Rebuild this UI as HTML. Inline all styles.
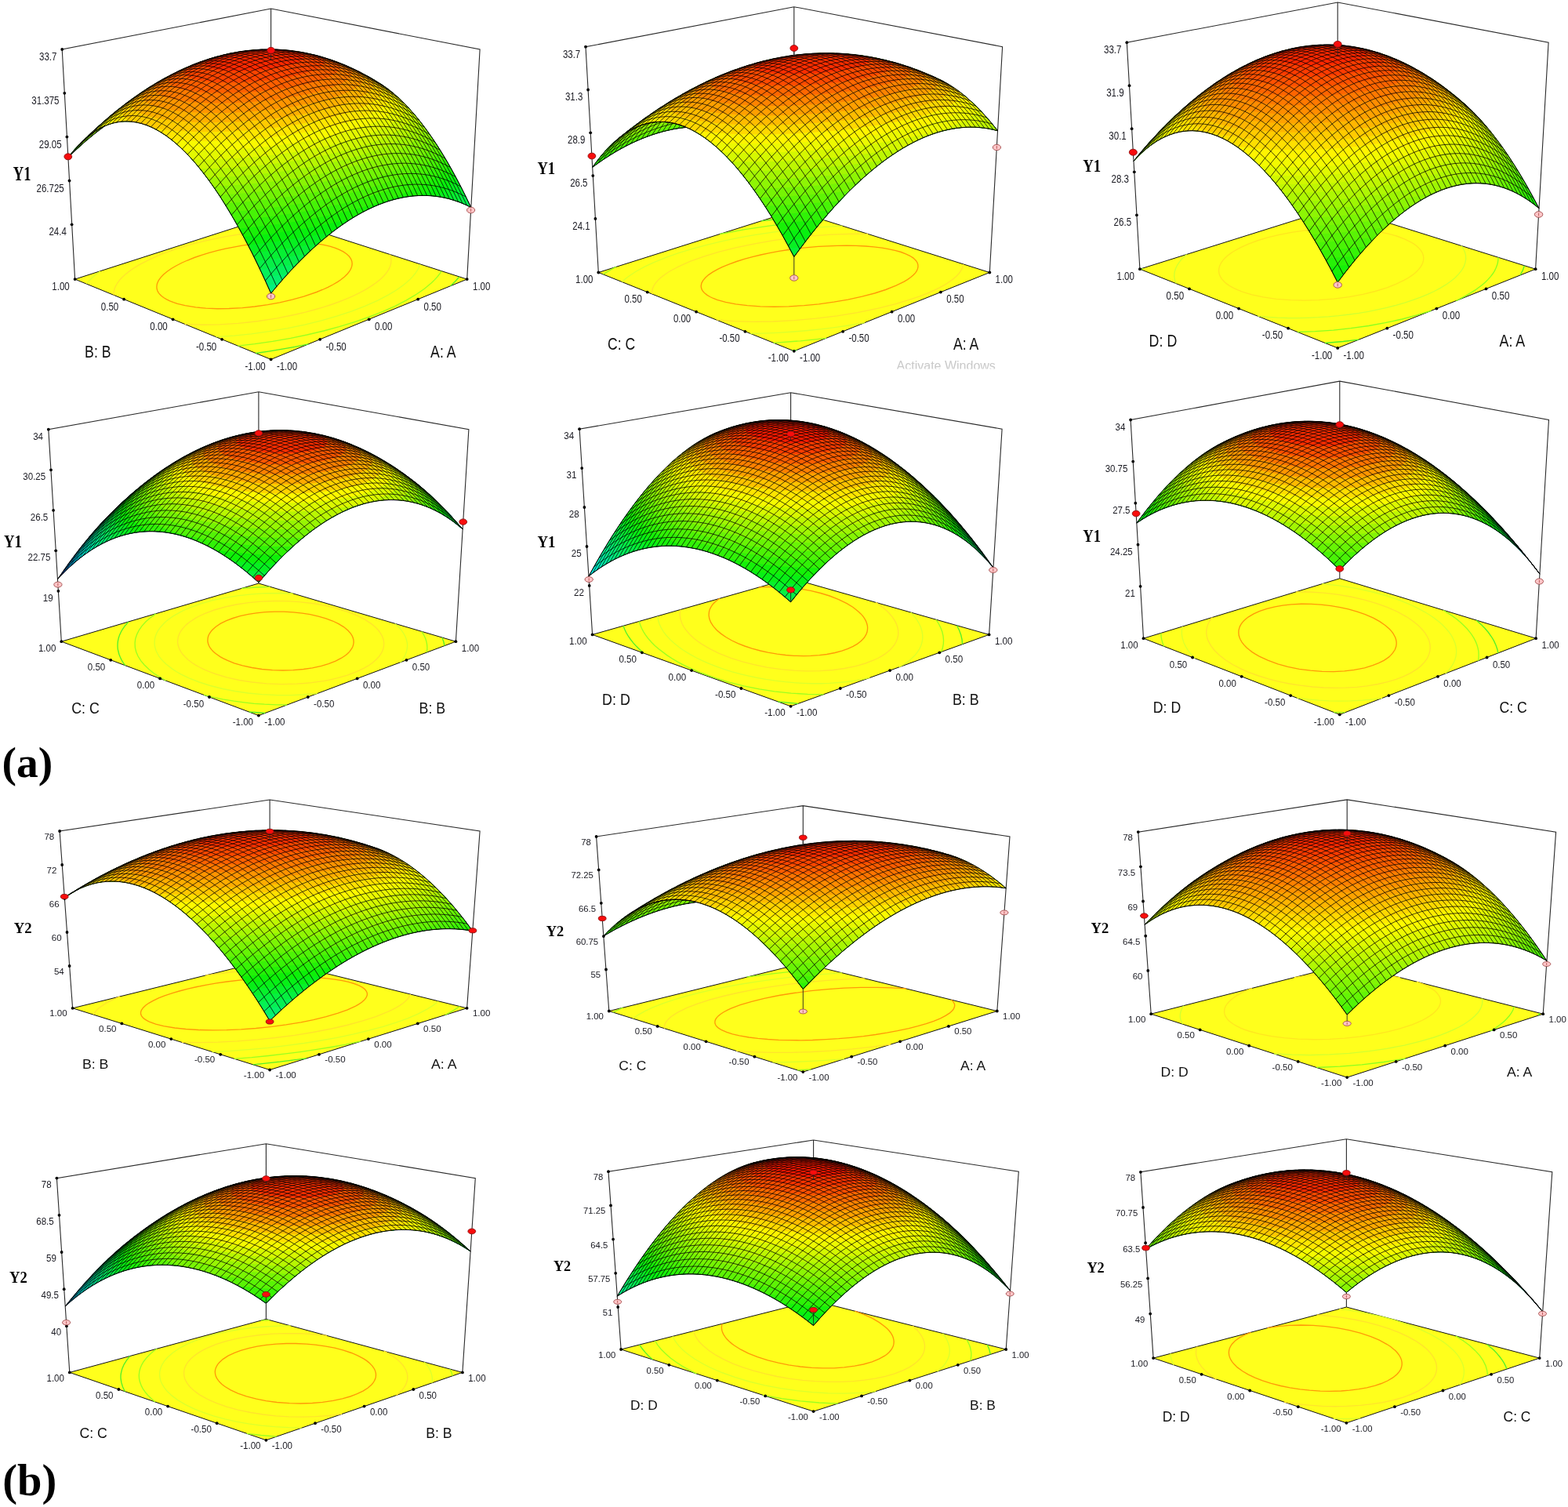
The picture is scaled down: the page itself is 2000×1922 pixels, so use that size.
<!DOCTYPE html>
<html lang="en"><head><meta charset="utf-8"><title>Response surface plots</title>
<style>html,body{margin:0;padding:0;background:#fff}body{width:2000px;height:1922px;overflow:hidden}svg{display:block}</style>
</head><body>
<svg width="2000" height="1922" viewBox="0 0 2000 1922">
<rect width="2000" height="1922" fill="#fff"/>
<g>
<path d="M95.6 356.1l250 102.3 250.1-102.3-250.1-80.4z" fill="#ffff1c" stroke="#111" stroke-width="1"/>
<path d="M387.4 378.2l16.5-5.7 7.4-3 7-3.2 6.4-3.3 5.8-3.4 4.2-2.9 4.7-3.8 4-3.9 2.6-3.3 1.7-3.1 1.1-3.2 0.4-3-0.4-3.2-1.4-3.4-2.2-3-3.3-3.1-4.2-2.8-5-2.5-5.6-2.2-6.3-2-8.9-2-7.9-1.4-8.6-1.1-9.5-0.8-10.4-0.4-10.3-0.1-10.9 0.3-10.1 0.5-11.8 1-13.2 1.5-10.4 1.5-21.1 4-10.7 2.5-10.2 2.7-9.7 3-9.2 3.1-8.7 3.5-6.9 3-7.7 4-6 3.5-5.4 3.7-4.8 4.1-3.6 3.8-2.8 4.1-1.6 3.7-0.5 3.3 0.1 2.5 0.7 2.8 1.5 2.8 1.8 2.3 2 1.9 3 2.3 3.6 2.1 4.1 2 4.6 1.8 5.1 1.7 9.6 2.3 13.6 2.2 13 1.2 14.8 0.6 14.6-0.2 17.2-0.9 15.6-1.6 16.7-2.3 15.3-2.8 16-3.7 14.6-4" fill="none" stroke="#ff9a08" stroke-width="1.35"/>
<path d="M235.7 413.4l22 0.8 22.6-0.4 23.6-1.5 13-1.3 12.8-1.5 23.8-3.7 23.9-4.8 12.2-2.9 11.5-3.1 10.9-3.2 10.4-3.3 9.8-3.5 9.2-3.7 8.7-3.7 8.2-3.9 7.5-4.1 6.9-4.2 6.3-4.3 5.4-4.2 4.4-4.1 3.5-4 3.1-4.5 2.1-4.3 1.1-3.9 0.4-4.3-0.5-3.6-1.4-3.8M399.9 293.2l-21.7-0.3-22.3 0.7-22.5 1.8-22.3 2.6-23 3.7-22.6 4.6-20.5 5.1-19.3 5.8-18.1 6.5-8.5 3.5-8.2 3.7-7.9 3.9-6.2 3.4-5.9 3.6-5.5 3.8-4.4 3.5-4.5 4-3.6 3.7-3.2 4.2-2.2 3.9-1.5 3.6-0.8 4 0 3.9" fill="none" stroke="#ffe42c" stroke-width="1.35"/>
<path d="M275.6 429.7l23.3-1.6 21.7-2.3 22.8-3.1 23.5-4.1 21.8-4.5 21.3-5.3 19.7-5.6 19.1-6.4 17.4-6.7 15.8-7 14.2-7.4 5.8-3.5 6.6-4.3 5-3.6 4.7-3.7 4.4-4 3.8-4 3.1-3.8 2.8-4.1 1.8-3.5 1.6-4.3M365.6 282.2l-27.8 1.9-28.1 3.2M128.1 345.7l-5.2 3.9-5.1 4.4-4.3 4.3-3.3 3.8" fill="none" stroke="#dcff2c" stroke-width="1.35"/>
<path d="M303.3 441.1l21.6-2.5 22.9-3.3 22.9-4 21-4.3 21.2-5 19.8-5.3 19.6-6 17.8-6.2 17.4-6.8 16-7.1 14.5-7.4 11.8-7 11.6-7.9 9-7.5 3.9-3.9 3.6-3.9 3.1-4 2.1-3.3" fill="none" stroke="#9cff20" stroke-width="1.35"/>
<path d="M574.5 364.8l6.5-6.3 4.8-5.5M326.2 450.5l16.5-2.4 17.6-2.9 15.8-2.8 17.4-3.6" fill="none" stroke="#54f02a" stroke-width="1.35"/>
<path d="M95.6 356.1l-16.4-293.1 266.4-52 266.5 52-16.4 293.1M345.6 11l0 264.7" fill="none" stroke="#2a2a2a" stroke-width="1.1"/>

<path d="M345.6 374.1l16.8-19.7 16.7-18 16.4-16.2 17.4-15.4 16-12.6 16.8-11.7 16.6-9.8 16.3-7.9 16-6 15.7-4.2 15.3-2.5 16.1-0.7 14.6 1 15.3 2.9 14.8 4.7 14.4 6.5-13-26.5-13.1-24.3-13.2-22.2-13.2-19.9-13.2-17.7-13.3-15.6-13.2-13.3-13.2-11.1-7.6-5.4-9.2-5.8-20.6-11.3-20.7-9.5-20.9-7.5-19.2-5.3-21-3.9-19.3-1.9-21-0.3-14.5 0.9-14.6 1.8-14.5 2.6-15.2 3.7-15.4 4.7-14.4 5.3-14.4 6.2-14.4 7-14.4 7.8-14.4 8.7-14.6 9.7-14.6 10.6-14.7 11.5-14 11.9-14 12.6-15.4 14.9 6.8-6.3 6.5-5.3 7.5-5.1 6.7-3.7 7.8-3.4 6.9-2.2 7.1-1.4 7.1-0.6 7.2 0.1 7.3 0.9 7.4 1.7 7.5 2.5 7.5 3.3 7.7 4.2 7.7 4.9 7.8 5.8 7.9 6.7 7.9 7.4 14.9 16.1 16.2 20.6 15.3 22.1 16.5 27.1 15.6 28.2 16.8 33.5zM101.9 183.4l7.4-7 8-6.3 8.2-5.3 8-4-11.9 9-11.5 9.5-11.6 10.4-11.6 11.1 7.8-9.7z" fill="#04f080"/>
<path d="M351.9 362.4l4.1-0.6 17.1-19.2 17.7-17.9 16.3-15 17.2-14.1 14.7-10.7 15.6-9.9 14.3-7.7 15.1-6.7 14.8-5.1 15.6-3.8 14.3-1.9 14.9-0.4 14.6 1.3 14.3 2.9 13.9 4.4 14.4 6.5-13-26.5-13.1-24.3-13.2-22.2-14.3-21.5-13.2-17.5-14.4-16.5-13.2-13-14.2-11.5-8.8-5.9-13.2-7.8-12.2-6.4-12.8-6.1-11.7-4.9-12.3-4.5-11.2-3.5-12.8-3.3-11.3-2.3-12.9-2-11.5-1.2-12.7-0.7-12.6 0.1-12.9 0.7-11.6 1.3-12.9 2-11.6 2.5-12.6 3.2-12.9 4-11.9 4.4-12.1 4.9-12.8 6-12.8 6.5-11.6 6.6-12.2 7.5-12.6 8.4-23.6 17.5-25 21-24.7 23.4 6.8-6.3 6.5-5.3 6.6-4.5 6.7-3.9 6.8-3.1 6.9-2.3 7-1.7 6-0.8 7.2-0.2 7.3 0.6 7.3 1.4 6.4 1.8 7.5 2.9 7.6 3.6 7.7 4.5 6.6 4.5 13.5 10.9 12.4 12.1 13.8 15.5 12.8 16.5 9.4 13.3 9.4 14.3 9.5 15.5 9.5 16.6 19.2 36.4 18.3 38.7zM101.9 183.4l7.4-7 8-6.3 8.2-5.3 8-4-11.9 9-11.5 9.5-11.6 10.4-11.6 11.1 7.8-9.7z" fill="#05f06d"/>
<path d="M362.8 350l4.2-0.7 16.8-17.7 16.3-15.7 16.2-14 16-12.2 14.5-9.9 14.4-8.5 14.2-7 13.9-5.7 14.8-4.6 14.4-3 14.2-1.5 13.9 0 13.6 1.5 14.2 3.1 12.9 4.3 13.5 6.1-14.1-28.6-14.2-26.1-14.3-23.5-14.3-20.9-14.3-18.3-14.4-15.7-14.3-13.1-7.7-6-7.6-5.3-11.7-7.1-11.1-6.1-12.2-6-11.4-5.1-11.5-4.5-11.7-4-11.8-3.4-12-2.8-12.2-2.2-11.8-1.6-11.3-0.9-12.9-0.4-11.3 0.2-13 0.9-12.7 1.6-11.5 2-11.7 2.7-12.4 3.3-11.3 3.7-12.8 4.7-11.4 4.8-12.6 5.9-12.1 6.3-11.8 6.8-12.7 7.8-11.6 7.8-12 8.7-12.6 9.6-23.7 20-24.4 23.2 5.9-5.5 6.4-5.4 6.6-4.6 5.7-3.4 6.8-3.4 5.9-2.2 6.9-2 6.1-1 7.1-0.6 6.2 0.2 7.3 0.9 6.3 1.4 7.5 2.4 6.5 2.7 6.5 3.3 6.6 3.9 7.7 5.3 7.9 6.2 7.8 6.9 8 7.9 8 8.6 8.1 9.5 16.3 21.6 16.5 24.9 16.6 28.3 16.8 31.6 16 33.3zM101.9 183.4l7.4-7 8-6.3 8.2-5.3 8-4-11.9 9-11.5 9.5-11.6 10.4-11.6 11.1 7.8-9.7z" fill="#05f05a"/>
<path d="M374.5 337.3l4.4-0.7 14.3-14.2 15.1-13.7 14.9-12.2 14.7-10.8 12.3-8 13.2-7.6 12-5.8 12.9-5.3 11.6-3.8 12.5-3.1 12.2-1.9 12.1-0.8 13.8 0.4 14.4 2 14.1 3.7 13.4 5 4.4-4.4-15.6-30.5-15.3-26.9-15.4-23.9-15.4-20.9-15.5-17.9-7.7-7.8-7.7-7.1-14.2-11.2-17.7-10.9-11.1-6-11.2-5.5-11.2-4.9-11.1-4.4-11.7-4-11.8-3.4-11.9-2.8-11.2-2.1-11.3-1.5-11.3-1-11.3-0.5-11.3 0.1-11.3 0.6-11.3 1.2-12.9 1.9-11.3 2.3-11.3 2.8-11.2 3.3-11.3 3.9-12.5 4.8-22.7 10.6-12.5 6.6-11.4 6.7-23.7 15.5-23.2 17.5-23.7 20.2-23.2 22 11.4-10.1 6.6-4.8 5.7-3.5 6.7-3.4 5.9-2.4 5.9-1.8 6.1-1.2 6.1-0.7 6.1-0.2 6.2 0.5 6.3 1 6.4 1.6 6.4 2.2 6.5 2.8 6.5 3.4 8.8 5.5 7.8 5.7 7.8 6.5 7.9 7.3 8 8.2 8.1 9 16.2 20.6 16.4 23.9 16.6 27.4 16.8 30.7 16 32.3zM101.9 183.4l7.4-7 8-6.3 8.2-5.3 8-4-11.9 9-11.5 9.5-11.6 10.4-11.6 11.1 7.8-9.7z" fill="#06f047"/>
<path d="M387.3 324.3l4.8-0.8 13.8-12.8 12.7-10.6 12.5-9.6 13.5-9.3 10-6.2 11-6 10.9-5.2 10.7-4.4 11.6-3.9 12.5-3.2 12.3-2 12.1-0.9 11.9 0.2 11.6 1.2 11.4 2.3 11.6 3.4 5.6-4.8 4.6-4.6-16.6-31.5-16.5-27.5-16.5-24.2-7.7-10-8.9-10.6-7.7-8.5-7.7-7.7-7.7-7-7.7-6.2-7.6-5.4-9.4-5.9-22-12-20.7-9.4-11.3-4.2-11.2-3.6-21-5.4-11.1-2.1-11.3-1.5-11.3-1-11.3-0.5-11.3 0.1-11.3 0.6-11.3 1.2-11.3 1.6-21.6 4.7-21.9 6.7-22.6 9-22.2 10.9-22.2 12.9-22.1 14.9-22 16.8-21.8 18.6-23.2 22 10.5-9.4 11.3-7.9 5.7-3.1 5.9-2.7 5.9-2 5.9-1.6 6.1-1 6.1-0.4 11.4 0.8 6.3 1.2 6.4 1.8 11.8 4.8 8.8 4.8 7.7 5.1 7.8 5.9 7.9 6.8 7.9 7.5 8 8.5 16.2 19.3 16.3 22.8 16.6 26.1 16.7 29.5 17.1 33.4 29.8-3.8zM101.9 183.4l7.4-7 8-6.3 8.2-5.3 8-4-11.9 9-11.5 9.5-11.6 10.4-11.6 11.1 7.8-9.7z" fill="#07f033"/>
<path d="M401.6 310.9l5.4-1.1 10.5-8.8 11.4-8.8 11.2-8 11.2-7.2 16.5-9.1 17.3-7.7 10.6-3.8 11.5-3.1 10.3-2.1 11.2-1.4 10-0.5 10.8 0.4 10.7 1.3 10.1 2 9.5-7.2 8-7.8-16.4-30.1-8.8-14.6-8.8-13.7-7.7-11.1-8.8-11.8-8.9-10.9-8.8-9.8-7.7-7.8-7.7-7.1-7.7-6.3-8.7-6.3-10.8-6.7-12.4-7-11.2-5.7-11.4-5.2-20.8-8-20.8-6.1-21-4.1-21.1-2.3-20.8-0.4-21 1.4-21 3.2-11.2 2.5-11.3 3.1-20.9 7-22.4 9.5-22.1 11.3-20.9 12.6-20.5 14.2-21.9 17-21.2 18.4-20.7 19.7 10.5-9.4 10.3-7.3 5.8-3.3 5.8-2.7 10.8-3.5 11.2-1.7 11.3 0.2 11.5 2.1 11.8 4.2 8.7 4.2 7.7 4.6 7.7 5.4 7.9 6.3 7.9 7.1 7.9 8 8.1 8.7 8 9.7 16.4 21.8 16.4 25.1 16.7 28.6 16.7 31.8 41.8-5.4zM101.9 183.4l7.4-7 8-6.3 8.2-5.3 8-4-11.9 9-11.5 9.5-11.6 10.4-11.6 11.1 7.8-9.7z" fill="#07f020"/>
<path d="M418.4 296.7l6.2-1.3 20-14.2 18.8-11.1 14.1-6.8 15-5.8 15.7-4.5 16.4-2.8 16.1-0.9 14.9 1 8.6-5.4 7.5-5.3 6.1-5.2 5.2-5.5-9.4-17.1-8.8-14.9-8.8-13.9-8.8-13-8.8-11.9-8.8-11-8.9-10-8.8-8.9-8.8-8.1-8.8-7-7.6-5.4-11-6.7-12.9-7.2-12.2-6-11.8-5.2-12.7-5-19.3-6.1-20.7-4.7-19.6-2.8-20.7-1.1-19.6 0.6-21 2.4-19.3 3.9-20.9 5.8-19.3 7.1-20.8 9.3-20.7 11-20.6 12.7-20.5 14.4-20.4 16-20.2 17.6-20.1 19.2 9.5-8.7 10.4-7.4 10.5-5.7 9.9-3.6 11-2.3 10.2-0.3 11.5 1.4 10.6 3 8.7 3.6 7.6 4 7.7 4.9 7.8 5.7 7.8 6.5 7.9 7.3 8 8.2 8.1 9 16.2 20.6 16.4 23.9 16.6 27.4 17.5 32 26.9-3.1 25.2-3.6 25.2-4.2zM101.9 183.4l7.4-7 8-6.3 8.2-5.3 8-4-11.9 9-11.5 9.5-11.6 10.4-11.6 11.1 7.8-9.7z" fill="#08f00d"/>
<path d="M439.7 281.1l8.3-2.1 11-6.5 12.1-6.2 10.7-4.8 11.8-4.4 10.5-3.1 10.3-2.3 10.2-1.5 10.6-0.8 14.4-7.4 11.8-7.4 9.7-7.6 7-7.2-8.9-15.6-8.8-14.4-8.8-13.4-9.9-13.9-8.8-11.4-8.9-10.3-8.8-9.4-9.9-9.4-8.8-7.2-8.7-6.3-12.3-7.6-13.7-7.6-13.4-6.5-12-5.3-13.6-5-12.7-4.1-17.9-4.4-19.2-3.2-19.4-1.7-19.3-0.1-19.4 1.6-19.4 3-19.3 4.7-19.5 6.2-19 7.5-19.4 9.3-20.5 11.4-19 12.2-18.9 13.5-18.8 15-18.6 16.3-20.1 19.2 11.4-10.1 6.6-4.8 5.7-3.5 6.7-3.4 5.9-2.4 5.9-1.8 6.1-1.2 7.1-0.8 6.1 0 6.3 0.5 6.3 1.1 6.3 1.8 6.5 2.3 6.4 2.8 6.6 3.5 13.2 8.8 13.5 11.3 13.7 13.7 12.6 14.8 14 18.4 14.1 21 14.2 23.4 13.2 23.7 32.5-3.6 33.6-4.9 31.4-5.6zM101.9 183.4l7.4-7 8-6.3 8.2-5.3 8-4-11.9 9-11.5 9.5-11.6 10.4-11.6 11.1 7.8-9.7z" fill="#19f107"/>
<path d="M480.2 259.1l16.6-5.4 15.8-5.9 14.4-6 12.9-6.3 10.7-6.1 9.3-6.3 7.3-6.2 5.7-6.3-9.2-15.5-9.9-15.5-8.8-12.6-9.9-13.1-8.9-10.6-9.9-10.8-8.8-8.5-9.9-8.4-9.8-7.1-13.9-8.6-14.3-7.7-14.4-6.9-12.7-5.3-14.5-5.1-13.8-4.1-13.5-3.1-17.7-2.9-17.8-1.6-19-0.2-18.1 1.2-17.7 2.5-17.7 3.8-17.7 5.1-18.7 6.8-18.2 8-17.6 9-17.4 10.2-19 12.5-17.3 12.8-18.7 15-17.2 15.2-18.5 17.8 11.4-10.1 6.6-4.8 5.7-3.5 5.8-3 5.8-2.4 6-1.9 6-1.4 6-0.8 6.2-0.2 6.2 0.4 6.3 0.9 6.3 1.5 6.4 2.1 11.9 5.4 13.2 8.2 12.3 9.7 13.6 12.9 12.6 14 13.9 17.6 12.9 18.4 14.2 22.4 13.4 23.2 23.3-2.4 23.3-2.8 22.9-3.4 23.1-3.9 23-4.6 21.5-4.8 20-5.2zM101.9 183.4l7.4-7 8-6.3 8.2-5.3 8-4-11.9 9-11.5 9.5-11.6 10.4-11.6 11.1 7.8-9.7z" fill="#2ff207"/>
<path d="M473 250.3l18.3-5.8 15.9-5.8 14.4-6 12.9-6.2 10.7-6 9.3-6.3 7.6-6.5 5.4-6.4-9.3-15-8.8-13.1-8.8-12.2-9.9-12.6-8.9-10.1-8.8-9.1-8.8-8.1-9.9-8-9.4-6.5-14.7-8.8-14-7.3-14.2-6.6-14.3-5.7-12.9-4.3-14.4-4.1-14.5-3-17.7-2.6-17.8-1.2-17.7 0.1-17.8 1.5-17.7 2.7-17.8 4.1-17.7 5.3-17.6 6.6-18.7 8.4-17.8 9.3-17.7 10.6-17.4 11.6-17.3 12.8-17.2 14-17.1 15.1-18.5 17.8 11.4-10.1 11.3-7.8 5.8-3 5.8-2.6 6-1.9 6-1.5 6-0.9 6.1-0.3 11.5 0.9 6.3 1.4 6.4 1.9 11.8 5 13.2 7.8 12.3 9.3 12.4 11.3 12.6 13.4 12.7 15.5 12.8 17.6 13 19.7 13.3 22.3 26.2-2.4 22.6-2.7 21.6-3 23.3-3.9 21.7-4.1 20.4-4.5 20.3-5zM101.9 183.4l7.4-7 8-6.3 8.2-5.3 8-4-11.9 9-11.5 9.5-11.6 10.4-11.6 11.1 7.8-9.7z" fill="#46f306"/>
<path d="M468.7 240.5l18-5.6 15.9-5.7 14.3-6 12.9-6.1 11.2-6.4 8.9-6.3 7.1-6.4 4.8-6-9.1-14-8.8-12.6-8.8-11.5-8.9-10.6-8.8-9.6-8.8-8.7-8.8-7.6-9.8-7.5-13-8.1-14.2-8-12.8-6.3-14.3-6.3-13.8-5.1-13.5-4.1-14.5-3.6-13.9-2.6-16.7-2.1-17.7-0.8-17.8 0.5-17.5 1.8-16.5 2.8-17.6 4.3-17.7 5.5-17.6 6.9-17.6 8-17.5 9.4-17.5 10.5-16.8 11.4-17.9 13.3-17.1 14-17.1 15.3-17 16.3 10.5-9.4 11.3-7.9 5.7-3.1 5.9-2.7 10.8-3.4 6.1-1 6.1-0.5 11.4 0.5 11.6 2.5 11.8 4.5 12 6.5 12.2 8.6 12.3 10.5 12.6 12.7 12.6 14.8 12.8 16.8 13 18.9 11.8 19 22.9-1.8 25-2.7 20.5-2.7 23.3-3.6 22.2-4 22-4.7 20.4-4.9zM101.9 183.4l7.4-7 8-6.3 8.2-5.3 8-4-11.9 9-11.5 9.5-11.6 10.4-11.6 11.1 7.8-9.7z" fill="#5cf305"/>
<path d="M467.8 229.6l17.2-5.4 15.6-5.7 14-5.9 11.7-5.7 10.2-6 8.5-6.1 6.4-6 4.4-6.1-8.6-12.7-8.8-11.9-7.7-9.7-8.9-10.1-8.8-9.1-8.8-8.1-8.8-7.2-8.7-6.2-13.8-8.3-13.9-7.5-14.1-6.7-14.3-5.9-14.2-4.9-14.4-4.2-14.5-3.1-14.5-2.3-16.1-1.5-17.8-0.4-16.1 0.8-17.8 2.2-16.1 3.1-17.7 4.6-16.1 5.4-17.6 7-17.6 8.4-16 8.6-17.4 10.6-17.3 11.9-16.3 12.2-16.6 13.6-17.1 15.3-17 16.3 10.5-9.4 10.3-7.3 10.6-5.6 10.8-3.7 11.1-1.9 11.3 0.1 11.6 2 11.7 3.9 12 5.9 12.1 8 12.4 10.1 11.3 10.9 12.6 14 11.6 14.5 11.7 16.2 12.3 18.9 23.8-1.7 24.6-2.5 23.8-3 22.7-3.4 21.9-3.9 23.4-4.8 21.6-5.1zM101.9 183.4l7.4-7 8-6.3 8.2-5.3 8-4-17.7 13.7-20.7 18.3-4.6 3.4z" fill="#73f405"/>
<path d="M448.7 223.8l19.8-5.6 17.6-5.8 15.8-6 14.8-6.7 12-6.7 9.5-6.6 7-6.8 2.5-3.3 1.7-3.1-7.7-10.7-8.8-11.4-8.9-10.3-8.8-9.4-8.8-8.4-8.8-7.4-8.7-6.4-8.7-5.5-12.8-7.4-14.2-7.3-14-6.3-13.1-5.1-13-4.3-14.3-3.8-14.5-3-13.5-2-17.2-1.4-16.1-0.1-17.4 1-16.5 2.2-16.4 3.3-17.4 4.6-16.6 5.6-17.1 7-16 7.7-17.5 9.5-16.5 10.2-16.7 11.4-16.3 12.2-16.6 13.6-17.1 15.3-17 16.3 9.5-8.7 10.4-7.4 10.5-5.7 10.9-3.9 11-2.1 10.3-0.2 11.5 1.6 10.6 3.2 11.9 5.4 11 6.7 11.1 8.3 11.3 10.1 11.4 11.8 11.5 13.5 11.7 15.2 12.4 18 22.4-1.5 23.6-2 22.6-2.6 21.2-2.9 19.9-3.2 21.4-4 18.7-4zM101.9 183.4l7.4-7 8-6.3 8.2-5.3 8-4-13 9.9-13.3 11.1-6.5 4.3-5.1 4z" fill="#89f504"/>
<path d="M450.8 212l19-5.6 16.9-5.8 15.2-6 12.5-6 10.1-5.9 8.8-6.6 5.9-6.3 2-3.1 1.4-3-8.6-11.2-8.9-10.5-8.8-9.5-8.8-8.5-8.8-7.5-8.7-6.6-9.8-6.2-11.1-6.5-12.7-6.6-12.8-6-13-5.3-14.2-4.9-12.8-3.7-12.9-3-13.8-2.4-13.6-1.6-16.1-0.8-16.2 0.3-16.1 1.4-16.1 2.4-16.1 3.5-16.1 4.6-16.8 6-16.9 7.1-16 7.8-16.4 9.1-16.9 10.6-15.8 10.9-15.7 11.9-17.2 14.2-15.6 13.9-16.8 16.2 9.4-8.6 9.4-6.8 10.6-5.9 9.8-3.7 11-2.4 10.2-0.6 10.4 1.1 10.6 2.7 10.8 4.3 10.9 6 11.1 7.7 10.1 8.4 11.3 10.9 11.5 12.6 11.5 14.4 10.9 14.8 22.4-1.2 25.9-2 22-2.3 24.3-3.2 21.3-3.4 22.8-4.2 20.9-4.6zM101.9 183.4l8.2-7.6 7.2-5.7 8.2-5.3 8-4-12.8 9.7-12.3 7.6-7.1 5.9z" fill="#a0f603"/>
<path d="M439.2 203.7l19.9-5.4 18.5-6 15.5-5.9 13.6-6.3 11.3-6.5 8.6-6.6 3.3-3.4 2.6-3.3 1.6-3 1.1-3.3-7.9-9.5-8.8-9.7-8.8-8.7-8.8-7.8-7.7-6-7.6-5.3-11.7-7.1-12.1-6.6-11.8-5.8-12.7-5.6-12.9-4.9-12.8-4.1-12.8-3.4-12.7-2.7-12.2-1.9-12.4-1.3-15.9-0.7-15.8 0.4-14.9 1.3-16.1 2.4-16.1 3.5-16.1 4.6-16.1 5.7-16 6.7-16 7.7-15.9 8.7-15.9 9.7-15.8 10.7-15.7 11.7-17.1 13.9-17.2 15.2-13.4 13 9.1-7.5 9.5-6.1 9.7-4.7 8.8-2.9 10.1-1.8 9.2-0.2 9.4 1 9.5 2.4 9.7 3.6 9.8 5 9.9 6.4 10.1 7.8 10.1 9.1 10.3 10.5 10.3 11.9 11 14 21.1-0.8 24.2-1.6 21.1-1.9 23.7-2.8 22.1-3.2 21.9-3.7 20.4-4.1z" fill="#b6f702"/>
<path d="M431.2 194.3l21.2-5.6 18.6-5.8 16.4-6.2 13.4-6.2 11.1-6.6 8.2-6.6 3-3.3 2.1-3.1 1.4-3.4 0.5-3.3-8.6-9.4-7.7-7.7-7.7-7-8.8-7-7.6-5.4-11-6.7-11.1-6.2-11.2-5.7-11.4-5.2-11.4-4.6-11.7-4.1-11.8-3.6-11.6-2.9-11.2-2.2-11.3-1.7-12.9-1.3-14.5-0.6-16.2 0.4-15.8 1.4-14.8 2.3-16.1 3.5-15.8 4.5-14.8 5.2-16 6.5-16 7.7-15.9 8.6-15.9 9.6-15.8 10.6-15.7 11.7-17.2 13.8-20.1 17.7-5 5.8 7.8-5.4 8.6-4.8 8.8-3.6 7.9-2.2 9.2-1.2 8.2-0.1 9.4 1.2 8.4 2.2 9.7 3.6 8.7 4.4 8.8 5.5 8.9 6.5 9 7.7 9.1 8.7 9.1 9.8 9.1 10.8 21.1-0.5 23.2-1.2 22.9-1.8 22.2-2.4 22.4-2.9 23.8-3.8 20.7-4z" fill="#cdf802"/>
<path d="M426 184.1l21.7-5.6 18.5-5.8 16.1-6.1 13.7-6.6 10.5-6.5 4-3.3 3.1-3.2 2.4-3.2 1.6-3.3 0.6-3.1-0.2-3.2-7.2-7.1-7.7-7-7.7-6.2-7.6-5.4-10.8-6.7-11.1-6.3-11.1-5.7-11.2-5.2-21.7-8.5-21.5-6.3-21-4.1-11.2-1.5-11.3-0.9-14.6-0.4-15.7 0.6-14.9 1.5-14.6 2.3-14.4 3.2-16.1 4.6-14.5 5.1-16 6.5-16 7.7-15.9 8.6-15.9 9.6-15.8 10.6-19.4 14.5-19.8 16.3-7.2 6.8-2.1 2.9-1.5 2.9 7.4-4.1 6.8-3.1 7.9-2.5 7.1-1.4 8.1-0.7 7.2 0.3 7.4 1 7.4 1.8 8.5 3.1 7.6 3.5 7.7 4.4 7.7 5.2 7.8 6 7.9 6.9 8 7.7 8.4 9 21-0.1 24.5-1 21.8-1.4 24.9-2.3 24.2-3 21.4-3.2 22.3-4.1z" fill="#e3f901"/>
<path d="M424 173.1l20.8-5.5 18-5.8 15.6-6.1 13-6.6 9.1-6.3 3.6-3.4 2.5-3.3 1.6-3.1 0.7-3.1-0.2-2.8-1.2-3.1-7.7-6.6-7.6-5.9-16.5-10.5-20.9-11.2-21.3-9.4-20.4-7.1-20.8-5.3-19.3-3.2-20.9-1.8-14.6 0-14.5 0.7-14.5 1.7-14.6 2.6-14.5 3.4-14.4 4.2-14.5 5.2-14.6 6-17.4 8.4-15.9 8.7-16.5 10.2-16.7 11.4-16.3 12.2-14.5 11.9-2.8 3.1-2 2.8-1.2 3-0.5 2.8 12.5-4.4 6.1-1.2 6.1-0.7 6.1-0.2 6.2 0.5 6.3 1 6.4 1.6 6.4 2.2 6.5 2.8 13.1 7.4 13.3 9.8 12.8 11.6 23.9 0.3 22.9-0.4 26-1.4 23.9-2 23.6-2.7 24-3.4 23.6-4.2z" fill="#f9fa00"/>
<path d="M429.9 159.8l17.8-5 14.9-5.3 12.9-5.5 10.3-5.7 7.4-5.8 2.6-2.8 1.8-2.8 1-2.6 0.3-2.9-0.5-2.7-1.3-2.4-2.7-3.1-6.6-4.7-20.3-12.1-19.7-9.9-20.1-8.3-19.3-6.2-19.3-4.6-19.3-3-19.4-1.4-14.2 0-13.2 0.7-12.9 1.5-14.6 2.4-14.5 3.4-14.1 4-13.7 4.7-13.8 5.6-16.1 7.4-15.9 8.5-15.9 9.4-15.8 10.4-15.2 11-11.3 9-2.5 2.6-2 3-1.1 2.5-0.4 2.8 0.4 2.6 1 2.4 10.1-1.8 10.3-0.2 10.4 1.4 10.6 3 8.7 3.6 7.6 4 8.8 5.6 8.5 6.4 22.4 1.1 22.7 0.2 23.3-0.6 27.1-1.6 24.6-2.2 25.5-3.2 23.2-3.8 22.3-4.4z" fill="#ffe600"/>
<path d="M421.4 150.1l16.4-4.5 15.2-5.1 12.2-5.1 9.9-5.2 7.4-5.5 2.5-2.6 1.8-2.5 1-2.6 0.4-2.3-0.4-2.7-1-2.2-2.3-2.9-3.5-2.7-19.2-10.9-19.7-9.4-19.3-7.4-18.6-5.7-18.1-4-17.9-2.6-17.8-1.2-12.9 0-12.9 0.6-12.9 1.4-12.9 2-12.9 2.8-12.9 3.4-12.9 4.1-14.4 5.4-14.4 6.2-16 7.9-14.8 8.3-15.4 9.6-14.2 9.6-9.9 7.6-2.8 2.9-1.7 2.4-1 2.4-0.4 2.4 0.6 3.3 2 3.3 3.3 3 4.5 2.8 1.3 0.7 7.6 1 7.4 1.8 6.4 2.2 7.4 3.3 23.2 3 28.4 1.7 20.3 0.2 23.1-0.5 23.3-1.3 21.5-1.9 23.8-2.8 22-3.4 21.3-4z" fill="#ffcb00"/>
<path d="M403.2 142.3l17.7-4.2 15.4-4.5 13.4-4.9 11.2-5.2 8.3-5.2 2.8-2.4 2.4-2.7 1.5-2.6 0.7-2.4-0.1-2.5-0.8-2.2-2.4-3.1-4.2-3.2-21.3-10.7-21.7-8.9-11.3-3.7-11.2-3.2-20.6-4.4-19.7-2.6-21-0.8-20.9 1-21 2.8-21 4.7-20.9 6.4-22.4 8.9-14.3 6.8-12.8 6.8-12.8 7.4-13.8 8.7-6.9 4.8-4.1 3.7-2.5 3.5-1.1 3.6 0.3 2.3 0.8 2.1 3.6 4 6.4 3.9 8.9 3.4 11.2 2.9 13.6 2.3 16 1.8 16.6 1.1 19 0.5 19.3-0.2 19.3-0.7 22.3-1.6 21.2-2.1 20-2.7 18.2-2.9z" fill="#ffb000"/>
<path d="M395 131.9l16.9-3.9 14.4-4.1 12.6-4.4 9.8-4.4 7.9-4.8 5-4.5 1.5-2.4 0.7-2.3 0-2.4-0.7-2-2.4-3.1-3.7-2.7-17.8-8.2-21.2-7.8-20.8-5.8-17.8-3.4-19.3-2.2-19.4-0.6-19.3 1-19.4 2.5-19.3 4.1-19.3 5.7-20.9 7.8-12.8 5.7-12.8 6.3-12.8 7-12.8 7.7-4 2.9-3.1 3-1.9 3.1-0.6 2.8 0.2 2 0.9 1.9 1.3 1.8 2.4 2 6 3.4 8.2 3 10.2 2.5 12.3 2 14.4 1.6 14.7 0.9 16.8 0.5 16.7-0.1 19-0.7 18.9-1.3 18.4-1.8 18.6-2.3 16.9-2.7z" fill="#ff9500"/>
<path d="M398.8 118.5l12.7-3.3 10.5-3.3 10-3.9 7.2-3.6 5.4-3.5 3.8-4.1 1.4-3.6-0.2-1.9-0.6-1.6-2.2-2.6-3.2-2.3-13-5.5-20.5-6.9-19.4-4.7-16.8-2.8-17-1.6-17.8-0.4-17.7 1-17.8 2.3-17.7 3.6-19 5.2-18 6.4-20.8 9-21.7 11.3-3.9 2.7-3.1 2.9-1.7 2.7-0.7 2.7 0.3 1.9 1 1.9 3.5 3.3 5.6 2.9 8.5 2.8 9.4 2.1 12.8 1.9 13.3 1.2 15.4 0.8 15.5 0.1 17.8-0.4 17.7-0.9 17.4-1.5 16.9-1.9 16.4-2.4 15.8-2.8z" fill="#ff7a00"/>
<path d="M382.8 109.1l12.4-2.9 10.1-2.9 8.9-3.1 8.4-3.6 5.9-3.6 3.4-3.2 1.6-3.3 0.1-1.5-0.5-1.6-1.2-1.6-2.3-2-6.9-3.4-19.1-5.7-19.3-4.2-14.5-2.1-16.2-1.3-14.5-0.2-16.1 0.8-16.2 2-16.3 3-16.8 4.3-16.8 5.4-17.6 6.9-16.1 7.6-3.7 2.4-2.9 2.6-1.6 2.3-0.6 2.2 0.7 2.8 2.8 3 4.5 2.5 7.2 2.5 8 1.9 9.5 1.5 11.1 1.2 12.9 0.7 27 0.1 29.9-1.7 28.7-3.2z" fill="#ff5f00"/>
<path d="M364.3 99.2l21.2-4.7 9.6-2.9 7.4-2.8 6-3.1 3.8-3.1 1.8-2.9-0.3-2.7-1.2-1.7-2-1.5-6.5-2.9-12-2.9-14.3-2.6-13.2-1.6-14.2-0.8-12.9 0-14.2 0.7-13.2 1.5-14.6 2.4-14.5 3.4-14.4 4.1-15.6 5.5-8.2 3.6-5.7 4-1.6 2.1-0.5 1.7 0.5 2.3 2.3 2.5 3.1 1.8 5.1 1.9 12.9 2.7 17.7 1.7 20.9 0.4 22.1-0.8 21.5-1.9z" fill="#ff4400"/>
<path d="M355.1 86.1l15.1-3.4 10.4-3.6 3.5-1.8 3-2.2 1.4-2.1-0.1-1.9-2.1-2.2-4.3-2-6-1.5-7.7-1.2-11.2-0.9-11.3-0.4-11.5 0.1-11 0.7-11.6 1.3-11.3 1.7-21 4.7-7.1 2.4-5.9 2.7-3.2 2.4-1 1.3-0.4 1.4 0.3 1.4 1.4 1.6 2.5 1.4 3.4 1.3 9.3 1.9 12.7 1.2 14.5 0.3 16.3-0.6 17.4-1.7z" fill="#ff2900"/>
<path d="M345.6 374.1c-44.9-101.6-89.3-168.3-130.7-198.8c-41-30.5-78.9-25.9-112.1 7.2M101.7 183.6c-5 5.1-10 10.9-14.8 17.2M345.6 374.1c96.7-118.1 184.3-146.6 255.2-109.6M352.9 365.4c-44.4-100.1-88.4-166.2-129.4-196.8c-40.6-30.6-78.3-26.9-111.5 4.9M106.6 179c-4.3 4.5-8.6 9.6-12.8 15M338.4 358c96.9-117.4 184.7-144.9 255.9-107M360 357.1c-43.7-98.7-87.2-164.1-127.9-194.9c-40.2-30.7-77.7-27.8-110.8 2.6M111.4 174.7c-3.6 4-7.1 8.3-10.6 12.8M331.2 342.5c97-116.6 185-143.3 256.6-104.5M367.2 349.1c-43.2-97.3-86.2-162-126.5-192.9c-39.9-30.8-77.1-28.8-110.2 .3M115.2 172.1c-2.5 2.9-5 6-7.4 9.2M324 327.7c97.1-116 185.4-141.8 257.2-102.1M374.3 341.4c-42.6-95.9-85.1-159.9-125-190.9c-39.5-30.9-76.5-29.7-109.5-2M120 168.7c-1.8 2.2-3.5 4.4-5.3 6.7M316.8 313.4c97.2-115.2 185.7-140.2 257.9-99.7M381.4 334c-42.1-94.4-84-157.8-123.6-188.9c-39.1-31-75.8-30.6-108.8-4.2M124.8 165.7c-1.1 1.3-2.1 2.7-3.2 4.1M309.6 299.7c97.3-114.5 186.1-138.6 258.5-97.4M388.5 327c-41.1-92-82.1-154.3-120.8-185.9c-38.8-31.7-75.4-32.9-108.2-8.3M302.4 286.7c97.5-113.8 186.4-137.2 259.1-95.2M395.5 320.2c-40.5-90.5-81-152.2-119.3-183.8c-38.4-31.8-74.7-33.8-107.4-10.5M295.3 274.2c97.5-113 186.7-135.6 259.6-92.9M402.5 313.8c-40-89.1-79.9-150.1-117.9-181.8c-38-31.9-73.9-34.6-106.6-12.6M288.1 262.4c97.7-112.3 187-134.2 260.2-90.8M409.4 307.7c-39.4-87.7-78.8-148-116.3-179.8c-37.6-31.9-73.3-35.4-105.8-14.7M281.1 251.2c97.6-111.6 187.1-132.8 260.6-88.7M416.3 301.9c-38.8-86.3-77.7-145.9-114.9-177.7c-37.1-32-72.5-36.2-104.8-16.8M274 240.6c97.7-110.9 187.4-131.4 261.1-86.7M423.2 296.5c-38.3-85-76.7-143.9-113.4-175.7c-36.7-32-71.8-37-103.9-18.8M267 230.7c97.7-110.3 187.5-130.1 261.4-84.9M430 291.3c-37.7-83.6-75.6-141.8-111.9-173.7c-35.8-31.6-70.1-37.6-101.7-21.3M260 221.3c97.7-109.5 187.7-128.7 261.8-83M436.8 286.5c-37.2-82.3-74.5-139.8-110.4-171.7c-35.4-31.6-69.4-38.3-100.8-23.2M253 212.6c97.8-108.8 187.9-127.4 262.2-81.2M443.5 281.9c-36.6-80.8-73.4-137.7-108.8-169.5c-35-31.7-68.7-39-99.8-25.1M246.1 204.5c97.8-108.2 188-126.1 262.5-79.5M450.2 277.7c-36-79.5-72.3-135.6-107.3-167.5c-34.6-31.6-67.8-39.6-98.8-26.9M239.2 197.1c97.8-107.6 188.1-125 262.8-77.9M456.8 273.8c-35-77.1-70.2-132.2-104.4-164.2c-34.1-32.2-67.1-41.4-97.8-30.4M232.4 190.2c97.7-106.8 188.1-123.7 263-76.3M463.4 270.1c-34.4-75.7-69.1-130-102.8-162c-33.7-32.2-66.3-42-96.8-32.1M225.6 184c97.7-106.2 188.1-122.6 263.3-74.8M470 266.8c-33.9-74.4-68.1-128-101.3-160c-33.3-32-65.5-42.5-95.7-33.6M218.9 178.3c95.6-103.3 184.5-120.8 258.9-76.1M476.5 263.8c-33.4-73.1-67-126-99.8-157.9c-32.3-31.5-63.7-42.7-93.3-35.5M212.2 173.3c91.2-97.9 176.4-118.1 248.6-80.5M482.9 261c-32.8-71.7-65.9-123.9-98.2-155.7c-31.8-31.5-62.8-43.2-92.1-37.1M205.6 168.9c87.1-93.1 169-115.3 239.3-83.7M489.3 258.6c-63.6-139.5-128.3-202.2-186.3-192.3M199 165.1c82.7-87.9 160.8-112.1 228.7-86.9M495.7 256.4c-62.5-136.8-126.3-199.4-183.6-191.5M192.5 161.9c77.7-82.1 151.5-108.2 216.5-89.8M502 254.6c-61-133.2-123.2-195.7-179.6-190.8M186 159.3c73.3-77 143.1-104.4 205.4-91.5M508.2 253c-59.8-130.5-121-192.9-176.7-189.8M179.6 157.3c68.8-71.9 134.7-100.3 194.1-92.4M514.4 251.7c-58.3-126.9-118-189.1-172.6-188.8M173.3 155.9c63.8-66.5 125.2-95.5 181.3-92.7M520.6 250.7c-57.2-124.3-115.9-186.3-169.8-187.7M167 155.1c58.9-61.1 115.8-90.3 168.3-92.1M526.7 250c-55.7-120.8-112.8-182.5-165.7-186.4M160.8 154.8c54-55.7 106.3-84.8 155.2-90.4M532.7 249.5c-54.6-118.2-110.7-179.5-162.8-185.1M154.7 155.1c49.1-50.4 96.8-78.9 141.8-87.6M538.7 249.3c-53.1-114.7-107.6-175.6-158.6-183.5M148.7 156c44.1-45.2 87.2-72.7 128.2-83.9M544.6 249.4c-51.5-111.3-104.6-171.7-154.4-181.8M142.7 157.5c38.7-39.6 76.8-65.5 113.2-78.8M550.5 249.8c-50.5-108.8-102.5-168.8-151.5-180.3M136.7 159.4c33.5-33.9 66.4-57.8 98.2-72.1M556.3 250.4c-49-105.4-99.4-164.7-147.3-178.3M130.9 162c28.1-28.5 55.8-49.8 82.9-64.3M562.1 251.3c-47.5-102-96.5-160.7-143.1-176.1M125.1 165c22.8-23 45.4-41.3 67.6-55.1M567.8 252.4c-46.5-99.6-94.4-157.7-140.1-174.2M119.4 168.6c17.1-17.1 34-31.7 50.8-43.7M573.4 253.8c-45-96.2-91.3-153.6-135.8-171.8M113.8 172.8c11.8-11.9 23.6-22.5 35.2-31.9M579 255.5c-43.5-93-88.3-149.5-131.6-169.2M108.3 177.4c6.1-6.2 12.2-12 18.3-17.4M584.6 257.4c-42.1-89.7-85.4-145.3-127.4-166.4M590 259.5c-40.5-86.4-82.4-141.1-123.1-163.4M97.4 188.1c4.7-4.6 9.4-9.1 14-13.4M595.5 261.9c-39.2-83.2-79.5-136.9-118.9-160.3M92.1 194.2c9.8-9.7 19.6-18.6 29.3-26.6M600.8 264.5c-37.7-80-76.5-132.6-114.6-157M86.9 200.8c15.3-15.2 30.6-28.3 45.7-39.4" fill="none" stroke="#000" stroke-width="0.92" stroke-opacity="0.82"/>
<path d="M345.6 374.1l8.5-10.1 8.3-9.6 8.4-9.2 8.3-8.8 8.2-8.3 8.2-7.9 8.1-7.4 9.3-8 8-6.5 8-6.1 7.9-5.7 8.9-6 7.8-4.8 8.8-5 7.7-3.9 8.6-4 7.5-3 8.5-3 7.4-2.2 8.3-2 7.2-1.4 8.1-1.1 8.1-0.6 8-0.1 6.8 0.2 7.8 0.8 7.7 1.2 7.6 1.7 7.4 2.2 7.4 2.5 7.3 3 7.1 3.5-6.5-13.5-6.5-13-6.6-12.4-6.5-11.9-6.6-11.4-6.6-10.8-6.6-10.2-6.6-9.7-6.6-9.1-6.6-8.6-6.7-8.1-6.6-7.5-6.6-6.9-6.6-6.4-6.6-5.8-6.6-5.3-7.6-5.4-9.2-5.8-9.5-5.5-11.1-5.8-10.2-4.9-10.5-4.6-9.6-3.7-11.3-3.8-9.6-2.9-9.6-2.4-11.1-2.3-9.9-1.6-9.7-1.2-9.6-0.7-11.1-0.4-9.9 0.1-14.5 0.9-14.6 1.8-14.5 2.6-15.2 3.7-15.4 4.7-14.4 5.3-14.4 6.2-14.4 7-14.4 7.8-14.4 8.7-14.6 9.7-14.6 10.6-14.7 11.5-14 11.9-14 12.6-15.4 14.9 6.8-6.3 6.5-5.3 7.5-5.1 6.7-3.7 7.8-3.4 6.9-2.2 7.1-1.4 7.1-0.6 7.2 0.1 7.3 0.9 7.4 1.7 7.5 2.5 7.5 3.3 7.7 4.2 7.7 4.9 7.8 5.8 7.9 6.7 7.9 7.4 8 8.3 6.9 7.8 8.1 9.9 8.1 10.7 8.2 11.5 7.1 10.6 8.2 13.2 8.3 13.9 8.4 14.8 7.2 13.4 8.4 16.3 8.4 17.2 8.4 18zM101.9 183.4l7.4-7 8-6.3 4.4-2.9 3.8-2.4 3.9-2.1 4.1-1.9-11.9 9-11.5 9.5-11.6 10.4-11.6 11.1 7.8-9.7z" fill="none" stroke="#000" stroke-width="1.0" stroke-opacity="0.88"/>
<g fill="#000"><circle cx="79.2" cy="63.0" r="1.9"/><circle cx="82.3" cy="118.8" r="1.9"/><circle cx="85.4" cy="174.6" r="1.9"/><circle cx="88.5" cy="230.5" r="1.9"/><circle cx="91.6" cy="286.3" r="1.9"/><circle cx="95.6" cy="356.1" r="1.9"/><circle cx="158.1" cy="381.7" r="1.9"/><circle cx="220.6" cy="407.3" r="1.9"/><circle cx="283.1" cy="432.8" r="1.9"/><circle cx="345.6" cy="458.4" r="1.9"/><circle cx="408.2" cy="432.8" r="1.9"/><circle cx="470.7" cy="407.3" r="1.9"/><circle cx="533.2" cy="381.7" r="1.9"/><circle cx="595.7" cy="356.1" r="1.9"/></g>
<g font-family="'Liberation Sans',Arial,sans-serif" font-size="14.2" fill="#1a1a22"><text transform="translate(72.4 77.1) scale(0.810 1)" text-anchor="end">33.7</text><text transform="translate(75.5 132.9) scale(0.810 1)" text-anchor="end">31.375</text><text transform="translate(78.6 188.7) scale(0.810 1)" text-anchor="end">29.05</text><text transform="translate(81.7 244.6) scale(0.810 1)" text-anchor="end">26.725</text><text transform="translate(84.8 300.4) scale(0.810 1)" text-anchor="end">24.4</text><text transform="translate(88.7 370.0) scale(0.810 1)" text-anchor="end">1.00</text><text transform="translate(151.2 395.5) scale(0.810 1)" text-anchor="end">0.50</text><text transform="translate(213.7 421.1) scale(0.810 1)" text-anchor="end">0.00</text><text transform="translate(276.2 446.6) scale(0.810 1)" text-anchor="end">-0.50</text><text transform="translate(338.7 472.2) scale(0.810 1)" text-anchor="end">-1.00</text><text transform="translate(352.9 472.2) scale(0.810 1)">-1.00</text><text transform="translate(415.5 446.6) scale(0.810 1)">-0.50</text><text transform="translate(478.0 421.1) scale(0.810 1)">0.00</text><text transform="translate(540.5 395.5) scale(0.810 1)">0.50</text><text transform="translate(603.0 370.0) scale(0.810 1)">1.00</text></g>
<g font-family="'Liberation Sans',Arial,sans-serif" font-size="21.82" fill="#111"><text transform="translate(108.1 456.4) scale(0.810 1)">B: B</text><text transform="translate(549.1 456.4) scale(0.810 1)">A: A</text></g>
<text transform="translate(16.8 229.6) scale(0.760 1)" font-family="'Liberation Serif','Times New Roman',serif" font-weight="bold" font-size="24.47" fill="#000">Y1</text>
<ellipse cx="86.8" cy="199.8" rx="4.9" ry="4.0" fill="#f80d0d" stroke="#8c1010" stroke-width="0.9"/>
<ellipse cx="600.6" cy="268.0" rx="5.1" ry="3.8" fill="#ffc6c8" stroke="#a04848" stroke-width="0.9"/><path d="M600.6 266.1v3.8" stroke="#b05050" stroke-width="0.9"/>
<path d="M345.6 378.0L345.6 374.1" stroke="#222" stroke-width="0.9"/>
<ellipse cx="345.6" cy="378.0" rx="5.1" ry="3.8" fill="#ffc6c8" stroke="#a04848" stroke-width="0.9"/><path d="M345.6 376.1v3.8" stroke="#b05050" stroke-width="0.9"/>
<path d="M345.6 64.3L345.6 76.2" stroke="#222" stroke-width="0.9"/>
<ellipse cx="345.6" cy="64.3" rx="4.9" ry="4.0" fill="#f80d0d" stroke="#8c1010" stroke-width="0.9"/>
</g>
<g>
<path d="M763.3 347.5l249.5 100.3 249.5-100.3-249.5-78.9z" fill="#ffff1c" stroke="#111" stroke-width="1"/>
<path d="M1115.6 374l14-4.5 13.4-5.3 10.3-5.1 4.5-2.7 4-2.9 3.5-3 2.2-2.4 1.7-2.5 1.2-2.7 0.6-2.8-0.2-2.8-0.9-2.6-1.5-2.3-3.4-3.3-4.4-2.8-5.3-2.5-6-2.3-6.8-1.9-9.3-2-8.1-1.4-10.6-1.3-10.1-0.9-12.4-0.6-12-0.3-12.2 0.2-24.1 1.1-24.7 2.3-13.2 1.8-12.3 1.9-11.8 2.2-11.3 2.4-10.8 2.6-10.3 2.8-9.8 3.1-9.2 3.3-8.7 3.6-6.6 3.2-6.2 3.5-5.1 3.5-4.1 3.6-3 3.7-1.7 3.2-0.7 3.5 0.2 2.2 1 2.9 1.2 1.8 2.4 2.6 3 2.3 3.6 2.1 4.2 2 4.8 1.8 10.9 3.1 12.9 2.4 14.7 1.9 16.7 1.1 17.7 0.4 18.6-0.4 19.6-1.2 18.7-1.8 19.2-2.6 17.9-3.1 18.1-3.9 16-4.2" fill="none" stroke="#ff9a08" stroke-width="1.35"/>
<path d="M913.6 407.9l21.9 1.7 25.1 0.7 25.7-0.3 26.9-1.4 27.4-2.4 27.2-3.4 25.9-4.2 25.5-5.2 23.2-5.8 21-6.4 9.7-3.4 9.1-3.5 8.4-3.7 7.9-3.8 7.2-4 5.4-3.5 4.8-3.5 4.6-4.1 3.4-3.8 2.5-3.9 1.6-3.8 0.6-3.4M1107.2 298.4l-22.7 0-24.3 0.8-24.2 1.7-24.7 2.5-24.8 3.3-23.9 4.1-24.2 5.1-21 5.3-19.7 5.9-16.9 6.1-8.6 3.7-6.9 3.2-6.5 3.4-6.2 3.5-5.4 3.7-4.6 3.6-3.5 3.3-3.2 3.7-2 3.2-1.6 3.8-0.6 3.4 0.1 3.3" fill="none" stroke="#ffe42c" stroke-width="1.35"/>
<path d="M957.3 425.5l16.3-0.4 18.6-0.8 20.5-1.3 17.6-1.5 18.3-1.9 18-2.3 18.8-2.8 17.6-2.9M1074.6 288.1l-22.2 1.2-23.1 1.8-22.8 2.3-22.2 2.9-22 3.3-21.1 3.8-20.2 4.2-19.5 4.7-18.7 5-17.9 5.6-15.5 5.4-14.7 6-12.5 5.8-11.5 6.4-9.3 6.2-4.2 3.3-3.9 3.5" fill="none" stroke="#dcff2c" stroke-width="1.35"/>
<path d="M986.5 437.3l34.4-2.5 33-3.5M1051.6 280.8l-33.8 2.9-33.7 3.9-33.9 5-31.9 5.9M785.7 340.4l-8.7 4.7-7.7 4.8" fill="none" stroke="#9cff20" stroke-width="1.35"/>
<path d="M1010.5 446.9l5.9-0.5M1033 274.9l-30.2 3-31.9 3.9" fill="none" stroke="#54f02a" stroke-width="1.35"/>
<path d="M763.3 347.5l-16.3-287.8 265.8-51 265.8 51-16.3 287.8M1012.8 8.7l0 259.9" fill="none" stroke="#2a2a2a" stroke-width="1.1"/>

<path d="M1012.8 327.5l16.9-22.5 18-22.3 16.6-19 17.5-18.5 16.2-15.6 17.1-14.8 16.8-12.9 16.6-11 16.3-9.2 15.9-7.4 15.7-5.6 15.4-3.8 15-2.2 15.6-0.5 15.3 1.4 14.9 3.2-10.4-12.8-10.3-11.6-10.4-10.4-10.3-9.2-10.4-8.1-10.3-6.8-10.3-5.7-12.3-5.7-16.9-7-17.7-6.2-18.1-5.2-17.1-4-17.1-3-17.2-2.1-17.2-1.1-19-0.1-15.5 0.7-16.9 1.6-15.9 2.3-16.9 3.4-15.8 3.9-17.2 5.2-16 5.5-15.5 6.2-15.7 7-16.1 8-15.5 8.4-16.8 9.9-15.3 9.8-16.7 11.5-16.7 12.4-16.7 13.2 6-4.5 6.7-4.5 6.7-3.8 6.9-3.1 7-2.4 6-1.5 7.2-1.2 6.2-0.4 7.3 0.2 6.3 0.8 7.5 1.5 6.5 2 7.6 2.9 6.6 3.1 13.4 8 14.7 11.2 13.8 12.7 15.1 16.4 14.1 17.6 15.4 21.6 14.4 22.4 14.5 24.7zM787.8 177.3l10.6-7.8 10.8-6.1 10.8-4.4 10.6-2.6 10.9-1 11 0.6 11.2 2.3 11.6 4.1-14.6 2-15.6 3.5-14.6 4.5-14.7 5.7-14.9 6.9-14.9 8.1-15.1 9.5-15.2 10.7 7.8-10.5 7.9-9.5 8.1-8.5z" fill="#03f09c"/>
<path d="M1012.8 327.5l16.9-22.5 18-22.3 16.6-19 17.5-18.5 16.2-15.6 17.1-14.8 16.8-12.9 16.6-11 16.3-9.2 15.9-7.4 15.7-5.6 15.4-3.8 15-2.2 15.6-0.5 15.3 1.4 14.9 3.2-10.4-12.8-10.3-11.6-10.4-10.4-10.3-9.2-10.4-8.1-10.3-6.8-10.3-5.7-12.3-5.7-16.9-7-17.7-6.2-18.1-5.2-17.1-4-17.1-3-17.2-2.1-17.2-1.1-19-0.1-15.5 0.7-16.9 1.6-15.9 2.3-16.9 3.4-15.8 3.9-17.2 5.2-16 5.5-15.5 6.2-15.7 7-16.1 8-15.5 8.4-16.8 9.9-15.3 9.8-16.7 11.5-16.7 12.4-16.7 13.2 6-4.5 6.7-4.5 6.7-3.8 6.9-3.1 7-2.4 6-1.5 7.2-1.2 6.2-0.4 7.3 0.2 6.3 0.8 7.5 1.5 6.5 2 7.6 2.9 6.6 3.1 13.4 8 14.7 11.2 13.8 12.7 15.1 16.4 14.1 17.6 15.4 21.6 14.4 22.4 14.5 24.7zM787.8 177.3l10.6-7.8 10.8-6.1 10.8-4.4 10.6-2.6 10.9-1 11 0.6 11.2 2.3 11.6 4.1-14.6 2-15.6 3.5-14.6 4.5-14.7 5.7-14.9 6.9-14.9 8.1-15.1 9.5-15.2 10.7 7.8-10.5 7.9-9.5 8.1-8.5z" fill="#04f088"/>
<path d="M1012.8 327.5l16.9-22.5 18-22.3 16.6-19 17.5-18.5 16.2-15.6 17.1-14.8 16.8-12.9 16.6-11 16.3-9.2 15.9-7.4 15.7-5.6 15.4-3.8 15-2.2 15.6-0.5 15.3 1.4 14.9 3.2-10.4-12.8-10.3-11.6-10.4-10.4-10.3-9.2-10.4-8.1-10.3-6.8-10.3-5.7-12.3-5.7-16.9-7-17.7-6.2-18.1-5.2-17.1-4-17.1-3-17.2-2.1-17.2-1.1-19-0.1-15.5 0.7-16.9 1.6-15.9 2.3-16.9 3.4-15.8 3.9-17.2 5.2-16 5.5-15.5 6.2-15.7 7-16.1 8-15.5 8.4-16.8 9.9-15.3 9.8-16.7 11.5-16.7 12.4-16.7 13.2 6-4.5 6.7-4.5 6.7-3.8 6.9-3.1 7-2.4 6-1.5 7.2-1.2 6.2-0.4 7.3 0.2 6.3 0.8 7.5 1.5 6.5 2 7.6 2.9 6.6 3.1 13.4 8 14.7 11.2 13.8 12.7 15.1 16.4 14.1 17.6 15.4 21.6 14.4 22.4 14.5 24.7zM787.8 177.3l10.6-7.8 10.8-6.1 10.8-4.4 10.6-2.6 10.9-1 11 0.6 11.2 2.3 11.6 4.1-14.6 2-15.6 3.5-14.6 4.5-14.7 5.7-14.9 6.9-14.9 8.1-15.1 9.5-15.2 10.7 7.8-10.5 7.9-9.5 8.1-8.5z" fill="#04f074"/>
<path d="M1012.8 327.5l16.9-22.5 18-22.3 16.6-19 17.5-18.5 16.2-15.6 17.1-14.8 16.8-12.9 16.6-11 16.3-9.2 15.9-7.4 15.7-5.6 15.4-3.8 15-2.2 15.6-0.5 15.3 1.4 14.9 3.2-10.4-12.8-10.3-11.6-10.4-10.4-10.3-9.2-10.4-8.1-10.3-6.8-10.3-5.7-12.3-5.7-16.9-7-17.7-6.2-18.1-5.2-17.1-4-17.1-3-17.2-2.1-17.2-1.1-19-0.1-15.5 0.7-16.9 1.6-15.9 2.3-16.9 3.4-15.8 3.9-17.2 5.2-16 5.5-15.5 6.2-15.7 7-16.1 8-15.5 8.4-16.8 9.9-15.3 9.8-16.7 11.5-16.7 12.4-16.7 13.2 6-4.5 6.7-4.5 6.7-3.8 6.9-3.1 7-2.4 6-1.5 7.2-1.2 6.2-0.4 7.3 0.2 6.3 0.8 7.5 1.5 6.5 2 7.6 2.9 6.6 3.1 13.4 8 14.7 11.2 13.8 12.7 15.1 16.4 14.1 17.6 15.4 21.6 14.4 22.4 14.5 24.7zM787.8 177.3l10.6-7.8 10.8-6.1 10.8-4.4 10.6-2.6 10.9-1 11 0.6 11.2 2.3 11.6 4.1-14.6 2-15.6 3.5-14.6 4.5-14.7 5.7-14.9 6.9-14.9 8.1-15.1 9.5-15.2 10.7 7.8-10.5 7.9-9.5 8.1-8.5z" fill="#05f05f"/>
<path d="M1012.8 327.5l16.9-22.5 18-22.3 16.6-19 17.5-18.5 16.2-15.6 17.1-14.8 16.8-12.9 16.6-11 16.3-9.2 15.9-7.4 15.7-5.6 15.4-3.8 15-2.2 15.6-0.5 15.3 1.4 14.9 3.2-10.4-12.8-10.3-11.6-10.4-10.4-10.3-9.2-10.4-8.1-10.3-6.8-10.3-5.7-12.3-5.7-16.9-7-17.7-6.2-18.1-5.2-17.1-4-17.1-3-17.2-2.1-17.2-1.1-19-0.1-15.5 0.7-16.9 1.6-15.9 2.3-16.9 3.4-15.8 3.9-17.2 5.2-16 5.5-15.5 6.2-15.7 7-16.1 8-15.5 8.4-16.8 9.9-15.3 9.8-16.7 11.5-16.7 12.4-16.7 13.2 6-4.5 6.7-4.5 6.7-3.8 6.9-3.1 7-2.4 6-1.5 7.2-1.2 6.2-0.4 7.3 0.2 6.3 0.8 7.5 1.5 6.5 2 7.6 2.9 6.6 3.1 13.4 8 14.7 11.2 13.8 12.7 15.1 16.4 14.1 17.6 15.4 21.6 14.4 22.4 14.5 24.7zM787.8 177.3l10.6-7.8 10.8-6.1 10.8-4.4 10.6-2.6 10.9-1 11 0.6 11.2 2.3 11.6 4.1-14.6 2-15.6 3.5-14.6 4.5-14.7 5.7-14.9 6.9-14.9 8.1-15.1 9.5-15.2 10.7 7.8-10.5 7.9-9.5 8.1-8.5z" fill="#06f04b"/>
<path d="M1013.2 326.9l17.7-23.5 16.8-20.7 16.6-19 17.5-18.5 16.2-15.6 17.1-14.8 16.8-12.9 16.6-11 16.3-9.2 15.9-7.4 15.7-5.6 15.4-3.8 15-2.2 15.6-0.5 15.3 1.4 14.9 3.2-10.4-12.8-10.3-11.6-10.4-10.4-10.3-9.2-10.4-8.1-10.3-6.8-10.3-5.7-12.3-5.7-16.9-7-17.7-6.2-18.1-5.2-17.1-4-17.1-3-17.2-2.1-17.2-1.1-19-0.1-15.5 0.7-16.9 1.6-15.9 2.3-16.9 3.4-15.8 3.9-17.2 5.2-16 5.5-15.5 6.2-15.7 7-16.1 8-15.5 8.4-16.8 9.9-15.3 9.8-16.7 11.5-16.7 12.4-16.7 13.2 6-4.5 6.7-4.5 6.7-3.8 5.9-2.7 7-2.5 6-1.6 7.2-1.3 6.1-0.5 7.3 0.1 6.4 0.7 7.4 1.5 6.5 1.8 7.6 2.8 6.6 3.1 13.4 7.7 14.7 11 13.7 12.6 15.1 16.2 14.1 17.3 14.3 19.7 13.1 20.1 15.7 26.2 16.6 30.8zM787.8 177.3l10.6-7.8 10.8-6.1 10.8-4.4 10.6-2.6 10.9-1 11 0.6 11.2 2.3 11.6 4.1-14.6 2-15.6 3.5-14.6 4.5-14.7 5.7-14.9 6.9-14.9 8.1-15.1 9.5-15.2 10.7 7.8-10.5 7.9-9.5 8.1-8.5z" fill="#06f037"/>
<path d="M1018.7 315.6l3.1-0.2 17.5-22.5 17.9-21.3 17.6-19.2 17.4-17.4 14.9-13.5 15.9-12.9 14.5-10.5 15.4-9.8 15.1-8.2 15.9-7 15.6-5.3 15.3-3.5 14.9-1.8 14.7-0.2 14.2 1.5 14 3-10.4-12.8-10.3-11.6-10.4-10.4-10.3-9.2-10.4-8.1-10.3-6.8-10.3-5.7-12.3-5.7-16.9-7-17.7-6.2-18.1-5.2-17.1-4-17.1-3-17.2-2.1-17.2-1.1-19-0.1-15.5 0.7-16.9 1.6-15.9 2.3-16.9 3.4-15.8 3.9-17.2 5.2-16 5.5-15.5 6.2-15.7 7-16.1 8-15.5 8.4-16.8 9.9-15.3 9.8-16.7 11.5-16.7 12.4-16.7 13.2 11.7-8.4 6.8-3.9 5.8-2.8 7-2.6 6-1.7 6.1-1.2 6.2-0.7 7.2-0.1 6.4 0.5 6.3 1 6.5 1.6 6.5 2.1 6.5 2.7 13.3 7 7.8 5.1 6.8 5.1 13.7 11.7 15.1 15.4 14 16.6 15.4 20.6 14.3 21.4 14.4 23.7 14.8 26.6zM787.8 177.3l10.6-7.8 10.8-6.1 10.8-4.4 10.6-2.6 10.9-1 11 0.6 11.2 2.3 11.6 4.1-14.6 2-15.6 3.5-14.6 4.5-14.7 5.7-14.9 6.9-14.9 8.1-15.1 9.5-15.2 10.7 7.8-10.5 7.9-9.5 8.1-8.5z" fill="#07f023"/>
<path d="M1027.5 304l3.2-0.2 17-21.1 16.6-19 16.4-17.3 17.3-16.8 14.8-12.9 14.7-11.5 14.4-10.1 15.3-9.3 15.1-7.8 14.7-6.1 14.6-4.7 15.2-3.2 13.9-1.6 14.6 0 13.3 1.4 14 3-10.4-12.8-10.3-11.6-10.4-10.4-10.3-9.2-10.4-8.1-10.3-6.8-10.3-5.7-12.3-5.7-16.9-7-17.7-6.2-18.1-5.2-17.1-4-17.1-3-17.2-2.1-17.2-1.1-19-0.1-15.5 0.7-16.9 1.6-15.9 2.3-16.9 3.4-15.8 3.9-17.2 5.2-16 5.5-15.5 6.2-15.7 7-16.1 8-15.5 8.4-16.8 9.9-15.3 9.8-16.7 11.5-16.7 12.4-16.7 13.2 11.7-8.4 11.7-6.2 11.9-4.3 11.2-2.1 6.2-0.4 6.2 0.1 11.7 1.7 6.4 1.6 6.5 2.2 12.1 5.5 7.8 4.5 6.7 4.4 14.8 11.6 14.9 14.4 14 15.6 15.4 19.5 14.2 20.5 14.4 22.8 15.1 26.1zM787.8 177.3l10.6-7.8 10.8-6.1 10.8-4.4 10.6-2.6 10.9-1 11 0.6 11.2 2.3 11.6 4.1-14.6 2-15.6 3.5-14.6 4.5-14.7 5.7-14.9 6.9-14.9 8.1-15.1 9.5-15.2 10.7 7.8-10.5 7.9-9.5 8.1-8.5z" fill="#08f00f"/>
<path d="M1036.7 292.3l3.3-0.3 16-19 16.5-18.2 16.3-16.5 16.1-14.8 13.6-11.4 14.5-11 14.4-9.5 14.1-8.2 13.9-6.8 14.8-5.8 14.4-4.4 14.2-2.8 13.9-1.3 13.6 0.1 13.3 1.5 13 2.9-10.4-12.8-10.3-11.6-10.4-10.4-10.3-9.2-10.4-8.1-10.3-6.8-10.3-5.7-12.3-5.7-16.9-7-17.7-6.2-18.1-5.2-17.1-4-17.1-3-17.2-2.1-17.2-1.1-19-0.1-15.5 0.7-16.9 1.6-15.9 2.3-16.9 3.4-15.8 3.9-17.2 5.2-16 5.5-15.5 6.2-15.7 7-16.1 8-15.5 8.4-16.8 9.9-15.3 9.8-16.7 11.5-16.7 12.4-16.7 13.2 10.8-7.8 10.6-5.9 10.9-4.3 11.1-2.6 11.4-0.8 11.5 1 11.8 2.7 12 4.7 7.7 3.9 6.7 4 7.9 5.4 6.8 5.2 14.9 13.2 13.9 14.7 15.2 18.5 14.3 19.5 14.3 21.8 15.1 25.2zM787.8 177.3l10.6-7.8 10.8-6.1 10.8-4.4 10.6-2.6 10.9-1 11 0.6 11.2 2.3 11.6 4.1-14.6 2-15.6 3.5-14.6 4.5-14.7 5.7-14.9 6.9-14.9 8.1-15.1 9.5-15.2 10.7 7.8-10.5 7.9-9.5 8.1-8.5z" fill="#18f107"/>
<path d="M1046.5 280.5l3.3-0.3 15.6-17.8 16.4-17.2 15-14.5 16-14 13.5-10.7 13.4-9.4 13.2-8.3 14-7.7 13.8-6.3 13.6-4.9 13.4-3.7 13.1-2.3 12.9-1.1 13.5 0.2 12.4 1.4 13 2.9-10.4-12.8-10.3-11.6-10.4-10.4-10.3-9.2-10.4-8.1-10.3-6.8-10.3-5.7-12.3-5.7-16.9-7-17.7-6.2-18.1-5.2-17.1-4-17.1-3-17.2-2.1-17.2-1.1-19-0.1-15.5 0.7-16.9 1.6-15.9 2.3-16.9 3.4-15.8 3.9-17.2 5.2-16 5.5-15.5 6.2-15.7 7-16.1 8-15.5 8.4-16.8 9.9-15.3 9.8-16.7 11.5-16.7 12.4-16.7 13.2 9.8-7.2 10.6-6.1 10.9-4.4 10.1-2.5 11.3-1.2 10.5 0.5 11.7 2.3 10.8 3.7 7.7 3.5 6.7 3.6 13.4 8.9 14.8 12.2 13.9 13.7 15.2 17.4 14.1 18.6 14.3 20.8 14.9 23.9 28.5-1.7zM787.8 177.3l10.6-7.8 10.8-6.1 10.8-4.4 10.6-2.6 10.9-1 11 0.6 11.2 2.3 11.6 4.1-13.5 1.8-14.4 3.1-13.5 3.9-13.5 5-12.6 5.4-12.6 6.4-13.9 7.9-13.8 8.9-8.8 4.2 7.4-9.5 7.1-8.2 7.2-7.4z" fill="#30f207"/>
<path d="M1056.8 268.5l3.4-0.3 14.6-15.8 15.1-15.2 15-13.7 14.7-12.3 12.3-9.3 13.3-8.9 13.1-7.8 12.9-6.7 12.7-5.4 13.5-4.7 12.3-3.1 13.1-2.2 12.8-0.9 12.6 0.3 12.3 1.6 12.1 2.7-10.4-12.8-10.3-11.6-10.4-10.4-10.3-9.2-10.4-8.1-10.3-6.8-10.3-5.7-12.3-5.7-16.9-7-17.7-6.2-18.1-5.2-17.1-4-17.1-3-17.2-2.1-17.2-1.1-19-0.1-15.5 0.7-16.9 1.6-15.9 2.3-16.9 3.4-15.8 3.9-17.2 5.2-16 5.5-15.5 6.2-15.7 7-16.1 8-15.5 8.4-16.8 9.9-15.3 9.8-16.7 11.5-16.7 12.4-16.7 13.2 9.8-7.2 9.6-5.6 9.9-4.2 10-2.8 10.3-1.5 10.4 0.1 10.6 1.6 9.7 2.7 7.6 2.9 6.6 3.1 13.4 8 14.7 11.2 13.8 12.7 15.1 16.4 14.1 17.6 14.3 19.9 14.2 22 38.4-2.1zM787.8 177.3l10.6-7.8 10.8-6.1 10.8-4.4 10.6-2.6 10.9-1 11 0.6 11.2 2.3 11.6 4.1-11.3 1.5-12.2 2.3-12.3 3.3-12.3 4.1-18.2 7.5-20.4 10.5-13.5 5.6-11.7 5.6 12.5-14.3z" fill="#47f306"/>
<path d="M1067.7 256.4l3.6-0.4 14-14.3 15-14.1 13.7-11.8 14.6-11.4 12.2-8.6 12.1-7.5 11.9-6.6 11.7-5.6 12.6-5 12.5-3.9 12.2-2.7 12-1.7 11.8-0.6 11.6 0.4 11.3 1.5 12.1 2.7-10.4-12.8-10.3-11.6-10.4-10.4-10.3-9.2-10.4-8.1-10.3-6.8-10.3-5.7-12.3-5.7-16.9-7-17.7-6.2-18.1-5.2-17.1-4-17.1-3-17.2-2.1-17.2-1.1-19-0.1-15.5 0.7-16.9 1.6-15.9 2.3-16.9 3.4-15.8 3.9-17.2 5.2-16 5.5-15.5 6.2-15.7 7-16.1 8-15.5 8.4-16.8 9.9-15.3 9.8-16.7 11.5-16.7 12.4-16.7 13.2 8.8-6.5 9.7-5.8 9.8-4.4 9-2.7 10.2-1.7 9.3-0.3 9.5 1 9.7 2.1 7.5 2.5 6.6 2.8 13.3 7.2 13.5 9.5 13.7 11.7 13.9 14.1 14 16.4 14.2 18.7 14.6 21.5 45.7-2.4zM787.8 177.3l10.6-7.8 10.8-6.1 10.8-4.4 10.6-2.6 10.9-1 11.5 0.7 6.6 1.2 6.5 1.7 6.6 2.3 0.2 1.2 0.9 0-9.8 1.4-10 1.8-19 5.2-41.3 14.2-13.7 5.7-11.5 5.9 9.2-10.1z" fill="#5ff405"/>
<path d="M1079.6 244.1l3.7-0.4 13.5-13 13.8-12.1 12.4-10 13.4-9.8 11-7.2 12-7 10.7-5.6 11.7-5.1 11.5-4.2 11.3-3.3 11.2-2.3 12-1.5 10.8-0.4 11.5 0.5 11.4 1.5 11.1 2.6-10.4-12.8-10.3-11.6-10.4-10.4-10.3-9.2-10.4-8.1-10.3-6.8-10.3-5.7-12.3-5.7-16.9-7-17.7-6.2-18.1-5.2-17.1-4-17.1-3-17.2-2.1-17.2-1.1-19-0.1-15.5 0.7-16.9 1.6-15.9 2.3-16.9 3.4-15.8 3.9-17.2 5.2-16 5.5-15.5 6.2-15.7 7-16.1 8-15.5 8.4-16.8 9.9-15.3 9.8-16.7 11.5-16.7 12.4-16.7 13.2 8.8-6.5 8.7-5.3 8.8-4.1 9-3 9.1-1.8 9.3-0.7 9.5 0.5 8.5 1.5 6.4 1.7 6.5 2.3 13.2 6.3 13.5 8.5 13.6 10.8 13.8 13.2 14 15.4 14.1 17.7 13.2 18.6 27.1-1 27-1.6 28.7-2.3zM787.8 177.3l9.8-7.2 9.1-5.5 9.1-4.1 10-3.1 9.6-1.6 9.7-0.4 10.4 1.1 7 1.5-0.1 0.7 2.3 0.1-0.6 0.4-30.9 7.9-23.5 7.4-20.3 8-8.5 4.2-7 3.9 6.5-6.7z" fill="#76f404"/>
<path d="M1092.6 231.5l4-0.5 12.8-11.4 12.5-10.1 12.2-9.1 12.2-8.1 9.8-5.9 10.8-5.8 10.7-4.9 10.5-4.2 10.4-3.4 11.2-2.8 10.1-1.8 10.9-1.1 10.8-0.2 10.5 0.7 10.4 1.5 10.2 2.4-10.4-12.8-10.3-11.6-10.4-10.4-10.3-9.2-10.4-8.1-10.3-6.8-10.3-5.7-12.3-5.7-16.9-7-17.7-6.2-18.1-5.2-17.1-4-17.1-3-17.2-2.1-17.2-1.1-19-0.1-15.5 0.7-16.9 1.6-15.9 2.3-16.9 3.4-15.8 3.9-17.2 5.2-16 5.5-15.5 6.2-15.7 7-16.1 8-15.5 8.4-16.8 9.9-15.3 9.8-16.7 11.5-16.7 12.4-16.7 13.2 9.8-7.2 9.6-5.6 10.9-4.6 10-2.7 10.3-1.2 10.4 0.2 10.7 1.7 10.8 3.2 10.9 4.8 11.1 6.3 11.3 7.9 11.4 9.5 11.5 11.1 10.5 11.3 11.7 14.2 11.4 15.1 33.2-1 32.6-1.9 32.8-2.8zM787.8 177.3l8.1-6.1 7.5-4.8 7.5-3.8 8.3-3.3 8.3-2.3 8.2-1.3 8.3-0.3 6 0.4 0.2 0.5 2.3-0.3-0.9 0.9-24.3 7-20.4 7.1-15.1 6.7-12 6.9z" fill="#8ef504"/>
<path d="M1107.2 218.4l4.3-0.6 11.5-9.2 11.1-8.2 11.1-7.4 12-7.2 9.7-5.2 9.6-4.5 9.5-3.8 9.4-3.3 9.2-2.6 10.2-2.1 10-1.4 9.9-0.7 9.7 0.1 9.5 0.8 9.4 1.5 9.3 2.2-10.4-12.8-10.3-11.6-10.4-10.4-10.3-9.2-10.4-8.1-10.3-6.8-10.3-5.7-12.3-5.7-16.9-7-17.7-6.2-18.1-5.2-17.1-4-17.1-3-17.2-2.1-17.2-1.1-19-0.1-15.5 0.7-16.9 1.6-15.9 2.3-16.9 3.4-15.8 3.9-17.2 5.2-16 5.5-15.5 6.2-15.7 7-16.1 8-15.5 8.4-16.8 9.9-15.3 9.8-16.7 11.5-16.7 12.4-16.7 13.2 8.8-6.5 9.7-5.8 9.8-4.4 10-2.9 10.2-1.6 10.4-0.1 10.6 1.4 9.7 2.6 10.9 4.3 10 5.2 11.2 7.2 10.2 7.9 10.3 9.2 10.4 10.5 10.5 11.8 11.2 13.9 37.6-0.8 38.6-2.2 39.7-3.4zM787.8 177.3l10.8-7.9 6.4-3.9 5.9-2.9 6.6-2.7 5.8-1.9 6.6-1.5 3.1-0.5-0.1 0.5 2.4-0.7-1.2 1.1-16.6 5.7-13.2 5.5-10.5 5.5-7.5 5z" fill="#a5f603"/>
<path d="M1124.2 204.7l4.9-0.7 18.3-12.4 18.4-10.4 13.9-6.4 14.6-5.4 16.4-4.3 8.1-1.5 9-1 7.8-0.4 8.8 0.1 8.6 0.7 7.9 1.1 5.4-5.1-11-12.9-10.3-10.8-10.4-9.6-10.3-8.4-9.2-6.5-10.3-6.2-10.2-5.1-14.9-6.5-17.2-6.6-17-5.5-16.5-4.4-16.5-3.5-16.7-2.6-17.2-1.8-17.2-0.8-16.9 0-15.8 0.9-15.6 1.7-15.5 2.3-15.5 3.2-15.5 3.8-15.5 4.6-15.4 5.3-17.2 6.8-16.3 7.2-15.7 7.8-15.7 8.5-15.3 9-15.2 9.6-16.8 11.5-16.8 12.4-13.1 10.5 8.4-5.7 8.8-4.6 8.9-3.5 9-2.4 9.3-1.2 9.3 0 9.6 1.2 8.5 2.1 9.8 3.5 9.9 4.8 10.1 6 9 6.5 10.2 8.5 9.2 8.6 9.3 9.6 10.2 11.8 43.4-0.6 46.7-2.5 44.7-4.1 23.9-2.9z" fill="#bdf702"/>
<path d="M1146.1 189.7l6.3-1.1 11.3-6.3 11.7-5.7 11.6-4.7 11.5-3.8 10.2-2.6 11.1-2 10.9-1.1 10.1-0.2 5.7-3.2 5-3.5 3.8-3.4 2.5-3.2-10.5-11.3-10.4-9.8-10.3-8.7-10.4-7.6-8-5-9.1-4.9-14.6-6.6-15.3-6.1-15.9-5.6-16.1-4.7-15.7-3.8-15.4-2.9-15.9-2.2-16.7-1.4-15.5-0.6-16.4 0.2-14.7 1-15.5 1.7-15.5 2.5-15.5 3.2-13.8 3.4-15.5 4.6-15.4 5.3-15.5 6.1-15.4 6.7-15.3 7.4-15.8 8.4-15.9 9.3-17.5 11-18 12.4-15.3 11.3-5.1 5.1 7.9-4.2 7.9-3.3 8-2.4 7.1-1.3 8.3-0.7 8.3 0.3 8.5 1.2 7.5 1.9 8.7 3.1 7.7 3.5 8.9 4.9 7.8 5.1 9.1 6.9 8 6.8 9.2 8.7 8.1 8.5 25.4 0.3 28-0.5 28.1-1.2 27.9-1.9 27.6-2.5 27.2-3.2 26.5-3.7z" fill="#d5f801"/>
<path d="M1174.9 172.2l15-3.8 13.3-4 12.1-4.1 10.7-4.4 8.6-4.4 6.7-4.5 4.6-4.5 2.3-3.9-9-8.8-9.2-8-8-6.2-9.2-6.3-6.9-4.1-7.9-4.1-13.1-5.9-13-5.3-13.3-4.8-13.3-4.2-13.6-3.7-13.7-3.1-13.6-2.5-13.7-1.8-13.8-1.3-13.8-0.7-15.5 0-15.5 0.7-16.9 1.6-15.9 2.3-16.9 3.4-15.8 3.9-17.2 5.2-16 5.5-18.3 7.4-17.1 7.8-17.9 9.1-17.8 10.1-22 13.7-20.4 14.1-5.5 5-2.5 4.5 6.8-2.7 6-1.7 6.1-1.3 6.1-0.8 7.3-0.2 6.3 0.4 6.4 0.9 6.4 1.5 7.6 2.4 6.5 2.7 7.7 3.8 6.7 3.9 7.9 5.2 6.7 5.2 14.7 12.8 13 0.4 29.8 0.4 30.8-0.7 31.8-1.6 32.7-2.5 30.1-3.2 31.2-4.4 28.6-4.9z" fill="#ecf901"/>
<path d="M1166.1 162.4l15.7-3.9 14.3-4.2 12.7-4.5 10.2-4.4 7.8-4.3 6-4.7 3.3-4.2 0.9-2.2 0.3-1.9-8.4-7.2-8.1-6.2-8-5.4-8-4.7-8.5-4.3-13.5-6-23.7-9-23.9-7.2-23.9-5.3-24.1-3.4-12-1-13.8-0.6-15.5 0-15.5 0.8-15.5 1.6-15.6 2.2-15.5 3.1-16.6 4.1-16.1 4.7-15.4 5.3-17.8 7-18.2 8.2-17 8.6-18.7 10.4-17 10.3-15.8 10.7-4.9 4.9-1.4 2.8-0.5 2.5 0.3 2.6 11.2-1.9 10.4-0.2 10.6 1.2 10.7 2.8 9.8 3.8 9.9 5 9 5.6 10 7.3 19.4 1.2 18.9 0.7 27.9 0.1 28.7-0.7 29.1-1.5 29.7-2.3 29.8-3.3 27.4-3.7 25-4.3z" fill="#fff400"/>
<path d="M1161.8 151.4l15.7-4 13.7-4.3 12-4.5 8.6-4.2 6.9-4.4 4.4-4.5 1.2-2.1 0.6-2.3-0.2-2-0.7-2-14.6-9.9-14.1-7.4-24.3-10.3-23.8-8.1-20.9-5.5-22.1-4.3-22.1-2.7-22.4-1.2-15.2 0.1-14.6 0.8-14.7 1.5-14.8 2.2-15 2.9-15.2 3.6-15.2 4.3-14.2 4.7-17.1 6.5-17.2 7.3-17 8.2-17 9.1-17 9.9-11.1 7.2-2.6 2.4-2.1 2.4-1.2 2.4-0.4 2.3 0.4 2.5 1.4 2.4 2.7 2.7 3.6 2.4 8.5 0.9 9.7 2.1 9.7 3.4 8.8 4.1 15.3 2 17.2 1.6 17.2 1.1 21 0.6 25.8 0.1 26.4-0.7 29.3-1.6 27-2.2 26.9-2.9 28-3.9 24.4-4.3z" fill="#ffd800"/>
<path d="M1149.8 142l15.5-3.8 13-3.9 11.4-4.1 8.9-4 6.8-4.3 4.3-4.1 1.2-2 0.5-1.9 0-2-0.7-1.9-1.8-2.4-3.2-2.6-18.2-8.7-23.3-9.3-22.1-7-20.6-5.2-20.1-3.6-19.6-2.3-20.4-1.1-13.8 0-13.8 0.6-13.8 1.2-13.8 1.7-13.8 2.4-13.7 3-14.5 3.7-14.8 4.5-16 5.5-16.6 6.7-17.1 7.7-16.4 8.2-15.9 8.8-8.3 5.1-4.5 4.4-1.2 2.1-0.5 2.3 0.4 2.5 1.4 2.3 2.3 2.2 3.1 2.1 9 3.9 12 3.3 16 2.9 17.3 2.1 19.9 1.5 22.5 0.9 23 0.1 25.7-0.6 26-1.3 26.3-2 25.6-2.7 24.2-3.2 22.1-3.6z" fill="#ffbc00"/>
<path d="M1145.7 130.4l12.9-3.3 10.6-3.3 9.4-3.4 7.9-3.8 5.6-3.6 3.3-3.4 1.3-3.3 0-1.6-0.7-1.9-2-2.5-3.4-2.4-12.8-5.7-21.8-8-21.6-6.3-18-4.1-18.9-3.2-18.9-2-18.9-0.9-12.3 0.1-13.6 0.6-12.7 1-13.1 1.7-13.6 2.2-12.3 2.6-13.8 3.4-13.3 3.8-15.9 5.3-15.4 5.9-15.5 6.5-17 8.2-12.3 6.4-5 3.3-3.6 3.7-1 2.1-0.3 1.6 0.4 2.1 1.3 2.2 1.9 1.8 3 1.9 8.2 3.5 12.1 3.3 13.4 2.3 17.4 2.1 20.1 1.3 20.8 0.7 23.4 0 23.7-0.7 23.9-1.3 23.8-2 23.1-2.5 20.6-2.9 20.2-3.4z" fill="#ff9f00"/>
<path d="M1140.1 118.7l19-5.6 7.2-2.8 6.2-3.1 4.5-3.2 2.5-2.9 0.9-2.8-0.8-2.8-1.7-1.9-2.8-2-8.6-3.7-19.3-6.5-20.9-5.5-16.7-3.4-17.2-2.5-17.2-1.6-17.2-0.7-22.4 0.6-24.2 2.3-24.1 4.1-24.1 6-14.3 4.3-15.5 5.4-14.9 6-15.2 6.7-7.2 3.5-5 3.2-3.1 3.2-1.2 3.2 0.4 2 1.1 1.8 1.8 1.7 3.1 1.9 7.6 3.1 11.2 2.8 13.7 2.2 16.2 1.7 18.7 1.2 19.1 0.4 21.6-0.1 21.7-0.8 21.5-1.3 21.2-1.9 20.7-2.4 20-2.9 18-3.3z" fill="#ff8300"/>
<path d="M1114.3 111.2l21.3-5.2 8.3-2.6 7.1-2.9 5.1-2.8 3.8-3 1.5-2.6-0.2-2.8-1.2-1.7-2.6-2.1-7.8-3.3-21.2-5.8-22.3-4.5-18.7-2.5-17.4-1.3-18.9-0.4-18.2 0.7-18 1.8-19 2.9-19 4-18.9 5.1-20.6 6.8-20.3 8-4.4 2.4-3.1 2.3-1.9 2.4-0.7 2.1 0.3 1.7 1 1.6 3.8 2.8 5.6 2.4 8.4 2.3 10.4 1.9 12.1 1.5 13.9 1.1 15.9 0.6 17.8 0.2 17.6-0.3 35.9-2.1 33.3-3.5 15.4-2.3z" fill="#ff6700"/>
<path d="M1099.5 100.2l18-4.2 12.9-4.5 4.5-2.4 2.7-2.3 1.3-2.2-0.1-2.1-1.3-1.7-2.2-1.6-7.5-2.8-14.7-3.3-15.6-2.5-15.4-1.7-15.5-1-16.3-0.2-16.5 0.7-15.6 1.4-17.1 2.4-15.7 3-17.1 4.1-17.1 5-11.4 4.1-6.4 3.8-1.7 1.7-0.8 2.1 0.8 2.3 2.9 2.4 4.7 2.1 7.3 2 9 1.6 9.1 1.1 23.9 1.4 27.9-0.1 29.5-1.6 27.6-2.8z" fill="#ff4a00"/>
<path d="M1085.1 87.7l11.1-2.8 7.5-2.7 3.1-1.8 1.7-1.4 0.8-1.4-0.1-1.4-2-2.1-4.6-1.9-6.4-1.6-9.4-1.3-13.6-1.1-13.4-0.5-12.4 0.1-13.5 0.6-12.8 1-13.1 1.7-13.6 2.2-13 2.8-7.9 2.2-6.5 2.5-3.8 2.6-1.2 2.2 0.8 1.8 2.2 1.6 4.1 1.6 5.5 1.3 14.6 1.9 17.2 0.7 19.1-0.2 21.4-1.3 21.2-2.3z" fill="#ff2e00"/>
<path d="M1012.8 327.5c-41.3-79.8-81.9-131.8-119.9-155.8c-37.6-23.9-72.6-20.8-104 4.7M787.8 177.3c-11.1 9.3-21.9 21.4-32.1 36M1012.8 327.5c97.3-134.3 186.6-181.5 259.8-160.7M1020.1 317.7c-40.3-77.3-79.9-127.9-117.2-152c-37.3-24.2-72.1-21.9-103.4 2.3M792.7 173.6c-10.4 9.2-20.4 20.8-30 34.6M1005.5 313.7c97.4-132.6 186.8-177.9 260.2-155.6M1027.3 308.1c-39.7-75.6-78.9-125.2-115.8-148.9c-36.9-23.9-71.5-21.9-102.7 1.6M797.6 170.3c-9.7 9-18.9 20.1-27.9 33M998.3 300.5c97.4-130.8 187-174.4 260.5-150.5M1034.5 298.9c-39.2-74-77.9-122.6-114.4-146c-36.1-23.2-70-21.9-100.7 .1M802.4 167.4c-8.8 8.8-17.4 19.3-25.7 31.4M991 287.9c97.5-129.1 187.2-170.9 260.9-145.5M1041.7 289.9c-38.7-72.3-76.9-120-113-143c-35.7-22.8-69.3-21.8-99.9-.6M808.4 163.8c-8.5 8.7-16.8 19-24.7 30.7M983.8 275.8c97.6-127.4 187.3-167.3 261.2-140.5M1048.9 281.3c-37.7-69.8-75-116.2-110.3-139.2c-35.4-23.1-68.8-22.9-99.2-3M813.1 161.7c-7.7 8.3-15.2 18-22.5 28.8M976.6 264.3c97.6-125.6 187.5-163.8 261.5-135.5M1056 273c-37.2-68.3-74-113.7-108.9-136.3c-35-22.8-68.1-22.9-98.3-3.6M817.9 160c-7 7.9-13.8 16.8-20.4 26.8M969.4 253.4c97.7-123.9 187.7-160.3 261.8-130.6M1063.1 265c-36.7-66.7-73-111.2-107.5-133.5c-34.1-22.1-66.5-22.7-96.3-5M822.7 158.8c-6.3 7.3-12.4 15.5-18.3 24.5M962.3 243.1c97.7-122.2 187.7-156.9 262-125.8M1070.1 257.3c-35.6-64.3-70.9-107.5-104.7-129.8c-33.7-22.3-65.8-23.7-95.5-7.2M827.4 158c-5.5 6.7-10.9 14.1-16.2 22.1M955.2 233.3c97.7-120.4 187.8-153.4 262.2-121M1077.2 249.9c-35.2-62.8-70-105.1-103.3-127c-33.4-22-65.2-23.6-94.6-7.8M833.2 156.1c-5.2 6.5-10.2 13.5-15.1 21M948.1 224.2c97.7-118.7 187.9-150.1 262.4-116.3M1084.1 242.9c-68.8-122.4-136.2-163.1-194.2-133.3M837.8 156.1c-4.4 5.7-8.7 11.8-12.9 18.3M941.1 215.6c97.7-116.9 187.9-146.7 262.5-111.7M1091.1 236.1c-67.3-118.5-133.3-159-190.6-131.7M842.4 156.4c-3.6 4.9-7.2 10.1-10.7 15.6M934.1 207.6c96.7-114 186.2-142.8 260.4-108.1M1098 229.6c-65.8-114.7-130.4-154.9-186.9-130M847 157.1c-2.9 4.1-5.7 8.3-8.6 12.7M927.1 200.2c92.8-107.7 179-137.3 251.5-107.6M1104.9 223.5c-64.8-111.9-128.5-151.5-184.4-128M852.7 156.6c-2.6 3.6-5.1 7.4-7.6 11.3M920.2 193.3c89.3-102.1 172.7-132 243.5-106.4M1111.7 217.7c-63.2-108.2-125.6-147.5-180.6-126.4M857.2 158c-1.8 2.7-3.6 5.4-5.4 8.2M913.3 187c85.4-96 165.4-126.4 234.2-105.5M1118.5 212.1c-61.7-104.5-122.7-143.5-176.8-124.6M862.8 158.2c-1.4 2.2-2.9 4.4-4.3 6.6M906.4 181.4c81.5-90.3 158.1-120.9 224.8-104.3M1125.2 206.9c-60.1-101-119.7-139.6-173-122.9M867.3 160.3c-.7 1.1-1.5 2.2-2.2 3.4M899.7 176.2c77.5-84.5 150.7-115.3 215-102.7M1131.9 201.9c-59.1-98.2-117.7-136.3-170.4-120.8M892.9 171.7c73.6-79 143.3-109.7 205.3-101M1138.6 197.3c-57.6-94.8-114.8-132.4-166.5-119M886.2 167.7c69.7-73.5 135.9-104.1 195.3-98.9M1145.2 193c-56.1-91.4-111.9-128.7-162.6-117.2M879.6 164.3c65.2-67.8 127.4-98 183.9-96.5M1151.8 188.9c-54.7-88-109-124.8-158.7-115.3M873 161.4c61.3-62.6 120-92.3 173.7-93.6M1158.3 185.2c-53.1-84.8-106-121.1-154.7-113.5M866.5 159.1c57.3-57.6 112.4-86.6 163.3-90.5M1164.8 181.7c-51.7-81.5-103.1-117.3-150.7-111.5M860.1 157.4c52.8-52.4 103.8-80.4 151.4-86.8M1171.2 178.5c-50.1-78.3-100.2-113.5-146.6-109.4M853.7 156.2c48.4-47.3 95.3-74.1 139.4-82.6M1177.6 175.7c-48.7-75.2-97.2-109.9-142.6-107.4M847.3 155.5c44.5-42.7 87.8-68.2 128.7-78.2M1183.9 173.1c-47.1-72.1-94.3-106.2-138.5-105.3M841.1 155.4c40.1-37.9 79.2-61.9 116.5-73.1M1190.2 170.8c-45.7-69.1-91.4-102.6-134.4-103.1M834.9 155.8c35.7-33.2 70.6-55.4 104.1-67.4M1196.4 168.7c-44.2-66.1-88.4-98.9-130.3-100.8M828.7 156.7c31.4-28.6 62.1-48.8 91.8-61.2M1202.6 167c-42.7-63.3-85.5-95.4-126.2-98.6M822.7 158.2c26.9-24.3 53.4-42.3 79.2-54.4M1208.7 165.5c-41.2-60.4-82.5-91.8-122-96.2M816.7 160.1c22.1-19.5 43.9-34.9 65.2-46.3M1214.8 164.3c-39.8-57.6-79.7-88.3-117.8-93.8M810.8 162.6c17.7-15.5 35.3-28.2 52.5-38.4M1220.8 163.4c-38.3-54.9-76.7-84.9-113.6-91.3M804.9 165.6c13.4-11.5 26.7-21.5 39.9-30M1226.8 162.7c-36.9-52.2-73.8-81.4-109.5-88.7M799.2 169c8.5-7.2 17.1-13.9 25.6-19.9M1232.7 162.3c-35.4-49.6-70.9-77.9-105.3-86.1M793.5 172.9c3.8-3.1 7.6-6.2 11.4-9.1M1238.6 162.2c-34-47-68-74.6-101.1-83.5M1244.4 162.3c-32.5-44.5-65.1-71.1-96.9-80.8M782.3 182.2c6.6-5.3 13.2-10.3 19.8-14.9M1250.1 162.7c-31-42-62.2-67.8-92.6-78M776.8 187.5c13.3-10.5 26.4-19.5 39.4-27.1M1255.8 163.3c-29.1-39-58.4-63.7-87.1-74.6M771.4 193.3c19.8-15.5 39.4-27.6 58.7-36.7M1261.5 164.2c-27.7-36.6-55.6-60.4-82.9-71.6M766.1 199.5c26.4-20.2 52.3-34.7 77.7-43.6M1267 165.4c-26.2-34.4-52.6-57.1-78.6-68.7M760.9 206.2c33.8-25.6 67-41.6 99-48.8M1272.6 166.8c-24.9-32.1-49.8-53.9-74.4-65.6M755.7 213.3c40.8-30.4 80.6-46.9 118.6-50.8" fill="none" stroke="#000" stroke-width="0.92" stroke-opacity="0.82"/>
<path d="M1012.8 327.5l16.9-22.5 8.4-10.7 9.6-11.6 8.3-9.7 8.3-9.3 8.2-8.9 9.3-9.6 8.1-8 8.1-7.6 8-7.1 9.1-7.7 7.9-6.2 8.9-6.7 7.8-5.3 8.8-5.7 7.6-4.5 8.7-4.7 7.5-3.7 8.4-3.7 7.4-2.8 8.3-2.8 7.2-2 8.2-1.8 7-1.3 8-0.9 7.9-0.5 7.7 0 7.7 0.5 7.6 0.9 7.5 1.4 7.4 1.8-10.4-12.8-10.3-11.6-10.4-10.4-10.3-9.2-10.4-8.1-10.3-6.8-4.6-2.7-5.7-3-12.3-5.7-16.9-7-8.5-3.1-9.2-3.1-9.5-2.9-8.6-2.3-17.1-4-17.1-3-17.2-2.1-17.2-1.1-8.6-0.2-10.4 0.1-15.5 0.7-16.9 1.6-15.9 2.3-16.9 3.4-15.8 3.9-17.2 5.2-16 5.5-15.5 6.2-15.7 7-16.1 8-15.5 8.4-16.8 9.9-15.3 9.8-16.7 11.5-16.7 12.4-16.7 13.2 6-4.5 6.7-4.5 6.7-3.8 6.9-3.1 7-2.4 6-1.5 7.2-1.2 6.2-0.4 7.3 0.2 6.3 0.8 7.5 1.5 6.5 2 7.6 2.9 6.6 3.1 6.7 3.7 6.7 4.3 7.9 5.7 6.8 5.5 6.9 6.1 6.9 6.6 8.1 8.5 7 7.9 7 8.5 7.1 9.1 8.3 11.3 7.1 10.3 7.2 10.9 7.2 11.5 7.2 12.1 7.3 12.6 7.2 13.2zM787.8 177.3l5.6-4.3 5-3.5 5-3.1 5.8-3 5.1-2.3 5.7-2.1 5-1.4 5.6-1.2 5.1-0.7 5.8-0.3 5.8 0.1 5.2 0.5 5.5 0.9 5.7 1.4 5.7 1.8 5.9 2.3-6.9 0.8-7.7 1.2-7.8 1.6-7.8 1.9-7.8 2.3-6.8 2.2-7.9 2.9-6.8 2.8-8 3.5-6.9 3.4-8 4.2-6.9 3.9-8.1 5-7 4.5-8.2 5.6-7 5.1 7.8-10.5 7.9-9.5 8.1-8.5z" fill="none" stroke="#000" stroke-width="1.0" stroke-opacity="0.88"/>
<g fill="#000"><circle cx="747.0" cy="59.7" r="1.9"/><circle cx="750.1" cy="114.5" r="1.9"/><circle cx="753.2" cy="169.3" r="1.9"/><circle cx="756.3" cy="224.1" r="1.9"/><circle cx="759.4" cy="278.9" r="1.9"/><circle cx="763.3" cy="347.5" r="1.9"/><circle cx="825.7" cy="372.6" r="1.9"/><circle cx="888.1" cy="397.7" r="1.9"/><circle cx="950.4" cy="422.8" r="1.9"/><circle cx="1012.8" cy="447.8" r="1.9"/><circle cx="1075.2" cy="422.8" r="1.9"/><circle cx="1137.6" cy="397.7" r="1.9"/><circle cx="1199.9" cy="372.6" r="1.9"/><circle cx="1262.3" cy="347.5" r="1.9"/></g>
<g font-family="'Liberation Sans',Arial,sans-serif" font-size="13.94" fill="#1a1a22"><text transform="translate(740.2 73.5) scale(0.823 1)" text-anchor="end">33.7</text><text transform="translate(743.3 128.3) scale(0.823 1)" text-anchor="end">31.3</text><text transform="translate(746.4 183.2) scale(0.823 1)" text-anchor="end">28.9</text><text transform="translate(749.5 238.0) scale(0.823 1)" text-anchor="end">26.5</text><text transform="translate(752.6 292.8) scale(0.823 1)" text-anchor="end">24.1</text><text transform="translate(756.4 361.0) scale(0.823 1)" text-anchor="end">1.00</text><text transform="translate(818.8 386.1) scale(0.823 1)" text-anchor="end">0.50</text><text transform="translate(881.2 411.2) scale(0.823 1)" text-anchor="end">0.00</text><text transform="translate(943.5 436.3) scale(0.823 1)" text-anchor="end">-0.50</text><text transform="translate(1005.9 461.4) scale(0.823 1)" text-anchor="end">-1.00</text><text transform="translate(1020.1 461.4) scale(0.823 1)">-1.00</text><text transform="translate(1082.5 436.3) scale(0.823 1)">-0.50</text><text transform="translate(1144.9 411.2) scale(0.823 1)">0.00</text><text transform="translate(1207.2 386.1) scale(0.823 1)">0.50</text><text transform="translate(1269.6 361.0) scale(0.823 1)">1.00</text></g>
<g font-family="'Liberation Sans',Arial,sans-serif" font-size="21.42" fill="#111"><text transform="translate(774.9 445.6) scale(0.823 1)">C: C</text><text transform="translate(1215.9 445.6) scale(0.823 1)">A: A</text></g>
<text transform="translate(685.4 222.2) scale(0.772 1)" font-family="'Liberation Serif','Times New Roman',serif" font-weight="bold" font-size="24.02" fill="#000">Y1</text>
<ellipse cx="754.9" cy="199.0" rx="4.9" ry="3.9" fill="#f80d0d" stroke="#8c1010" stroke-width="0.9"/>
<ellipse cx="1271.4" cy="188.0" rx="5.1" ry="3.7" fill="#ffc6c8" stroke="#a04848" stroke-width="0.9"/><path d="M1271.4 186.1v3.7" stroke="#b05050" stroke-width="0.9"/>
<path d="M1012.8 354.5L1012.8 327.5" stroke="#222" stroke-width="0.9"/>
<ellipse cx="1012.8" cy="354.5" rx="5.1" ry="3.7" fill="#ffc6c8" stroke="#a04848" stroke-width="0.9"/><path d="M1012.8 352.6v3.7" stroke="#b05050" stroke-width="0.9"/>
<path d="M1012.8 61.5L1012.8 72.3" stroke="#222" stroke-width="0.9"/>
<ellipse cx="1012.8" cy="61.5" rx="4.9" ry="3.9" fill="#f80d0d" stroke="#8c1010" stroke-width="0.9"/>
</g>
<g>
<path d="M1453.9 343.2l252.3 100.7 252.4-100.7-252.4-79.3z" fill="#ffff1c" stroke="#111" stroke-width="1"/>
<path d="M1769.3 366.8l11.2-4.4 10.8-5.2 4.8-2.7 4.3-2.9 3.3-2.4 3.3-2.9 2.7-2.9 2.2-2.9 1.6-2.6 1.2-2.7 0.8-2.8 0.3-2.7-0.3-3.3-0.7-2.3-1.1-2.6-1.8-2.6-2.1-2.5-3.1-2.9-3.2-2.4-3.3-2-8.7-4.3-10.1-3.8-11.6-3.1-13-2.6-14.7-2-14.1-1.2-15.9-0.5-15 0.1-17.5 0.9-16.8 1.6-15.6 2.2-15.3 2.9-14 3.4-12.9 3.8-11.9 4.3-10.7 4.8-9.6 5.4-4.2 2.9-3.3 2.7-3.2 2.9-2.3 2.6-2 2.8-1.4 2.6-1 2.4-0.7 3.3-0.1 3.2 0.5 2.9 1.1 2.9 2.1 3.5 3 3.3 2.6 2.4 4.2 3 4.9 2.7 5.4 2.6 6.2 2.4 12.2 3.7 14.4 3.1 16.5 2.4 18.2 1.4 17.7 0.4 18.5-0.5 19.3-1.5 19.5-2.5 17.5-3.3 15.7-3.8 15.2-4.7" fill="none" stroke="#ffe620" stroke-width="1.35"/>
<path d="M1604.2 403.2l13.1 1.2 12 0.7 12.6 0.4 12.7 0.1 13-0.3 13.9-0.6 13-0.9 12.9-1.2 13.8-1.6 12.2-1.7 11.9-2 13-2.6 10.5-2.3 11.8-3.1 11.1-3.2 10.5-3.4 9.7-3.5 9.1-3.8 8.4-3.9 7.7-4.1 7-4.2 6.3-4.4 5.6-4.6 4.7-4.8 3.9-5 2.5-4.3 1.7-4.7 0.9-4.6-0.2-5-1-4.1-1.7-3.9-2.9-4.4M1743.8 275.7l-19.5-0.7-19.9 0-20.3 0.9-21.3 1.6M1513.7 324.4l-4.8 4.4-4.2 4.8-3 4.4-2.3 4.7-1.3 4.5-0.4 5.3 0.8 4.6 1.6 4.5" fill="none" stroke="#d2ff30" stroke-width="1.35"/>
<path d="M1857.4 383.6l12.1-6.2 11.8-7.2 9.1-6.7 4.3-3.8 3.3-3.3 3.6-4 2.5-3.4 2.2-3.4 1.7-3.5 1.4-3.5 1-3.6 0.5-3.8 0-3M1655.1 423.5l22.4-0.8 23.3-1.6 22.2-2.4 22.8-3.2 21-3.8 21.6-4.7 19.8-5.3 17.2-5.3M1457.6 342l-1.1 2.2" fill="none" stroke="#8cff20" stroke-width="1.35"/>
<path d="M1939 351l3.2-6 2.3-6.3M1690.1 437.5l23.2-2 20.1-2.4" fill="none" stroke="#50f028" stroke-width="1.35"/>
<path d="M1453.9 343.2l-16.6-289 268.9-51.2 268.9 51.2-16.5 289M1706.2 3l0 260.9" fill="none" stroke="#2a2a2a" stroke-width="1.1"/>

<path d="M1706.2 360.2l17-22.1 16.8-20 16.6-17.8 17.6-16.6 16.2-13.4 17.1-11.9 16.7-9.6 7.8-3.6 8.7-3.6 7.6-2.5 8.6-2.3 7.4-1.5 8.3-1.1 7.3-0.5 8.2 0.1 8.1 0.6 7.9 1.3 6.9 1.6 7.8 2.4 7.7 3 7.5 3.5 7.4 4.1 7.3 4.6 14.3 10.8-15.4-28.4-15.5-25.9-15.5-23.2-15.5-20.6-14.5-16.8-15.5-15.5-19-16.2-19.3-14.4-20.8-13.2-10.7-6-10.5-5.3-10.1-4.6-11.3-4.5-20.6-6.6-20.5-4.5-11.1-1.6-10.7-1-10.3-0.4-10.5 0.1-11 0.7-11 1.3-14.6 2.6-14 3.4-13.6 4.2-13.7 5.1-13.9 6.2-14 7.1-13.1 7.5-14 9-13.8 9.8-13.8 10.7-13.6 11.5-13.5 12.3-13.4 13.2-14.5 15.2-12.7 14.4-11.5 14.1 7.1-7.4 7.2-6.7 7.4-5.9 7.4-5.1 7.7-4.3 7.7-3.5 7.9-2.7 7-1.7 8.1-1.1 7.2-0.3 8.3 0.6 7.3 1.2 8.6 2.2 7.5 2.7 8.8 3.9 7.7 4.2 8.9 5.7 7.8 5.8 9.1 7.5 8 7.3 9.3 9.2 8.1 8.9 16.4 20 17.8 24.8 16.8 26.1 18.1 31.3z" fill="#08f00b"/>
<path d="M1711.4 349.3l3.2-0.3 17-21.2 16.7-18.8 16.6-16.7 17.4-15.6 15-11.4 14.7-9.7 14.5-7.9 15.3-6.5 14-4.2 14.8-2.6 14.4-0.7 14.2 1.2 12.8 2.7 12.5 4.3 8.6 3.8 8.3 4.6 9.2 5.8 8.1 6.1 1.1-2.6-17.7-31.9-17.7-28.2-8.9-12.9-8.9-11.9-8.9-11.2-8.8-10.2-8.9-9.5-8.9-8.5-11.4-10-11.1-8.9-11.3-8.5-11.4-7.8-11.4-7.2-11.3-6.4-11.3-5.8-10.7-4.9-11.8-4.7-10.1-3.5-10.5-3.1-11.8-2.9-10.5-1.9-12.3-1.6-11.9-0.9-11-0.2-11.1 0.4-11 1-11 1.5-12.3 2.4-11.3 2.9-10.9 3.3-10.7 3.9-10.8 4.4-11.1 5.1-12 6.2-10.5 6.1-12.3 7.6-10.4 7.2-12.1 8.9-22.5 18.5-11.7 10.7-11.6 11.2-22.4 23.8-19.6 23.3 7.1-7.4 7.2-6.7 7.4-5.9 6.5-4.5 7.6-4.4 6.8-3.2 7.8-2.9 7-1.9 8-1.3 7.2-0.5 7.2 0.3 7.4 0.9 8.5 1.9 7.5 2.4 7.6 3 7.7 3.8 14.4 9 14.7 11.5 14.9 13.9 13.9 15.2 10.6 12.8 9.4 12.4 9.5 13.4 9.6 14.3 19.3 31.5 20.3 37.2z" fill="#15f108"/>
<path d="M1720.2 338l3.4-0.4 16.4-19.5 15.4-16.6 15.3-14.7 15.1-12.9 13.7-10.2 13.6-8.8 13.4-7.2 14.2-6.1 13-4 12.7-2.7 12.5-1.2 13.2 0.3 7.1 0.9 7.9 1.5 7.8 2 7.7 2.7 7.6 3.3 7.5 3.8 14.4 9 3-6.4-18.5-32.2-17.8-27.2-8.9-12.3-8.8-11.5-8.9-10.6-10-10.9-8.8-8.8-10.1-8.9-12.5-10.3-11.9-9-11.3-7.9-11.2-7.1-11.4-6.6-13.1-6.8-20.6-8.9-11.2-4-10.7-3.1-9.9-2.5-11.2-2.2-11.1-1.6-11.2-1-11-0.4-11.1 0.2-11 0.8-10.9 1.3-11.1 2-10.9 2.5-10.8 3-10.9 3.6-10.7 4.1-10.9 4.8-11.2 5.4-11.2 6.1-21.5 13.4-10.4 7.3-12 9.1-22 18.4-22.1 21-21.9 23.3-18.4 22.1 7.1-7.4 6.3-5.9 7.3-6 6.6-4.6 7.5-4.5 6.8-3.3 6.8-2.7 7-2 7-1.4 7.1-0.7 7.2-0.1 7.3 0.6 7.4 1.3 7.5 2 7.5 2.7 7.7 3.4 8.8 4.7 7.8 5 8.9 6.5 8 6.5 9.1 8.3 8.1 8 16.3 18.3 17.7 23 16.7 24.4 16.8 27.4 17.4 31.2z" fill="#26f107"/>
<path d="M1729.5 326.5l3.6-0.4 14.1-15.9 14.1-14.5 14.1-13.1 13.8-11.4 12.6-9.1 12.4-7.8 12.3-6.6 12-5.2 14.1-4.7 13.8-2.9 13.5-1.2 13.2 0.4 13 2 13.7 3.9 12.3 5.3 12.8 7.1 3.2-5.2 2.1-5.3-18.1-30.5-8.8-13.6-10-14.2-8.9-11.8-8.9-10.9-8.9-10.1-9.9-10.3-9.6-8.9-13.1-11-12.1-9.4-12.4-8.7-12.8-8.3-11.6-6.7-11.9-6.2-12.5-5.7-11.3-4.5-10.1-3.5-10.5-3.1-11.2-2.7-10.7-2-10.2-1.4-10.2-1-10.3-0.4-10.5 0.1-10.5 0.7-10.5 1.2-10.7 1.7-10.8 2.3-10.8 2.8-10.5 3.3-10.7 4-10.8 4.5-10.6 5-21.2 11.5-21 13.6-20.7 15.6-21.4 18.4-20.5 19.7-20.6 21.9-18.4 22.1 12.5-12.5 6.4-5.4 6.5-4.7 6.6-4.2 6.7-3.6 6.8-2.9 6.9-2.3 7-1.7 7-1 7.2-0.4 6.2 0.3 7.4 0.9 7.4 1.6 7.5 2.3 6.5 2.5 8.8 4.2 7.7 4.4 8.9 5.9 7.9 6 9.1 7.7 8 7.5 16.3 17.3 17.6 21.7 16.6 23.4 16.8 26.4 17.9 31.1z" fill="#37f206"/>
<path d="M1739.6 314.8l3.8-0.4 12-12.9 13-12.5 12.8-11.3 12.6-10 10.3-7.1 11.2-7 11.2-5.9 10.9-4.8 13-4.5 12.8-2.9 12.6-1.6 12.3-0.1 12.1 1.2 12.8 2.9 12.5 4.4 11.5 5.5 5.2-7.4 1.7-3.7 1.3-3.7-9.7-16.2-8.9-14-17.8-25.2-8.8-11.4-10-11.7-8.9-9.5-10-9.7-11.5-10.1-13.2-10.5-13.1-9.6-12-8-12.5-7.5-13.3-7.1-13-6.1-13.1-5.3-20.6-6.6-20.5-4.5-20.4-2.5-20.3-0.4-20.2 1.5-20.1 3.4-20.3 5.5-10.5 3.5-10.7 4.3-20.3 9.4-20.4 11.6-19.2 12.7-20.7 15.7-20.4 17.6-20.1 19.4-20.3 21.6-18.4 22.1 12.5-12.5 11.9-9.5 6.6-4.3 6.7-3.6 6.8-3 5.9-2.1 7-1.9 6-1.1 7.1-0.6 6.2 0 7.3 0.6 6.3 1.1 7.5 1.9 6.5 2.2 8.7 3.7 7.7 4 8.8 5.4 7.9 5.6 9 7.2 8 7.1 16.2 16.4 17.6 20.9 16.6 22.5 16.7 25.5 17 28.8 28-2.1z" fill="#49f306"/>
<path d="M1750.7 302.9l4-0.6 11.3-11.2 11.7-10.5 10.4-8.5 11.4-8.4 9.1-6 9-5.3 8.9-4.7 8.8-3.9 11.9-4.4 11.8-3.1 11.6-1.9 12.4-0.7 11.2 0.5 11.9 1.9 10.8 3 11.1 4.3 4.2-4.5 3.6-4.9 2.7-5.1 1.4-4.8-8.9-14.4-10-15.1-8.8-12.5-10-13.1-8.9-10.7-10-11-8.8-8.9-9.3-8.4-13.1-10.9-13.2-10-13.1-9.1-13.2-8.2-13.2-7.3-13.4-6.6-12.8-5.4-13.9-4.9-19.8-5.4-20.2-3.5-18.8-1.6-20.3 0.3-20.2 2.2-19.5 4-20.4 6.2-19.7 7.8-19.5 9.6-19.3 11.3-19.2 13-20.6 16-20.4 17.9-19.4 19-18.7 20.2-17.3 20.8 11.6-11.7 11.9-9.6 12.3-7.6 6.8-3.2 5.8-2.3 7-2 6-1.3 12.2-1 7.3 0.4 6.3 0.8 12.8 3.1 8.6 3.3 7.7 3.6 7.7 4.3 7.8 5 9 6.7 7.9 6.6 16.1 15.3 9.3 10.1 8.2 9.7 16.5 21.5 16.7 24.4 17.1 27.9 36.1-2.5z" fill="#5af305"/>
<path d="M1763 290.5l4.4-0.7 11.5-10.2 10.3-8.4 10.3-7.5 10.2-6.7 9-5.3 8.9-4.5 8.8-3.9 8.7-3.2 8.6-2.5 9.5-2.1 9.4-1.3 9.4-0.5 9.1 0.3 9.1 1 8.9 1.8 8.6 2.5 6.5-5.8 5-6.1 3.5-6.1 1.8-6.2-9-13.9-10-14.6-10-13.4-10-12.3-8.9-10.1-9.9-10.3-8.9-8.2-12.5-10.6-12.6-9.8-13.2-9.4-13.1-8.4-13.8-7.9-12.5-6.4-13.7-6-14.5-5.3-13.1-4-18.6-4.2-18.6-2.5-18.5-0.8-20.2 1-18.9 2.7-19.4 4.5-18.6 6-19.3 8.1-19.3 9.8-19.3 11.6-19.1 13.3-19 15-18.6 16.4-20 19.7-18.1 19.5-17.3 20.8 11.6-11.7 11-9 12.2-7.7 11.7-5.3 11.9-3.4 12.1-1.5 12.5 0.5 12.7 2.5 8.6 2.8 7.6 3.1 7.7 3.9 7.7 4.7 9 6.1 7.9 6.2 7.9 6.9 8.1 7.6 16.2 17.5 16.5 20.4 16.6 23.4 17 26.7 22.9-1.3 23.2-1.9 23.5-2.5z" fill="#6bf405"/>
<path d="M1777.3 277.6l5.1-0.9 9.1-7.2 9.2-6.6 9-5.9 9-5.3 13.3-6.5 14.1-5.4 15-3.9 14.7-2 14.3 0 7.1 0.7 7.9 1.3 10.1-7.5 7.1-7.5 2.6-3.8 1.9-3.7 1.3-3.6 0.6-3.7-9.9-14.7-10-13.8-10-12.7-11-12.9-8.9-9.3-10-9.4-11.4-9.8-12.9-10.2-13.2-9.5-13.2-8.6-13.1-7.7-13.2-6.8-13.1-5.9-14.6-5.6-13.5-4.2-13.1-3.2-18.6-3.2-18.5-1.5-18.5 0.2-18.3 1.8-18.2 3.4-18.5 5-19.2 6.9-18 8.2-18.3 9.8-18.7 11.8-18.4 13.2-17.7 14.4-18.6 16.7-18.4 18.3-17.6 19.2-16.1 19.4 10.7-10.8 11-9.2 11.2-7.4 11.6-5.5 11.9-3.8 11.1-1.7 12.3 0 11.6 1.7 8.6 2.3 7.5 2.8 7.7 3.5 7.7 4.2 7.8 5 7.8 5.6 7.9 6.4 8 7.1 16.2 16.4 16.4 19.4 16.6 22.3 16.5 24.9 29.1-1.4 29-2.4 26.3-3.1z" fill="#7cf504"/>
<path d="M1795.2 263.6l6.4-1.3 11.5-7.4 11.1-6.1 11.1-5 11.9-4.4 10.7-2.9 10.6-1.9 10.4-0.9 9.5 0.1 7.9-4.5 7.2-4.7 5.7-4.4 4.8-4.6 3.8-4.8 2.7-4.6 1.6-4.6 0.6-4.6-10.5-14.9-10-13.1-10-12-10-10.9-10-9.8-10.7-9.5-13.2-10.7-13.2-9.8-13.1-8.7-13.2-8-13.1-7-13.2-6.2-13.1-5.3-13.1-4.4-14.3-3.9-13.7-2.8-16.7-2.2-18.5-0.8-18.4 0.8-18 2.4-18.5 4-16.7 5.1-17.5 6.7-18.5 8.7-18.7 10.5-17.4 11.3-17.8 13.1-17.4 14.3-17.8 16.2-18.4 18.4-17 18.8-15 18.1 10.7-10.8 10-8.5 11.3-7.5 10.6-5.3 10.8-3.8 11-2.2 11.3-0.5 11.5 1.1 7.4 1.6 7.5 2.3 7.6 3 7.7 3.7 7.7 4.4 7.8 5.1 7.9 5.9 7.9 6.6 16.1 15.3 16.3 18.3 16.5 21.3 15.7 22.7 36.1-1.6 34-2.9 33.8-4.4z" fill="#8df504"/>
<path d="M1823.6 246.3l21.4-6.2 18.4-6.5 15.9-7 13.4-7.3 5.8-3.9 5-3.9 4-3.8 3.5-4.1 2.5-3.8 1.8-4 0.9-3.8 0.2-4.1-10.9-14.7-10-12.3-10-11.3-9.9-10.2-11.4-10.3-13.4-11-13.5-10.2-13.4-9.1-13.2-8.1-13.1-7.2-13.2-6.3-13.1-5.4-13.1-4.6-13.7-3.8-14.3-3.1-13-1.9-16.7-1.3-17.4 0.2-17.6 1.5-16.4 2.9-16.7 4.1-17.7 5.9-16.1 6.7-17.7 8.8-15.8 9.1-17.5 11.4-17.2 12.9-17.1 14.1-16.9 15.4-18.4 18.4-18.2 20.1-9 10.7-1.5 2.5 9.2-8.9 10.1-8.2 9.4-6.1 9.6-4.9 10.8-3.9 10-2.2 10.2-0.9 10.4 0.6 7.3 1.2 7.5 1.9 7.5 2.6 7.7 3.3 7.7 4 7.7 4.7 14.6 10.7 8 6.8 8 7.5 15.1 15.9 16.4 20 15.7 21.7 23.3-0.7 23.4-1.3 22.9-1.9 21.2-2.4 21.2-2.9 21.3-3.7 19.5-3.9z" fill="#9ef603"/>
<path d="M1821.8 235.8l20.4-5.9 18.1-6.5 15.6-6.9 13.1-7.3 5.5-3.8 4.7-4 3.6-3.6 2.9-3.8 2.3-3.9 1.4-4 0.5-3.6-0.2-3.8-9.7-12.5-10-11.7-8.9-9.5-10-9.7-13.4-11.6-13.1-10.4-13.2-9.5-12.4-8.1-12-7.1-13.8-7.3-12.5-5.7-13.2-5.2-13.1-4.3-13-3.5-13.1-2.6-13-1.8-16.7-1.1-16.6 0.2-16.5 1.5-16.4 2.9-16.7 4.1-16.4 5.4-16.5 6.8-16.8 8.2-16.9 9.6-17 11.1-16.7 12.3-17.1 14-18.6 16.9-18.4 18.4-19.1 21.1-3.9 6.5 10.8-9.3 11.2-7.7 11.6-5.8 10.8-3.8 12-2.3 11.3-0.4 11.5 1.3 11.8 2.9 11.9 4.7 12.1 6.5 12.3 8.2 12.4 10.1 12.6 11.8 12.8 13.6 11.7 14 12.9 16.9 23.3-0.4 22.6-1 25.2-1.9 21.4-2.2 21.6-2.8 22.8-3.8 21-4.2z" fill="#aff703"/>
<path d="M1822.4 224.7l19-5.7 17.5-6.5 14.2-6.5 12.4-7.3 4.8-3.5 4.3-3.9 3.3-3.7 2.4-3.6 1.7-3.6 1-3.7 0.1-3.9-0.6-3.5-9.2-11-10-11-9.9-10-9.2-8.2-12.1-10-13.2-10-13.1-9.1-13.2-8.2-12.3-6.9-12.1-6-11.8-5.1-12.6-4.7-11.9-3.7-12.4-3.2-13-2.5-13-1.7-16.7-1-16.3 0.4-15.8 1.6-16.1 2.8-16.2 4-16.4 5.4-16.5 6.8-16.8 8.2-16.9 9.6-17 11.1-16.7 12.3-17.1 14-20.3 18.5-20 20.3-9.6 10.9-2.5 4-1.4 3.7 10.2-7.8 10.4-6.3 10.7-4.8 9.9-3 11.1-1.7 10.3-0.2 10.4 1.3 10.7 2.6 11.9 4.5 11 5.7 11.1 7.1 11.3 8.6 11.4 10.1 11.5 11.6 11.7 13 11.8 14.7 24.4-0.2 24.7-0.9 24.7-1.7 24.3-2.4 23.2-3 22.6-3.7 20.8-4.2z" fill="#c0f702"/>
<path d="M1810.2 216.8l21.6-6 18.2-6.2 15.4-6.8 6.8-3.5 6.6-4.1 4.6-3.4 4.6-4 3.2-3.6 2.7-4.2 1.6-3.9 0.7-3.7-0.3-3.7-1.2-3.8-9.2-10.3-9.9-10.2-8.5-7.8-11.8-9.9-12.6-9.8-11.3-8.1-12.4-8.1-12-7.1-11.5-6.1-11.9-5.6-12.1-5-12.2-4.3-12.3-3.6-11.2-2.6-11.4-2-12.8-1.6-15.4-0.8-16 0.4-15.5 1.6-16.1 2.8-16.2 4-15.9 5.2-16.1 6.6-16 7.7-15.8 8.9-17.5 11.1-17.3 12.6-17.1 13.9-20.3 18.3-21.6 21.8-2.7 3.3-1.9 3.2-1.5 3.5-0.7 3.2 9-6 9.6-5 9.8-3.7 9-2.3 10.1-1.2 9.3 0 10.5 1.4 9.6 2.4 10.8 4.1 9.9 4.8 9.9 6.1 10.1 7.3 10.3 8.5 10.3 9.6 10.4 10.9 11.2 13 24.4 0.1 23.5-0.5 23.4-1.3 24.2-2 22.2-2.6 23.5-3.5 21.4-3.9z" fill="#d1f801"/>
<path d="M1815.4 204.4l19.4-5.9 16.9-6.3 13.4-6.5 10.8-7 4.6-3.8 3.3-3.6 2.4-3.4 1.8-3.7 0.8-3.4 0-3.7-0.9-3.4-1.7-3.4-8.4-8.7-8.9-8.3-11.2-9.6-11.3-9.1-11.3-8.3-11.5-7.7-11.6-7.1-11.7-6.6-11.9-5.9-11.5-5-11.2-4.3-11.3-3.6-11.2-3-11.1-2.4-11.2-1.8-11.1-1.2-16.2-0.7-15.2 0.5-14.7 1.6-15.1 2.7-16.2 4-15.9 5.2-14.3 5.8-16 7.6-15.9 8.7-17.5 11.1-15.6 11.1-17.2 13.7-18.6 16.4-19.4 19.1-2.5 3.1-2 3.4-1.2 2.9-0.6 3.2 0.1 2.8 8.9-4.9 9.7-4 10-2.7 9.1-1.3 8.2-0.2 8.3 0.6 8.5 1.6 7.5 2 8.6 3.3 8.8 4.2 8.8 5.1 8.9 6 9.1 7 9.1 7.9 9.2 8.9 9.6 10.3 26 0.6 25.1-0.4 25.5-1.1 26.1-2.1 26.7-3.1 24.5-3.8 22.1-4.3z" fill="#e2f901"/>
<path d="M1807 195.4l20-5.8 16.3-5.9 14.5-6.7 10.9-6.8 4.2-3.4 3.4-3.5 2.3-3.3 1.8-3.7 0.8-3.5-0.1-3.6-1-3.3-2-3.5-4.7-5.1-11.5-10.1-11.7-9.6-11.3-8.5-11.3-7.9-10.9-7-21-11.6-11.3-5.4-10.4-4.4-10.2-3.7-11.2-3.6-10.6-2.7-10.1-2.2-11-1.7-11.1-1.2-14.8-0.7-14.5 0.4-15 1.4-14.6 2.5-14.5 3.4-14.9 4.6-15.7 6-14.7 6.6-16.8 8.9-16.2 9.9-15.7 10.8-16.6 12.7-17.6 15-18 17-2.6 3-1.9 3-1.3 3.2-0.6 3.1 0.2 3.3 0.9 3.1 7.6-3.2 7.9-2.5 8-1.6 7.1-0.7 8.3-0.1 8.3 0.9 8.5 1.8 7.5 2.3 7.6 3 7.7 3.7 14.4 8.7 14.6 11.3 14.7 13.6 25.3 1 25.9 0.1 26.3-0.8 25.3-1.6 26.3-2.7 25.3-3.5 24.1-4.3z" fill="#f3fa00"/>
<path d="M1802.4 185.3l18.7-5.3 16.3-5.8 13.6-6.3 10.3-6.4 4.1-3.3 3.3-3.5 2.3-3.3 1.6-3.5 0.6-3.2-0.2-3.5-1.1-3.2-1.8-3-3.6-3.9-11.2-9.4-11.2-8.8-11.3-8.2-20.2-12.9-20.7-11.1-20.6-8.9-20.6-6.8-20.5-4.7-20.4-2.6-14.8-0.7-14.5 0.4-13.2 1.2-14.6 2.3-14.5 3.3-14.5 4.3-14.3 5.3-14.3 6.2-16 8.1-15.8 9.3-15.7 10.3-16 11.9-17.4 14.3-15.9 14.4-2.6 3.2-1.7 2.6-1.2 2.9-0.5 3.1 0.1 2.8 0.6 2.5 3 5.1 6.4-1.8 7-1.3 7.1-0.6 6.2 0 7.3 0.6 6.3 1.1 7.5 1.9 6.5 2.2 10.9 4.7 11 6.3 11.2 7.7 10.7 8.6 4.6 0.4 25.3 1.5 25.7 0.5 26.6-0.5 26.5-1.4 28-2.6 25.8-3.4 24.2-4.3z" fill="#fff400"/>
<path d="M1804.1 173.4l16.8-5.1 14.5-5.5 11.3-5.6 8.9-6 3.3-3 2.6-3 1.8-2.9 1.2-3.2 0.4-3-0.4-3-1.2-2.9-1.8-2.7-3.5-3.6-11.6-9.2-20.5-14.6-18.9-11.5-20.7-10.5-19.6-8-19.7-6.1-20.1-4.2-19-2.3-14.3-0.5-13.4 0.4-12.9 1.2-14.6 2.3-12.7 2.9-14.5 4.1-12.5 4.5-14.4 6-14.2 6.9-15.8 8.9-15.8 10-15.5 11-15.5 12.3-14.4 12.5-2.5 2.7-1.9 2.9-1.3 2.9-0.6 2.8 0.4 4.1 1.7 3.9 3.4 4.1 4.8 3.8 6.2-0.4 7.2 0.1 7.3 0.8 6.4 1.3 9.6 2.8 9.8 3.9 9.9 5.2 8.9 5.6 30.4 3.2 26.1 1.3 25.3 0.2 26.4-0.8 25-1.6 25.8-2.6 23.2-3.3 23.5-4.3z" fill="#ffdf00"/>
<path d="M1788 166l17.3-4.6 15.7-5.2 13.2-5.6 10-5.8 6.9-5.8 2.3-2.8 1.6-3 0.9-3 0-2.9-0.7-2.7-1.5-3-3.2-3.6-5.8-4.7-11.4-8.2-11.3-7.5-18.8-11.1-18.8-9.3-18.7-7.5-18.7-5.7-18.7-4-18.5-2.3-13.6-0.7-13.1 0.3-13.1 1-13.3 1.9-13.5 2.8-13.5 3.6-13.2 4.4-12.5 5-15.7 7.3-14.5 7.8-14 8.5-15.6 10.6-15.5 11.7-12.3 10.2-2.7 3-1.7 2.6-1 2.3-0.5 2.7 0.1 3.1 1 2.9 1.8 2.8 2.5 2.7 3.1 2.5 4.4 2.8 11.1 5.2 14.3 4.5 15.9 3.6 18.7 3 21.6 2.4 21 1.3 23.8 0.6 24.2-0.3 24.2-1.2 23.5-1.9 24.3-3 21.7-3.5z" fill="#ffcb00"/>
<path d="M1779.9 156.3l17.4-4.4 15-4.8 12.6-5.2 9.6-5.2 7-5.6 2.3-2.7 1.6-2.7 1-2.9 0.1-2.9-0.6-2.6-1.3-2.5-2.2-2.8-3.5-2.9-11.3-7.9-10.9-7-17.3-9.7-18.7-8.9-16.9-6.5-16.8-5.1-17.6-3.8-17.8-2.4-13-0.7-12.9 0-12.8 0.9-12.9 1.6-12.7 2.4-12.7 3.2-12.7 3.9-12.5 4.7-14.3 6.2-14.2 7.2-14.1 8-14 9-13.8 9.8-12.6 9.8-2.7 2.8-1.6 2.5-1.1 2.2-0.6 2.7 0.1 2.6 0.9 2.9 1.7 2.8 2.5 2.6 6.9 4.8 10.4 4.7 13.1 4.2 14.6 3.3 16.9 2.8 19.7 2.1 20.5 1.4 21.3 0.6 21.8-0.1 24.5-1.1 23.6-1.9 21.2-2.4 20.4-3.2z" fill="#ffb600"/>
<path d="M1776.9 145.3l15.2-4 13.7-4.4 10.8-4.5 8.8-4.8 6.6-5.2 3.4-4.8 0.9-2.7 0.1-2.3-0.6-2.6-1.2-2.4-2.3-2.7-3.5-2.9-18.1-11.3-17.5-9.4-18.2-8-16.8-6.1-16.2-4.4-15.5-3.1-16.7-2-11.2-0.6-12.9 0-11 0.7-12.8 1.6-12.8 2.3-11.3 2.6-12.3 3.6-12.2 4.4-13.8 5.7-14 6.7-13.4 7.4-14 8.6-12.2 8.3-9.3 6.9-4.1 4.9-1.1 2.5-0.5 2.3 0.2 2.6 0.9 2.4 1.5 2.4 2.4 2.5 7 4.7 9.8 4.2 12.2 3.8 14.7 3.2 17.2 2.6 18.4 1.9 19 1.1 21.6 0.5 22-0.4 20.9-1 20.3-1.7 20.8-2.4 18.6-3z" fill="#ffa200"/>
<path d="M1765.8 135.8l15.3-3.6 13.2-4 11.2-4.3 8.4-4.3 6.5-4.7 3.9-4.7 0.9-2.4 0.3-2.2-0.3-2.2-1.1-2.4-2.1-2.7-3.4-2.8-13.5-8-16.7-8.5-16.9-7.1-15.2-5.2-14.9-4.1-14.9-2.9-14.9-1.9-11.1-0.7-12.1 0-11.9 0.6-11 1.1-10.9 1.8-11.4 2.4-10.8 2.8-12.3 4-12.5 4.7-14.3 6.4-13.4 6.8-13.1 7.5-12.2 7.8-6.7 4.8-4 4.5-1.1 2.3-0.5 2.1 0.1 2.5 0.9 2.3 1.5 2.2 2.1 2.2 5.7 3.9 8.7 3.9 10.8 3.4 13.2 2.9 15.4 2.5 16.1 1.7 18.5 1.3 19 0.5 19.3-0.2 19.5-0.8 19.7-1.4 18.5-2 17.7-2.6z" fill="#ff8d00"/>
<path d="M1762.2 124.5l13.6-3.3 11.7-3.7 9.2-3.7 7.5-3.9 5.5-4.2 3-4 0.7-1.9 0.2-2.2-1.3-3.7-1.9-2.4-2.9-2.5-9.6-5.3-16.7-7.9-15.5-6.1-13.8-4.3-14.3-3.6-13.2-2.4-14.6-1.7-11-0.6-10.4 0-10.5 0.5-10.5 1-10.7 1.6-10.8 2.1-20.4 5.6-12.5 4.5-12.6 5.2-12.4 5.9-12.4 6.6-11.7 6.9-4 2.9-3.7 4-1 2-0.5 2.2 0.2 2.3 0.7 1.8 3.1 3.9 5.8 3.9 8 3.4 9.9 3 12 2.6 14 2.2 16.2 1.7 16.8 1 17 0.4 18-0.2 18.6-0.8 17.2-1.3 17.6-2 17.2-2.5z" fill="#ff7900"/>
<path d="M1755 113.6l11.4-2.8 9.9-3 8.4-3.2 6.9-3.6 5.2-3.8 2.6-3.4 0.9-3.4-1-3.4-1.3-1.8-2.2-2-5.5-3.3-15.3-6.6-14.9-5.5-13.1-3.8-12.5-2.9-12.7-2.1-12.7-1.4-19.7-0.6-19.4 1.3-19.1 3-19.9 5-12.2 3.9-11.2 4.3-12.5 5.5-12.4 6.2-6.3 3.5-4.3 3.2-2.6 3.3-1.1 3.2 0.2 1.9 0.7 1.8 2.9 3.4 5.3 3.4 7.2 3 10.2 2.9 11 2.3 12.8 1.9 13.1 1.2 14.9 0.9 16.1 0.3 15.8-0.2 17.1-0.8 30.1-2.8 15.6-2.4z" fill="#ff6400"/>
<path d="M1750.4 101.6l8.5-2.2 8.4-2.7 6.3-2.7 5.2-2.8 3.4-2.7 2.4-3.1 0.5-2.8-0.9-2.9-3.3-3.2-5-2.8-11.7-4.5-11.6-3.7-11.2-2.9-11.2-2.3-11.2-1.7-11.1-1.1-16.9-0.5-18.1 1-18.3 2.6-16.8 3.7-10.5 3.1-10.8 3.6-10.7 4.3-10.9 4.8-4.6 2.6-3.1 2.4-2.2 2.7-0.9 2.6 0.1 1.5 0.6 1.7 2.5 3 4.7 2.9 6.5 2.6 8 2.3 9.7 2 11.3 1.6 13.1 1.3 13.2 0.7 15.2 0.2 28.6-1.1 15.2-1.3 13.5-1.7 12.2-2z" fill="#ff5000"/>
<path d="M1734.7 91.4l15.5-4.1 5.8-2.2 4.9-2.4 3.2-2.3 2.2-2.4 0.7-2.5-0.6-2.4-1.4-1.7-2-1.5-6.2-3-11.5-3.3-13.4-3-12.6-1.9-12.8-1.3-11.5-0.4-13 0.3-12.8 1.1-12.8 1.8-13.2 2.8-13.5 3.6-13.6 4.6-6.6 3-4.9 3.5-1.4 2-0.5 1.8 0.5 2.5 2.2 2.5 3.5 2.2 4.7 1.9 6.9 2 7.1 1.5 19.1 2.4 21.4 0.8 23.5-0.5 21.5-1.9z" fill="#ff3b00"/>
<path d="M1711.7 80.8l13.4-2.7 11-3.5 3.3-1.7 2.6-2.1 1.2-1.9-0.2-2-2-2.3-3.9-2-5.3-1.7-7.8-1.6-9.9-1.2-10.2-0.8-10.3-0.3-10.5 0.3-10.5 0.7-10.6 1.3-10.8 1.9-8.2 1.9-6.4 2-5.2 2.3-3.1 2.4-1.4 2.5 0.2 1.4 1.3 1.7 2.3 1.6 3.4 1.5 9.3 2.4 11.1 1.6 14.3 0.8 13.7 0 15.2-0.9z" fill="#ff2700"/>
<path d="M1706.2 360.2c-48.7-96.2-96.5-156.4-140.6-180.6c-44.2-24.4-84.5-13.2-119.6 25.8M1706.2 360.2c48.7-66.4 95.6-105.7 138.9-120.1c43.2-14.4 82.8-4.1 117.9 25.6M1713.5 350.5c-48.6-96-96.5-156-140.7-180c-44.2-24.3-84.7-12.8-119.9 26.3M1698.9 346.1c48.8-66.2 95.8-105.3 139.1-119.4c43.4-14.2 83.1-3.5 118.4 26.5M1720.8 341.1c-48.6-95.8-96.5-155.6-140.7-179.3c-44.3-24.1-84.9-12.5-120.3 26.8M1691.7 332.5c48.7-66.1 95.8-104.9 139.3-118.7c43.5-13.9 83.4-2.9 118.8 27.4M1728 332.2c-48.5-95.6-96.4-155.2-140.7-178.8c-44.3-23.9-85-12.1-120.6 27.4M1684.4 319.4c48.8-65.8 95.9-104.5 139.5-118c43.6-13.6 83.7-2.4 119.3 28.2M1735.2 323.6c-48-94.4-95.4-153.6-139.3-177.4c-43.6-23.9-83.8-13.6-119.1 23.6M1677.1 306.8c48.9-65.6 96.1-104 139.8-117.2c43.7-13.5 83.9-1.9 119.7 29M1742.4 315.5c-47-92.3-93.4-150.8-136.7-175.4c-43.3-24.9-83.3-16.1-118.7 19.2M1669.9 294.8c48.9-65.4 96.2-103.6 139.9-116.6c43.8-13.2 84.2-1.4 120.1 29.8M1749.5 307.7c-46.4-91.1-92.3-149.2-135.3-174c-42.5-24.9-81.9-17.5-117 15.6M1662.7 283.4c48.9-65.3 96.2-103.2 140.1-116c43.9-12.9 84.4-.9 120.5 30.4M1756.6 300.3c-45.3-88.9-90.3-146.3-132.5-171.8c-42.2-25.8-81.6-19.9-116.6 11.4M1655.5 272.4c48.9-65 96.3-102.7 140.3-115.3c44-12.7 84.6-.5 120.8 31.1M1763.7 293.4c-44.8-87.8-89.3-144.7-131.1-170.5c-41.4-25.7-80.2-21.2-114.8 8M1648.4 262c48.9-64.8 96.3-102.3 140.4-114.7c44-12.5 84.8 0 121.1 31.8M1770.7 286.8c-44.2-86.6-88.2-143.1-129.7-169.1c-41-25.9-79.5-22.3-114.1 5.6M1641.2 252.2c49-64.6 96.4-101.9 140.6-114.1c44.1-12.3 84.9 .3 121.5 32.3M1777.7 280.6c-43.2-84.5-86.2-140.2-126.9-166.8c-40.7-26.8-79-24.6-113.5 1.5M1634.2 242.9c48.9-64.4 96.4-101.5 140.6-113.5c44.2-12.2 85.1 .6 121.8 32.8M1784.6 274.8c-42.6-83.3-85.1-138.6-125.4-165.3c-39.8-26.7-77.5-25.7-111.6-1.8M1627.1 234.1c48.9-64.2 96.4-101.1 140.7-112.9c44.3-12 85.4 1 122.2 33.3M1791.5 269.5c-41.6-81.3-83.1-135.8-122.5-163.1c-39.1-27.1-76.1-27.9-109.8-6.4M1620.1 225.9c48.9-64 96.4-100.7 140.8-112.4c44.3-11.8 85.5 1.3 122.4 33.8M1798.4 264.4c-40.6-79.1-81.1-132.8-119.7-160.5c-38.7-27.9-75.5-30.1-109.1-10.3M1613.1 218.3c48.9-63.8 96.4-100.4 140.8-111.9c44.5-11.7 85.7 1.6 122.8 34.1M1805.2 259.8c-40-78-80-131.1-118.2-159.1c-37.8-27.7-73.9-30.8-107-13.1M1606.2 211.1c48.8-63.6 96.4-100 140.8-111.3c44.5-11.5 85.8 1.8 123 34.5M1812 255.6c-39-75.9-78-128.3-115.4-156.6c-37.4-28.4-73.2-32.9-106.2-16.8M1599.3 204.5c47.8-62.1 94.5-98.1 138.2-110.1c43.7-12.1 84.5-.3 121.4 30.3M1818.7 251.7c-38.4-74.8-76.9-126.6-113.8-155c-36.6-28.1-71.6-33.6-104-19.3M1592.4 198.5c46.3-60 91.6-95.6 134.2-108.5c42.6-13.1 82.5-3.5 118.8 23.9M1825.4 248.3c-37.4-72.8-74.9-123.7-111-152.4c-36.1-28.8-70.8-35.5-103.1-22.9M1585.6 193c44.8-57.9 88.7-93 130.1-106.8c41.5-13.9 80.5-6.5 116.2 17.9M1832 245.2c-36.4-70.7-72.8-120.7-108-149.7c-35.3-29.1-69.3-37.1-101-26.7M1578.9 188c86.7-112.3 169.4-136.4 239.3-92.8M1838.5 242.5c-35.7-69.6-71.6-119.1-106.4-148.1c-34.3-28.7-67.5-37.6-98.6-28.9M1572.2 183.6c83.7-108.1 163.8-134.3 232.2-96.4M1845.1 240.1c-69.6-135.6-139.5-192.4-201.2-177.3M1565.6 179.6c80.6-103.9 158.1-131.9 225-99.5M1851.5 238.1c-67.5-131.5-135.4-188.7-195.9-177.7M1559 176.3c77-99.2 151.4-129.1 216.4-102.9M1857.9 236.5c-65.9-128.3-132.3-185.8-191.9-177.7M1552.4 173.4c74.1-95.1 145.8-126.4 209-105.1M1864.3 235.3c-63.9-124.2-128.3-182-186.6-177.7M1546 171c70.5-90.4 139-123 200.1-107.2M1870.6 234.4c-62.3-121.1-125.3-179-182.5-177.3M1539.5 169.2c67-85.7 132.4-119.5 191.2-108.8M1876.8 233.8c-60.2-117-121.2-174.9-177-176.7M1533.2 167.9c64-81.8 126.5-116.2 183.4-109.6M1883 233.7c-58.7-113.9-118.1-171.8-172.9-176M1526.9 167.1c60.5-77.2 119.7-112.1 174.2-109.9M1889.1 233.8c-56.6-109.9-114.1-167.5-167.4-174.8M1520.7 166.7c57-72.6 112.9-107.8 164.8-109.5M1895.2 234.3c-54.6-105.9-110.1-163.2-161.9-173.4M1514.5 166.9c53.5-68.1 106.2-103.2 155.4-108.6M1901.2 235.2c-53.1-102.9-107-159.9-157.6-172.1M1508.4 167.6c49.6-63 98.5-97.8 144.6-106.7M1907.1 236.4c-51-99-103-155.4-152-170.1M1502.4 168.7c46.1-58.5 91.7-92.7 135-104.3M1913 237.9c-49.1-95.1-99-150.8-146.4-167.8M1496.4 170.4c42.2-53.6 84-86.7 124-100.7M1918.8 239.7c-47.1-91.2-95-146.2-140.8-165.2M1490.5 172.5c38.8-49.2 77.2-81.2 114.3-96.8M1924.5 241.9c-45.1-87.3-91-141.5-135.1-162.4M1484.7 175c34.9-44.2 69.5-74.5 103.2-91.5M1930.2 244.4c-43.1-83.5-87.1-136.6-129.5-159.2M1478.9 178c31.1-39.3 61.9-67.6 92.1-85.3M1935.9 247.2c-41.2-79.7-83.2-131.7-123.9-155.7M1473.3 181.5c27.1-34.4 54.2-60.4 80.8-78.2M1941.4 250.3c-39.2-76-79.2-126.7-118.2-152M1467.7 185.4c23.3-29.5 46.6-52.9 69.6-70.1M1946.9 253.7c-37.3-72.2-75.4-121.6-112.5-147.9M1462.1 189.8c19.1-24.2 38.2-44.2 57-60.1M1952.4 257.4c-35.5-68.5-71.6-116.4-107-143.5M1456.7 194.6c15.3-19.4 30.6-36.1 45.8-50.2M1957.7 261.4c-33.5-64.8-67.6-111.2-101.2-138.8M1451.3 199.8c11.1-14.1 22.2-26.7 33.2-38M1963 265.7c-31.6-61.1-63.8-105.9-95.6-133.8M1446 205.4c6.9-8.8 13.8-17 20.7-24.6" fill="none" stroke="#000" stroke-width="0.92" stroke-opacity="0.82"/>
<path d="M1706.2 360.2l8.5-11.3 8.5-10.8 8.4-10.3 8.4-9.7 8.3-9.1 8.3-8.7 8.3-8 9.3-8.6 8.1-7 8.1-6.4 8-5.9 9.1-6 7.8-4.8 8.9-4.8 7.8-3.6 8.7-3.6 7.6-2.5 8.6-2.3 7.4-1.5 8.3-1.1 7.3-0.5 8.2 0.1 8.1 0.6 7.9 1.3 6.9 1.6 7.8 2.4 7.7 3 7.5 3.5 7.4 4.1 7.3 4.6 7.2 5.1 7.1 5.7-7.7-14.5-7.7-13.9-7.7-13.3-7.8-12.6-7.7-11.9-7.8-11.3-7.8-10.6-7.7-10-6.7-8-7.8-8.8-7.7-8.1-7.8-7.4-9.2-8.1-9.8-8.1-9.4-7.2-9.9-7.2-10.8-7.1-10-6.1-10.7-6-10.5-5.3-10.1-4.6-11.3-4.5-10.1-3.5-10.5-3.1-9.3-2.3-11.2-2.2-11.1-1.6-10.7-1-10.3-0.4-10.5 0.1-11 0.7-11 1.3-7.3 1.1-7.3 1.5-14 3.4-13.6 4.2-13.7 5.1-13.9 6.2-14 7.1-13.1 7.5-14 9-13.8 9.8-13.8 10.7-13.6 11.5-13.5 12.3-13.4 13.2-14.5 15.2-12.7 14.4-11.5 14.1 7.1-7.4 7.2-6.7 7.4-5.9 7.4-5.1 7.7-4.3 7.7-3.5 7.9-2.7 7-1.7 8.1-1.1 7.2-0.3 8.3 0.6 7.3 1.2 8.6 2.2 7.5 2.7 8.8 3.9 7.7 4.2 8.9 5.7 7.8 5.8 9.1 7.5 8 7.3 9.3 9.2 8.1 8.9 8.2 9.7 8.2 10.3 9.5 12.8 8.3 12 8.4 12.7 8.4 13.4 9.7 16.2 8.4 15.1 8.5 15.7z" fill="none" stroke="#000" stroke-width="1.0" stroke-opacity="0.88"/>
<g fill="#000"><circle cx="1437.3" cy="54.2" r="1.9"/><circle cx="1440.5" cy="109.2" r="1.9"/><circle cx="1443.6" cy="164.2" r="1.9"/><circle cx="1446.8" cy="219.3" r="1.9"/><circle cx="1449.9" cy="274.3" r="1.9"/><circle cx="1453.9" cy="343.2" r="1.9"/><circle cx="1517.0" cy="368.4" r="1.9"/><circle cx="1580.1" cy="393.6" r="1.9"/><circle cx="1643.1" cy="418.7" r="1.9"/><circle cx="1706.2" cy="443.9" r="1.9"/><circle cx="1769.3" cy="418.7" r="1.9"/><circle cx="1832.4" cy="393.6" r="1.9"/><circle cx="1895.5" cy="368.4" r="1.9"/><circle cx="1958.6" cy="343.2" r="1.9"/></g>
<g font-family="'Liberation Sans',Arial,sans-serif" font-size="13.99" fill="#1a1a22"><text transform="translate(1430.5 68.1) scale(0.829 1)" text-anchor="end">33.7</text><text transform="translate(1433.7 123.1) scale(0.829 1)" text-anchor="end">31.9</text><text transform="translate(1436.8 178.1) scale(0.829 1)" text-anchor="end">30.1</text><text transform="translate(1440.0 233.2) scale(0.829 1)" text-anchor="end">28.3</text><text transform="translate(1443.1 288.2) scale(0.829 1)" text-anchor="end">26.5</text><text transform="translate(1447.0 356.8) scale(0.829 1)" text-anchor="end">1.00</text><text transform="translate(1510.1 382.0) scale(0.829 1)" text-anchor="end">0.50</text><text transform="translate(1573.2 407.2) scale(0.829 1)" text-anchor="end">0.00</text><text transform="translate(1636.2 432.4) scale(0.829 1)" text-anchor="end">-0.50</text><text transform="translate(1699.3 457.6) scale(0.829 1)" text-anchor="end">-1.00</text><text transform="translate(1713.5 457.6) scale(0.829 1)">-1.00</text><text transform="translate(1776.6 432.4) scale(0.829 1)">-0.50</text><text transform="translate(1839.7 407.2) scale(0.829 1)">0.00</text><text transform="translate(1902.8 382.0) scale(0.829 1)">0.50</text><text transform="translate(1965.9 356.8) scale(0.829 1)">1.00</text></g>
<g font-family="'Liberation Sans',Arial,sans-serif" font-size="21.51" fill="#111"><text transform="translate(1465.6 442.2) scale(0.829 1)">D: D</text><text transform="translate(1912.5 442.2) scale(0.829 1)">A: A</text></g>
<text transform="translate(1381.3 218.8) scale(0.778 1)" font-family="'Liberation Serif','Times New Roman',serif" font-weight="bold" font-size="24.12" fill="#000">Y1</text>
<ellipse cx="1445.3" cy="194.2" rx="5.0" ry="4.0" fill="#f80d0d" stroke="#8c1010" stroke-width="0.9"/>
<ellipse cx="1962.6" cy="273.5" rx="5.2" ry="3.8" fill="#ffc6c8" stroke="#a04848" stroke-width="0.9"/><path d="M1962.6 271.6v3.8" stroke="#b05050" stroke-width="0.9"/>
<path d="M1706.2 363.4L1706.2 360.2" stroke="#222" stroke-width="0.9"/>
<ellipse cx="1706.2" cy="363.4" rx="5.2" ry="3.8" fill="#ffc6c8" stroke="#a04848" stroke-width="0.9"/><path d="M1706.2 361.5v3.8" stroke="#b05050" stroke-width="0.9"/>
<path d="M1706.2 56.4L1706.2 71.0" stroke="#222" stroke-width="0.9"/>
<ellipse cx="1706.2" cy="56.4" rx="5.0" ry="4.0" fill="#f80d0d" stroke="#8c1010" stroke-width="0.9"/>
</g>
<g>
<path d="M78.3 818.2l251.6 94.4 251.5-94.4-251.5-74.2z" fill="#ffff1c" stroke="#111" stroke-width="1"/>
<path d="M409.9 849.3l9.1-2.7 9-3.5 7.6-3.9 5.2-3.5 2.7-2.2 2.3-2.4 3-4.1 1.1-2.3 0.7-2.1 0.5-2.8 0-2-0.3-2.3-0.9-2.9-1.1-2.3-1.4-2.2-3.6-4.1-5.4-4.4-6.5-4-7.5-3.6-8.6-3.1-9.5-2.8-10.7-2.4-9.9-1.6-11.5-1.3-12.1-0.7-11.7 0-12.4 0.6-11.2 1.1-9.9 1.6-10.6 2.3-9.4 2.8-8.2 3.2-7.2 3.5-6.1 4-4.5 4-1.8 2.1-1.7 2.5-1.4 2.7-0.6 1.9-0.4 2.5-0.1 3 0.6 2.8 1 2.8 1.5 2.6 1.9 2.5 2.2 2.4 2.6 2.3 6.2 4.3 3.6 2 5.3 2.6 9 3.6 10.5 3.1 12 2.6 12.9 2 13.3 1.2 13.3 0.3 13.2-0.3 13.1-1.2 11.4-1.7 11.4-2.5" fill="none" stroke="#ff9a08" stroke-width="1.35"/>
<path d="M430.7 864.7l12.4-3.6 12.4-4.7 9.3-4.5 4.7-2.7 4.3-2.9 3.7-3 3.3-3.1 2.9-3.2 2.3-3.3 1.6-3.1 1.2-3 0.7-3.4 0.2-3.5-0.3-3.3-0.8-3.1-1.5-3.7-1.6-2.8-2.5-3.5-3-3.2-3.3-3.1-3.7-2.9-8.4-5.4-5.9-3.1-5-2.3-12.4-4.8-13.9-4.2-13.7-3.2-15.3-2.6-17.2-1.9-15.3-0.9-16.2-0.2-17.1 0.7-15.6 1.5-15.8 2.3-14 3-14 4-12.3 4.6-6.2 2.9-4.6 2.4-8.1 5.3-3.6 2.9-3.2 3-2.7 3.2-2.3 3.4-1.6 3-1.2 3.5-0.7 3.9-0.1 3.4 0.6 3.5 1.2 3.8 2.1 4.1 2.4 3.4 2.9 3.2 4.2 4 4.9 3.7 4.5 2.9 5.2 2.9 6.3 3.1 7.4 3.1 6.4 2.3 14.3 4.3 16.3 3.7 16.3 2.5 18.6 1.9 18.7 0.7 19.3-0.4 10.3-0.7 8.9-0.8 16.6-2.4 8.5-1.7 8.2-1.9" fill="none" stroke="#ffe42c" stroke-width="1.35"/>
<path d="M510.7 844.8l2.7-3.5 1.7-2.5 1.8-3.5 1.1-2.7 0.8-2.9 0.6-3.5 0.2-2.9-0.2-3.1-0.7-3.2-0.9-3-1.2-3-2.1-3.7-2.2-3.1-2.3-2.9-6.1-5.9M373.7 757l-17.2-0.5-18 0.2-18.1 1.1-17.8 2-17 2.8-15.3 3.3-13.8 4-12.6 4.4-6.4 2.7-6.1 2.8-9.9 5.6-4.9 3.4-3.7 2.8-3.3 3-3 3.1-2.9 3.4-2.3 3.6-1.8 3.3-1.4 3.8-0.8 3.6-0.3 3.7 0.1 3.4 0.7 3.6 1.1 3.7 1.7 3.5 2 3.5 2.5 3.3 3.3 3.7 3.7 3.5 7.9 6.1 5.6 3.6 5 2.8 11 5.3 12.5 4.9 14.1 4.5 15.8 4 15.5 3 17.1 2.5 17.2 1.6 20 1 17.3 0 15.7-0.6 17.8-1.5" fill="none" stroke="#dcff2c" stroke-width="1.35"/>
<path d="M544.2 832.2l0.6-3.8 0.1-3.2-0.4-3.8-0.6-3.1-0.9-3.1-1.3-3.2-1.7-3.2-2.1-3.4M260.2 886.4l10.9 2.7 13.2 2.7 14.1 2.4 12.9 1.7 12.8 1.4 13.1 0.9 15.2 0.7 13.6 0.1M344.3 748.3l-17.6 0.7-18.5 1.4M199 782.6l-6.9 5-6 5.2-5.1 5.5-3.6 5.2-2.8 5.6-1.9 5.8-0.6 5.4 0.3 5.8 1.4 5.6 2.3 5.3 3.7 5.9 4.3 5.1 5.7 5.6 6.4 5.1 7 4.7 8.5 4.8" fill="none" stroke="#9cff20" stroke-width="1.35"/>
<path d="M567 823.7l-1.2-5.4-1.9-5.2M317.7 908l20.4 1.5M163.8 793l-5.1 6.1-2.4 3.4-2.1 3.7-1.7 3.7-1.1 3.3-0.9 3.9-0.4 3.2-0.1 3.4 0.2 3.6 0.7 3.5 1 3.7 1.4 3.6 1.7 3.5 2.1 3.5 2.7 3.7" fill="none" stroke="#54f02a" stroke-width="1.35"/>
<path d="M78.3 818.2l-16.5-270.5 268.1-47.9 268 47.9-16.5 270.5M329.9 499.8l0 244.2" fill="none" stroke="#2a2a2a" stroke-width="1.1"/>

<path d="M329.9 742.8l17.3-19.6 17.1-17.5 16.9-15.4 17.8-14.3 16.5-11.3 17.3-9.8 17-7.7 16.7-5.4 7.7-1.7 8.7-1.5 7.5-0.8 8.4-0.3 7.4 0.2 8.3 0.7 8.1 1.4 8.1 1.8 14.8 5 7.7 3.5 7.7 3.9 14.9 9.5 14.4 11.4-13.9-15.8-14.9-15.7-14.9-14.1-14.8-12.6-16.6-12.5-17.4-11.7-16.6-9.9-17-8.7-17.2-7.5-15.5-5.7-17.7-5.1-16.7-3.5-17.3-2.4-16.4-1-16.6 0.2-16.7 1.5-16.9 2.7-17.2 4.1-17.3 5.4-16.5 6.5-16.3 7.6-16 8.6-17.7 10.9-16.2 11.2-16.4 12.7-16.8 14.3-16.4 15.3-14.8 15.1-14.5 16.2-14.5 17.7-14.5 19.3-14.5 20.7 14-14.3 14.5-12.6 15-10.7 14.4-8.3 7.9-3.7 8-3.3 15.3-4.6 15.7-2.7 16.1-0.8 16.4 1.2 16.8 3.2 17.1 5.4 16.3 7 17.7 9.5 16.9 11 17 12.9z" fill="#0061fb"/>
<path d="M329.9 742.8l17.3-19.6 17.1-17.5 16.9-15.4 17.8-14.3 16.5-11.3 17.3-9.8 17-7.7 16.7-5.4 7.7-1.7 8.7-1.5 7.5-0.8 8.4-0.3 7.4 0.2 8.3 0.7 8.1 1.4 8.1 1.8 14.8 5 7.7 3.5 7.7 3.9 14.9 9.5 14.4 11.4-13.9-15.8-14.9-15.7-13.8-13-14.8-12.8-16.8-12.7-16.4-11.2-16.9-10.1-17.1-9-16.8-7.5-16.8-6.2-16.3-4.8-16.4-3.6-17.6-2.6-16.3-1.1-16.6 0-16.9 1.4-16.7 2.5-17.1 3.9-17.3 5.3-16.7 6.3-16.3 7.4-16 8.5-17.7 10.8-15.9 10.9-16.8 12.8-16.8 14.1-17.4 16.1-15.7 16-15.6 17.5-15.6 19.3-21.2 28.9-1 3.2 13.9-13.4 14.6-12 15.1-10.2 14.6-7.7 15-6 15.4-4.1 15.8-2.2 15.1-0.4 16.5 1.7 15.8 3.3 16 5.2 16.3 7.1 16.5 9 16.9 11 17 12.9z" fill="#007ef9"/>
<path d="M329.9 742.8l17.3-19.6 17.1-17.5 16.9-15.4 17.8-14.3 16.5-11.3 17.3-9.8 17-7.7 16.7-5.4 7.7-1.7 8.7-1.5 7.5-0.8 8.4-0.3 7.4 0.2 8.3 0.7 8.1 1.4 8.1 1.8 14.8 5 7.7 3.5 7.7 3.9 14.9 9.5 14.4 11.4-13.9-15.8-14.9-15.7-13.8-13-14.8-12.8-16.8-12.7-16.4-11.2-16.7-10-16.9-8.9-17.2-7.7-15.4-5.7-17.7-5.3-15.9-3.5-16.1-2.4-16.3-1.3-16.5-0.1-16.8 1.1-16.8 2.4-17.1 3.7-15.3 4.5-17.3 6.3-17.6 7.8-16.2 8.4-17.4 10.4-15.9 10.7-17.2 13-17.4 14.5-17.8 16.4-15.5 15.6-17.8 20-17.9 22.4-12 16.2-1.9 6.5 14.4-13.1 13.9-10.7 14.3-9 14.7-7.3 15.1-5.5 14.5-3.4 15.8-1.9 15.2 0.1 15.5 1.8 15.7 3.7 16.1 5.4 16.3 7.4 16.6 9.3 15.7 10.3 17 13.1z" fill="#009bf6"/>
<path d="M329.9 742.8l17.3-19.6 17.1-17.5 16.9-15.4 17.8-14.3 16.5-11.3 17.3-9.8 17-7.7 16.7-5.4 7.7-1.7 8.7-1.5 7.5-0.8 8.4-0.3 7.4 0.2 8.3 0.7 8.1 1.4 8.1 1.8 14.8 5 7.7 3.5 7.7 3.9 14.9 9.5 14.4 11.4-13.9-15.8-14.9-15.7-13.8-13-14.8-12.8-16.8-12.7-16-10.9-15.2-9.3-16.9-9-16.8-7.6-15.8-6.1-17.4-5.3-16.1-3.7-16.1-2.6-16.2-1.4-16.5-0.3-16.7 1-16.9 2.2-17 3.6-15.4 4.3-17.2 6.1-17.6 7.6-16.4 8.4-17.1 10.1-15.9 10.5-18.4 13.7-18 14.9-16.9 15.5-16.9 17-11.1 12.3-10.1 11.7-20.4 26.3-1.7 4.7-1.1 5.1 13.8-11.9 14-10.1 14.4-8.4 13.9-6.3 14.2-4.7 14.5-3.1 14.9-1.5 15.2 0.4 15.5 2 15.8 3.9 16.1 5.8 15.2 7 16.6 9.4 15.7 10.5 15.8 12.2z" fill="#00b8f4"/>
<path d="M329.9 742.8l17.3-19.6 17.1-17.5 16.9-15.4 17.8-14.3 16.5-11.3 17.3-9.8 17-7.7 16.7-5.4 7.7-1.7 8.7-1.5 7.5-0.8 8.4-0.3 7.4 0.2 8.3 0.7 8.1 1.4 8.1 1.8 14.8 5 7.7 3.5 7.7 3.9 14.9 9.5 14.4 11.4-13.9-15.8-14.9-15.7-13.8-13-14.8-12.8-16.8-12.7-16-10.9-15.2-9.3-16.7-8.9-17-7.7-15.8-6.1-15.6-4.8-15.9-3.8-16-2.7-16.3-1.6-16.5-0.4-16.5 0.8-16.9 2.1-17.1 3.4-15.4 4.2-17.1 5.9-16.1 6.7-17 8.4-15.7 9-16.9 10.9-17.3 12.5-18.5 15-16.9 15.2-17.7 17.3-18.9 20.9-19.7 24.5-2.4 5.9-1.1 5.8-0.2 1.6 15.8-12.6 15.2-9.7 12.7-6.6 13-5.1 14.4-4.1 13.6-2.2 15-0.8 14.2 0.8 15.6 2.6 14.7 4 15 5.7 15.3 7.2 15.4 9 15.7 10.6 15.9 12.3z" fill="#00d5f2"/>
<path d="M329.9 742.8l17.3-19.6 17.1-17.5 16.9-15.4 17.8-14.3 16.5-11.3 17.3-9.8 17-7.7 16.7-5.4 7.7-1.7 8.7-1.5 7.5-0.8 8.4-0.3 7.4 0.2 8.3 0.7 8.1 1.4 8.1 1.8 14.8 5 7.7 3.5 7.7 3.9 14.9 9.5 14.4 11.4-13.9-15.8-13.7-14.5-13.8-13.2-14.9-12.8-16.1-12.4-15.3-10.6-15.8-9.8-16.2-8.8-15.9-7.4-15.4-6.2-16.6-5.4-16.3-4.1-16.2-2.9-15.9-1.7-15.8-0.6-15.8 0.5-16.8 1.7-17 3.1-15.5 3.9-16.8 5.5-16.5 6.6-16.2 7.7-16 8.7-15.7 9.8-18.5 12.9-17.8 14.1-16.9 14.6-17.4 16.7-18.9 20.1-18.8 22.5-2.6 5.8-1.4 5.8-0.4 5.2 14.7-10.9 14.4-8.7 7.8-3.9 8-3.4 15.2-5 13.5-2.8 12.7-1.4 14.1 0 13.2 1.4 14.6 2.9 13.7 4.2 15 6 14.1 7 15.5 9.2 14.5 10 14.7 11.4z" fill="#00f0ee"/>
<path d="M329.9 742.8l17.3-19.6 17.1-17.5 16.9-15.4 17.8-14.3 16.5-11.3 17.3-9.8 17-7.7 16.7-5.4 7.7-1.7 8.7-1.5 7.5-0.8 8.4-0.3 7.4 0.2 8.3 0.7 8.1 1.4 8.1 1.8 14.8 5 7.7 3.5 7.7 3.9 14.9 9.5 14.4 11.4-13.9-15.8-13.7-14.5-13.8-13.2-13.7-11.9-15-11.6-15.1-10.6-16.5-10.4-15.6-8.6-16.4-7.9-14.9-6.1-16-5.4-15.8-4.2-16-3.2-15.1-1.9-15.8-0.9-16.2 0.2-16.7 1.5-15.4 2.4-16.5 3.8-15.3 4.6-16.6 6.2-16.2 7.2-16.2 8.4-15.8 9.4-17.5 11.7-17.2 13-17.4 14.5-17.8 16.4-18.8 19.2-18.7 21.4-3 6-1.7 5.8-0.5 4.3 0.2 4.3 7.6-5.4 8.5-5.5 15.6-8.2 8-3.3 8.1-2.8 8.2-2.3 8.3-1.8 12.6-1.6 11.9-0.4 12 0.7 12.2 1.7 13.5 3.3 13.8 4.5 13.9 6 14.2 7.4 14.3 8.8 13.3 9.3 14.7 11.5z" fill="#01f0d1"/>
<path d="M329.9 742.8l17.3-19.6 17.1-17.5 16.9-15.4 17.8-14.3 16.5-11.3 17.3-9.8 17-7.7 16.7-5.4 7.7-1.7 8.7-1.5 7.5-0.8 8.4-0.3 7.4 0.2 8.3 0.7 8.1 1.4 8.1 1.8 14.8 5 7.7 3.5 7.7 3.9 14.9 9.5 14.4 11.4-13.9-15.8-13.7-14.5-13.8-13.2-13.7-11.9-15-11.6-15.1-10.6-14.9-9.4-16.5-9.3-15.2-7.4-15.3-6.3-15.6-5.4-15.7-4.4-16-3.2-14.8-2-15.9-1.1-15.6 0-15.3 1.1-15.3 2.1-16.5 3.5-15.4 4.3-15 5.3-16.1 6.7-16.1 8-15.9 9-16.6 10.6-16.4 11.8-17 13.5-17.3 15.3-20.7 20.1-18.1 20-3.3 5.8-2.1 5.9-0.8 6.2 0.6 6.3 13.4-8.4 13.7-6.8 14.1-5.3 13.3-3.5 14.8-2.2 13.9-0.4 15.4 1.2 14.5 2.7 12.5 3.5 12.7 4.7 12.8 5.8 13.1 7 13.1 8.2 13.3 9.5 13.5 10.6z" fill="#02f0b3"/>
<path d="M329.9 742.8l17.3-19.6 17.1-17.5 16.9-15.4 17.8-14.3 16.5-11.3 17.3-9.8 17-7.7 16.7-5.4 7.7-1.7 8.7-1.5 7.5-0.8 8.4-0.3 7.4 0.2 8.3 0.7 8.1 1.4 8.1 1.8 14.8 5 7.7 3.5 7.7 3.9 14.9 9.5 14.4 11.4-12.7-14.6-13.8-14.5-12.6-12.3-13.7-12.1-14.2-11.2-15.7-11.2-14.9-9.7-15.3-8.7-15.1-7.6-15.9-6.9-14.9-5.4-15.7-4.6-15.9-3.5-14.3-2.2-15.9-1.4-15.6-0.3-15.5 0.8-15.3 1.8-15.1 2.9-16.5 4.2-15.2 5-15.4 6.1-15.4 7.3-15.7 8.4-15.9 9.7-17.4 12-16.8 13-16.2 13.7-20.9 19.7-17.4 18.2-3.9 6-2.5 6.2-0.8 4-0.2 3.8 0.5 4.2 1 3.9 13-7.3 13.9-6.1 14.2-4.5 13.6-2.7 13.8-1.3 14.1 0.3 14.4 1.7 14.6 3.3 12.6 4.1 11.6 4.7 12.9 6.2 11.8 6.8 13.2 8.5 12.2 8.8 12.2 9.8z" fill="#03f096"/>
<path d="M329.9 742.8l17.3-19.6 17.1-17.5 16.9-15.4 17.8-14.3 16.5-11.3 17.3-9.8 17-7.7 16.7-5.4 7.7-1.7 8.7-1.5 7.5-0.8 8.4-0.3 7.4 0.2 8.3 0.7 8.1 1.4 8.1 1.8 14.8 5 7.7 3.5 7.7 3.9 14.9 9.5 14.4 11.4-12.7-14.6-13.8-14.5-12.6-12.3-13.7-12.1-14.2-11.2-15.7-11.2-14.9-9.7-14.8-8.4-15.6-7.9-15.3-6.6-14.9-5.5-14.3-4.3-15.9-3.6-14-2.3-15.9-1.6-14.8-0.4-16.4 0.6-14.9 1.6-14.9 2.7-15 3.6-15.2 4.7-15.3 5.8-15.4 6.9-14.2 7.3-15.9 9.3-15.6 10.2-15.3 11.2-17 13.7-20.1 18.1-18.6 18.4-4.5 6.1-2.9 6.3-1.2 5-0.2 4.8 0.9 5.1 1.8 4.9 13.1-6.4 14.1-5.2 13.4-3.3 13.7-2 13.9-0.4 14.3 1 14.5 2.6 14.8 4.2 11.5 4.3 10.5 4.7 11.8 6.1 10.7 6.4 12.1 8 10.9 8.1 12.2 9.9z" fill="#04f079"/>
<path d="M329.9 742.8l17.3-19.6 17.1-17.5 16.9-15.4 16.7-13.4 16.4-11.5 17.4-10 15.9-7.3 16.7-5.7 7.7-1.9 8.7-1.6 7.5-0.9 8.5-0.5 7.4 0.1 8.3 0.6 7.2 1 8.1 1.7 14.9 4.6 7.8 3.2 7.6 3.8 14.1 8.4 14.7 11-0.9-2.1-1.5-1.7-18.4-20-13.8-13.5-14.8-13.2-14.2-11.2-14.5-10.4-14.6-9.6-14.9-8.6-15.1-7.7-15.3-6.8-14.4-5.4-14.1-4.4-14.5-3.5-15.7-2.8-14.5-1.6-14.9-0.7-14 0.2-14.8 1.3-15.2 2.2-15 3.3-14.7 4.1-15 5.3-15.4 6.4-14.8 7.2-16 8.9-15.7 9.9-15.4 10.8-15.2 11.8-18.6 15.9-19.2 18.2-5.2 6.2-3.6 6.7-1.5 6 0 5.8 1.6 6.1 2.9 5.6 13.4-5.5 13.3-3.9 13.6-2.5 13.8-1 14.2 0.4 14.4 2 14.7 3.6 13.7 4.7 10.5 4.4 10.6 5.2 10.6 6 9.6 6.1 10.9 7.5 9.7 7.4 11.1 9z" fill="#05f05b"/>
<path d="M330.4 739.6l2.1 0.1 19.6-21.7 19.4-19.1 14.5-12.7 14.2-11.1 15.3-10.4 16.2-9.3 14.7-6.8 15.7-5.5 15.3-3.6 15.1-1.8 14.7 0 7.3 0.7 8.1 1.4 14.1 3.6 14.6 5.8 13.3 7 8.4 5.3 7.5 5.5-0.1-0.6-2.3-5.4-9.8-10.5-16.1-15.9-16-14.2-13.6-10.7-15.7-11.2-14.7-9.4-14.9-8.5-14.1-7.1-14.5-6.4-14.3-5.4-14.7-4.5-13.9-3.4-15.7-2.8-14.5-1.6-14.4-0.7-14.5 0.2-14.6 1.2-14.8 2.2-13.4 2.8-14.8 4.1-14.7 4.9-14.4 5.9-14.2 6.7-14 7.4-15.8 9.6-15.5 10.4-15.3 11.5-18.8 15.5-17.5 16.1-5.3 6.1-3.5 6.2-1.7 6.5-0.1 3.5 0.4 3.3 0.9 3.4 1.5 3.5 4.6 6.8 10.7-3.7 10.3-2.5 10.5-1.7 10.7-0.9 10.8 0.1 11 0.9 11.1 1.9 11.3 2.8 11.5 3.7 10.4 4.2 10.5 4.9 10.7 5.7 13.1 8.2 12.1 8.4 12.2 9.4 13.5 11.4z" fill="#06f03e"/>
<path d="M339.4 729.2l2.2 0.1 17.8-18.8 18.2-17.1 13.1-11 13.1-9.9 14-9.2 15-8.4 13.6-6.3 14.6-5.2 13.2-3.3 14-2.1 13.8-0.5 13.5 1.1 15.2 3 14.8 5 14.4 6.9 13.9 8.6-0.8-3.3-3-6.6-4-4.1-16.1-15.6-17.1-14.9-15-11.4-14.5-10.1-14.8-9.2-14.9-8.3-13.3-6.5-14-6-14.3-5.2-14.3-4.3-13.9-3.2-14-2.5-14.2-1.5-14.4-0.7-13.9 0.2-13.2 1-14.7 2-13.4 2.7-14.4 3.8-13 4.2-14.5 5.6-14.3 6.5-15.4 8-14.5 8.5-14.9 9.7-14.1 10.3-18 14.4-17 15-5.4 6.1-3.4 6.2-1.1 3.8-0.5 3.7 0.3 3.7 0.9 3.9 1.7 3.8 2.3 3.8 6.4 7.1 8.6-2.2 8.4-1.5 9.5-1 8.6-0.3 8.7 0.2 8.8 0.8 8.9 1.4 9 2 10.2 3 10.4 3.7 10.5 4.6 10.5 5.3 10.7 6.1 10.8 6.9 10.9 7.7 10.6 8.2z" fill="#07f021"/>
<path d="M349.1 718.7l2.3 0.1 14.1-14.2 14.5-13.3 14.3-11.7 14.2-10.3 12.8-8.1 12.6-6.9 12.5-5.7 13.5-4.9 12.1-3.2 11.9-2 11.8-0.9 12.6 0.2 14.3 2 15.1 3.9 14.6 5.9 14.1 7.7-0.9-6-1.8-4.1-2.5-3.9-17-16-16-13.3-14-10.4-14.6-9.9-14.8-9-15-8-13.3-6.3-13.4-5.5-13.6-4.8-13.9-4-14-3.2-13.8-2.2-13.6-1.4-13.5-0.6-13.4 0.2-13.2 1-14.7 2-13.4 2.7-14.4 3.8-13 4.2-13.2 5.1-13.2 5.8-14.4 7.3-14.6 8.4-15 9.6-14.6 10.3-16 12.5-14.7 12.6-5.2 6-3.3 6.1-1.1 4.2-0.2 4.1 0.7 4.1 1.6 4.3 2.5 4.2 3.4 4 4.3 4.1 5.4 4.2 12.6-1.5 12.9-0.3 13.2 1 13.4 2.4 9 2.3 9.2 2.9 17.4 7.1 9.4 4.6 9.4 5.3 18.3 11.9 25.7 2.2z" fill="#0ef008"/>
<path d="M359.5 708l2.4 0 13.2-12.4 12.1-10.4 13-10.1 12.9-8.9 10.5-6.4 11.5-6.1 11.3-5.1 11.2-4.1 13.3-3.7 13-2.3 12.8-1 12.6 0.4 12.3 1.7 12.1 2.9 12.8 4.5 11.8 5.6 0.2-4.4-1-4.5-2.3-4.9-3.3-4.5-14.5-12.9-14.8-11.7-13.9-9.9-14.6-9.6-13.8-8-14.7-7.6-12.9-5.9-13.5-5.3-13.6-4.5-12.4-3.4-13.4-2.9-12-1.9-13.6-1.4-13.5-0.6-13.4 0.2-13.1 1-13.2 1.8-12.9 2.5-12.7 3.1-12.6 3.9-13 4.7-13.9 5.9-14.1 6.9-14.1 7.8-15.6 9.7-13.9 9.6-14.9 11.3-12.9 10.7-5.2 5.9-3.1 6-1.1 5 0.3 4.9 1.7 4.9 2.9 4.9 4.1 4.6 5.6 4.7 6.7 4.6 7.9 4.4 10.7 0.2 9.9 1 11.2 1.9 10.1 2.6 10.3 3.3 10.4 4.1 10.5 4.8 10.8 5.7 19.3 2.6 21.6 2.2 22.1 1.3z" fill="#30f207"/>
<path d="M370.9 697.1l2.6 0 11.3-9.9 10.7-8.6 10.6-7.7 11.7-7.6 9.3-5.4 9.1-4.7 9.1-4.1 10.1-3.9 12.2-3.6 12-2.5 11.8-1.3 11.6-0.3 11.5 0.9 12.2 2.2 11 3.1 11.4 4.5 0.9-3 0.3-2.9-0.3-3-0.7-3.1-2.8-5.4-4.8-5.7-12.3-10.2-13.4-10-13.5-9.3-14-8.7-14.9-8.3-13.3-6.5-11.6-5-13.4-5.1-12.7-4-12.8-3.3-12.8-2.6-13.3-1.9-12.2-1.1-12.3-0.4-12.5 0.2-12.6 1-12.5 1.7-12.8 2.4-12.9 3.2-13 3.9-12.6 4.6-12.3 5.2-14.2 6.8-14 7.6-13.8 8.4-15.5 10.4-13.4 10-9.5 7.7-4.6 5.4-2.9 5.9-0.7 3.2-0.2 3.1 0.5 3 1 3.1 3.5 6 5.7 5.8 7.6 5.6 9.7 5.5 11.7 5.2 13.6 4.8 14.5 4.2 16.2 3.8 18.3 3.4 18.7 2.7 19 2.1 21.2 1.5 19.1 0.8z" fill="#52f306"/>
<path d="M383.7 685.9l2.8-0.1 11.4-8.9 10.6-7.6 10.5-6.7 10.4-6 9.1-4.5 9.1-4 8.9-3.3 8.9-2.7 8.8-2 9.7-1.6 9.7-0.9 9.4-0.1 8.4 0.6 9.2 1.3 9.1 2 8.8 2.6 1.9-3.6 1-3.9 0.1-3.8-0.9-4.1-3.2-5.7-4.9-5.4-9.9-7.8-12.6-9-14.1-9.3-13-7.7-13.1-7-13.9-6.5-12-5-11.9-4.3-12.3-3.7-11.9-3-12-2.3-12.1-1.7-12.2-1.1-12.3-0.4-12.5 0.2-12.5 1-12.6 1.7-11.3 2.1-12.2 2.9-11.1 3.2-12.6 4.3-12.3 5-14.3 6.5-13.4 7.1-14.5 8.5-13.6 8.9-13.5 9.6-7.1 5.8-4.5 5.3-2.6 5.5-0.6 2.9-0.1 3.1 0.6 3.1 1.1 3 3.9 5.8 6.3 5.9 8.4 5.6 10.5 5.3 12.4 5 13.3 4.2 15.2 4 17.2 3.5 17.7 2.9 19.7 2.4 18.4 1.6 21.3 1.2 19.3 0.3z" fill="#74f404"/>
<path d="M398.7 674.1l3.1-0.2 18.3-12 17.3-9.3 13.5-5.8 14.5-4.7 15.3-3.2 15-1.3 14.6 0.4 7.2 0.9 8.1 1.5 3.9-4.7 2.3-5 0.6-5.2-1.2-5-2.9-4.9-5-5.2-9.1-6.8-11.7-8-12.4-7.7-12.8-7.3-13.2-6.7-13.3-6-11.6-4.5-11.9-4-11.7-3.3-11.7-2.7-11.5-2.1-11.4-1.4-11.4-0.9-11.2-0.3-11.1 0.2-11 0.8-12.6 1.6-11.3 1.9-12.2 2.8-11.1 3.2-12.6 4.2-11.1 4.3-13.5 6-14.1 7.1-13.9 8-13.8 8.7-11.2 7.8-4.7 3.9-4.2 5-2.5 5.3-0.5 3 0.1 2.9 0.7 2.9 1.2 2.7 4.2 5.7 6.7 5.8 8.9 5.5 11 5.1 13.1 4.7 14.1 4.1 16 3.7 16.7 3 18.7 2.6 19.8 2 19.2 1.2 21.4 0.6 19.9-0.1z" fill="#97f603"/>
<path d="M417.7 661.4l4-0.5 13.4-7.2 12.5-5.6 8.9-3.3 10-3 9.9-2.1 10.8-1.6 10.6-0.6 10.5 0.3 4.5-3.1 3.3-2.8 2.6-2.9 2.3-3.5 1.2-3.1 0.5-3.3-0.3-3.3-1.1-3.2-3.1-4.8-4.8-4.6-8.3-5.9-11-7.1-11.4-6.6-12.9-6.9-13.3-6.3-11.5-4.8-21.4-7.3-10.4-2.8-11.6-2.6-11.5-1.9-10.4-1.3-12.3-0.8-10.3-0.2-12 0.3-10.9 0.9-11 1.4-10.8 1.9-12.2 2.8-10.8 3.1-10.8 3.5-11 4.2-13.7 5.9-14.1 7.1-14 7.8-13.7 8.6-6.1 4.3-4.4 4.1-2.9 4.1-1.7 4.4-0.3 2.7 0.3 2.8 1 3.1 1.5 2.8 4.8 5.5 7.5 5.6 9.8 5.2 11.9 4.9 14.1 4.4 15.3 3.8 17.3 3.4 18.1 2.6 20.5 2.1 19.2 1.3 19.8 0.6 21.3-0.2 18.6-0.8z" fill="#b9f702"/>
<path d="M452.3 644.6l15.9-3.8 13.8-4.3 11.2-4.8 8.8-5.3 3.5-2.7 2.8-2.9 2.1-2.9 1.3-3 0.6-2.9-0.1-2.9-0.8-2.9-1.6-3.1-2.6-3.1-3.3-3.1-9.8-6.7-18.7-10.6-18.9-9.2-15.4-6.3-16.1-5.4-16.4-4.3-16.2-3.1-12.7-1.6-12.3-0.8-12.4-0.2-12.4 0.5-12.9 1.2-13 2-12.8 2.7-12.7 3.5-14.8 4.8-15.4 6.1-15.2 7.2-14 7.4-12.7 7.6-5.5 4.3-4.4 5.1-1.3 2.7-0.7 2.6-0.1 3.3 0.7 2.9 1.4 3 2.2 3 2.9 2.9 3.5 2.7 9.5 5.7 12.2 5.2 13.9 4.4 16.2 4 18.8 3.5 20.2 2.7 21.1 1.8 20.7 1 22 0.1 21.1-0.7 20.5-1.6 20.2-2.5z" fill="#dbf901"/>
<path d="M446.6 633.7l13.9-3.3 12.6-4 10.4-4.4 8.2-4.7 5.7-5.2 1.9-2.5 1.2-2.6 0.6-2.7-0.1-2.7-0.7-2.6-1.5-2.9-4.7-5.1-6.5-4.6-17.8-9.7-18.7-8.6-14.3-5.5-15.2-4.9-15.3-3.8-14.5-2.7-12.1-1.5-12.3-0.8-11.2-0.2-11.5 0.4-12.6 1-11.1 1.6-12.2 2.3-12.9 3.2-15.1 4.7-14.6 5.5-14.3 6.3-14.1 7.1-8.6 4.9-5.4 4.2-3.8 4.7-1.7 4.5 0 2.9 0.6 2.7 1.3 2.7 2.2 2.9 6.1 5.2 9 5.2 11.5 4.7 12.8 4.1 15.2 3.6 17.5 3.1 18.6 2.4 19.6 1.6 19.3 0.9 20 0.1 20.4-0.8 19.7-1.5 18.5-2.4z" fill="#fefa00"/>
<path d="M436.9 623.3l12.8-2.9 12-3.5 9.9-3.9 7.8-4.3 5.6-4.6 2-2.5 1.2-2.4 0.7-2.4 0-2.3-0.5-2.4-1.2-2.5-3.9-4.6-6.5-4.6-13.6-6.9-14.5-6.4-14.3-5.4-14.1-4.4-14-3.4-13.9-2.6-11.4-1.4-11.4-0.9-11.2-0.3-11.1 0.2-11 0.8-12.6 1.6-11.3 1.9-10.7 2.5-14.4 4-13.1 4.5-14.2 5.8-15 7.1-5.9 3.5-4.2 3.4-3 3.8-1.4 3.9-0.1 2.5 0.7 2.6 2.9 4.7 5.4 4.7 8.3 4.8 10.5 4.3 11.8 3.7 13.9 3.2 16 2.9 17 2.1 17.6 1.5 17.8 0.8 17.1 0.1 18.6-0.6 16.5-1.2 17.3-2z" fill="#ffd200"/>
<path d="M426.2 612.6l12.7-2.6 11.1-3.2 9.2-3.5 7.3-3.8 5.3-4.1 2.9-4.4 0.7-2.3 0-2.1-0.6-2.2-1-2.1-2.1-2.5-3.2-2.8-8.5-5-18.9-7.9-19.5-6.4-15.8-3.9-16-2.9-16.3-1.7-17.3-0.5-17.7 0.8-16.9 2.1-17.1 3.4-17.5 4.8-18.8 6.7-8.5 3.6-5.2 2.6-4.1 2.7-3.2 2.9-2.1 3-1.1 3.2-0.1 2.1 0.6 2.1 2.6 4.3 4.9 4.1 6.9 4 8.8 3.6 11.6 3.6 12.6 3 13.2 2.3 15.1 1.9 15.6 1.3 15.8 0.8 15.9 0.1 16.2-0.5 15.3-1 14.2-1.6z" fill="#ffa900"/>
<path d="M417.5 601.1l11.3-2.4 9-2.5 7.6-2.8 6.7-3.4 4.7-3.5 2.6-3.8 0.6-3.7-1.4-3.7-2.2-2.6-2.8-2.3-8.1-4.5-14.1-5.2-15.7-4.6-14.1-3.2-15.9-2.5-14.2-1.3-15.3-0.4-15.7 0.6-16.8 2-15.6 2.9-16.5 4.2-14.6 4.8-8.9 4.1-3.7 2.5-2.5 2.3-1.6 2.3-0.9 2.5 0.3 3.6 2.3 3.8 4.6 3.8 5.7 3.2 7.1 2.9 9.5 3 11.2 2.6 11.7 2.1 13.5 1.7 13.7 1.1 27.2 0.8 13.3-0.4 13.8-0.9 12.6-1.4z" fill="#ff8000"/>
<path d="M407.8 588.9l8.5-1.8 7.9-2.2 6.5-2.5 4.9-2.5 3.5-2.7 2-2.8 0.6-3-1.1-3-3.8-3.8-6-3.4-8.7-3.3-11.2-3-13.9-2.8-13.3-1.9-14.1-1.2-13.4-0.3-13.6 0.5-14.7 1.5-13.3 2.1-14.6 3.3-9.3 3-6.8 3.3-4.4 3.6-1.3 2.1-0.6 1.8 0.5 3 2 2.9 3.5 2.8 5.1 2.8 6.4 2.5 7.7 2.3 18.2 3.5 20.5 2.2 23.9 0.6 22.8-1.1z" fill="#ff5700"/>
<path d="M395.3 575.5l10.8-2.7 4.1-1.6 3.6-1.9 2.3-1.9 1.3-1.9 0.2-2.2-0.8-1.9-2.8-2.7-4.4-2.3-5.6-2.1-7.8-2-9-1.6-10-1.2-20.6-0.8-10.2 0.3-10.8 0.8-9 1.3-8.2 1.6-6.5 2-5.5 2.5-3.3 2.5-1.5 2.7 0.3 2.2 1.4 2.1 2.7 2.1 3.4 1.8 10.7 3.5 13.4 2.5 15.6 1.4 15.2 0.3 16.6-0.8z" fill="#ff2e00"/>
<path d="M329.9 742.8c-49.7-45.5-96.8-66.1-139.9-65.1c-43.1 .9-82.1 23.1-116.5 61M329.9 742.8c49.6-58.9 97.2-92.1 141-102c43.8-10 83.8 3.2 119.3 34.1M337.3 734.2c-49.7-45.7-96.9-66.6-140.1-65.8c-43.2 .7-82.4 22.8-117 60.6M322.4 736.2c49.7-59.2 97.3-92.6 141.2-102.8c43.9-10.2 84.1 2.7 119.7 33.4M344.7 725.9c-49.7-45.9-97-67-140.3-66.4c-43.3 .5-82.7 22.4-117.5 60M315.1 729.9c49.5-59.3 97.2-93.1 141.2-103.5c44-10.5 84.3 2.2 120 32.7M352.1 718c-49.7-46.1-97.1-67.4-140.5-67.1c-43.5 .3-83 22-118 59.5M307.7 724c49.5-59.6 97.2-93.6 141.3-104.2c44.1-10.8 84.5 1.6 120.4 31.9M359.4 710.5c-49.7-46.4-97.1-67.9-140.6-67.8c-43.6 0-83.3 21.5-118.5 58.9M300.4 718.5c49.5-59.8 97.2-94.1 141.3-105c44.2-11 84.7 1.1 120.9 31.1M366.7 703.4c-49.7-46.6-97.2-68.4-140.8-68.5c-43.7-.2-83.5 21-118.9 58.2M293.1 713.3c49.5-60 97.2-94.5 141.4-105.7c44.2-11.4 84.9 .5 121.2 30.2M373.9 696.6c-49.6-46.8-97.1-68.8-140.9-69.2c-43.8-.5-83.8 20.6-119.3 57.6M285.9 708.5c49.4-60.2 97.1-95 141.4-106.5c44.3-11.6 85.1-.1 121.5 29.4M381.2 690.3c-49.7-47.1-97.2-69.4-141.1-70c-43.9-.8-84 20-119.8 56.8M278.7 704c49.4-60.4 97.1-95.5 141.4-107.3c44.3-11.9 85.3-.6 121.8 28.6M388.3 684.3c-49.6-47.4-97.2-69.9-141.1-70.8c-44-1-84.3 19.5-120.2 56.1M271.6 699.9c49.3-60.6 97-96 141.4-108.1c44.3-12.2 85.4-1.2 122.1 27.7M395.5 678.6c-49.6-47.5-97.2-70.4-141.3-71.5c-44-1.3-84.4 19-120.5 55.3M264.5 696.2c49.2-60.9 96.9-96.5 141.3-108.9c44.5-12.5 85.6-1.9 122.4 26.7M402.6 673.4c-49.6-47.8-97.2-71-141.3-72.4c-44.1-1.5-84.7 18.5-120.9 54.6M257.5 692.8c48.1-59.8 94.9-95.6 138.6-108.9c43.7-13.5 84.3-4.7 120.9 21.7M409.6 668.5c-49-47.6-96.2-71-140-73.2c-43.4-2.2-83.4 16.4-119.3 50.5M250.5 689.8c47.6-59.5 93.8-95.4 137.2-109.3c42.9-13.9 82.9-6.5 119.1 17.9M416.6 664c-95.7-93.8-183.7-93.2-255.2-28.4M243.6 687.1c46.5-58.4 91.8-94.3 134.4-109.2c42.1-14.8 81.5-9.1 117.4 13.2M423.6 659.8c-93.6-92.2-180.2-94.3-251-33.9M236.7 684.7c45.4-57.3 89.8-93.2 131.6-108.9c41.4-15.6 80.2-11.6 115.7 8.5M430.5 656c-91.5-90.7-176.5-95.3-246.7-39.3M229.9 682.7c88.3-112.6 172.2-141.3 242.6-104.6M437.4 652.6c-89.4-89.2-172.9-96.3-242.4-44.5M223.1 681.1c86.2-110.5 168.4-141.1 237.9-108.6M444.2 649.5c-87.3-87.6-169.1-97-237.9-49.4M216.4 679.7c84.5-108.9 165.4-141 234.3-111.8M450.9 646.8c-84.6-85.5-164.4-97.6-232-55M209.7 678.7c82.4-106.7 161.5-140.5 229.5-115.3M457.6 644.5c-82.5-84-160.6-98.1-227.4-59.5M203.1 678.1c79.8-103.9 156.6-139.5 223.3-119M464.3 642.4c-79.9-81.8-155.9-98.2-221.4-64.3M196.5 677.7c77.7-101.6 152.7-138.7 218.3-121.8M470.9 640.8c-77.8-80.2-152-98.4-216.6-68.3M190 677.7c75.5-99.4 148.8-137.7 213.2-124.4M477.4 639.5c-75.2-78-147.2-98.2-210.3-72.5M183.6 678c73.4-97.1 144.7-136.6 208-126.8M483.9 638.5c-72.6-75.8-142.3-97.8-204.1-76.3M177.2 678.6c70.8-94.2 139.8-134.8 201.6-129M490.4 637.8c-70.6-74.1-138.5-97.4-199-79.3M170.9 679.5c68.7-91.9 135.8-133.4 196.3-130.6M496.7 637.5c-67.9-71.8-133.5-96.7-192.5-82.4M164.7 680.7c66-88.9 130.8-131.2 189.6-132M503 637.5c-65.3-69.6-128.6-95.7-186-85.1M158.5 682.3c63.5-86 125.8-128.9 182.9-133M509.3 637.9c-62.8-67.3-123.8-94.5-179.4-87.5M152.4 684.1c61.3-83.6 121.8-126.9 177.5-133.7M515.5 638.6c-59.7-64.5-117.9-92.8-171.5-89.5M146.3 686.2c58.8-80.5 116.9-124.2 170.7-133.8M521.6 639.6c-57.1-62.2-113-91.2-164.7-90.9M140.3 688.6c56.3-77.5 111.9-121.2 163.9-133.5M527.7 640.9c-54.6-59.8-108.1-89.3-157.9-91.9M134.4 691.3c53.7-74.4 106.9-118.1 157-132.8M533.7 642.5c-51.6-56.9-102.2-86.8-149.8-92.3M128.5 694.3c50.7-70.7 101.1-114 148.8-131.2M539.6 644.4c-48.5-53.9-96.3-84-141.5-92.1M122.7 697.6c48.2-67.7 96.2-110.5 141.8-129.5M545.5 646.6c-46-51.5-91.4-81.5-134.6-91.7M117 701.1c45.7-64.5 91.2-106.7 134.8-127.4M551.3 649.2c-43-48.6-85.5-78.3-126.2-90.5M111.3 704.9c42.8-60.7 85.4-101.9 126.5-124.1M557.1 652c-40.1-45.5-79.7-74.7-117.9-88.6M105.7 709c40.3-57.6 80.6-97.8 119.5-121M562.8 655.1c-36.7-41.9-73-70.2-108.2-85.5M100.1 713.3c37.5-53.8 74.9-92.6 111.2-116.6M568.4 658.5c-33.7-38.8-67.2-66.2-99.8-82.4M94.7 717.9c34.5-49.9 69.1-87.1 102.8-111.6M573.9 662.2c-30.3-35.2-60.4-61.1-89.9-77.9M89.3 722.7c31.6-46 63.4-81.4 94.5-106M579.4 666.1c-27.4-32-54.7-56.5-81.5-73.5M83.9 727.8c28.9-42.2 57.8-75.5 86.2-99.8M584.8 670.4c-24-28.4-48-50.9-71.7-67.6M78.7 733.1c26-38.3 52.1-69.3 77.8-93.1M590.2 674.9c-20.8-24.7-41.5-44.9-62-60.9M73.5 738.7c22.7-33.7 45.6-61.9 68.2-84.5" fill="none" stroke="#000" stroke-width="0.92" stroke-opacity="0.82"/>
<path d="M329.9 742.8l8.6-10 8.7-9.6 8.5-9 8.6-8.5 8.4-8 8.5-7.4 8.3-7 9.5-7.3 8.3-5.9 8.2-5.4 8.1-4.9 9.2-4.9 8-3.9 9-3.8 7.8-2.7 8.9-2.7 7.7-1.7 8.7-1.5 7.5-0.8 8.4-0.3 7.4 0.2 8.3 0.7 8.1 1.4 8.1 1.8 7 2.1 7.8 2.9 7.7 3.5 7.7 3.9 7.5 4.5 7.4 5 7.2 5.4 7.2 6-13.9-15.8-6.9-7.4-8-8.3-6.9-6.7-8-7.4-6.9-6-7.9-6.6-8.5-6.5-8.1-6-8.2-5.7-9.2-6-7.6-4.6-9-5.3-8.2-4.3-8.8-4.4-8.2-3.7-9-3.8-7.7-3-7.8-2.7-8.8-2.7-8.9-2.4-7.9-1.8-8.8-1.7-9.2-1.4-8.1-1-8.2-0.6-8.2-0.4-8.3 0-8.3 0.2-8.3 0.6-8.4 0.9-8.4 1.2-8.5 1.5-8.6 1.9-8.6 2.2-8.6 2.5-8.7 2.9-8.3 3.1-8.2 3.4-8.2 3.6-8.1 4-8 4.1-8 4.5-8.9 5.3-8.8 5.6-7.8 5.2-8.4 6-8.8 6.7-7.6 6-9 7.5-7.8 6.8-8.5 7.7-7.9 7.6-7 7-7.8 8.1-7.8 8.5-6.7 7.7-14.5 17.7-14.5 19.3-14.5 20.7 6.9-7.4 7.1-6.9 7.2-6.5 7.3-6.1 7.4-5.6 7.6-5.1 7.6-4.6 6.8-3.7 7.9-3.7 8-3.3 8.1-2.7 7.2-1.9 8.3-1.7 7.4-1 8.5-0.7 7.6-0.1 8.7 0.4 7.7 0.8 8.9 1.5 7.9 1.7 9.1 2.6 8 2.8 8.1 3.3 8.2 3.7 9.4 4.8 8.3 4.7 8.4 5.3 8.5 5.7 8.4 6.2 8.6 6.7 8.6 7.2z" fill="none" stroke="#000" stroke-width="1.0" stroke-opacity="0.88"/>
<g fill="#000"><circle cx="61.8" cy="547.7" r="1.9"/><circle cx="65.0" cy="599.3" r="1.9"/><circle cx="68.1" cy="650.8" r="1.9"/><circle cx="71.2" cy="702.3" r="1.9"/><circle cx="74.4" cy="753.8" r="1.9"/><circle cx="78.3" cy="818.2" r="1.9"/><circle cx="141.2" cy="841.8" r="1.9"/><circle cx="204.1" cy="865.4" r="1.9"/><circle cx="267.0" cy="889.0" r="1.9"/><circle cx="329.9" cy="912.6" r="1.9"/><circle cx="392.8" cy="889.0" r="1.9"/><circle cx="455.6" cy="865.4" r="1.9"/><circle cx="518.5" cy="841.8" r="1.9"/><circle cx="581.4" cy="818.2" r="1.9"/></g>
<g font-family="'Liberation Sans',Arial,sans-serif" font-size="13.1" fill="#1a1a22"><text transform="translate(55.0 560.8) scale(0.883 1)" text-anchor="end">34</text><text transform="translate(58.2 612.3) scale(0.883 1)" text-anchor="end">30.25</text><text transform="translate(61.3 663.8) scale(0.883 1)" text-anchor="end">26.5</text><text transform="translate(64.4 715.3) scale(0.883 1)" text-anchor="end">22.75</text><text transform="translate(67.6 766.8) scale(0.883 1)" text-anchor="end">19</text><text transform="translate(71.4 831.0) scale(0.883 1)" text-anchor="end">1.00</text><text transform="translate(134.3 854.6) scale(0.883 1)" text-anchor="end">0.50</text><text transform="translate(197.2 878.1) scale(0.883 1)" text-anchor="end">0.00</text><text transform="translate(260.1 901.7) scale(0.883 1)" text-anchor="end">-0.50</text><text transform="translate(323.0 925.3) scale(0.883 1)" text-anchor="end">-1.00</text><text transform="translate(337.2 925.3) scale(0.883 1)">-1.00</text><text transform="translate(400.1 901.7) scale(0.883 1)">-0.50</text><text transform="translate(462.9 878.1) scale(0.883 1)">0.00</text><text transform="translate(525.8 854.6) scale(0.883 1)">0.50</text><text transform="translate(588.7 831.0) scale(0.883 1)">1.00</text></g>
<g font-family="'Liberation Sans',Arial,sans-serif" font-size="20.13" fill="#111"><text transform="translate(91.2 910.2) scale(0.883 1)">C: C</text><text transform="translate(534.6 910.2) scale(0.883 1)">B: B</text></g>
<text transform="translate(5.1 697.7) scale(0.828 1)" font-family="'Liberation Serif','Times New Roman',serif" font-weight="bold" font-size="22.57" fill="#000">Y1</text>
<ellipse cx="73.9" cy="745.6" rx="5.1" ry="3.5" fill="#ffc6c8" stroke="#a04848" stroke-width="0.9"/><path d="M73.9 743.8v3.5" stroke="#b05050" stroke-width="0.9"/>
<ellipse cx="590.7" cy="665.6" rx="4.9" ry="3.7" fill="#f80d0d" stroke="#8c1010" stroke-width="0.9"/>
<path d="M329.9 737.0L329.9 742.8" stroke="#222" stroke-width="0.9"/>
<ellipse cx="329.9" cy="737.0" rx="4.9" ry="3.7" fill="#f80d0d" stroke="#8c1010" stroke-width="0.9"/>
<path d="M329.9 552.5L329.9 559.6" stroke="#222" stroke-width="0.9"/>
<ellipse cx="329.9" cy="552.5" rx="4.9" ry="3.7" fill="#f80d0d" stroke="#8c1010" stroke-width="0.9"/>
</g>
<g>
<path d="M755.6 809.4l253 91.4 253-91.4-253-71.9z" fill="#ffff1c" stroke="#111" stroke-width="1"/>
<path d="M917.8 763.3l-4.7 3.5-4.2 4.2-2.6 4.1-1.1 2.3-0.7 2.6-0.4 4.5 0.7 4.5 1.8 4.7 3.2 5 4.3 4.8 5.4 4.6 6.3 4.4 7.8 4.5 7.7 3.6 8.6 3.4 9.4 3.1 10.6 2.9 9.7 2.1 11.7 2 10.9 1.4 10.7 0.8 12.1 0.3 9.2-0.2 10.9-0.8 9.5-1.1 10.3-2 8.9-2.3 7.7-2.8 6.6-3 5.6-3.3 4.6-3.6 2.2-2.2 2-2.3 2.4-4.1 1-2.6 0.5-2.7 0.2-2.8-0.2-2.8-0.8-3-1.2-3.2-1.8-3.2-1.9-2.7-2.7-3-2.8-2.7-7.1-5.7-8-4.9-10.3-5-11.6-4.6-11.5-3.5-12.8-3.1-12.6-2.3-14.2-1.7-14.2-0.9-12-0.1-13.3 0.7" fill="none" stroke="#ff9a08" stroke-width="1.35"/>
<path d="M867.9 777.5l-0.5 3.6-0.1 3.7 0.4 3.2 1.1 4.1 1.5 3.9 2.1 3.8 2.3 3.3 3 3.7 3.6 3.8 4 3.6 4.5 3.5 4.8 3.4 5.4 3.3 5.7 3.3 11.5 5.6 14.6 5.8 15 4.8 14.9 3.8 16.6 3.4 17.7 2.6 17.2 1.5 16.3 0.7 16.3-0.3 16.7-1.1 14.4-2 14.5-2.9 12.4-3.6 10.6-4 5.3-2.5 4.7-2.7 4.3-2.7 3.8-2.9 3.4-3 2.8-3.1 2.4-3.3 1.9-3.3 1.4-3.4 1-3.6 0.4-3.6-0.2-3.8-0.6-3.4-1.1-3.7-1.6-3.6-2.2-3.7-2.7-3.8-3.4-3.9-2.9-2.9-4.2-3.7-5.1-3.9-4.6-3.2" fill="none" stroke="#ffe42c" stroke-width="1.35"/>
<path d="M1146.9 850.8l6.6-3.8 5.1-3.6 4.5-3.8 3.9-3.8 3.2-4.1 2.6-4.1 2-4.3 1.3-4.5 0.7-4.5-0.1-4.8-0.8-4.8-1.5-5-2.3-4.9-2.8-4.7-3.5-4.5-4-4.6M838.7 785.8l0.8 5 1.5 4.9 2.2 4.8 3.2 5.3 3.6 4.7 4.8 5.2 5 4.6 5.9 4.7 5.9 4.2 7.5 4.7 8.3 4.6 7.8 3.8 9.8 4.3 9 3.6 9.7 3.4 10.4 3.2 11.2 3 9.8 2.4 10.5 2.2 11.2 2 12 1.8 12.8 1.5 11 1 11.1 0.6 11.3 0.4 12.9 0 10.2-0.4 11.6-0.8 10.6-1 9.8-1.4 9-1.5 10.2-2.2" fill="none" stroke="#dcff2c" stroke-width="1.35"/>
<path d="M1200.6 831.4l1.7-4.8 1-5.4 0.2-4.7-0.5-5.4-1.2-5.3-1.9-5.1-2.6-5.2-3.5-5.4M815.3 792.4l1.2 4.2 1.9 4.7 2.3 4.3 2.7 4.3 3.5 4.6 4 4.5 4.4 4.4 5 4.4 10.4 7.8 6.3 4.2 6.9 4 7.4 4 7.8 3.9 15.9 6.8 17.8 6.4 18 5.5 17.9 4.4 20 4 19.1 3 21.4 2.3 21 1.3 20.2 0.3" fill="none" stroke="#9cff20" stroke-width="1.35"/>
<path d="M1227.5 821.7l-0.4-5.8-1.4-6.1-2.1-5.9-3.1-6.2M992 894.9l14.6 1.5 11.6 1M795 798.2l1.8 4.6 2 4.2 2.3 3.9 3.2 4.6 3.6 4.6 4.1 4.5 4.5 4.4 4.5 4" fill="none" stroke="#54f02a" stroke-width="1.35"/>
<path d="M755.6 809.4l-16.5-262.2 269.5-46.5 269.5 46.5-16.5 262.2M1008.6 500.7l0 236.8" fill="none" stroke="#2a2a2a" stroke-width="1.1"/>

<path d="M1008.6 767.8l17.3-20.9 17-18.5 16.9-16 17.9-14.6 16.4-11.1 8.2-4.7 9.1-4.6 8-3.4 9-3.3 7.8-2.2 8.9-1.8 7.6-1 8.6-0.5 7.5 0.2 8.4 0.8 7.3 1.3 8.2 2.1 8.1 2.7 7.9 3.5 6.9 3.5 7.7 4.6 7.6 5.2 7.5 5.8 7.3 6.5 7.2 6.9 14.1 15.7-15.8-21.8-16.9-21.6-16.8-20-16.8-18.2-17.4-17.3-18-16.2-17.7-14.3-18.2-13.1-17.7-11.2-17.9-9.7-17.2-7.9-17.5-6.4-17.6-5-17.9-3.5-18-1.9-16.5-0.3-17.6 1.1-17.5 2.8-17 4.1-16.9 5.7-14.1 5.9-12.9 7.1-14.2 9.3-13.2 10.2-14.3 12.8-14.3 14.6-14.4 16.4-14.4 18.3-14.4 20-14.4 21.9-14.3 23.7-14.3 25.4 14.3-10.5 14.8-8.9 15.2-7.3 14.6-5.4 16-4 15.4-2.1 15.8-0.5 16.1 1.2 16.5 2.9 16.8 4.7 17.2 6.5 16.2 7.8 17.8 10.1 16.8 11.1 17 12.8z" fill="#00f0ed"/>
<path d="M1008.6 767.8l17.3-20.9 17-18.5 16.9-16 17.9-14.6 16.4-11.1 8.2-4.7 9.1-4.6 8-3.4 9-3.3 7.8-2.2 8.9-1.8 7.6-1 8.6-0.5 7.5 0.2 8.4 0.8 7.3 1.3 8.2 2.1 8.1 2.7 7.9 3.5 6.9 3.5 7.7 4.6 7.6 5.2 7.5 5.8 7.3 6.5 7.2 6.9 14.1 15.7-15.8-21.8-16.9-21.6-15.7-18.7-16.7-18.3-17.2-17.1-17.7-16.1-17.9-14.7-16.7-12.2-17.2-11.1-18.2-10.2-17.3-8.1-17.4-6.8-17.6-5.2-17.8-3.8-18-2.2-16.5-0.6-16.6 0.8-16.7 2.2-16.9 3.7-17 5.2-14.9 5.8-14 7.2-14.1 8.9-13.2 9.8-14.3 12.3-14.3 14.2-14.4 16.1-14.4 17.8-14.4 19.6-14.3 21.5-14.4 23.3-13.3 23.2 1.7 3.2 14.7-10 15.9-8.7 16.4-6.8 15.9-4.7 14.2-2.6 14.5-1.2 14.9 0.2 15.2 1.7 15.5 3.2 15.7 4.8 16.1 6.3 16.3 8 16.6 9.6 16.8 11.3 17 12.9z" fill="#01f0d5"/>
<path d="M1008.6 767.8l17.3-20.9 17-18.5 16.9-16 17.9-14.6 16.4-11.1 8.2-4.7 9.1-4.6 8-3.4 7.9-2.9 7.8-2.3 8.9-1.9 7.6-1.1 8.7-0.6 7.4 0.1 8.5 0.7 7.3 1.3 8.2 2 7.1 2.3 7.9 3.3 6.9 3.3 7.8 4.5 7.6 5.1 7.5 5.6 7.4 6.3 7.2 6.8 14.4 15.7-14.3-20-16.9-21.6-15.7-18.7-16.7-18.3-17.2-17.1-17.7-16.1-17.9-14.7-16.7-12.2-17.2-11.1-17-9.6-16.9-8.1-17.4-6.8-17.6-5.4-17.7-3.9-17.7-2.3-16.8-0.8-16.6 0.7-16.8 2-16.8 3.6-17 5-15.5 6-12.9 6.3-14.2 8.7-13.1 9.5-14.3 12.1-14.3 13.9-14.4 15.8-13.2 16.1-14.4 19.3-13.3 19.3-14.4 22.7-13.4 22.9 3.7 6.4 15.8-9.8 8.5-4.4 8.6-3.8 16.7-5.9 9-2.2 8.1-1.6 13.4-1.6 13.7-0.3 14 1 13.1 2 15.6 3.7 14.7 4.9 16.1 6.8 15.2 7.8 15.4 9.2 15.7 10.6 15.8 12.1z" fill="#02f0bd"/>
<path d="M1008.6 767.8l17.3-20.9 17-18.5 16.9-16 16.7-13.7 16.5-11.3 16.2-8.9 7.9-3.6 8-3 7.8-2.5 8.9-2.1 7.6-1.2 7.6-0.7 7.5-0.2 8.5 0.5 7.3 1 8.3 1.7 7.1 2.1 8.1 3.1 6.9 3.1 7.8 4.2 6.7 4.2 7.6 5.4 13.8 11.7 14.5 14.9-2-4.1-2.3-3.2-22.5-29.2-16.8-20-17.9-19.3-17.8-17.6-16.5-14.8-17.7-14.3-16.7-12.1-16.9-10.8-17-9.5-17.3-8.1-15.8-6.2-17-5.3-16.8-3.7-17.9-2.5-16.4-0.9-16.1 0.5-16.3 1.8-16.1 3.1-17 4.8-15.7 5.7-12.9 6-14.1 8.2-13.1 9.2-14.3 11.7-13.2 12.4-14.3 15.1-13.3 15.7-14.4 18.6-13.3 18.9-14.4 22.1-13.3 22.2 2.5 4.7 3.4 5.2 13.8-7.9 14.3-6.5 14.8-5.1 15-3.5 15.5-1.9 14.8-0.3 16.1 1.4 15.4 2.7 14.6 4 14.8 5.3 15 6.7 14.1 7.4 15.4 9.4 14.5 10 15.8 12.2z" fill="#03f0a5"/>
<path d="M1008.6 767.8l16-19.5 17.1-18.6 15.7-15.2 16.8-14 16.4-11.6 16.3-9.3 15.9-6.9 7.9-2.6 7.8-2.1 7.7-1.5 7.6-0.9 7.5-0.4 8.6 0.2 7.3 0.8 7.3 1.3 7.2 1.8 8.1 2.7 6.9 2.9 7.9 3.9 6.8 3.9 7.6 5.1 14 11.1 13.4 13-3.3-7.1-16.5-21.4-18-21.5-19-20.6-17.8-17.6-16.5-14.8-17.7-14.3-16.7-12.1-16.9-10.8-17-9.5-17.3-8.1-15.8-6.2-17-5.3-16.8-3.7-16.3-2.3-17.2-1.1-15.8 0.4-16.7 1.8-16.7 3.2-15.4 4.2-15.3 5.5-12.8 5.7-14.1 7.9-13.1 9-14.3 11.4-13.2 12.1-13.2 13.7-13.3 15.2-14.4 18.3-13.3 18.4-13.2 20-13.2 21.4 3.6 6.5 5 6.8 14.1-7.2 14.5-5.7 15-4.2 14.2-2.5 15.7-1.2 14.9 0.4 15.2 2 15.5 3.4 13.5 4.2 13.8 5.3 13.9 6.6 14.1 7.7 14.3 8.9 14.5 10.2 14.6 11.4z" fill="#03f08d"/>
<path d="M1008.6 767.8l16-19.5 15.9-17.4 15.7-15.3 16.8-14.2 15.3-11 16.3-9.6 15.9-7.3 7.9-2.8 7.8-2.2 7.8-1.6 7.6-1.1 7.6-0.5 7.5 0 7.4 0.5 7.3 1.1 7.2 1.5 7.1 2.1 14 5.7 6.9 3.6 7.7 4.7 14.1 10.4 13 11.9-1.8-4.9-2.7-5.3-8.1-10.4-20.2-24.3-20.1-21.8-16.7-16.4-17.8-15.8-17.1-13.8-17.5-12.6-16.9-10.7-15.5-8.6-17.3-8.1-15.8-6.2-17-5.3-16.8-3.7-16.3-2.3-16.4-1-16.6 0.3-15 1.6-15.8 2.8-15.6 4.1-16 5.5-13.4 5.9-13 7.1-13.1 8.7-13.2 10.2-13.2 11.7-13.2 13.3-13.3 14.9-13.3 16.4-13.3 17.9-13.2 19.5-12.9 20.3 5 8.7 6.9 8.3 13.8-6.2 14.8-4.9 14-3.3 14.5-1.8 14.7-0.4 15.1 1.1 15.3 2.5 15.7 4.1 13.6 4.8 12.7 5.4 12.8 6.4 13 7.4 13.1 8.4 13.3 9.5 13.4 10.5z" fill="#04f075"/>
<path d="M1008.6 767.8l14.8-18 15.9-17.6 15.7-15.5 15.6-13.4 15.4-11.3 15.1-9.3 14.9-7.3 7.9-3.1 7.9-2.6 14.4-3.2 14.1-1.3 13.8 0.6 7.3 1.1 7.2 1.5 13.2 4.3 12.8 6.1 7.8 4.5 8.5 5.8 7.5 5.8 7.8 6.9-0.6-2.5-1.7-4.6-2-4-1.4-2.4-3.9-4.9-20.2-24-20.5-21.9-17.1-16.5-17.2-15.2-17-13.5-16.8-11.9-16.1-10.1-16.3-8.9-15.7-7.3-15.8-6.2-16-5-16.3-3.7-16.1-2.5-16.4-1.1-16.6 0.2-15 1.4-15.1 2.6-15.3 3.8-15.3 5-13.6 5.6-13 6.8-13 8.3-13.2 9.8-13.2 11.3-13.2 12.9-12.1 13.2-13.3 15.9-13.3 17.5-13.3 18.9-12.4 19.2 2.6 5 3.6 5.3 4.4 5.3 5.1 5.1 13.9-5.2 14-3.8 14.3-2.5 14.6-1 14.9 0.4 14.1 1.8 15.5 3.3 14.6 4.5 12.6 4.8 11.6 5.3 12.9 6.8 11.9 7 13.1 8.7 12.2 8.8 12.2 9.7z" fill="#05f05d"/>
<path d="M1010.7 765.2l15.2-18.3 14.6-16 14.5-14.2 14.4-12.4 14.2-10.7 15.2-9.6 13.8-7.1 14.7-5.8 13.4-3.6 13.1-1.9 12.9-0.3 13.6 1.4 7.3 1.5 8.1 2.3 7.1 2.6 7.9 3.6 7.8 4.2 7.7 4.9 7.5 5.4 6.9 5.6-1.4-6.1-2-4.9-2.5-4.6-7.1-8.8-19-21.7-19.5-20-16.2-15.1-16.3-13.9-16.6-12.8-16.8-11.5-15.4-9.3-15.5-8.3-15.7-7.1-15.9-5.9-16-4.7-16.1-3.5-16.4-2.2-14.8-0.8-14.9 0.2-15 1.4-15.1 2.6-15.3 3.8-13.6 4.4-14.2 5.7-13 6.7-12 7.4-13.1 9.5-12.1 10.1-13.2 12.6-12.1 12.8-13.3 15.5-12.2 15.6-12.2 16.8-12.9 19.3 3.3 6.3 4.4 6.2 6 6.3 6.8 6 13-3.9 14.2-3 13.5-1.4 13.7-0.3 14 1.1 14.2 2.3 14.5 3.7 13.6 4.5 10.3 4.2 9.3 4.3 20 10.9 13.1 8.3 12.1 8.5 13.4 10.3 12.6 10.5z" fill="#06f045"/>
<path d="M1016.7 755.2l2 0.1 16.9-19.2 15.8-16 12-10.9 11.9-9.6 13-9.2 12.8-7.7 12.6-6.3 12.5-4.9 12.3-3.5 12-2.1 11.9-0.7 11.7 0.6 7.3 1.1 8.2 1.8 7.1 2.2 8.1 3.1 6.9 3.2 7.8 4.3 7.6 4.9 7.4 5.4-0.4-4.4-1.3-4.7-1.8-4.5-2.4-4.2-6.6-8.2-19-21.1-19.7-19.6-16.3-14.7-16.4-13.5-16.7-12.3-15.3-10.1-15.4-9-14.9-7.6-14.9-6.4-15.9-5.7-16-4.5-14.6-3-14.7-1.9-14.8-0.8-14.9 0.2-13.7 1.3-14.8 2.4-14.4 3.4-15.3 4.8-14 5.5-11.8 5.9-12 7.2-13.1 9.3-12.1 9.9-12.1 11.2-12.1 12.5-12.2 13.8-12.2 15.1-12.1 16.4-12.2 17.6 3.8 7.2 5.6 7.3 7.5 7.3 9.7 7.4 9.8-2.3 10.2-1.6 10.4-1 9.5-0.2 10.7 0.4 9.7 1.1 11 1.9 10 2.4 12.4 3.8 11.4 4.3 11.6 5.1 11.7 5.9 11.8 6.8 11.9 7.6 12.1 8.5 12 9.1z" fill="#07f02d"/>
<path d="M1025.2 745.1l2.1 0.1 13.2-14.3 13.3-13.1 12-10.6 13.1-10.2 11.7-8.1 11.7-6.9 11.4-5.6 11.4-4.5 13.4-3.9 13.1-2.2 12.9-0.6 13.8 1.1 12.3 2.7 13.2 4.6 11.8 5.7 12.3 7.7-0.1-5.9-1.5-6.3-3.6-7.4-5.2-6.8-19-20.5-19.7-19.1-16.2-14.4-15-12-15.2-11.1-15.3-9.9-15.5-8.9-14-7.1-15.6-6.7-14.5-5.1-14.4-4.1-14.6-3.1-14.7-2-14.7-1-13.8 0.1-14.5 1.1-15.1 2.3-13.5 3.1-13.6 4-15 5.7-11.9 5.5-11.9 6.8-12 8.2-12.1 9.4-12.1 10.7-12.1 12-12.2 13.3-12.1 14.6-12.2 15.9-11.2 15.8 1.8 4 2.6 4.4 3.6 4.7 3.9 4.2 10.2 8.7 12.6 8.2 14.8-1.8 15.8-0.2 16.2 1.4 15.4 2.9 11.2 3 10.2 3.4 10.3 4 10.4 4.8 10.6 5.3 10.6 6.1 20.9 13.7 26.1 2.7z" fill="#08f015"/>
<path d="M1034.4 735l2.2 0 11.2-11.4 12-11.2 10.8-9.1 11.8-8.9 9.4-6.3 10.5-6.1 10.3-5.1 10.2-4.2 12.3-3.9 13.3-2.6 11.9-1 12.7 0.5 11.5 1.8 12.2 3.4 12 4.9 11.9 6.4 0.7-3.9 0-3.6-0.5-3.9-1.2-3.9-2.8-5.8-4.4-6.2-18.9-19.9-19.1-18.1-14.8-12.8-15-11.8-15.2-10.8-15.4-9.8-13.9-7.9-15.1-7.4-14.8-6.2-14-4.9-14.7-4-14.6-3-14.7-1.9-13.1-0.8-13.8 0.1-13.8 1-14.1 2.1-13.5 3-14.6 4.2-14.7 5.4-11.8 5.5-10.8 6-12 7.9-11 8.3-12.1 10.3-11 10.6-12.1 12.8-11.1 12.8-12.2 15.3-11.1 15.2 2.3 5.3 3.3 5.1 4.3 5.1 5.2 5 6.1 4.8 7.9 5.4 8.2 4.8 9.2 4.8 13.2-0.1 13 1 14.2 2.3 13.4 3.3 13.6 4.5 13.7 5.7 14 6.8 13.7 7.7 19.9 2.8 19.4 2.1 20 1.6z" fill="#15f108"/>
<path d="M1044.4 724.6l2.4 0 10.6-10.1 9.6-8.3 9.5-7.5 10.6-7.5 16.3-9.8 8-4 9.1-3.9 11.3-3.8 12.2-2.8 12-1.5 11.7-0.1 11.6 1.2 11.3 2.5 11.2 3.7 10.7 4.9 1.4-4.4 0.6-4.9-0.5-4.7-1.3-4.5-3.2-6.4-4.9-6.3-18.4-18.5-17.7-16.2-14.9-12.4-15.1-11.5-15.3-10.4-13.8-8.4-14-7.6-13.7-6.5-13.1-5.3-14.3-4.8-13.6-3.7-13.8-2.8-14.7-1.9-13.1-0.8-13.3 0.1-13.3 0.9-13.4 1.9-13.5 2.8-13.6 3.8-13.6 4.8-11.3 4.8-11.9 6.3-11.9 7.5-11 8-11 9-11 10.1-11 11.2-11.1 12.3-11 13.3-12 15.7 3 6.7 4.7 6.5 6.5 6.6 8.2 6.4 9.7 6.2 11.4 6.1 13 5.8 14 5.4 11.7 2 11.2 2.8 11.2 3.6 12.3 4.7 16.5 3.4 16 2.8 22.4 3.1 22.8 2.3 22.3 1.5z" fill="#31f207"/>
<path d="M1055.6 713.9l2.6 0 10-8.7 10.7-8.2 9.4-6.6 10.5-6.4 8.1-4.4 9.1-4.2 7.9-3.1 9-2.9 8.9-2.1 8.7-1.4 8.7-0.6 9.6 0.1 8.4 0.8 9.3 1.7 8.2 2.3 8.5 3.1 2.8-5.4 1.3-5.7-0.2-5.7-1.7-5.7-3.3-6-5.4-6.5-16.4-16-17.7-15.7-15-12-13.7-10-13.7-9.1-13.9-8.3-14-7.4-12.6-5.7-14.1-5.6-12.9-4.2-12.9-3.4-14.1-2.8-13.5-1.7-13.1-0.8-13.3 0.1-13.3 0.9-13.4 1.9-11.8 2.4-13.6 3.7-13.6 4.7-11.9 4.9-10.8 5.5-10.9 6.6-10.9 7.7-11 8.7-9.9 8.7-11 10.8-11 11.8-11.1 13-10.3 13 2.9 6.9 5.1 7.1 7.6 7.2 9.7 7.1 11.8 6.8 13.9 6.5 15.1 5.9 16 5.3 18.1 5 18.8 4.3 19.5 3.7 21.6 3.2 22.3 2.5 20.8 1.5 20 0.8z" fill="#4df306"/>
<path d="M1068.4 702.9l2.9-0.2 17-12.3 8.2-5.1 9.2-5.1 13.7-6.2 14.6-4.9 14.4-2.9 7.6-0.8 7.5-0.2 7.4 0.3 7.4 0.8 13.8 3.1 3.8-4.7 2.5-4.6 1.4-5.1 0.1-5.1-1-4.6-2.1-4.8-3.3-4.9-4.2-4.7-13.4-12.6-13.3-11.7-13.5-10.9-13-9.6-20.9-13.7-21.4-11.8-10.9-5.2-11.1-4.6-11.1-4-10.8-3.3-16.5-4-16.3-2.6-16.4-1.2-16.5 0-15.4 1.4-16.4 2.7-17 4.3-16.2 5.5-13.2 5.6-12.9 7.1-13.1 8.5-12.1 9.2-13.2 11.4-12.1 11.9-12.1 13.2-12.9 15.3 1.1 3.5 1.7 3.6 5.2 7.2 7.6 7.2 9.7 6.9 12 6.7 14.1 6.4 15.3 5.8 17.5 5.5 19.8 5 19.6 4.1 20.4 3.4 21 2.7 21.7 2 22.3 1.2 21.2 0.3z" fill="#69f405"/>
<path d="M1084.3 691l3.5-0.3 13.3-8 12.6-6.3 10.2-4.1 10.1-3.2 11.1-2.4 10.9-1.3 10.7-0.1 11 0.9 4-3 3.6-3.4 2.6-3.1 2.1-3.6 1.4-3.4 0.8-3.6 0-3.6-0.7-3.8-2.1-5.2-3-4.7-3.9-4.4-6.6-6.1-13.3-11.7-12-9.7-12.1-9.1-12.2-8.4-20-12.2-20.3-10.3-20.5-8.4-11.2-3.7-9.6-2.7-16.1-3.5-14.8-2-16.4-1-14.9 0.2-15 1.4-15.1 2.6-15.4 3.8-15.3 5.1-12.4 5-11.9 6-12 7.3-12 8.6-12.1 9.9-12.1 11.2-12.1 12.5-12.8 14.4 1 3.8 1.5 3.5 2.3 3.7 3 3.6 7.6 7.1 10.4 7.2 13 6.9 14.6 6.3 16.9 5.9 18.2 5.2 19.5 4.5 20.5 3.9 21.4 3.1 22.3 2.3 22.5 1.4 21.5 0.6 22.9-0.3z" fill="#85f504"/>
<path d="M1107.9 677.2l6.2-1 11-4.3 10-3.1 8.9-1.9 9.5-1.3 8.9-4 7.8-4.6 4.3-3.3 3.9-3.7 2.9-3.9 1.8-3.6 1-4.2 0.1-3.9-0.8-4-1.6-3.9-3-4.7-4.3-4.7-17.9-15.4-21.1-16-21.5-14-18.6-10.3-18.8-8.7-19.1-6.9-19.3-5.3-14.6-2.7-14.7-1.7-14.8-0.6-13.3 0.4-14.7 1.5-13.7 2.4-15.3 3.8-13.6 4.4-12.1 4.8-10.8 5.2-11.9 6.9-10.9 7.5-12.1 9.4-11 9.6-12.1 11.9-11.1 12.1 0.7 3.8 1.6 3.8 2.2 3.7 3.2 4 4 3.9 4.2 3.5 11.5 7.4 14.3 7 16.3 6.4 17.9 5.6 20.7 5.2 21 4.2 23.8 3.6 23.8 2.5 23.3 1.4 24.7 0.5 22-0.6 22.3-1.7z" fill="#a1f603"/>
<path d="M1118.1 663.9l15.7-3.8 14.1-4.9 11.2-5.4 8.3-5.9 3.2-3.3 2.3-3 1.8-3.6 0.9-3.3 0.2-3.7-0.5-3.4-1.3-3.5-2-3.6-3-3.8-4.1-4.1-20.3-16.3-19-13.4-19.3-11.7-18-9.3-18.1-7.7-17.5-5.9-18-4.5-12.7-2.2-14-1.5-13.9-0.6-13.3 0.4-13.3 1.3-13.5 2.3-13.5 3.2-13.7 4.2-12.2 4.5-10.7 4.9-10.8 6-10.9 7-11 8-11 9.2-11 10.2-10.1 10.3 0.4 3.9 1.3 3.8 2.1 3.7 3 3.9 3.9 3.9 4.7 3.7 11.6 7.3 14.5 6.9 16.6 6.2 19.5 5.8 21.4 4.9 21.8 3.9 24.1 3.2 24.4 2 23.1 0.9 23.5-0.2 23.5-1.3 21.3-2.3z" fill="#bdf702"/>
<path d="M1107.2 654.5l16.5-3.7 13.8-4.3 11-4.9 8.9-5.6 3.2-2.8 2.6-3 2.1-3.3 1.2-3.2 0.5-3.2-0.2-3.3-1-3.5-1.8-3.5-2.8-3.8-3.6-3.8-14.6-11.5-19.8-13.7-18.5-11.1-17.1-8.7-17.4-7.4-17.1-5.8-16.5-4.2-13-2.4-12.7-1.5-13.5-0.7-12.1 0.1-12.8 0.9-13.4 1.9-13.5 2.8-11.9 3.3-12 4.1-11.4 4.5-10.7 5.4-9.8 5.6-10.9 7.4-9.9 7.5-11 9.3-10.7 10.2 0 3.5 0.8 3.4 1.6 3.6 2.5 3.7 3.1 3.4 4.2 3.7 10.3 6.9 13 6.6 15.9 6.2 17.7 5.4 19.5 4.7 21 4 22.6 3.1 22.4 2.1 22.7 1.1 22 0.1 20.5-0.8 20.8-1.9z" fill="#d9f801"/>
<path d="M1100.3 644.1l14.8-3.2 13.1-3.9 11.3-4.7 8.5-5.1 3.3-2.8 2.6-2.8 1.9-3 1.3-3 0.5-3.2-0.2-3.1-0.8-3.1-1.5-3.1-2.6-3.5-3.5-3.6-10.5-8.2-18.3-12.3-18.6-10.9-15.6-7.7-15.8-6.7-15.9-5.4-16.6-4.4-12.4-2.3-13.1-1.7-11.5-0.7-12.6-0.1-12.3 0.7-11.7 1.4-11.7 2.1-12.8 3.1-12.7 3.9-12 4.5-8.9 3.9-9.7 5.2-10.9 6.6-9.8 7-12.1 9.6-7.2 6.4-0.1 0.5-0.4 3.5 0.5 3.2 1.3 3.4 2.1 3.5 3 3.5 3.7 3.3 8.8 6.2 11.9 6.2 14.5 5.8 16.3 5.1 18.8 4.7 19.2 3.7 22 3.1 22 2.1 21.5 1.2 20.5 0.2 20.6-0.8 20.7-1.8z" fill="#f5fa00"/>
<path d="M1097.9 632.7l13.5-3.1 11.4-3.7 9.8-4.4 7.4-4.8 3-2.7 2-2.4 1.5-2.9 0.9-2.7 0.3-2.7-0.4-2.8-1-2.9-1.7-3-2.6-3.3-3.4-3.2-10.8-7.7-16.9-10.5-17.1-9.3-15.3-7.1-14.6-5.6-14.4-4.5-14.5-3.6-12.3-2.1-11.8-1.4-11.5-0.7-11.3 0-11.1 0.6-11.2 1.3-11.8 2-11.8 2.7-11.9 3.5-11.9 4.2-10.2 4.3-9.7 4.9-12 7.2-12 8.5-8.2 6.5-1 2.9-0.2 2.8 0.4 3.1 1.1 3.1 1.9 3.1 2.7 3.2 3.5 3.2 8.8 6 12.1 6 13.9 5.4 15.5 4.7 17.9 4.3 19.5 3.5 19.3 2.6 21.9 1.9 20.3 0.9 19 0 19.8-0.9 18.3-1.7z" fill="#ffe500"/>
<path d="M1091.8 621.7l13-3 10.1-3.3 8.8-4 6.4-4.2 4.3-4.5 1.4-2.5 0.9-2.6 0.2-2.4-0.3-2.6-0.9-2.7-1.5-2.6-4.8-5.2-6.4-4.9-16.7-10-17.2-8.9-13.9-6.1-12.9-4.9-14.4-4.4-13.2-3.1-11.1-2-11.4-1.4-9.9-0.7-11.5-0.2-11.1 0.5-10.5 1-11.2 1.7-10.7 2.2-11.9 3.2-11.1 3.6-11.8 4.6-9.7 4.6-13 7.3-12 8.1-1.6 2.8-0.9 2.7-0.2 2.8 0.5 3 1.2 2.8 1.9 2.9 5.8 5.7 8.5 5.6 10.8 5.2 13.2 4.9 14.6 4.3 16.9 3.9 18.3 3.2 19.5 2.5 18.3 1.5 18.9 0.7 19.3-0.1 17.3-0.8 16.2-1.7z" fill="#ffc300"/>
<path d="M1082.6 611.1l11.6-2.5 10.3-3.2 8.2-3.6 6-3.8 4.1-4 1.4-2.4 0.8-2.2 0.3-2.5-0.3-2.3-2.1-4.5-4.3-4.8-6.4-4.6-13.7-7.7-13.5-6.6-13-5.5-12.7-4.6-12.4-3.7-12.2-2.8-11.1-2-9.7-1.2-9.9-0.8-10.3-0.3-11.2 0.3-10 0.8-10.1 1.4-10 1.8-11.9 2.9-11.2 3.3-12.6 4.6-9.6 4.1-15.1 8.2-3.9 4.1-1.9 4.3-0.2 2.5 0.4 2.5 1.1 2.7 1.5 2.3 5.2 5.1 7.8 5.2 10.1 4.8 11.4 4.3 13.4 3.9 14.4 3.3 16.5 3 16 2.1 16.6 1.5 17.8 0.8 17.9 0.1 16.7-0.7 16.4-1.5z" fill="#ffa200"/>
<path d="M1073.3 600.1l10.2-2.1 9.5-2.8 7.6-3.2 5.7-3.4 3.9-3.8 1.8-3.6 0.2-4-1.7-4.2-3.8-4.3-5.7-4.2-7.3-4-12.4-5.8-12.5-5-11.3-3.9-12.8-3.7-11.3-2.6-19.6-2.9-19.7-1.1-19.9 1-18.5 2.6-10.9 2.4-11.1 3.1-11.9 4-10 4-5.3 2.8-4.1 3.1-2.6 3-1.5 3.5-0.2 2.1 0.4 2.3 2.4 4.3 4.3 4.4 6.7 4.4 8.6 4.1 10.4 3.9 12.2 3.6 13.1 3 15.2 2.7 14.4 1.8 16.6 1.5 15.4 0.6 16.3 0 13.5-0.6 13.1-1.1z" fill="#ff8000"/>
<path d="M1058.9 589.4l10-1.8 9.2-2.3 7.4-2.7 5.6-2.9 4-3.3 2.2-3.5 0.3-3.5-1.5-3.9-1.9-2.3-2.8-2.5-7.6-4.7-13.6-5.8-14-4.9-13.1-3.6-14.6-3.1-14.6-2-13.2-0.9-14.9 0-14.3 1-14.1 2.1-15.2 3.4-13.9 4.2-7.9 3.4-5.5 4.1-1.8 2.3-0.9 2.4 0.1 3.7 1.9 3.6 3.9 3.9 5.7 3.7 7.1 3.4 8.6 3.2 10.2 3 10.6 2.5 23.1 3.8 12.8 1.3 14 0.8 12.6 0.3 12.7-0.3 11.7-0.7z" fill="#ff5e00"/>
<path d="M1054.4 576.2l12.6-3.1 5.1-2.1 4-2.4 2.5-2.2 1.5-2.6 0.2-2.6-0.9-2.7-2.2-2.7-3-2.5-4.4-2.6-5.5-2.5-14.9-4.8-17.8-4.2-16.1-2.5-16.1-1.1-15.2 0.1-16.7 1.5-16.6 2.9-10.9 3.2-4.5 2.1-3.4 2.2-2.4 2.6-1 2.4 0.2 3 1.8 3 3.3 3.1 4.8 3 6.7 3.1 7.3 2.5 8.5 2.3 9.9 2.2 21.5 3 22 1.2 20.5-0.4 10.9-1.1z" fill="#ff3d00"/>
<path d="M1033.2 564.1l11.7-2.2 7.8-2.8 2.9-1.9 1.7-2 0.5-2-0.6-2.2-2-2.5-4.3-2.8-5.5-2.5-7.2-2.3-7.6-1.8-8.8-1.5-9-1.1-10.7-0.8-9.5-0.2-10.1 0.4-8.4 0.8-7.9 1.3-6.2 1.7-4.9 2.1-3.1 2.2-1.5 2.6 0.1 2.1 1 1.9 2.1 2 3 2 9 3.8 11.4 3 14.2 2.3 14.9 1.2 13.9 0.1z" fill="#ff1b00"/>
<path d="M1008.6 767.8c-99.3-88.3-187.6-89.5-257.7-32.9M1008.6 767.8c49.5-63.2 97.3-96.3 140.8-101.7c43.7-5.7 83.2 16.1 117.6 57.9M1016 758.6c-99.3-89.5-187.9-91.6-258.5-35.6M1001.2 761.4c49.5-63.8 97.3-97.4 141-103.4c43.7-6.2 83.4 15.1 118 56.5M1023.4 749.8c-99.4-90.6-188.3-93.8-259.3-38.4M993.8 755.3c49.5-64.3 97.3-98.6 141.1-105.1c43.9-6.7 83.7 14 118.6 55.1M1030.8 741.4c-99.4-91.6-188.7-95.9-260.1-41.2M986.5 749.5c49.4-64.9 97.2-99.7 141.1-106.7c44-7.3 84.1 12.9 119.1 53.5M1038.1 733.5c-99.4-92.7-189-98.1-260.8-44.2M979.2 744c49.3-65.4 97.2-100.8 141.2-108.4c44.1-7.8 84.3 11.9 119.6 52M1045.4 726c-99.4-93.8-189.2-100.2-261.4-47.1M971.9 738.8c49.3-65.9 97.2-101.9 141.3-110.1c44.2-8.3 84.6 10.8 120 50.5M1052.6 719c-99.3-94.9-189.4-102.5-262-50.2M964.7 733.9c49.2-66.4 97.1-102.9 141.3-111.7c44.3-8.9 84.8 9.6 120.5 48.9M1059.8 712.4c-99.3-96-189.6-104.8-262.6-53.3M957.6 729.4c49.1-67 97-104.1 141.3-113.5c44.3-9.5 85 8.5 120.9 47.3M1067 706.2c-99.3-97.1-189.8-107-263.1-56.3M950.4 725.1c49.1-67.5 97-105.2 141.4-115.1c44.4-10.1 85.2 7.3 121.2 45.6M1074.2 700.5c-99.2-98.2-190-109.3-263.7-59.6M943.4 721.1c48.9-67.9 96.8-106.3 141.2-116.8c44.5-10.7 85.5 6.2 121.7 44M1081.3 695.2c-99.2-99.3-190.1-111.6-264.1-62.8M936.3 717.5c48.9-68.5 96.8-107.4 141.3-118.5c44.5-11.3 85.6 5 122 42.3M1088.3 690.4c-99-100.4-190.1-114-264.5-66.1M929.4 714.1c48.7-69 96.6-108.5 141.1-120.2c44.2-11.7 85 3.5 121.3 39.5M1095.3 686c-98.9-101.5-190.2-116.4-264.8-69.5M922.4 711c48.2-68.7 95.6-108.7 139.8-121.5c43.8-12.7 84.4 1 120.7 35.3M1102.3 682c-98.8-102.6-190.2-118.7-265.2-72.8M915.5 708.3c47.6-68.6 94.5-109.1 138.3-122.8c43.5-13.7 84-1.5 120.2 31.1M1109.2 678.5c-98.7-103.8-190.2-121.2-265.5-76.3M908.7 705.8c47-68.3 93.3-109.3 136.8-124c43.1-14.7 83.4-3.9 119.6 26.9M1116 675.4c-98.4-104.9-190.1-123.6-265.7-79.8M901.9 703.6c46.4-68.1 92.2-109.5 135.4-125.1c42.7-15.7 82.7-6.4 118.8 22.8M1122.8 672.7c-98.3-106-190-126-265.9-83.3M895.2 701.7c45.8-67.8 91.1-109.6 133.8-126.2c42.4-16.6 82.2-8.7 118.2 18.8M1129.6 670.4c-98.1-107-189.9-128.4-266.1-86.8M888.5 700.1c45.2-67.6 90-109.7 132.3-127.3c42-17.5 81.5-11 117.4 14.8M1136.2 668.5c-97.8-108.1-189.7-130.8-266.1-90.3M881.9 698.8c44.5-67.3 88.8-109.9 130.8-128.3c41.5-18.4 80.8-13.3 116.6 10.9M1142.9 667.1c-97.7-109.2-189.6-133.3-266.2-93.9M875.3 697.7c43.5-66.3 86.7-108.9 127.9-128.5c41.2-19.8 80.2-16.5 115.9 5.6M1149.4 666.1c-97.4-110.3-189.3-135.7-266.1-97.6M868.8 696.9c42.9-65.9 85.6-108.9 126.3-129.3c40.7-20.6 79.5-18.7 115.1 1.8M1156 665.4c-97.2-111.3-189.2-138.1-266.2-101.2M862.3 696.4c42.3-65.6 84.4-108.9 124.7-130.1c40.4-21.4 78.8-20.8 114.2-1.9M1162.4 665.2c-96.9-112.4-188.9-140.6-266.1-104.8M855.9 696.2c41.7-65.3 83.3-108.8 123.1-130.8c39.9-22.2 78-22.9 113.3-5.6M1168.8 665.4c-96.6-113.5-188.6-143.1-266-108.5M849.6 696.2c41-64.9 82.1-108.7 121.5-131.4c39-22.7 76.3-24.9 111-9.7M1175.1 665.9c-96.3-114.4-188.3-145.4-265.8-112.2M843.3 696.5c40.4-64.5 80.9-108.5 119.9-132c38.5-23.4 75.5-26.8 110-13.1M1181.4 666.9c-95.6-114.9-187-147.6-264.5-116.4M837.1 697.1c39.3-63.4 78.7-107.3 116.8-131.7c38.1-24.5 74.8-29.6 109.1-17.8M1187.6 668.2c-91.4-111.2-179.4-147.2-254.8-123.3M830.9 697.9c38.7-62.9 77.6-107 115.2-132.1c37.6-25.2 74-31.4 108-21.1M1193.7 669.9c-87.7-108-172.5-146.7-246.2-129M824.8 699c75.8-125 152-174.5 219.2-157.1M1199.8 672c-83.6-104.1-164.8-145.4-236.2-134.2M818.8 700.4c74.1-123.3 148.8-174.4 215-160.8M1205.8 674.4c-79.5-100.1-157-143.5-226-138.4M812.8 701.9c72.8-122.3 146.5-174.8 212.2-163.9M1211.7 677.2c-74.9-95.4-148.3-140.6-214.4-141.6M806.8 703.8c71.2-120.6 143.4-174.5 208.1-167.1M1217.5 680.4c-70.4-90.7-139.5-137.1-202.6-143.7M801 705.9c69.5-118.9 140.1-174 203.8-170.1M1223.3 683.9c-65.9-85.9-130.8-132.9-190.7-144.6M795.2 708.2c67.8-117 136.8-173.3 199.6-172.7M1229 687.8c-61.4-81-122.1-128.3-178.7-144.2M789.4 710.7c66.2-115.2 133.7-172.4 195.4-175M1234.7 692c-56.6-75.4-112.6-122.2-165.4-142.1M783.7 713.5c64.6-113.3 130.4-171.5 191.1-177.1M1240.2 696.5c-51.6-69.7-102.9-115.5-151.8-138.5M778.1 716.5c62.9-111.4 127.2-170.4 186.7-178.9M1245.7 701.4c-46.3-63.3-92.5-107.4-136.8-132.7M772.5 719.8c61.3-109.5 124-169.2 182.4-180.5M1251.1 706.5c-41.1-56.7-82.1-98.3-121.8-125.1M767 723.2c59.7-107.5 120.8-167.8 178.1-181.7M1256.5 712c-35.5-49.4-70.9-87.7-105.5-114.8M761.6 726.9c58-105.5 117.6-166.3 173.6-182.7M1261.8 717.9c-29.4-41.5-58.8-75.3-87.8-101.3M756.2 730.8c56-102.7 113.5-163.6 168-183M1267 724c-23.4-33.4-46.9-61.9-70.1-85.5M750.9 734.9c54.4-100.6 110.3-161.8 163.5-183.4" fill="none" stroke="#000" stroke-width="0.92" stroke-opacity="0.82"/>
<path d="M1008.6 767.8l8.6-10.7 8.7-10.2 8.5-9.5 8.5-9 8.5-8.3 8.4-7.7 8.4-7.2 9.5-7.4 8.3-5.8 8.1-5.3 8.2-4.7 9.1-4.6 8-3.4 9-3.3 7.8-2.2 8.9-1.8 7.6-1 8.6-0.5 7.5 0.2 8.4 0.8 7.3 1.3 8.2 2.1 8.1 2.7 7.9 3.5 6.9 3.5 7.7 4.6 7.6 5.2 7.5 5.8 7.3 6.5 7.2 6.9 7.1 7.6 7 8.1-15.8-21.8-7.9-10.3-9-11.3-7.8-9.5-9-10.5-7.8-8.7-9-9.5-8.7-8.8-8.7-8.5-8.9-8.2-9.1-8-8.7-7.2-9-7.1-9.1-6.8-9.1-6.3-9.2-6-8.5-5.2-8.5-4.8-9.4-4.9-8.8-4.2-8.4-3.7-9.5-3.7-8-2.7-9.2-2.8-8.4-2.2-9.7-2.1-8.2-1.4-9.7-1.2-8.3-0.7-8.2-0.3-8.3 0-8.3 0.3-9.3 0.8-9.1 1.3-8.4 1.5-8.4 1.8-8.6 2.3-8.4 2.6-8.5 3.1-7.6 3-6.5 2.9-6.4 3.4-6.5 3.7-7.7 4.7-6.5 4.6-6.6 4.9-6.6 5.3-7.7 6.6-6.6 6.2-7.7 7.6-6.6 7-7.8 8.6-6.6 7.8-7.7 9.6-6.7 8.7-7.7 10.6-6.7 9.4-7.7 11.6-6.7 10.3-14.3 23.7-14.3 25.4 7.1-5.4 7.2-5.1 7.3-4.6 7.5-4.3 7.5-3.9 7.7-3.4 7.7-3.1 6.9-2.3 7.9-2.2 8.1-1.8 8.2-1.3 7.2-0.8 8.4-0.5 7.4 0 8.6 0.4 7.5 0.8 8.8 1.4 7.7 1.5 9 2.3 7.8 2.4 9.1 3.3 8.1 3.2 8.1 3.7 8.1 4.1 9.5 5.1 8.3 5 8.3 5.3 8.5 5.8 8.4 6.2 8.6 6.6 8.6 7.1z" fill="none" stroke="#000" stroke-width="1.0" stroke-opacity="0.88"/>
<g fill="#000"><circle cx="739.1" cy="547.2" r="1.9"/><circle cx="742.2" cy="597.1" r="1.9"/><circle cx="745.4" cy="647.0" r="1.9"/><circle cx="748.5" cy="697.0" r="1.9"/><circle cx="751.7" cy="746.9" r="1.9"/><circle cx="755.6" cy="809.4" r="1.9"/><circle cx="818.9" cy="832.3" r="1.9"/><circle cx="882.1" cy="855.1" r="1.9"/><circle cx="945.4" cy="878.0" r="1.9"/><circle cx="1008.6" cy="900.8" r="1.9"/><circle cx="1071.8" cy="878.0" r="1.9"/><circle cx="1135.1" cy="855.1" r="1.9"/><circle cx="1198.3" cy="832.3" r="1.9"/><circle cx="1261.6" cy="809.4" r="1.9"/></g>
<g font-family="'Liberation Sans',Arial,sans-serif" font-size="12.7" fill="#1a1a22"><text transform="translate(732.3 559.8) scale(0.916 1)" text-anchor="end">34</text><text transform="translate(735.4 609.7) scale(0.916 1)" text-anchor="end">31</text><text transform="translate(738.6 659.6) scale(0.916 1)" text-anchor="end">28</text><text transform="translate(741.7 709.6) scale(0.916 1)" text-anchor="end">25</text><text transform="translate(744.9 759.5) scale(0.916 1)" text-anchor="end">22</text><text transform="translate(748.7 821.7) scale(0.916 1)" text-anchor="end">1.00</text><text transform="translate(812.0 844.6) scale(0.916 1)" text-anchor="end">0.50</text><text transform="translate(875.2 867.5) scale(0.916 1)" text-anchor="end">0.00</text><text transform="translate(938.5 890.3) scale(0.916 1)" text-anchor="end">-0.50</text><text transform="translate(1001.7 913.2) scale(0.916 1)" text-anchor="end">-1.00</text><text transform="translate(1015.9 913.2) scale(0.916 1)">-1.00</text><text transform="translate(1079.1 890.3) scale(0.916 1)">-0.50</text><text transform="translate(1142.4 867.5) scale(0.916 1)">0.00</text><text transform="translate(1205.6 844.6) scale(0.916 1)">0.50</text><text transform="translate(1268.9 821.7) scale(0.916 1)">1.00</text></g>
<g font-family="'Liberation Sans',Arial,sans-serif" font-size="19.51" fill="#111"><text transform="translate(768.1 898.9) scale(0.916 1)">D: D</text><text transform="translate(1214.9 898.9) scale(0.916 1)">B: B</text></g>
<text transform="translate(685.4 697.7) scale(0.859 1)" font-family="'Liberation Serif','Times New Roman',serif" font-weight="bold" font-size="21.88" fill="#000">Y1</text>
<ellipse cx="751.2" cy="739.0" rx="5.2" ry="3.4" fill="#ffc6c8" stroke="#a04848" stroke-width="0.9"/><path d="M751.2 737.3v3.4" stroke="#b05050" stroke-width="0.9"/>
<ellipse cx="1266.8" cy="727.0" rx="5.2" ry="3.4" fill="#ffc6c8" stroke="#a04848" stroke-width="0.9"/><path d="M1266.8 725.3v3.4" stroke="#b05050" stroke-width="0.9"/>
<path d="M1008.6 752.4L1008.6 767.8" stroke="#222" stroke-width="0.9"/>
<ellipse cx="1008.6" cy="752.4" rx="5.0" ry="3.6" fill="#f80d0d" stroke="#8c1010" stroke-width="0.9"/>
<path d="M1008.6 553.5L1008.6 561.5" stroke="#222" stroke-width="0.9"/>
<ellipse cx="1008.6" cy="553.5" rx="5.0" ry="3.6" fill="#f80d0d" stroke="#8c1010" stroke-width="0.9"/>
</g>
<g>
<path d="M1458.5 814.2l250.3 97.2 250.3-97.2-250.3-76.4z" fill="#ffff1c" stroke="#111" stroke-width="1"/>
<path d="M1740.5 851.8l10.3-3.1 7.7-3 6.6-3.4 3.4-2.2 3.1-2.2 2.6-2.5 2.2-2.5 2.9-4.4 1.1-2.9 0.5-2 0.3-2.8-0.1-2.4-0.6-3-0.9-2.6-2.7-5-2-2.7-2.6-2.9-5.5-4.7-7-4.9-8.1-4.4-10.4-4.6-10.2-3.5-11.2-3.2-10.6-2.3-11.6-2-13-1.4-12.3-0.8-12.6-0.1-12.6 0.6-11.2 1.3-9.8 1.6-10.3 2.5-9 3-7.8 3.5-6.7 4-2.8 2.1-2.6 2.3-2.2 2.4-1.8 2.6-1.5 2.7-0.7 2-0.8 3-0.1 3.3 0.3 3.1 0.9 3 1.2 2.7 1.8 3.1 2.6 3.3 3.1 3.3 3.4 2.9 3.9 3 4.4 2.8 4.8 2.7 10.9 5.1 12.7 4.6 12.7 3.5 14.6 3 14.3 1.9 14.9 1.2 14.5 0.2 13.9-0.8 12.4-1.4 6.7-1.2 6.6-1.4" fill="none" stroke="#ff9a08" stroke-width="1.35"/>
<path d="M1546.3 787.4l-2 2.6-2.1 3.3-1.5 3.1-1 2.9-0.6 3.2-0.3 3.2 0.1 2.9 0.4 2.8 0.7 2.9 1.3 3.4 3.3 6 4.5 5.8 6.4 6.3 7.7 6 9 5.7 10.4 5.3 10.1 4.5 12.8 4.7 12.5 3.9 13.7 3.4 12.9 2.7 14.1 2.2 15.5 1.8 14.3 1 14.4 0.4 13.1-0.2 14.6-0.9 13-1.5 14-2.3 12.3-2.8 10.9-3.3 9.7-3.7 8.3-4.1 7.2-4.4 3.2-2.3 3.8-3.2 4.6-5.1 2.2-3 1.7-3.1 1.2-3.1 1.1-3.9 0.4-4.1-0.2-4-0.7-3.5-1.3-3.8-1.9-3.8-2.2-3.6-2.7-3.5-3.7-4.1-3.3-3.2-4.6-3.7-4.9-3.5-5.2-3.4-11.5-6.3-12.8-5.6-14.1-5.1-15.5-4.5-17-3.8-17-2.9-17.2-2-17.9-1.1-17.5-0.2" fill="none" stroke="#ffe42c" stroke-width="1.35"/>
<path d="M1843.6 859l4.1-4.1 3.4-4.4 2.6-4.3 1.9-4.1 1.3-4.5 0.7-4.4 0-4.4-0.6-4.5-1.2-4.3-2.1-5-2.6-4.8-3.2-4.5-3.6-4.2-4.8-4.9-4.4-3.8-5.6-4.4-6.1-4.1-6.5-4-6.9-3.7-8.4-4.2-7.6-3.3-9.4-3.7-17.1-5.8-18.7-5.1-20.5-4.4-20.8-3.3-21.1-2.2M1654.2 890.2l14.5 1.7 13.9 1.2 12.4 0.7 14.5 0.3 13.4-0.2 15.3-0.8 13.8-1.3 11-1.4M1508.3 799l-0.9 5 0 5.1 0.9 5.2 1.6 5.2 2.6 5.4 3.2 5 3.9 4.9 4.8 5" fill="none" stroke="#dcff2c" stroke-width="1.35"/>
<path d="M1885.4 842.8l0.6-4 0.1-3.8-0.2-4.1-0.8-4.3-1.2-4.1-1.6-4.1-2.3-4.5-2.7-4.2-2.6-3.6-3.6-4.3-4-4.1-4.2-4-4.7-3.9-5.6-4.2-11.5-7.4M1701.4 908.5l14.2 0.2M1480.8 807.4l0.3 4.6 0.7 3.9 1.2 4.3 1.7 4.2" fill="none" stroke="#9cff20" stroke-width="1.35"/>
<path d="M1910.9 832.9l-1-4.6-1.9-5.5-2.7-5.9-3-4.9-3.9-5.5-4.5-5.2-4.8-4.9-6.1-5.5" fill="none" stroke="#54f02a" stroke-width="1.35"/>
<path d="M1458.5 814.2l-16.4-278.7 266.7-49.4 266.7 49.4-16.4 278.7M1708.8 486.1l0 251.7" fill="none" stroke="#2a2a2a" stroke-width="1.1"/>

<path d="M1708.8 726.9l17.2-17.1 17.1-14.8 16.8-12.4 16.5-10.1 16.3-7.9 16-5.6 7.9-2 7.8-1.4 7.7-0.9 8.8-0.4 7.5 0.3 8.6 0.9 7.3 1.3 8.4 2.1 7.1 2.4 8.2 3.4 6.9 3.4 7.9 4.4 14.5 10 7.5 6.2 7.4 6.7 14.4 15 13.4 16.4-16.3-20.8-16.6-19.9-16.7-18.8-15.5-16.1-16.2-15.8-16.8-15.1-17.6-14.4-16.2-12.1-16.4-11-16.5-9.9-16.7-8.7-16.9-7.6-17-6.4-17.2-5.2-17.4-3.9-15.7-2.4-17.7-1.3-17.5 0-17.8 1.5-16.7 2.7-17.9 4.3-16.7 5.3-16.6 6.7-17.4 8.3-13.4 7.8-13.4 9.2-13.5 10.7-12.5 11.2-13.6 13.6-13.6 15.1-13.6 16.7-12.6 16.6 14.5-9 15-7.5 15.3-5.7 14.8-3.8 16.1-2.4 15.6-0.5 15.8 1.2 16.3 2.9 16.5 4.7 16.9 6.4 17.1 8.3 16.3 9.5 17.8 11.9 16.8 12.9 17 14.6zM1960 726.8l4 5.3-11.6-14.9z" fill="#00c9f3"/>
<path d="M1708.8 726.9l17.2-17.1 17.1-14.8 16.8-12.4 16.5-10.1 16.3-7.9 16-5.6 7.9-2 7.8-1.4 7.7-0.9 8.8-0.4 7.5 0.3 8.6 0.9 7.3 1.3 8.4 2.1 7.1 2.4 8.2 3.4 6.9 3.4 7.9 4.4 14.5 10 7.5 6.2 7.4 6.7 13.6 14 14 17.2-16.1-20.6-16.6-19.9-16.7-18.8-15.5-16.1-16.2-15.8-16.8-15.1-17.6-14.4-16.2-12.1-16.4-11-16.5-9.9-16.7-8.7-16.9-7.6-17-6.4-17.2-5.2-17.4-3.9-15.7-2.4-17.7-1.3-17.5 0-17.8 1.5-16.7 2.7-17.9 4.3-16.7 5.3-16.6 6.7-17.4 8.3-13.4 7.8-13.4 9.2-13.5 10.7-12.5 11.2-13.6 13.6-13.6 15.1-13.6 16.7-12.6 16.6 14.5-9 15-7.5 15.3-5.7 14.8-3.8 16.1-2.4 15.6-0.5 15.8 1.2 16.3 2.9 16.5 4.7 16.9 6.4 17.1 8.3 16.3 9.5 17.8 11.9 16.8 12.9 17 14.6zM1957.8 723.9l1.3 1.7-6.7-8.4z" fill="#00e2f1"/>
<path d="M1708.8 726.9l16-16 17.1-14.9 16.8-12.6 16.5-10.3 16.3-8 16.1-5.7 7.9-2.1 7.8-1.5 7.7-1 7.7-0.4 7.6 0.1 7.5 0.6 7.4 1.1 8.3 1.9 14.4 4.8 7.1 3.2 7.9 4.1 14.6 9.5 14.1 11.4 14.6 14.4 13.7 16-15.2-19.2-17.7-20.9-15.7-17.4-17-17.5-17.3-16.4-15.9-13.9-16-12.8-16.3-11.9-16.4-10.8-16.5-9.6-16.8-8.6-16.9-7.3-17.1-6.2-15.5-4.5-15.9-3.5-17.2-2.5-17.7-1.2-17.8 0.2-17.9 1.7-16.3 2.7-18.2 4.6-16.5 5.4-16.6 6.8-16.6 8.1-13.4 7.9-13.4 9.3-13.6 10.9-12.4 11.2-13.6 13.8-12.5 13.9-13.6 16.7-12.6 16.6 14.5-9 15-7.5 15.3-5.7 14.8-3.8 16.1-2.4 15.6-0.5 15.8 1.2 16.3 2.9 16.5 4.7 16.9 6.4 17.1 8.3 16.3 9.5 17.8 11.9 16.8 12.9 17 14.6z" fill="#00f0e5"/>
<path d="M1708.8 726.9l16-16 17.1-14.9 15.6-11.8 16.6-10.4 15.1-7.7 16.1-6.1 7.9-2.2 7.9-1.6 7.7-1.2 7.7-0.6 7.6 0 7.5 0.4 7.5 1 7.3 1.5 14.5 4.4 7.1 3 7.9 3.9 13.7 8.3 14.3 11 13.8 12.9 13.8 15.3-12.3-15.7-18.1-21.2-16.9-18.5-17.1-17.3-17.3-16.1-15.9-13.7-16.1-12.7-16.2-11.6-16.5-10.6-16.6-9.4-16.2-8.1-15.8-6.7-16.1-5.7-16.9-4.8-16.5-3.4-16.3-2.2-17.6-1.1-16.5 0.3-17.5 1.6-16.3 2.7-18.2 4.6-16.5 5.4-16.6 6.8-16.6 8.1-13.4 7.9-13.4 9.3-13.6 10.9-12.4 11.2-13.6 13.8-12.5 13.9-13.6 16.7-12.6 16.6 14.5-9 15-7.5 15.3-5.7 14.8-3.8 16.1-2.4 15.6-0.5 15.8 1.2 16.3 2.9 16.5 4.7 16.9 6.4 17.1 8.3 16.3 9.5 17.8 11.9 16.8 12.9 17 14.6z" fill="#01f0cc"/>
<path d="M1708.8 726.9l16-16 15.8-13.9 15.7-11.9 15.4-10 15.2-7.9 16.1-6.4 14.7-4 7.8-1.3 7.7-0.9 7.7-0.3 7.5 0.3 7.5 0.7 7.4 1.3 14.5 4 14.2 5.9 13.8 7.9 14.3 10.4 13.9 12.3 13 13.7-3.6-5.1-5.7-7.1-19.7-22.9-16.9-18.2-17.1-17.1-17.3-15.9-16-13.5-16.1-12.5-16.3-11.4-16.5-10.3-16.6-9.3-15.9-7.6-16.2-6.7-17.1-5.8-15.6-4.1-16.2-3.2-16.2-2-16.7-0.8-17.3 0.4-16.7 1.7-16.3 2.9-16.7 4.3-16.7 5.5-16.3 6.7-17.5 8.6-13.4 8-12.3 8.6-13.6 10.9-12.4 11.2-13.6 13.8-12.5 13.9-13.6 16.7-12.6 16.6 14.5-9 15-7.5 15.3-5.7 14.8-3.8 16.1-2.4 15.6-0.5 15.8 1.2 16.3 2.9 16.5 4.7 16.9 6.4 17.1 8.3 16.3 9.5 17.8 11.9 16.8 12.9 17 14.6z" fill="#02f0b3"/>
<path d="M1708.8 726.9l14.8-14.8 15.8-14.1 15.7-12.1 15.4-10.1 15.2-8.1 15-6.2 14.8-4.2 7.8-1.5 7.7-1 14.2-0.4 7.5 0.5 7.4 1.1 13.6 3.2 14.3 5.5 13.8 7.2 13.6 9.2 13.1 10.9 13.7 13.6-6.1-8.9-19.6-22.7-17.6-18.8-18-17.8-17.4-15.7-16-13.3-16.2-12.3-16.3-11.2-16.5-10.1-16.7-9-15.4-7.2-16.7-6.7-15.4-5-16.3-4.2-16.5-3-16.1-1.8-17.7-0.7-16 0.7-16.2 1.8-16.6 3.1-17 4.5-16.7 5.7-16.2 6.9-16.3 8.1-13.4 8.1-12.4 8.8-13.5 10.9-12.4 11.4-13.6 13.9-12.5 14.1-12.5 15.3-12.6 16.6 14.5-9 15-7.5 15.3-5.7 14.8-3.8 16.1-2.4 15.6-0.5 15.8 1.2 16.3 2.9 16.5 4.7 16.9 6.4 17.1 8.3 16.3 9.5 17.8 11.9 16.8 12.9 17 14.6z" fill="#03f099"/>
<path d="M1708.8 726.9l14.8-14.8 15.8-14.1 14.5-11.2 15.4-10.3 14.1-7.7 15-6.4 14.8-4.6 14.5-2.6 14.2-0.9 14 1 13.6 2.8 14.4 4.8 13 6.2 13.7 8.5 13.3 10.3 13.3 12.4-2.8-5-3.5-4.7-14.4-16.6-18.5-19.7-18.7-18.4-17.1-15.3-16.1-13.4-16.4-12.2-16.3-11.1-16.6-10-15.6-8.4-16.2-7.5-16-6.3-16.5-5.3-15.5-3.9-17.5-3.1-15.8-1.6-16.8-0.6-17 0.8-16.2 2-16.3 3.1-16.4 4.5-16.5 5.7-16.7 7.1-15.1 7.6-13.4 8.1-12.4 8.8-13.5 10.9-12.4 11.4-13.6 13.9-12.5 14.1-12.5 15.3-12.6 16.6 14.5-9 15-7.5 15.3-5.7 14.8-3.8 16.1-2.4 15.6-0.5 15.8 1.2 16.3 2.9 16.5 4.7 16.9 6.4 17.1 8.3 16.3 9.5 17.8 11.9 16.8 12.9 17 14.6z" fill="#04f080"/>
<path d="M1708.8 726.9l14.8-14.8 14.6-13.1 14.5-11.4 15.5-10.4 14.1-7.8 15-6.6 13.7-4.4 14.5-2.9 13.2-1.1 14 0.5 13.7 2.4 13.4 4 13.2 5.7 13.7 8 12.5 9 12.7 11.1-2.4-4.8-3-4.5-8.5-10.1-20-21.4-20.3-19.8-17.4-15.6-16-13-17.3-12.8-16.9-11.3-16.6-9.8-15.3-8-16.6-7.4-15.5-5.9-17-5.2-15.6-3.7-15.7-2.6-15.9-1.6-15.9-0.3-17.1 0.8-17 2.2-15.5 3.1-15.4 4.2-16.5 5.7-16.7 7.1-16.2 8.2-13.4 8.3-12.4 8.8-12.4 10.1-12.4 11.4-13.6 13.9-12.5 14.1-12.5 15.3-12.6 16.6 14.5-9 15-7.5 15.3-5.7 14.8-3.8 16.1-2.4 15.6-0.5 15.8 1.2 16.3 2.9 16.5 4.7 16.9 6.4 17.1 8.3 16.3 9.5 17.8 11.9 16.8 12.9 17 14.6z" fill="#05f067"/>
<path d="M1708.8 726.9l13.6-13.7 14.6-13.2 14.5-11.5 14.3-9.8 14.1-8.1 13.9-6.4 13.8-4.8 14.6-3.4 13.2-1.5 14.1 0.2 12.7 1.7 13.5 3.5 13.3 5.2 12.8 6.8 12.6 8.5 11.8 9.5-3.8-7.9-6-8.1-19.9-21.2-20.3-19.7-17.5-15.4-17.6-14.2-17.2-12.5-17.1-11.2-16.6-9.5-15.1-7.7-16.9-7.3-15.4-5.6-16.5-4.9-16.3-3.6-15.7-2.4-15.9-1.2-16-0.2-16.1 1-16.2 2.3-16.4 3.4-16.4 4.7-14.7 5.3-16.6 7.2-15.5 8.1-13.5 8.3-12.3 9-12.4 10.2-12.5 11.5-12.4 12.8-12.5 14.1-12.5 15.3-12.6 16.6 14.5-9 15-7.5 15.3-5.7 14.8-3.8 16.1-2.4 15.6-0.5 15.8 1.2 16.3 2.9 16.5 4.7 16.9 6.4 17.1 8.3 16.3 9.5 17.8 11.9 16.8 12.9 17 14.6z" fill="#06f04e"/>
<path d="M1708.8 726.9l13.6-13.7 14.6-13.2 13.3-10.6 14.3-9.9 13-7.7 13.9-6.7 13.8-5.1 13.5-3.4 13.3-1.9 13.1-0.3 12.8 1.2 12.6 2.7 12.3 4.2 13 6.1 11.8 7 12.4 9.2-1.4-4.3-2.1-4.4-2.7-4.2-3.3-4.3-17.2-18-18-17.3-18.3-16.1-17.4-13.9-16.5-11.9-18.1-11.7-16.6-9.4-15.1-7.5-15.8-6.8-16.5-6-17.2-4.9-15.6-3.3-15.8-2.3-15.9-1.1-16 0-16.1 1.1-15.8 2.3-15 3.2-16.4 4.7-14.7 5.3-16.6 7.2-15.5 8.1-13.5 8.3-12.3 9-12.4 10.2-12.5 11.5-12.4 12.8-12.5 14.1-12.5 15.3-12.6 16.6 14.5-9 15-7.5 15.3-5.7 14.8-3.8 16.1-2.4 15.6-0.5 15.8 1.2 16.3 2.9 16.5 4.7 16.9 6.4 17.1 8.3 16.3 9.5 17.8 11.9 16.8 12.9 17 14.6z" fill="#06f035"/>
<path d="M1708.8 726.9l13.6-13.7 13.4-12.2 13.3-10.7 13.1-9.3 13-7.9 12.9-6.5 12.6-5.1 12.5-3.7 12.3-2.3 12.1-1.1 11.9 0.3 12.7 1.7 12.5 3.2 13.3 5.1 12.9 6.7 12.6 8.3-0.5-2.6-1.3-4.2-2-4.1-2.8-4.4-3.1-4-15.1-15.4-17.3-16.3-17.5-15.1-17.4-13.7-16.6-11.7-18.1-11.4-16.6-9.3-15.1-7.3-15.3-6.4-15.4-5.3-15.5-4.4-15.6-3.3-15.8-2.3-15.9-1.1-16 0-16.1 1.1-15.8 2.3-15 3.2-16.4 4.7-14.7 5.3-15.9 6.9-15.1 7.7-12.3 7.5-12.4 8.8-12.4 10-12.4 11.2-12.5 12.6-11.3 12.5-12.5 15-12.2 15.8 0.4 2.3 8.5-5.2 9.2-5 9.5-4.3 8.6-3.3 13.6-4.1 13-2.6 15.3-1.5 14.6 0.1 16 1.8 15.2 3.2 16.7 5.1 15.8 6.4 16.1 8.1 16.3 9.6 16.6 11.4 16.8 13 17 14.7z" fill="#07f01c"/>
<path d="M1708.8 726.9l12.3-12.5 12.3-11.2 12.1-10.1 13.2-9.7 11.8-7.6 11.8-6.4 11.5-5.2 12.6-4.5 10.2-2.7 11.1-1.8 11-0.8 10.8 0.3 7.5 0.8 7.3 1.3 14.5 4.2 14.2 6 13.4 7.8-0.4-3.7-0.8-3.5-1.5-4-2.1-3.9-6-7.8-16.3-16-17.1-15.3-16.1-13.4-16.4-12.2-16.3-11.1-17.2-10.4-15-8-14.8-6.9-15-6-15.4-5.2-15.6-4.1-15.6-3.1-15.8-2-14.2-0.9-15.7 0.1-14.6 1.1-15.8 2.3-14.7 3.2-14.9 4.1-14.6 5.2-15.5 6.6-15.2 7.5-12.3 7.3-11.2 7.7-12.4 9.6-11.3 9.9-12.4 12.1-11.4 12.1-11.3 13.1-11.3 14.1 1.3 6.4 8.4-4.6 8.4-4.1 16.3-6.1 8.8-2.5 8-1.7 9-1.4 8.2-0.8 13.5-0.2 13.8 1 14 2.3 14.2 3.6 15.7 5.4 14.7 6.5 16.2 8.5 15.2 9.3 15.5 10.8 15.6 12.3 15.8 13.7z" fill="#0ff008"/>
<path d="M1708.8 726.9l11.1-11.3 12.2-11.4 11-9.2 12-9.1 10.7-7.2 11.8-6.9 10.5-5.2 11.5-4.6 12.5-3.9 13.4-2.6 12.1-1.1 13 0.3 11.6 1.7 12.5 3.2 12.2 4.6 11.6 5.8 0-5.8-1.4-5.8-3.6-7.2-5.7-7.1-15.7-14.8-16.6-14.4-15.8-12.6-15.8-11.4-15.5-10.2-16.5-9.6-15.1-7.8-15.2-6.7-15.3-5.9-13.8-4.3-13.8-3.5-14.5-2.8-15.2-1.9-14.2-0.9-15.7 0.1-14.6 1.1-14.4 2.1-14.5 3-14.6 4-14.7 5-14.8 6.1-14 6.7-11.5 6.5-11.2 7.3-11.2 8.3-11.3 9.3-11.3 10.4-11.4 11.5-11.3 12.5-11.2 13.4 0.7 5.4 2 5.1 14.2-6.5 14.5-4.9 14.9-3.4 15.2-1.8 15.6-0.2 14.9 1.4 16.2 3.1 15.5 4.5 14.6 5.6 14.9 7 15.1 8.4 14.1 9 15.5 11.1 14.4 11.6 14.6 12.8z" fill="#2cf107"/>
<path d="M1717.3 715.7l2.5 0 9.9-9.3 10.9-9.4 9.7-7.6 10.7-7.6 8.3-5.3 9.4-5.3 8.2-4 9.2-4 11.5-3.8 12.3-3 12.2-1.7 12-0.3 11.8 0.9 11.6 2.2 11.3 3.5 10.8 4.4 0.9-3.9 0.1-3.9-0.5-3.9-1.1-3.8-3.8-7-5.4-6.5-14.7-13.3-15.8-13.3-16-12.2-15-10.5-14.8-9.4-15-8.4-13.4-6.8-14.5-6.4-14.3-5.4-13.8-4.3-13.8-3.5-13.9-2.7-14.1-1.8-14.1-1-14.2-0.1-14.3 0.9-14.4 1.8-14.5 2.7-14.6 3.8-12.8 4.1-13.6 5.2-14.1 6.3-11.4 5.9-11.2 6.7-11.2 7.7-11.2 8.7-11.3 9.8-11.4 10.8-11.3 11.9-10.7 12.2 0.1 3.5 0.9 4 1.3 3.6 2.2 3.9 12.8-5 13.7-3.9 14-2.5 13.3-1.1 14.7 0.2 13.8 1.5 14.1 2.8 14.4 4.2 13.5 5 12.5 5.6 13.8 7.3 12.9 7.7 14.2 9.7 13.2 9.8 13.3 11 13.8 12.3z" fill="#49f306"/>
<path d="M1729.6 704.2l2.7-0.1 10.8-9.1 9.6-7.4 9.5-6.6 10.7-6.6 8.2-4.4 9.3-4.4 9.2-3.6 9.1-3 9-2.2 8.9-1.5 8.8-0.8 8.7-0.1 8.6 0.5 9.5 1.5 8.4 1.9 8.7 2.8 2.1-4.8 0.9-4.8-0.3-4.9-1.5-5.2-3.6-6.3-5.4-6.3-14.4-12.6-14.4-11.6-14.6-10.8-14.7-9.9-14.9-9.1-15-8.1-13.4-6.5-12.5-5.2-13-4.8-13.8-4.3-12.8-3.2-13.8-2.6-13.5-1.7-14.1-1-14.2-0.1-12.5 0.7-13.7 1.6-13.4 2.3-13.7 3.3-13.6 4.1-12.9 4.7-13.6 5.9-13 6.3-10 5.7-11.2 7.3-10.1 7.4-11.3 9.2-10.2 9.3-10.2 10-10.9 11.8 0 4.9 1.1 4.9 2.4 4.9 3.5 5.1 10.4-3.3 9.9-2.3 11-1.8 10.3-0.9 11.4-0.1 10.6 0.6 10.7 1.5 10.8 2.2 13.3 3.6 13.4 4.9 13.6 6 13.9 7.2 14 8.3 13 8.8 14.4 10.7 13.9 11.5 23.2 0.7z" fill="#67f405"/>
<path d="M1743.8 692.2l3.1-0.2 17.7-12.5 16.5-9.5 13.9-6.3 13.7-4.7 14.6-3.2 14.3-1.4 7.6 0 7.5 0.5 14.1 2.5 4.3-6.1 2.2-6.1 0.3-3.2-0.2-3.2-1.9-6.3-3.8-6-5.4-5.8-13.2-11-14.5-11.2-13.8-9.7-14-9.1-13.6-7.9-14.7-7.6-12.1-5.6-13.3-5.4-12.7-4.4-13-3.8-12.2-2.9-13.7-2.4-12.5-1.5-12.4-0.8-12.4-0.1-12.8 0.6-12.7 1.3-12.4 2.1-12.6 2.7-12.7 3.6-12.9 4.3-12.9 5.2-11.1 5-11.4 5.9-10.1 6-10 6.7-11.3 8.5-10.1 8.6-10.2 9.4-10.6 10.7-0.5 3.2 0.1 3.1 1.7 6.2 3.7 6.3 5.7 6.3 16.3-3.3 9.2-1.1 8.2-0.4 16.8 0.6 17.2 2.6 12 2.9 12.2 3.8 12.4 4.8 12.6 5.9 12.7 6.8 12.9 7.8 13 8.9 12.2 9.1 18.3 1.1 19.6 0.5 18.5-0.1z" fill="#84f504"/>
<path d="M1762 679.1l3.8-0.4 12.9-7.5 12.8-6.1 9.2-3.6 9.1-2.8 10.1-2.3 10-1.5 9.9-0.5 10.2 0.3 7.3-5.9 2.8-3.3 2.1-3.3 1.5-3.5 0.7-3.1 0.1-3.4-0.6-3.5-1.4-4-2.5-4.2-3.3-4.1-4.5-4.2-22.5-17.2-22.9-15.3-20-11.3-20.1-9.7-20.4-8-18.9-5.7-15-3.4-14.6-2.4-15.1-1.5-15.8-0.5-15.2 0.7-15.5 1.7-14.9 2.7-14.8 3.6-14.7 4.7-15.9 6.2-15.5 7.2-13.3 7.2-13.4 8.7-13.5 10.3-17 14.9-3.8 3.7-0.5 1.5-0.6 3.8 0.2 3.6 1 3.6 1.7 3.8 2.6 3.8 3 3.5 4 3.7 4.9 3.8 16-1.6 16.7 0.3 17.1 2.1 16.4 3.9 17.9 6 17 7.6 17.4 9.4 17.1 10.9 29.3 2.3 27.6 0.8 27.3-0.6z" fill="#a2f603"/>
<path d="M1794.3 662.2l16.4-4.1 15-5.2 11.2-5.4 5.2-3.2 3.9-3 3.2-3.2 2.5-3.2 1.8-3.4 1.1-3.5 0.3-3.5-0.4-3.5-1.3-3.7-2-3.6-3.3-4.2-4.3-4.1-16.6-12.3-20.2-13.4-20-11.3-18.4-8.9-18.7-7.6-17.8-5.7-18.4-4.4-14-2.4-14.1-1.5-14.1-0.6-14.3 0.2-14.3 1.2-14 2.1-13.1 2.8-13.7 3.7-14.3 4.8-14.2 5.8-14.8 7-12.6 7-15.7 10.5-14.6 11.5-6.5 5.6-1.7 4.8-0.3 4.2 0.7 4.2 2 4.5 3 4.3 4.1 4.2 5.2 4.3 6.1 4.1 7.4 4.1 10.6 0.2 11.7 1.1 11.9 2.1 10.9 2.7 12.2 3.8 11.3 4.4 12.5 5.7 11.6 6.1 21.1 2.6 21.9 1.9 22.7 1.1 21.3 0.1 20.8-0.6 20.8-1.6 19.6-2.4z" fill="#bff702"/>
<path d="M1786.1 651.4l16-3.8 13.2-4.4 11.6-5.2 8.7-5.7 3.3-3.1 2.6-3.2 1.9-3.3 1-2.9 0.4-3.5-0.4-3.3-1.1-3.3-1.9-3.4-3-3.8-4-3.9-12.8-9.3-19.8-12.5-20-11-16.8-7.8-17-6.7-17.2-5.4-17.3-4.1-14-2.4-14.1-1.5-13.3-0.6-13 0.1-12.8 0.9-14.4 2-12.7 2.4-12.7 3.2-14.7 4.7-14.7 5.7-14.8 6.7-13 6.9-14.5 9.3-14.4 10.8-2.3 3.7-1.3 3.8-0.2 3.6 0.6 3.7 1.5 3.6 2.3 3.6 3.2 3.6 4.1 3.7 10.4 7 13.4 6.5 16.2 6.1 18.1 5.3 20.9 4.8 22.7 3.9 22.7 2.8 22.9 1.8 24.6 0.9 23.6-0.2 21.8-1.3 22-2.4z" fill="#dcf901"/>
<path d="M1782.7 639.4l14.7-3.7 11.6-4.1 10.1-4.8 7.6-5.3 3-3.1 2-2.7 1.4-2.9 0.7-2.9 0.1-3.1-0.5-2.9-1.2-3-1.8-3-3-3.5-3.5-3.2-10.5-7.3-19.9-11.9-18.3-9.4-15.3-6.7-16.6-6.2-15.9-4.7-15.7-3.6-12.9-2.1-13.4-1.4-12.3-0.6-12.5 0.1-12.5 0.8-12.6 1.5-12.7 2.2-12.7 3-14.6 4.4-14.7 5.5-14.1 6.1-14 7.1-10.1 6-9.3 6.2-4.3 5.2-1.4 2.8-0.7 2.5-0.2 3.3 0.6 3.2 1.5 3.6 2.2 3.4 3.3 3.5 3.9 3.4 10.1 6.5 12.9 6 15.5 5.6 17.2 4.9 19.9 4.3 20.4 3.4 22.3 2.6 22.4 1.6 23.9 0.7 22.5-0.4 20.9-1.4 19.5-2.4z" fill="#fafa00"/>
<path d="M1774.9 628.2l12.7-3.2 11.6-4 9.3-4.4 7-4.8 2.7-2.6 2-2.6 1.2-2.4 0.8-2.9 0.1-3-0.5-2.6-1.1-2.7-1.8-2.9-5.2-5.4-7.3-5.2-17.9-10.2-18.4-9.1-15.3-6.3-14.4-5.1-14.8-4.3-15.6-3.4-12.2-1.9-12.4-1.3-12.3-0.6-11.4 0-11.8 0.7-12.6 1.4-11 1.9-12.3 2.7-14.5 4-14.3 5-13.9 5.8-15.3 7.4-7.7 4.4-5.1 4-3.6 4.4-1.9 4.8-0.1 3 0.6 3.2 1.4 3 2 3 3 3.2 3.8 3.2 9.5 5.9 12.1 5.6 13.7 4.9 16.1 4.5 18.5 4 18.4 3 20.9 2.4 20.4 1.5 21.4 0.6 20.1-0.3 19.2-1.2 19.6-2.2z" fill="#ffdd00"/>
<path d="M1764 617.2l11.9-2.8 11-3.4 8.8-3.9 6.8-4.3 4.6-4.7 1.6-2.6 0.8-2.4 0.2-2.5-0.4-2.6-2.3-4.9-4.6-5-7-5-14.2-7.6-14.8-6.9-14.5-5.9-14.2-4.8-13.8-3.8-13.9-3-11.2-1.8-11.6-1.3-10.6-0.6-12.3-0.1-10.8 0.4-12.2 1.2-11.2 1.7-10.9 2.1-14.6 3.8-12.8 4.1-13.6 5.2-13.7 6.2-6.1 3.5-4.4 3.6-3 3.9-1.4 4-0.1 2.6 0.6 2.8 1.1 2.6 2.1 2.9 6 5.6 8.3 5.1 11.2 5.2 12.7 4.5 14.9 4 15.9 3.4 18.2 3 17.5 2 19.8 1.4 18.8 0.6 18-0.2 17.4-1 16.5-1.8z" fill="#ffba00"/>
<path d="M1753 605.8l11.1-2.4 10.1-3 8.2-3.5 6.4-3.8 4.4-4.1 2.2-4.2 0.3-2.2-0.2-2.1-0.7-2.5-1.3-2.3-4.4-4.7-5.8-4.2-7.9-4.1-13.8-6.1-12.6-4.9-13-4.3-12.5-3.4-13.5-2.9-11.2-1.8-10.8-1.2-21.1-0.9-20.6 1.1-10.8 1.4-10.9 1.9-12.7 2.9-10.9 3.1-12.9 4.3-10.5 4.2-5.8 3.1-4.6 3.5-2.9 3.5-1.4 3.7-0.2 2.5 0.5 2.3 1.2 2.5 1.7 2.5 5.1 4.7 7.7 4.7 9.7 4.4 11.7 4.1 12.6 3.4 14.5 3.1 15.1 2.4 16.4 2 16.8 1.2 16.4 0.6 16.1-0.1 15.7-0.8 15.1-1.4z" fill="#ff9600"/>
<path d="M1745.8 593.1l9.2-2.2 7.7-2.4 6.3-2.7 5.5-3.4 3.5-3.5 1.6-3.6 0-3.7-1.8-3.7-3.3-3.6-4.6-3.3-5.9-3.3-7.7-3.3-11.7-4.2-12.1-3.8-12.1-3.1-12.1-2.5-19.3-2.6-19.5-1-19.6 0.8-19.8 2.6-21 4.6-11.1 3.3-6.4 2.4-5.3 2.7-4.3 3.1-2.8 3.2-1.3 3.3 0 2 0.5 2.2 2.5 4.1 4.8 4.2 6.6 3.9 8.2 3.7 9.9 3.3 11.5 3.1 13.3 2.7 13.9 2.2 14.2 1.5 14.5 1 14.7 0.4 14.8-0.2 13.6-0.8 12.8-1.4z" fill="#ff7300"/>
<path d="M1729.2 581.2l8.8-1.8 7.1-2 5.9-2.2 4.9-2.8 3.2-2.9 1.6-2.9 0.2-3.1-1.4-3.1-4.1-4.1-6.5-3.9-8.8-3.6-11-3.4-13.9-3.3-13.9-2.4-14.1-1.7-14.1-0.7-14.3 0.1-14.3 1.1-13.3 1.9-13.4 2.7-8.8 2.7-6.9 3.3-4.2 3.5-1.2 1.8-0.7 2 0.2 3.1 1.9 3.3 3.8 3.4 4.7 2.9 6.4 2.9 7.8 2.8 9 2.5 10.5 2.2 10.6 1.7 12.1 1.5 23.5 1.3 23.1-0.5z" fill="#ff4f00"/>
<path d="M1713.6 567.3l11-2.5 4.2-1.6 4-2.1 2.3-1.9 1.2-2 0.2-2-0.9-2.3-2.7-2.7-4.6-2.8-5.9-2.5-8-2.5-8.4-1.8-9.7-1.6-11.5-1.1-10.2-0.6-10.5 0-10.3 0.5-8.5 0.9-8.5 1.6-7.3 2-4.8 2.2-3.5 2.7-1.5 2.6 0.1 2 1.4 2.5 2.4 2.3 3.4 2.1 10.2 4 13.9 3.3 15.3 2.1 16.2 1 16.9-0.3z" fill="#ff2c00"/>
<path d="M1708.8 726.9c-99.2-98.6-187.8-109.4-259-59.8M1708.8 726.9c48.5-51.3 94.8-74.3 137-72.5c42.3 1.8 80.6 28.1 114.1 72.2M1960.9 728c1 1.4 2.1 2.7 3.1 4.1M1716.2 719.3c-99.2-99.2-188-110.5-259.5-61.4M1701.4 719.7c48-51.1 93.9-74.4 135.9-73.3c42 .9 80.2 26 113.7 68.8M1723.6 712.1c-99.2-99.8-188.3-111.7-260.1-63.1M1694 712.8c47.5-50.8 93-74.4 134.8-74.2c41.7 .2 79.8 24.1 113.4 65.5M1730.9 705.3c-99.1-100.3-188.4-112.9-260.6-64.7M1686.7 706.2c47-50.5 92.1-74.5 133.6-75c41-.6 78.6 21.6 111.9 60.9M1738.2 699c-99.1-100.9-188.6-114.2-261.1-66.5M1679.4 700c46.5-50.3 91.1-74.6 132.4-75.9c40.8-1.3 78.2 19.7 111.5 57.6M1745.5 693.1c-99.1-101.4-188.7-115.4-261.5-68.3M1672.2 694.1c45.9-50 90.1-74.7 131.1-76.7c40.5-2.1 77.7 17.7 111.1 54.3M1752.7 687.6c-99-102-188.8-116.7-261.9-70.1M1665 688.4c45.4-49.7 89.2-74.6 129.8-77.4c40.2-2.9 77.3 15.8 110.6 51M1759.9 682.6c-99-102.6-188.9-118-262.3-72.1M1657.8 683.1c44.9-49.4 88.2-74.6 128.6-78.2c39.9-3.6 76.8 14 110 47.8M1767 678c-98.8-103.2-189-119.4-262.6-74M1650.7 678.1c43.8-48.6 86.3-74.1 125.9-78.8c39.7-4.7 76.5 11.2 109.7 43.3M1774.1 673.8c-98.8-103.7-189-120.7-262.9-76M1643.6 673.4c86.8-97.1 167.5-101.3 233.7-39.4M1781.1 670c-98.6-104.3-189-122-263.2-78M1636.5 669c85.8-96.5 165.8-102.4 231.7-43.2M1788.1 666.6c-98.5-104.8-189-123.4-263.4-80M1629.5 664.9c84.2-95.3 163.1-103.4 228.5-47.9M1795 663.7c-98.3-105.5-188.9-124.8-263.6-82.2M1622.6 661.1c83-94.6 161.1-104.4 226.4-51.5M1801.9 661.2c-98.2-106.1-188.8-126.3-263.7-84.3M1615.7 657.6c81.4-93.4 158.3-105.2 223-56M1808.7 659c-98-106.6-188.7-127.6-263.8-86.4M1608.8 654.4c80.4-92.7 156.5-106 220.9-59.5M1815.5 657.3c-97.9-107.2-188.6-129-263.9-88.7M1602 651.5c78.7-91.4 153.6-106.7 217.4-63.7M1822.2 656c-96.7-106.7-186.6-130.1-261.7-92.1M1595.3 648.9c77.1-90.1 150.7-107.2 213.8-67.7M1828.8 655c-93.5-103.9-181-130-254.7-97.4M1588.6 646.6c76-89.4 148.7-107.9 211.5-70.9M1835.4 654.5c-90.4-101.2-175.3-129.7-247.7-102.4M1581.9 644.6c74.4-88.1 145.8-108.3 207.9-74.6M1841.9 654.3c-86.7-97.8-168.7-128.7-239.3-107.2M1575.3 642.8c72.8-86.7 142.9-108.5 204.2-78.1M1848.4 654.6c-83.1-94.5-162.1-127.6-230.9-111.5M1568.8 641.4c71.1-85.4 139.9-108.7 200.4-81.6M1854.8 655.2c-80-91.6-156.3-126.4-223.4-114.9M1562.3 640.2c69.5-84 136.9-108.7 196.6-84.7M1861.2 656.2c-76.5-88.1-149.7-124.5-214.7-117.9M1555.9 639.3c67.9-82.7 133.9-108.7 192.7-87.7M1867.5 657.5c-72.4-84-142-121.8-204.6-120.2M1549.5 638.6c66.3-81.2 130.9-108.5 188.8-90.5M1873.7 659.2c-68.8-80.5-135.3-119.2-195.5-121.7M1543.2 638.3c64.7-79.8 127.9-108.2 184.8-93.1M1879.8 661.3c-65.2-76.9-128.5-116.3-186.3-122.7M1536.9 638.2c63.1-78.3 124.9-107.9 180.9-95.5M1885.9 663.8c-61.2-72.8-120.8-112.5-175.8-122.7M1530.7 638.4c61.5-76.9 121.8-107.4 176.8-97.7M1892 666.5c-57.3-68.5-113.2-108.2-165.3-121.7M1524.5 638.8c59.9-75.4 118.8-106.8 172.8-99.7M1897.9 669.7c-53.3-64.3-105.4-103.6-154.5-119.9M1518.4 639.5c58.3-73.9 115.8-106.1 168.7-101.5M1903.8 673.1c-48.9-59.4-96.9-97.8-142.4-116.6M1512.4 640.5c56.2-71.8 111.8-104.8 163.2-103.1M1909.6 676.9c-44.5-54.5-88.3-91.6-130.1-112.2M1506.4 641.7c54.7-70.3 108.7-103.8 159.1-104.4M1915.4 681.1c-40.2-49.6-79.8-85-117.9-106.8M1500.5 643.2c52.6-68.1 104.7-102.2 153.6-105.5M1921.1 685.5c-35.8-44.5-71.2-77.8-105.6-100.2M1494.6 644.9c51-66.5 101.7-101.1 149.4-106.3M1926.7 690.3c-31.5-39.5-62.7-70.3-93.2-92.6M1488.8 646.8c49-64.3 97.7-99.1 143.8-106.7M1932.2 695.4c-26.7-33.8-53.3-61.4-79.4-82.7M1483.1 649c47.4-62.7 94.6-97.7 139.5-107M1937.7 700.8c-21.6-27.5-43.1-50.9-64.3-70.3M1477.4 651.5c45.4-60.5 90.7-95.6 133.9-106.9M1943.1 706.5c-16.9-21.8-33.8-41-50.5-57.7M1471.7 654.1c43.5-58.2 86.8-93.2 128.4-106.2M1948.4 712.5c-11.8-15.4-23.6-29.5-35.4-42.3M1466.2 657c41.4-55.9 82.8-90.7 122.7-105.3M1953.7 718.7c-6.4-8.3-12.7-16.2-19.1-23.8M1460.7 660.2c39.4-53.6 78.8-88.1 117-104.2M1958.9 725.3c-.9-1.2-1.9-2.4-2.8-3.6M1455.2 663.5c37.5-51.3 75-85.3 111.4-102.5M1964 732.1c-3.6-4.7-7.2-9.4-10.8-13.9M1449.8 667.1c35.5-49 71.1-82.4 105.8-100.6" fill="none" stroke="#000" stroke-width="0.92" stroke-opacity="0.82"/>
<path d="M1708.8 726.9l8.7-8.9 8.5-8.2 8.6-7.7 8.5-7.1 8.4-6.5 8.4-5.9 8.3-5.4 8.2-4.7 8.2-4.2 8.1-3.7 8-3.1 8-2.5 7.9-2 7.8-1.4 7.7-0.9 8.8-0.4 7.5 0.3 8.6 0.9 7.3 1.3 8.4 2.1 7.1 2.4 8.2 3.4 6.9 3.4 7.9 4.4 6.8 4.4 7.7 5.6 7.5 6.2 7.4 6.7 7.3 7.2 7.1 7.8 7.1 8.3 6.3 8.1-16.3-20.8-16.6-19.9-16.7-18.8-15.5-16.1-16.2-15.8-16.8-15.1-9.4-7.9-8.2-6.5-16.2-12.1-8.2-5.6-8.2-5.4-8.2-5.1-8.3-4.8-8.4-4.5-8.3-4.2-8.4-4-8.5-3.6-8.5-3.4-8.5-3-8.6-2.8-8.6-2.4-8.7-2.1-8.7-1.8-8.5-1.4-7.2-1-8.9-0.8-8.8-0.5-8.9-0.2-8.6 0.2-9.2 0.6-8.6 0.9-7.6 1.1-9.1 1.6-9 2-8.9 2.3-7.6 2.2-9.1 3.1-9.2 3.6-7.4 3.1-9 4.1-8.4 4.2-6.7 3.7-6.7 4.1-6.7 4.4-6.7 4.8-6.8 5.1-6.7 5.6-12.5 11.2-6.8 6.6-6.8 7-6.8 7.4-6.8 7.7-13.6 16.7-12.6 16.6 7.2-4.7 7.3-4.3 7.4-4 7.6-3.5 7.6-3.1 7.7-2.6 7.8-2.3 7-1.5 8-1.4 8.1-1 8.3-0.4 7.3-0.1 8.4 0.4 7.4 0.8 8.6 1.3 7.7 1.6 8.7 2.3 7.8 2.4 9 3.2 7.9 3.2 9.1 4.2 8 4.1 8.2 4.5 8.1 5 9.5 6.1 8.3 5.8 8.4 6.2 8.4 6.7 8.5 7.1 8.5 7.5 8.6 7.9zM1960 726.8l4 5.3-11.6-14.9z" fill="none" stroke="#000" stroke-width="1.0" stroke-opacity="0.88"/>
<g fill="#000"><circle cx="1442.1" cy="535.5" r="1.9"/><circle cx="1445.2" cy="588.6" r="1.9"/><circle cx="1448.3" cy="641.7" r="1.9"/><circle cx="1451.5" cy="694.7" r="1.9"/><circle cx="1454.6" cy="747.8" r="1.9"/><circle cx="1458.5" cy="814.2" r="1.9"/><circle cx="1521.1" cy="838.5" r="1.9"/><circle cx="1583.7" cy="862.8" r="1.9"/><circle cx="1646.2" cy="887.1" r="1.9"/><circle cx="1708.8" cy="911.4" r="1.9"/><circle cx="1771.4" cy="887.1" r="1.9"/><circle cx="1834.0" cy="862.8" r="1.9"/><circle cx="1896.6" cy="838.5" r="1.9"/><circle cx="1959.1" cy="814.2" r="1.9"/></g>
<g font-family="'Liberation Sans',Arial,sans-serif" font-size="13.49" fill="#1a1a22"><text transform="translate(1435.3 548.9) scale(0.853 1)" text-anchor="end">34</text><text transform="translate(1438.4 602.0) scale(0.853 1)" text-anchor="end">30.75</text><text transform="translate(1441.5 655.1) scale(0.853 1)" text-anchor="end">27.5</text><text transform="translate(1444.7 708.1) scale(0.853 1)" text-anchor="end">24.25</text><text transform="translate(1447.8 761.2) scale(0.853 1)" text-anchor="end">21</text><text transform="translate(1451.6 827.3) scale(0.853 1)" text-anchor="end">1.00</text><text transform="translate(1514.2 851.6) scale(0.853 1)" text-anchor="end">0.50</text><text transform="translate(1576.8 875.9) scale(0.853 1)" text-anchor="end">0.00</text><text transform="translate(1639.3 900.2) scale(0.853 1)" text-anchor="end">-0.50</text><text transform="translate(1701.9 924.5) scale(0.853 1)" text-anchor="end">-1.00</text><text transform="translate(1716.1 924.5) scale(0.853 1)">-1.00</text><text transform="translate(1778.7 900.2) scale(0.853 1)">-0.50</text><text transform="translate(1841.3 875.9) scale(0.853 1)">0.00</text><text transform="translate(1903.9 851.6) scale(0.853 1)">0.50</text><text transform="translate(1966.4 827.3) scale(0.853 1)">1.00</text></g>
<g font-family="'Liberation Sans',Arial,sans-serif" font-size="20.74" fill="#111"><text transform="translate(1470.8 909.2) scale(0.853 1)">D: D</text><text transform="translate(1912.5 909.2) scale(0.853 1)">C: C</text></g>
<text transform="translate(1381.3 690.9) scale(0.800 1)" font-family="'Liberation Serif','Times New Roman',serif" font-weight="bold" font-size="23.26" fill="#000">Y1</text>
<ellipse cx="1449.1" cy="655.0" rx="4.9" ry="3.8" fill="#f80d0d" stroke="#8c1010" stroke-width="0.9"/>
<ellipse cx="1963.4" cy="741.5" rx="5.1" ry="3.6" fill="#ffc6c8" stroke="#a04848" stroke-width="0.9"/><path d="M1963.4 739.7v3.6" stroke="#b05050" stroke-width="0.9"/>
<path d="M1708.8 725.4L1708.8 726.9" stroke="#222" stroke-width="0.9"/>
<ellipse cx="1708.8" cy="725.4" rx="4.9" ry="3.8" fill="#f80d0d" stroke="#8c1010" stroke-width="0.9"/>
<path d="M1708.8 541.5L1708.8 549.6" stroke="#222" stroke-width="0.9"/>
<ellipse cx="1708.8" cy="541.5" rx="4.9" ry="3.8" fill="#f80d0d" stroke="#8c1010" stroke-width="0.9"/>
</g>
<g>
<path d="M92.6 1285.8l251.5 78.7 251.5-78.7-251.5-62z" fill="#ffff1c" stroke="#111" stroke-width="1"/>
<path d="M399.8 1300.6l16.2-3.9 15.2-4.5 12.1-4.3 10.3-4.8 3.9-2.2 3.9-2.7 3.1-2.6 2-2.4 1.2-2.1 0.7-2.4-0.1-2.1-0.9-2.3-2.2-2.8-3.2-2.4-4.1-2.2-6.2-2.4-7.2-2.1-8.2-1.8-9.2-1.5-10.2-1.2-11.1-1-11.4-0.6-11.5-0.3-13.2 0-26.1 0.8-27.4 2.1-26.7 3.1-13.3 1.9-12.8 2.2-12.1 2.4-11.6 2.6-11 2.9-8.9 2.6-9.8 3.3-7.7 3-7.1 3.4-5.3 3-3.9 2.7-3.6 3.4-2.1 3.1-0.5 1.5-0.3 1.7 0.1 1.6 0.9 2.3 1.6 2.1 2.2 1.9 2.8 1.8 3.3 1.7 8.2 3 10.1 2.6 14.2 2.3 14.2 1.5 16.2 1 18.1 0.4 17.7-0.3 18.3-0.8 18.9-1.3 20.5-2.1 18.2-2.5 18.8-3.1 16-3.2" fill="none" stroke="#ff9a08" stroke-width="1.35"/>
<path d="M232.1 1329.4l24 0.2 22.2-0.5 24.3-1.2 25.7-2 22.8-2.4 24.9-3.2 23.4-3.8 23.4-4.5 19.7-4.5 19.5-5.3 17.4-5.6 13.9-5.6 6.3-2.8 5.7-3 4.6-2.8 4.2-2.9 3.5-3 2.6-2.8 2.1-3 1.1-2.7M386 1234.1l-29.7 0.8-31.2 2-32.1 3.1-31.3 4.1M153 1270.9l-12.5 5.7-5.5 3-4.8 3.1-3.8 2.8-3 2.8-2.5 3-1.7 2.8" fill="none" stroke="#ffe42c" stroke-width="1.35"/>
<path d="M270.6 1341.5l23.6-1.2 22.8-1.7 25-2.3 22.1-2.6 23.7-3.2 21.8-3.5 20.4-3.7 21-4.4 19.5-4.7 18-4.9 16.5-5.1 14.9-5.4 13.3-5.7 10.5-5.4 8.9-5.6 3.1-2.4 3.3-2.9M355.4 1226.6l-30.6 2" fill="none" stroke="#dcff2c" stroke-width="1.35"/>
<path d="M567.7 1294.5l10-5.4 8.7-5.6M298.9 1350.3l22.2-1.7 21.1-2.1 20.2-2.3 20.4-2.6 19.7-2.9 19.7-3.2 18.7-3.4 19-3.9" fill="none" stroke="#9cff20" stroke-width="1.35"/>
<path d="M322.6 1357.8l34.4-3.6 33.7-4.3" fill="none" stroke="#54f02a" stroke-width="1.35"/>
<path d="M92.6 1285.8l-16.5-225.8 268-40 268 40-16.5 225.8M344.1 1020l0 203.8" fill="none" stroke="#2a2a2a" stroke-width="1.1"/>

<path d="M344.1 1301.9l16.9-15.9 16.7-14.6 16.6-13.4 17.5-13.1 16.1-11 17-10.6 16.8-9.2 16.5-7.9 16.2-6.6 15.9-5.4 15.6-4.2 16.3-3.1 15-1.7 15.6-0.6 15.2 0.7 14.8 2-11.1-14.9-12.4-15.2-11.2-12.6-12.4-12.8-11.2-10.4-12.4-10.3-12.3-9-12.3-7.7-11.1-5.9-12.2-5.3-15.5-5.3-16.8-4.9-17.3-4.4-18-3.6-16.4-2.6-18-2-18.1-1.2-18.1-0.4-18.1 0.4-18.4 1.3-19 2.2-18.7 3-18.1 3.7-18 4.6-18.1 5.3-19.4 6.6-18.1 7-17.9 7.7-19.2 9.1-18 9.3-17.7 10-19.1 11.7 6.8-4 7.4-3.7 7.6-3.1 6.7-2.2 7.8-1.9 6.9-1.1 8-0.6 7.2 0 8.2 0.6 7.3 1.2 8.5 2 7.5 2.3 8.6 3.3 7.7 3.5 15.5 8.7 17 11.9 16 13.4 16.3 15.7 16.5 18.1 17.8 21.9 16.8 22.8 16.9 25zM87.6 1141l12.7-7.1-18 10.8z" fill="#04f07b"/>
<path d="M350.2 1292.8l3.8-0.3 17.8-16 17.7-14.8 17.6-13.5 17.3-12.1 14.9-9.4 15.7-9 14.4-7.4 15.3-6.9 15-5.8 15.8-5 14.5-3.5 15.2-2.7 14.9-1.4 14.6-0.4 14.2 0.8 13.9 1.9-11.1-14.9-12.4-15.2-11.2-12.6-12.4-12.8-11.2-10.4-12.4-10.3-12.3-9-12.3-7.7-11.1-5.9-12.2-5.3-15.5-5.3-16.8-4.9-17.3-4.4-18-3.6-16.4-2.6-18-2-18.1-1.2-18.1-0.4-18.1 0.4-18.4 1.3-19 2.2-18.7 3-18.1 3.7-18 4.6-18.1 5.3-19.4 6.6-18.1 7-17.9 7.7-19.2 9.1-18 9.3-17.7 10-19.1 11.7 13.3-7.3 7.5-3.2 6.7-2.2 7.8-2 6.9-1.2 7-0.6 7.1-0.2 7.2 0.4 7.3 0.9 7.4 1.5 7.4 2 15.1 5.6 15.4 7.9 9 5.6 7.9 5.4 16 12.6 17.3 16.1 16.4 17.4 17.8 21.2 16.8 22.1 16.8 24.5 17 26.7zM87.6 1141l12.7-7.1-18 10.8z" fill="#05f067"/>
<path d="M360.5 1283.4l3.9-0.4 16.9-14.6 16.5-13.2 16.3-12 17.2-11.6 14.7-8.9 14.6-8 14.3-7 14.1-6.1 14.9-5.4 14.7-4.4 14.5-3.3 14.1-2.3 13.9-1.3 14.5-0.3 13.3 0.8 13.9 1.9-11.1-14.9-12.4-15.2-11.2-12.6-12.4-12.8-11.2-10.4-12.4-10.3-12.3-9-12.3-7.7-11.1-5.9-12.2-5.3-15.5-5.3-16.8-4.9-17.3-4.4-18-3.6-16.4-2.6-18-2-18.1-1.2-18.1-0.4-18.1 0.4-18.4 1.3-19 2.2-18.7 3-18.1 3.7-18 4.6-18.1 5.3-19.4 6.6-18.1 7-17.9 7.7-19.2 9.1-18 9.3-17.7 10-19.1 11.7 13.3-7.3 13.3-5.1 6.7-1.9 6.9-1.3 13.1-1.1 7.1 0.2 7.3 0.7 13.6 2.7 14 4.6 14.2 6.5 8.9 5 7.8 4.9 17 12.6 17.3 15.1 16.4 16.6 17.7 20.3 16.7 21.4 16.8 23.6 18.1 27.7zM87.6 1141l12.7-7.1-18 10.8z" fill="#05f053"/>
<path d="M371.4 1273.8l4-0.5 16.5-13.5 16.4-12.4 16.1-11.3 16-10.1 13.5-7.7 13.3-7 13.1-6.1 14.1-5.6 13.8-4.8 14.6-4.1 13.3-2.8 14.1-2.1 12.9-1 13.5-0.1 13.3 0.8 12.9 1.8-11.1-14.9-12.4-15.2-11.2-12.6-12.4-12.8-11.2-10.4-12.4-10.3-12.3-9-12.3-7.7-11.1-5.9-12.2-5.3-15.5-5.3-16.8-4.9-17.3-4.4-18-3.6-16.4-2.6-18-2-18.1-1.2-18.1-0.4-18.1 0.4-18.4 1.3-19 2.2-18.7 3-18.1 3.7-18 4.6-18.1 5.3-19.4 6.6-18.1 7-17.9 7.7-19.2 9.1-18 9.3-17.7 10-19.1 11.7 12.3-6.9 12.3-4.9 12.7-3.3 12.9-1.5 13.3 0.3 13.6 2.2 13.9 4 13 5.3 8.8 4.6 7.8 4.5 16.9 11.7 17.2 14.3 16.3 15.7 17.7 19.5 16.6 20.5 18 24.5 17.8 26.7zM87.6 1141l12.7-7.1-18 10.8z" fill="#06f03f"/>
<path d="M383 1264l4.2-0.4 15.2-11.9 15.1-10.9 14.9-9.9 15.9-9.5 12.3-6.7 13.2-6.5 13-5.7 12.9-4.9 12.7-4.1 13.5-3.5 13.3-2.6 13-1.8 12.8-0.9 12.6 0 12.3 0.8 12.9 1.8-11.1-14.9-12.4-15.2-11.2-12.6-12.4-12.8-11.2-10.4-12.4-10.3-12.3-9-12.3-7.7-11.1-5.9-12.2-5.3-15.5-5.3-16.8-4.9-17.3-4.4-18-3.6-16.4-2.6-18-2-18.1-1.2-18.1-0.4-18.1 0.4-18.4 1.3-19 2.2-18.7 3-18.1 3.7-18 4.6-18.1 5.3-19.4 6.6-18.1 7-17.9 7.7-19.2 9.1-18 9.3-17.7 10-19.1 11.7 11.4-6.4 12.3-5.1 12.6-3.4 11.9-1.6 12.2 0 12.5 1.5 12.7 3.1 12.9 4.7 8.8 4.1 7.7 4.1 9 5.4 7.9 5.4 17.1 13.4 17.3 16.1 17.6 18.7 16.6 19.9 18 23.8 17.4 25.4 30.8-2.7zM87.6 1141l12.7-7.1-18 10.8z" fill="#07f02b"/>
<path d="M395.5 1254.1l4.5-0.5 14.1-10.4 14.9-10.1 14.8-9.1 14.5-8.1 12.2-6.2 12-5.4 11.9-4.7 11.7-4.1 12.5-3.7 12.4-2.9 12.2-2.2 12-1.4 11.8-0.6 12.5 0.1 11.3 0.8 12 1.7-11.1-14.9-12.4-15.2-11.2-12.6-12.4-12.8-11.2-10.4-12.4-10.3-12.3-9-12.3-7.7-11.1-5.9-12.2-5.3-15.5-5.3-16.8-4.9-17.3-4.4-18-3.6-16.4-2.6-18-2-18.1-1.2-18.1-0.4-18.1 0.4-18.4 1.3-19 2.2-18.7 3-18.1 3.7-18 4.6-18.1 5.3-19.4 6.6-18.1 7-17.9 7.7-19.2 9.1-18 9.3-17.7 10-19.1 11.7 10.5-5.9 11.3-4.9 11.5-3.5 11.9-1.9 12.1-0.4 11.4 0.9 12.6 2.6 11.8 3.7 8.7 3.6 7.7 3.8 8.9 5 7.8 4.9 17 12.6 17.3 15.1 17.5 17.9 17.8 20.5 17.9 23.1 16.8 23.9 39.8-3.5zM87.6 1141l12.7-7.1-18 10.8z" fill="#07f017"/>
<path d="M409.2 1243.9l4.8-0.6 13.9-9.4 13.6-8.6 13.5-7.6 13.3-6.9 21.8-9.6 10.7-3.9 11.6-3.8 11.4-3 11.3-2.4 11.1-1.8 11.9-1.2 10.8-0.5 11.5 0.2 11.3 0.9 11.1 1.6-11.1-14.9-12.4-15.2-11.2-12.6-12.4-12.8-11.2-10.4-12.4-10.3-12.3-9-12.3-7.7-11.1-5.9-12.2-5.3-15.5-5.3-16.8-4.9-17.3-4.4-18-3.6-16.4-2.6-18-2-18.1-1.2-18.1-0.4-18.1 0.4-18.4 1.3-19 2.2-18.7 3-18.1 3.7-18 4.6-18.1 5.3-19.4 6.6-18.1 7-17.9 7.7-19.2 9.1-18 9.3-17.7 10-19.1 11.7 12.3-6.9 13.3-5.2 6.8-1.9 6.8-1.4 13.1-1.2 13.3 0.5 13.6 2.4 13.9 4.3 14.2 6.3 14.4 8.1 14.7 10.1 14.9 12.1 13.9 12.9 15.2 16 14.2 16.4 15.5 19.8 14.8 20.6 48.9-4.2zM87.6 1141l12.7-7.1-18 10.8z" fill="#0df008"/>
<path d="M424.5 1233.4l5.3-0.8 12.8-7.9 12.4-7 12.2-6.4 12-5.6 20.5-8.1 20-6.1 10.3-2.4 11.2-2.1 10-1.3 10.9-0.8 9.7-0.3 10.5 0.3 10.4 0.9 10.1 1.5-11.1-14.9-12.4-15.2-11.2-12.6-12.4-12.8-11.2-10.4-12.4-10.3-12.3-9-12.3-7.7-11.1-5.9-12.2-5.3-15.5-5.3-16.8-4.9-17.3-4.4-18-3.6-16.4-2.6-18-2-18.1-1.2-18.1-0.4-18.1 0.4-18.4 1.3-19 2.2-18.7 3-18.1 3.7-18 4.6-18.1 5.3-19.4 6.6-18.1 7-17.9 7.7-19.2 9.1-18 9.3-17.7 10-19.1 11.7 12.3-6.9 13.3-5.2 12.7-3.1 12.9-1.4 13.4 0.4 13.6 2.3 13.8 4.1 13.1 5.6 14.4 7.8 13.5 9 14.8 11.6 13.9 12.5 14 14.2 14.1 15.9 14.3 17.6 15.1 20.3 28.8-2.2 30.2-2.8 29.5-3.3zM87.6 1141l12.7-7.1-18 10.8z" fill="#23f107"/>
<path d="M442.4 1222.2l6-0.9 19.9-10.5 19.6-8.7 15-5.6 14.7-4.4 17.5-4 18.1-2.6 17.6-0.9 17.2 0.7 9.7-5-11.6-15-11.3-13.3-11.2-12.2-12.4-12.3-11.2-10-12.4-9.8-11.2-7.8-12.2-7.3-11.2-5.6-11-4.6-18.2-6-17.8-5-16.6-3.9-17.7-3.3-17-2.5-17.5-1.7-18-1-18.2-0.2-18.1 0.7-18.1 1.4-18.1 2.3-18.1 3.1-18.1 3.9-18.1 4.7-18 5.4-18 6.3-18 7-18 7.8-17.7 8.4-17.7 9.2-17.7 10-19.1 11.7 12.3-6.9 12.3-4.9 12.7-3.3 11.9-1.4 13.3 0.1 12.5 1.8 13.8 3.7 13 5.1 14.3 7.4 13.5 8.6 13.6 10.3 13.8 11.9 14 13.6 14.1 15.4 14.2 17 13.9 18.1 35.6-2.6 38-3.6 35.3-4.2zM87.6 1141l12.7-7.1-18 10.8z" fill="#39f206"/>
<path d="M465.1 1210l7.9-1.4 12.8-5.7 11.8-4.5 11.6-3.9 12.6-3.5 11.3-2.5 11.1-1.9 11-1.3 11.7-0.6 13.8-5.7 11.4-6-9.4-11.8-10.1-11.7-10.1-10.9-10.1-10-9-8.2-10.2-8.4-10-7.5-10.1-6.7-8.9-5.2-9-4.6-8.8-3.9-9.6-3.5-14.6-4.7-14.6-4.1-14.7-3.5-14.7-3-20.6-3.2-20.4-2.1-19.7-1.1-21.4 0-20.3 1.1-20.9 2.1-20.5 3.1-20.7 4.2-19.7 5-21.3 6.5-21.2 7.5-20.7 8.4-20.8 9.4-20.2 10.3-20.9 11.6-20.7 12.6 11.4-6.4 12.3-5.1 12.6-3.4 11.9-1.6 12.2 0 12.5 1.5 12.7 3.1 12.9 4.7 13.2 6.4 13.4 8 13.6 9.7 13.7 11.3 13.9 13.1 12.9 13.5 14.2 16.3 13.6 17.1 45.8-3.2 43.4-4.3 43.1-5.5zM87.6 1141l12.7-7.1-18 10.8z" fill="#4ff306"/>
<path d="M508.3 1192.7l25.5-6.5 21.5-6.6 18-7.1 6.9-3.3 6.1-3.5-10.3-12.4-10.2-11.2-10.1-10.3-11.2-10.4-10.1-8.5-10.1-7.6-10.1-6.8-11.2-6.5-10-5-9.9-4.2-14.4-4.9-14-4.2-15.3-3.9-14.6-3.2-14.8-2.7-14.7-2.1-18.4-1.9-19.4-1-19.7 0-18.9 0.8-19 1.8-19.1 2.6-19.4 3.6-19.2 4.5-18 5.1-19.7 6.3-19.6 7.3-19.5 8.2-19.4 9.1-19.4 10-19.3 10.8-19.1 11.7 11.4-6.4 11.3-4.8 11.6-3.3 11.9-1.8 12.2-0.3 12.4 1.2 12.7 2.9 11.8 4 13.1 5.9 12.2 6.9 13.5 9.1 12.6 9.9 13.8 12.3 12.8 12.9 14.2 15.6 13 15.8 29.1-1.7 30.8-2.5 28.8-2.8 28.4-3.3 29.5-4 25.8-4.2 25.1-4.7zM87.6 1141l12.7-7.1-18 10.8z" fill="#65f405"/>
<path d="M491.9 1187.6l28.9-6.8 24.9-7.2 10.5-3.7 9.4-3.8 8.2-4 6.5-3.8-10-11.3-10.1-10.7-10.1-9.8-10.1-9-10.1-8.1-10.1-7.3-10.1-6.4-10-5.5-8.9-4.2-10-4-15.4-5.1-16.2-4.7-14.1-3.4-14.3-3-14.4-2.5-14.4-1.9-18.1-1.7-19.7-0.9-18.1 0.1-19.8 1-19.5 1.9-18.4 2.7-18.1 3.5-19.7 4.7-18.8 5.3-18.9 6.2-19.6 7.4-19.4 8.2-19.6 9.2-18.9 9.8-18.1 10.2-19.1 11.7 10.5-5.9 11.3-4.9 11.5-3.5 11.9-1.9 12.1-0.4 11.4 0.9 12.6 2.6 11.8 3.7 13.1 5.7 12.2 6.7 12.3 8 12.5 9.5 12.7 10.8 12.8 12.3 12.9 13.8 12.2 14.1 55.2-3.4 29.5-2.7 25.9-2.8 27.2-3.4 25.4-3.8 23.5-4zM87.6 1141l12.7-7.1-18 10.8z" fill="#7bf504"/>
<path d="M500.1 1177l24-6.1 21-6.5 16.6-6.7 7.1-3.6 5.1-3.2-9.2-9.9-10.1-10.3-10.1-9.3-10.1-8.5-9-6.8-10.1-6.9-10-6-10.1-5.2-11-4.8-12.3-4.2-14.6-4.5-16.2-4.3-14.7-3.3-14.7-2.7-14.8-2.2-14.7-1.6-18.1-1.2-18.1-0.4-18.1 0.4-18.4 1.3-19 2.2-18.7 3-18.1 3.7-18 4.6-18.1 5.3-19.4 6.6-18.1 7-17.9 7.7-19.2 9.1-18 9.3-17.7 10-19.1 11.7 10.5-5.9 10.3-4.6 11.6-3.5 10.8-2 11.1-0.7 11.3 0.6 11.5 2 11.7 3.2 11.9 4.6 12.1 6.1 12.3 7.4 11.3 7.9 12.6 10.1 12.7 11.5 12.8 13 12.1 13.4 29.5-1.5 30.3-2 30.2-2.6 30.3-3.3 30.7-4 26-4 25.1-4.5zM87.6 1141l12.7-7.1-18 10.8z" fill="#91f604"/>
<path d="M487.8 1170.9l26.9-6.5 23-6.9 17.2-6.9 6.4-3.4 5.8-3.7-9.1-9.4-10.1-9.7-9-7.8-10.1-8-9-6.5-10.1-6.4-8.9-4.9-10-4.8-10-4-15.4-5.1-14.6-4.2-15.7-3.9-14.3-3-14.4-2.5-14.7-1.9-14.8-1.5-18-0.9-17.9-0.2-18.1 0.7-18.1 1.4-18.1 2.3-18.1 3.1-18.1 3.9-18.1 4.7-18 5.4-18 6.3-18 7-18 7.8-17.7 8.4-17.7 9.2-17.7 10-19.1 11.7 9.5-5.5 10.4-4.6 10.5-3.4 10.8-2.2 11.1-0.9 11.2 0.3 11.5 1.7 10.6 2.7 11.9 4.2 10.9 5.1 12.2 6.9 11.3 7.5 11.3 8.7 11.5 9.8 11.6 11 12.7 13.2 29.9-1.2 29.3-1.8 29.2-2.4 29.1-2.9 28.1-3.4 25.4-3.6 25.8-4.4zM87.6 1141l12.7-7.1-18 10.8z" fill="#a8f603"/>
<path d="M481 1163.4l26.9-6.3 22.9-6.9 9.7-3.6 7.9-3.5 6.6-3.7 4.8-3.5-9.7-9.4-9-8-9-7.4-8.9-6.6-9-6-8.9-5.3-8.9-4.7-10-4.4-12.9-4.6-16-5-14.8-3.9-14.7-3.4-14.7-2.8-14.7-2.2-14.8-1.7-14.8-1.1-16.4-0.6-18.1 0.2-16.5 0.8-18.1 1.7-18.2 2.5-17 3.1-17.5 3.9-18.1 4.8-17.4 5.4-17 6-17.9 7-17.9 7.9-17.8 8.5-17.7 9.3-17.7 10-17.5 10.8 9.5-5.5 9.4-4.2 10.6-3.6 9.7-2.1 11-1.2 10.2 0.1 10.4 1.1 10.5 2.3 10.7 3.3 10.9 4.5 11 5.7 11.2 6.8 11.3 7.9 11.4 9.1 11.6 10.3 11.5 11.4 31.3-1.1 28.5-1.6 28.3-2.1 28.9-2.7 27.8-3.1 28.4-4 24.7-4zM87.6 1141l12.7-7.1-17.9 10.6z" fill="#bef702"/>
<path d="M480.1 1154.6l25.4-6.2 21.2-6.6 8.5-3.4 7.4-3.5 5.2-3.1 4.3-3.5-17.7-15.4-16.8-12.3-9-5.5-8.9-4.9-8.9-4.2-8.8-3.6-14.9-5-14.6-4.3-14.7-3.7-14.7-3.2-14.7-2.6-16.4-2.2-15.1-1.5-15-0.8-17.6-0.3-16.4 0.4-16.5 1.1-17.8 2-16.8 2.5-16.5 3.2-16.4 3.8-18.1 5-17.4 5.5-16.9 6.1-17.2 6.9-17 7.5-16.2 7.8-17.7 9.3-17.7 10-16.4 10.1 9.4-5.2 9.4-4.2 9.6-3.2 8.8-1.9 9.9-1.3 10.2-0.1 10.3 0.9 9.5 1.8 10.6 3 9.7 3.7 11 5.2 10 5.6 11.2 7.4 10.2 7.6 10.4 8.6 10.7 9.9 31.6-0.8 30.1-1.4 30.8-2.2 28.5-2.5 29.4-3.3 28.3-3.8 27-4.5z" fill="#d4f801"/>
<path d="M460.4 1149.5l31.1-6.7 13-3.6 11.6-3.7 10.1-3.8 7.9-3.8 5.7-3.7 3.8-3.6-10.4-8.6-10-7.5-10.1-6.7-10.1-5.8-8.9-4.5-9.9-4.3-25.2-8.2-15.5-4.2-15.5-3.6-15.8-3-15.3-2.2-16.4-1.8-15.6-1-15.6-0.4-16.5 0.2-14.8 0.8-14.8 1.3-14.9 1.9-14.8 2.4-14.8 2.9-14.8 3.5-14.8 4-14.7 4.5-14.8 5.1-15 5.7-15.9 6.6-14.6 6.6-16.2 8-16 8.4-19.2 11-5.7 3.9 8.2-3.9 8.6-3.1 8.7-2.4 7.9-1.4 9-0.7 9.2 0.1 9.3 1 8.5 1.6 9.5 2.7 8.7 3.1 9.8 4.4 8.8 4.7 10.1 6.2 9 6.2 9.1 7.1 9.1 7.6 28.2-0.3 28.5-1.1 28.8-1.6 29.3-2.2 29.6-3 26.5-3.2 25.7-3.8z" fill="#eaf901"/>
<path d="M449 1142.6l32.8-6.9 14.1-3.7 12.3-3.9 9.9-3.8 7.6-3.8 5.3-3.8 3.2-3.9-9.9-7.5-10.1-6.8-8.9-5.3-10.1-5.2-8.8-3.9-9.7-3.5-14.5-4.7-14.6-4.1-14.7-3.5-14.7-3-14.7-2.4-14.7-1.9-14.8-1.3-14.8-0.7-14.9-0.2-14.8 0.3-14.8 0.9-14.7 1.5-28.2 4.2-27.9 6.1-28.8 8.3-15.5 5.3-15 5.7-15.9 6.6-14.6 6.6-18.1 8.9-19 10.3-6.8 4.1-4.3 3.8 6.9-2.5 7.8-2.2 7.8-1.6 7-0.8 8.1-0.3 7.2 0.3 7.2 0.9 7.4 1.4 8.5 2.2 7.5 2.5 15.3 6.8 8.9 4.9 7.8 4.9 16.2 11.7 27.7 0 26.7-0.6 30.1-1.4 27.9-1.8 28.2-2.5 27.3-3 26.5-3.6z" fill="#fff900"/>
<path d="M441.9 1134.7l18.4-3.5 15.4-3.5 13.7-3.7 12-3.9 9.3-3.9 6.8-3.9 4.4-3.8 1.1-2 0.5-1.8-9.3-6.2-8.9-5.3-8.9-4.7-10-4.4-24.2-8.2-27.1-7.1-14.3-3-14-2.4-26.9-3.2-27.3-1.4-28 0.6-28 2.5-28 4.4-28 6.4-27.9 8.2-16.3 5.7-16.3 6.3-16.3 6.9-16.2 7.6-24 12.6-4.8 4-1.3 1.8-0.6 1.8 11.5-2.5 11-1 12.3 0.3 11.5 1.7 13.8 3.7 13 5.1 13.2 6.8 13.3 8.3 10.7 0.3 25 0.2 28.2-0.4 29.2-1.2 26.8-1.7 27.7-2.3 27.6-2.9 25.1-3.3z" fill="#ffe000"/>
<path d="M440.3 1125.7l16.8-3.3 14.8-3.6 13-3.7 10.3-3.7 8.1-3.9 5.3-3.7 1.4-1.7 1.1-1.9 0.2-1.8-0.3-1.6-4.6-3-10-5.3-8.9-3.9-8.1-3.1-27.5-8.5-14.1-3.6-14.7-3.2-25.5-4.1-25.3-2.5-25.6-0.8-25.4 0.8-26.4 2.5-26.3 4.2-26.4 5.9-26.2 7.6-16.4 5.6-16.3 6.2-16.3 6.8-16.2 7.5-11.1 5.4-4.5 2.8-3.6 3.5-1.2 3.2 0.5 2.1 1.1 1.7 9.5-0.6 9.2 0.3 10.4 1.4 9.5 2.2 14 4.7 14.8 7 19.3 1 20.7 0.5 23.2 0.1 26.3-0.6 26.9-1.1 27.5-1.8 25.5-2.3 25.3-2.8 24.4-3.3z" fill="#ffc600"/>
<path d="M430 1118.1l15.9-3.1 15-3.4 12.2-3.4 9.7-3.4 7.5-3.5 5.1-3.5 2.4-3.3 0.3-1.7-0.3-1.6-1.5-2-2.4-1.9-10.8-4.5-12.8-4.3-26.8-7.7-26.9-5.8-22.9-3.4-24.7-2.2-23-0.6-24.7 0.8-24.7 2.3-24.8 3.8-24.6 5.3-24.7 6.8-16.3 5.3-14.8 5.3-16.2 6.5-16.2 7.1-6.2 3.1-4.3 2.7-2.6 2.8-0.9 2.7 0.4 1.8 1.2 1.7 2 1.7 3.4 1.9 8.4 3 11.3 2.6 15.4 2.3 16.8 1.6 19.6 1.2 20.2 0.6 23 0.1 23.3-0.4 23.9-1 26.7-1.7 24.4-2.1 23.8-2.5 20.4-2.7z" fill="#ffad00"/>
<path d="M414 1111.2l15.6-2.8 14.7-3 12-3.1 10.4-3.2 8.5-3.5 5.3-3.3 2.7-3.1 0.4-1.5-0.1-1.5-1.7-2.4-3.4-2.2-4.5-2-8.5-2.7-27.5-7.5-26.2-5.2-21.3-3-23-1.9-21.4-0.5-23.1 0.7-23 2-23.1 3.3-23.1 4.6-23 5.9-14.7 4.5-14.7 5-29.2 11.4-4.8 2.4-3.6 2.4-2 2.3-0.8 2.2 0.3 1.5 1.1 1.7 4.1 2.9 7.4 2.8 9.9 2.3 12.3 2 14.6 1.5 17 1.2 19.5 0.7 40-0.1 45.4-2 41.6-3.6 21.2-2.5z" fill="#ff9400"/>
<path d="M407.4 1102.4l26.1-5 11-2.8 8.6-2.8 6.5-2.6 5-3 2.5-2.8 0.4-1.4-0.1-1.2-1.2-1.8-2.1-1.6-3.5-1.7-4.5-1.5-24.8-6.3-26.2-4.8-19.6-2.4-21.4-1.5-20.5-0.4-20.7 0.7-21.4 1.8-20.7 2.8-20.5 3.9-21.9 5.2-24 7.1-24.7 8.8-5 2.3-3.3 2.1-2.2 2.3-0.7 2 0.3 1.5 1 1.4 3.8 2.5 6.6 2.4 8.9 2.1 11.1 1.7 13.2 1.4 15.2 1 17.6 0.6 37.7-0.1 39.8-1.9 37.9-3.3z" fill="#ff7a00"/>
<path d="M403 1092.9l21.2-4.4 14.5-4.4 4.9-2.2 3.5-2.3 1.8-2.3-0.1-2-1.3-1.8-2.4-1.5-8-2.8-20.5-4.2-21.3-3.2-18.1-1.8-18-1-18.2-0.2-18.1 0.7-18.1 1.4-19.8 2.6-18.1 3.1-19.7 4.4-19.7 5.3-18.5 5.9-4.6 2-3.2 1.9-2.1 2.1-0.7 1.7 0.3 1.4 0.8 1.1 3.8 2.4 6.1 2 8.1 1.8 10.1 1.5 11.9 1.1 29.8 1.3 33.9-0.3 35.3-1.9 34.9-3.2z" fill="#ff6100"/>
<path d="M377.7 1086.1l20.8-3.5 16.3-4.1 5.6-2.1 4.1-2.1 2-2 0.3-2-1-1.4-2.1-1.3-6.9-2.4-13.3-2.3-16.4-2.1-16.2-1.3-15-0.6-16.5-0.1-16.5 0.7-16.5 1.3-16.4 2-16.5 2.6-18.1 3.6-17 4.2-8 2.6-6.3 3.2-1.5 1.5-0.6 1.5 0.8 1.7 2.6 1.9 4.3 1.5 5.7 1.4 16.8 2.2 20.9 1.1 24.4 0.2 28.3-1 27.4-2.1z" fill="#ff4800"/>
<path d="M366.5 1075.9l13.1-2.3 10.5-2.7 6-2.7 1.3-1.3 0.2-1.4-1.7-1.7-4.1-1.5-7-1.4-9.1-1-25.9-1.1-25.2 0.6-26.3 2.3-25.8 3.9-8.5 2-6.2 2-3.9 2.1-1 1-0.2 1 0.7 1.4 2 1.1 7.8 2.1 11.9 1.5 15.8 0.7 18.2 0 20.2-0.8 20.1-1.6z" fill="#ff2f00"/>
<path d="M344.1 1301.9c-47.1-78.9-93.6-131.8-136.9-157.8c-43.3-26.3-83.3-25.9-118.5-3.8M87.6 1141c-1.8 1.2-3.6 2.4-5.3 3.7M344.1 1301.9c97.2-94.2 185.6-127.7 258.7-114.6M351.4 1294.9c-46.5-77.6-92.6-129.7-135.5-155.6c-42.9-26.1-82.7-26.1-117.8-4.8M92.6 1138c-1.1 .8-2.1 1.5-3.2 2.3M336.8 1289.9c97.3-93.2 186-125.7 259.3-111.7M358.6 1288.2c-46-76.3-91.5-127.8-134-153.5c-42.6-25.9-82.2-26.3-117.2-5.7M329.6 1278.3c97.4-92.3 186.2-123.7 259.8-108.8M365.8 1281.7c-45.4-75-90.4-125.8-132.6-151.4c-41.7-25.5-80.7-26.5-115.3-7.3M322.3 1267.2c97.6-91.4 186.6-121.8 260.4-106M373 1275.5c-44.9-73.9-89.4-123.9-131.2-149.3c-41.3-25.3-80-26.8-114.6-8.4M315.1 1256.4c97.7-90.4 186.8-119.8 260.9-103.1M380.1 1269.4c-44.3-72.6-88.3-121.9-129.7-147.2c-41-25.1-79.4-26.9-113.8-9.3M307.9 1246.1c97.7-89.5 187.1-117.9 261.3-100.3M387.2 1263.6c-43.3-70.6-86.3-118.9-126.9-144.3c-40.6-25.5-78.8-28.1-113.2-11.6M300.7 1236.2c97.8-88.6 187.4-116 261.8-97.6M394.3 1258c-42.7-69.4-85.2-117-125.5-142.2c-40.2-25.3-78.1-28.4-112.4-12.6M293.5 1226.7c97.9-87.6 187.6-114.1 262.2-94.9M401.3 1252.6c-42.2-68.2-84.1-115.1-124-140.1c-39.8-25.2-77.4-28.6-111.5-13.5M286.3 1217.6c98.1-86.7 187.9-112.2 262.7-92.2M408.3 1247.4c-41.6-67-83.1-113.2-122.5-138.1c-39-24.7-75.9-28.6-109.5-14.8M279.2 1208.9c98.1-85.7 188-110.3 263-89.5M415.2 1242.4c-41-65.8-82-111.3-121-136c-38.5-24.5-75.1-28.8-108.6-15.7M272.1 1200.7c98.2-84.8 188.2-108.5 263.4-86.9M422.1 1237.7c-40.4-64.6-80.9-109.5-119.5-134c-38.1-24.3-74.4-29-107.6-16.6M265.1 1192.9c98.2-83.9 188.3-106.7 263.7-84.3M429 1233.1c-39.4-62.6-78.9-106.5-116.6-131c-37.8-24.7-73.8-30-106.9-18.8M258 1185.5c98.3-82.9 188.5-104.9 264-81.8M435.8 1228.8c-38.9-61.5-77.8-104.7-115.1-129c-37.3-24.5-73-30.2-105.9-19.6M251 1178.6c98.3-82.1 188.7-103.2 264.3-79.4M442.6 1224.7c-38.3-60.4-76.7-102.9-113.6-127c-36.4-24-71.4-30.2-103.7-20.8M244.1 1172c98.2-81.1 188.7-101.3 264.5-76.9M449.4 1220.7c-37.8-59.2-75.7-101-112.2-125c-36-23.7-70.5-30.2-102.6-21.4M237.2 1165.9c98.2-80.2 188.8-99.6 264.7-74.5M456.1 1217c-73.7-115.2-147.3-161.5-211-145.5M230.3 1160.2c98.3-79.2 188.8-97.9 264.9-72.2M462.8 1213.6c-72.6-113.1-145.3-159.1-208.5-144.3M223.5 1155c98.2-78.4 188.9-96.3 265.1-70M469.4 1210.3c-71-110.1-142.2-155.9-204.6-143.2M216.7 1150.1c98.2-77.4 188.9-94.5 265.3-67.7M476 1207.2c-70-107.8-140.2-153.3-202-141.9M209.9 1145.7c95.3-74.3 183.5-91.9 258.5-67.9M482.5 1204.3c-68.4-104.9-137.1-150.2-198.1-140.7M203.2 1141.7c90.8-70 175.4-88.7 248.1-68.9M489 1201.6c-67.3-102.7-135.1-147.6-195.4-139.3M196.6 1138.1c86.3-65.8 167.1-85.4 237.3-69.6M495.4 1199.2c-65.7-99.9-132-144.6-191.4-138.2M190 1134.9c82.3-62 159.7-82.2 227.7-69.7M501.8 1196.9c-64.7-97.7-129.9-142-188.7-136.7M183.5 1132.2c77.8-58 151.3-78.8 216.6-69.8M508.2 1194.8c-63.2-94.9-127-138.9-184.7-135.4M177 1129.8c73.4-54 142.9-75.1 205.4-69.4M514.5 1192.9c-61.6-92.1-124-135.7-180.7-133.9M170.6 1127.9c68.9-50.2 134.5-71.5 194-68.7M520.7 1191.3c-60.5-90.1-121.8-133.3-177.9-132.5M164.2 1126.3c64.4-46.4 126-67.6 182.5-67.5M526.9 1189.8c-59-87.4-118.8-130.2-173.8-131M157.9 1125.2c59.5-42.4 116.6-63.4 169.4-66M533.1 1188.5c-57.5-84.7-115.9-127.1-169.8-129.4M151.7 1124.4c55-38.8 108-59.3 157.5-63.9M539.2 1187.4c-56-82-112.8-123.9-165.7-127.7M145.5 1124.1c50.1-35 98.5-54.8 144.2-61.3M545.2 1186.4c-54.9-80-110.7-121.4-162.8-126M139.4 1124.1c45.2-31.2 89-50.1 130.7-58.1M551.2 1185.7c-53.4-77.4-107.7-118.3-158.6-124.2M133.4 1124.5c40.2-27.5 79.4-45.3 117-54.3M557.2 1185.2c-52-74.9-104.8-115.3-154.5-122.4M127.4 1125.3c35.3-23.9 69.9-40.4 103.2-49.9M563.1 1184.8c-50.5-72.3-101.8-112.1-150.4-120.5M121.5 1126.4c30.5-20.3 60.3-35.2 89.3-44.9M568.9 1184.6c-49-69.8-98.8-109-146.1-118.4M115.7 1128c25.6-17 50.7-30 75.3-39.4M574.7 1184.6c-48-68-96.8-106.6-143.3-116.6M110 1129.9c20.2-13.3 40.1-24.1 59.7-32.7M580.4 1184.8c-46.4-65.6-93.8-103.5-139-114.5M104.3 1132.1c15.3-10 30.5-18.6 45.6-25.8M586.1 1185.2c-45-63.2-90.8-100.5-134.8-112.4M98.7 1134.8c10-6.5 20-12.4 29.9-17.7M591.7 1185.7c-43.5-60.8-87.9-97.3-130.6-110.1M93.1 1137.7c4.8-3 9.6-6 14.3-8.7M597.3 1186.4c-42.1-58.5-84.9-94.3-126.4-107.8M602.8 1187.3c-40.6-56.2-82-91.2-122.2-105.4M82.3 1144.7c5.7-3.6 11.4-7 17-10.2" fill="none" stroke="#000" stroke-width="0.92" stroke-opacity="0.82"/>
<path d="M344.1 1301.9l16.9-15.9 16.7-14.6 16.6-13.4 17.5-13.1 16.1-11 7.9-5.1 9.1-5.5 7.9-4.4 8.9-4.8 7.7-3.8 8.8-4.1 7.6-3.3 8.6-3.3 7.4-2.7 8.5-2.7 7.3-2.1 8.3-2.1 8.2-1.7 8.1-1.4 7-1 8-0.7 7.8-0.5 7.8-0.1 7.6 0.2 7.6 0.5 7.5 0.8 7.3 1.2-11.1-14.9-12.4-15.2-11.2-12.6-12.4-12.8-11.2-10.4-5.6-4.8-6.8-5.5-5.6-4.2-6.7-4.8-5.6-3.6-6.7-4.1-11.1-5.9-5.6-2.5-6.6-2.8-15.5-5.3-16.8-4.9-17.3-4.4-18-3.6-16.4-2.6-18-2-18.1-1.2-18.1-0.4-18.1 0.4-18.4 1.3-19 2.2-18.7 3-18.1 3.7-18 4.6-18.1 5.3-19.4 6.6-18.1 7-17.9 7.7-19.2 9.1-18 9.3-17.7 10-19.1 11.7 6.8-4 7.4-3.7 7.6-3.1 6.7-2.2 7.8-1.9 6.9-1.1 8-0.6 7.2 0 8.2 0.6 7.3 1.2 8.5 2 7.5 2.3 8.6 3.3 7.7 3.5 7.7 4.1 7.8 4.6 9 6 8 5.9 8 6.4 8 7 8.1 7.6 8.2 8.1 8.2 8.8 8.3 9.3 9.5 11.3 8.3 10.6 8.4 11.1 8.4 11.7 8.4 12.2 8.5 12.8 8.4 13.4zM87.6 1141l6.1-3.6 6.6-3.5-8.5 5-9.5 5.8z" fill="none" stroke="#000" stroke-width="1.0" stroke-opacity="0.88"/>
<g fill="#000"><circle cx="76.1" cy="1060.0" r="1.9"/><circle cx="79.2" cy="1103.0" r="1.9"/><circle cx="82.4" cy="1146.0" r="1.9"/><circle cx="85.5" cy="1189.0" r="1.9"/><circle cx="88.6" cy="1232.0" r="1.9"/><circle cx="92.6" cy="1285.8" r="1.9"/><circle cx="155.4" cy="1305.4" r="1.9"/><circle cx="218.3" cy="1325.1" r="1.9"/><circle cx="281.2" cy="1344.8" r="1.9"/><circle cx="344.1" cy="1364.5" r="1.9"/><circle cx="407.0" cy="1344.8" r="1.9"/><circle cx="469.9" cy="1325.1" r="1.9"/><circle cx="532.8" cy="1305.4" r="1.9"/><circle cx="595.6" cy="1285.8" r="1.9"/></g>
<g font-family="'Liberation Sans',Arial,sans-serif" font-size="10.93" fill="#1a1a22"><text transform="translate(69.3 1070.9) scale(1.058 1)" text-anchor="end">78</text><text transform="translate(72.4 1113.9) scale(1.058 1)" text-anchor="end">72</text><text transform="translate(75.6 1156.8) scale(1.058 1)" text-anchor="end">66</text><text transform="translate(78.7 1199.8) scale(1.058 1)" text-anchor="end">60</text><text transform="translate(81.8 1242.8) scale(1.058 1)" text-anchor="end">54</text><text transform="translate(85.7 1296.4) scale(1.058 1)" text-anchor="end">1.00</text><text transform="translate(148.5 1316.1) scale(1.058 1)" text-anchor="end">0.50</text><text transform="translate(211.4 1335.8) scale(1.058 1)" text-anchor="end">0.00</text><text transform="translate(274.3 1355.4) scale(1.058 1)" text-anchor="end">-0.50</text><text transform="translate(337.2 1375.1) scale(1.058 1)" text-anchor="end">-1.00</text><text transform="translate(351.4 1375.1) scale(1.058 1)">-1.00</text><text transform="translate(414.3 1355.4) scale(1.058 1)">-0.50</text><text transform="translate(477.2 1335.8) scale(1.058 1)">0.00</text><text transform="translate(540.1 1316.1) scale(1.058 1)">0.50</text><text transform="translate(602.9 1296.4) scale(1.058 1)">1.00</text></g>
<g font-family="'Liberation Sans',Arial,sans-serif" font-size="16.8" fill="#111"><text transform="translate(104.9 1363.0) scale(1.058 1)">B: B</text><text transform="translate(550.0 1363.0) scale(1.058 1)">A: A</text></g>
<text transform="translate(17.8 1190.2) scale(0.992 1)" font-family="'Liberation Serif','Times New Roman',serif" font-weight="bold" font-size="18.84" fill="#000">Y2</text>
<ellipse cx="82.2" cy="1143.5" rx="4.9" ry="3.1" fill="#f80d0d" stroke="#8c1010" stroke-width="0.9"/>
<ellipse cx="602.9" cy="1186.8" rx="4.9" ry="3.1" fill="#f80d0d" stroke="#8c1010" stroke-width="0.9"/>
<path d="M344.1 1303.0L344.1 1301.9" stroke="#222" stroke-width="0.9"/>
<ellipse cx="344.1" cy="1303.0" rx="4.9" ry="3.1" fill="#f80d0d" stroke="#8c1010" stroke-width="0.9"/>
<path d="M344.1 1060.3L344.1 1071.1" stroke="#222" stroke-width="0.9"/>
<ellipse cx="344.1" cy="1060.3" rx="4.9" ry="3.1" fill="#f80d0d" stroke="#8c1010" stroke-width="0.9"/>
</g>
<g>
<path d="M776.8 1289.5l247.5 77.6 247.5-77.6-247.5-61z" fill="#ffff1c" stroke="#111" stroke-width="1"/>
<path d="M1155.9 1260.9l-18-1.1-18.7-0.5-21 0.1-21.5 0.8-20.9 1.4-21.5 2.1-21.6 2.8-18.9 3-19 3.8-16 4-14.7 4.4-11.8 4.5-4.7 2.2-4.9 2.6-4.1 2.8-2.6 2.1-2 2.2-1.4 2.2-0.6 1.9-0.1 2.6 0.5 1.5 0.8 1.5 1.1 1.5 2.1 1.8 4.1 2.6 6.3 2.7 7.6 2.4 8.8 2.1 12.1 2.1 11.4 1.4 12.6 1.1 13.8 0.8 14.4 0.4 13.7 0.1 15.2-0.3 17.2-0.8 16.1-1 15.5-1.4 16.1-1.7 15.5-2.1 14.5-2.3 13.5-2.5 14.4-3 11.5-3 10.6-3.1 9.7-3.3 8.5-3.5 6.6-3.4 5.4-3.5 3.6-3.4 1.3-1.9 0.7-1.5 0.5-1.6 0.1-1.9-0.5-1.7-0.8-1.6-1.1-1.4-1.9-1.8" fill="none" stroke="#ff9a08" stroke-width="1.35"/>
<path d="M939.2 1340.4l21.1 1.3 24.8 0.6 24.2 0 25.9-0.8 24.7-1.4 27.4-2.2 25.5-2.8 23.5-3.1M1102.9 1247.9l-23.1 0.9-24.3 1.6-24.6 2.1-23.4 2.7-23 3.1-21.8 3.6-20.7 4.1-19.6 4.5-16.9 4.5-15.7 5.1-13.2 5.1-11.2 5.4-4.6 2.8-3.9 2.6-3.3 2.8-2.7 2.8-1.8 2.6-1.1 2.3-0.5 2.7 0.1 2.5" fill="none" stroke="#ffe42c" stroke-width="1.35"/>
<path d="M985.5 1354.9l22.8-0.4 21.5-0.8 23.2-1.3 23.8-1.8M1074.1 1240.8l-22.3 1.5-21.3 1.8-20.7 2.1-21.8 2.6-20.2 2.8-21.8 3.4-19.2 3.5-18.6 3.8-17.8 4.2-15.6 4-14.8 4.4-14.1 4.8-12.8 5-10.1 4.7-8.9 4.9-6.8 4.8" fill="none" stroke="#dcff2c" stroke-width="1.35"/>
<path d="M1017 1364.8l17.3-0.8M1052.1 1235.3l-25.3 2.1-26.2 2.7-23.3 2.7-24.9 3.4M794.4 1285.2l-12.5 5.9" fill="none" stroke="#9cff20" stroke-width="1.35"/>
<path d="M1033.8 1230.8l-30.4 2.8" fill="none" stroke="#54f02a" stroke-width="1.35"/>
<path d="M776.8 1289.5l-16.2-222.5 263.7-39.4 263.7 39.4-16.2 222.5M1024.3 1027.6l0 200.9" fill="none" stroke="#2a2a2a" stroke-width="1.1"/>

<path d="M1024.3 1261.4l16.9-17.1 17.8-17.1 16.5-14.5 17.5-14.3 16.1-12 17-11.6 16.8-10.1 16.5-8.8 16.2-7.4 15.9-6.1 15.6-4.8 15.3-3.5 15-2.2 15.7-1.1 15.2 0.3 14.9 1.7-10.4-8.7-10.4-7.8-10.4-6.9-10.4-6.1-10.3-5.2-10.3-4.4-9.2-3.1-14.2-4.1-16.9-4.1-17-3.4-17-2.7-17.1-2-17.1-1.3-17.9-0.6-18.1 0.1-17.2 0.8-15.4 1.4-15.4 1.8-15.5 2.4-17.1 3.4-15.4 3.5-17 4.5-15.4 4.7-17 5.8-16.6 6.3-15.5 6.4-15.7 7-16.3 8-15.3 7.9-16.4 9.2-16.6 9.8-16.5 10.5 12.6-7.3 13.4-5.7 12.9-3.6 13.2-1.8 13.5-0.1 13.7 1.7 14.1 3.5 13.2 4.9 14.5 7.2 13.7 8.4 14.9 10.9 14 11.8 15.3 14.7 14.3 15.3 14.4 17zM801.7 1166.2l10.4-6.2 10.7-5 10.6-3.7 10.6-2.5 10.7-1.4 11.4-0.1 11.4 1.1 10.9 2.2-14.8 2.3-14.2 3-15.6 4.3-14.5 4.9-14.7 5.8-14.8 6.7-14.9 7.6-15 8.6 7.7-7.9 7.8-7.3 8.1-6.5z" fill="#05f056"/>
<path d="M1024.3 1261.4l16.9-17.1 17.8-17.1 16.5-14.5 17.5-14.3 16.1-12 17-11.6 16.8-10.1 16.5-8.8 16.2-7.4 15.9-6.1 15.6-4.8 15.3-3.5 15-2.2 15.7-1.1 15.2 0.3 14.9 1.7-10.4-8.7-10.4-7.8-10.4-6.9-10.4-6.1-10.3-5.2-10.3-4.4-9.2-3.1-14.2-4.1-16.9-4.1-17-3.4-17-2.7-17.1-2-17.1-1.3-17.9-0.6-18.1 0.1-17.2 0.8-15.4 1.4-15.4 1.8-15.5 2.4-17.1 3.4-15.4 3.5-17 4.5-15.4 4.7-17 5.8-16.6 6.3-15.5 6.4-15.7 7-16.3 8-15.3 7.9-16.4 9.2-16.6 9.8-16.5 10.5 12.6-7.3 13.4-5.7 12.9-3.6 13.2-1.8 13.5-0.1 13.7 1.7 14.1 3.5 13.2 4.9 14.5 7.2 13.7 8.4 14.9 10.9 14 11.8 15.3 14.7 14.3 15.3 14.4 17zM801.7 1166.2l10.4-6.2 10.7-5 10.6-3.7 10.6-2.5 10.7-1.4 11.4-0.1 11.4 1.1 10.9 2.2-14.8 2.3-14.2 3-15.6 4.3-14.5 4.9-14.7 5.8-14.8 6.7-14.9 7.6-15 8.6 7.7-7.9 7.8-7.3 8.1-6.5z" fill="#06f044"/>
<path d="M1024.3 1261.4l16.9-17.1 17.8-17.1 16.5-14.5 17.5-14.3 16.1-12 17-11.6 16.8-10.1 16.5-8.8 16.2-7.4 15.9-6.1 15.6-4.8 15.3-3.5 15-2.2 15.7-1.1 15.2 0.3 14.9 1.7-10.4-8.7-10.4-7.8-10.4-6.9-10.4-6.1-10.3-5.2-10.3-4.4-9.2-3.1-14.2-4.1-16.9-4.1-17-3.4-17-2.7-17.1-2-17.1-1.3-17.9-0.6-18.1 0.1-17.2 0.8-15.4 1.4-15.4 1.8-15.5 2.4-17.1 3.4-15.4 3.5-17 4.5-15.4 4.7-17 5.8-16.6 6.3-15.5 6.4-15.7 7-16.3 8-15.3 7.9-16.4 9.2-16.6 9.8-16.5 10.5 12.6-7.3 13.4-5.7 12.9-3.6 13.2-1.8 13.5-0.1 13.7 1.7 14.1 3.5 13.2 4.9 14.5 7.2 13.7 8.4 14.9 10.9 14 11.8 15.3 14.7 14.3 15.3 14.4 17zM801.7 1166.2l10.4-6.2 10.7-5 10.6-3.7 10.6-2.5 10.7-1.4 11.4-0.1 11.4 1.1 10.9 2.2-14.8 2.3-14.2 3-15.6 4.3-14.5 4.9-14.7 5.8-14.8 6.7-14.9 7.6-15 8.6 7.7-7.9 7.8-7.3 8.1-6.5z" fill="#07f031"/>
<path d="M1024.3 1261.4l16.9-17.1 17.8-17.1 16.5-14.5 17.5-14.3 16.1-12 17-11.6 16.8-10.1 16.5-8.8 16.2-7.4 15.9-6.1 15.6-4.8 15.3-3.5 15-2.2 15.7-1.1 15.2 0.3 14.9 1.7-10.4-8.7-10.4-7.8-10.4-6.9-10.4-6.1-10.3-5.2-10.3-4.4-9.2-3.1-14.2-4.1-16.9-4.1-17-3.4-17-2.7-17.1-2-17.1-1.3-17.9-0.6-18.1 0.1-17.2 0.8-15.4 1.4-15.4 1.8-15.5 2.4-17.1 3.4-15.4 3.5-17 4.5-15.4 4.7-17 5.8-16.6 6.3-15.5 6.4-15.7 7-16.3 8-15.3 7.9-16.4 9.2-16.6 9.8-16.5 10.5 12.6-7.3 13.4-5.7 12.9-3.6 13.2-1.8 13.5-0.1 13.7 1.7 14.1 3.5 13.2 4.9 14.5 7.2 13.7 8.4 14.9 10.9 14 11.8 15.3 14.7 14.3 15.3 14.4 17zM801.7 1166.2l10.4-6.2 10.7-5 10.6-3.7 10.6-2.5 10.7-1.4 11.4-0.1 11.4 1.1 10.9 2.2-14.8 2.3-14.2 3-15.6 4.3-14.5 4.9-14.7 5.8-14.8 6.7-14.9 7.6-15 8.6 7.7-7.9 7.8-7.3 8.1-6.5z" fill="#07f01f"/>
<path d="M1024.3 1261.4l16.9-17.1 17.8-17.1 16.5-14.5 17.5-14.3 16.1-12 17-11.6 16.8-10.1 16.5-8.8 16.2-7.4 15.9-6.1 15.6-4.8 15.3-3.5 15-2.2 15.7-1.1 15.2 0.3 14.9 1.7-10.4-8.7-10.4-7.8-10.4-6.9-10.4-6.1-10.3-5.2-10.3-4.4-9.2-3.1-14.2-4.1-16.9-4.1-17-3.4-17-2.7-17.1-2-17.1-1.3-17.9-0.6-18.1 0.1-17.2 0.8-15.4 1.4-15.4 1.8-15.5 2.4-17.1 3.4-15.4 3.5-17 4.5-15.4 4.7-17 5.8-16.6 6.3-15.5 6.4-15.7 7-16.3 8-15.3 7.9-16.4 9.2-16.6 9.8-16.5 10.5 12.6-7.3 13.4-5.7 12.9-3.6 13.2-1.8 13.5-0.1 13.7 1.7 14.1 3.5 13.2 4.9 14.5 7.2 13.7 8.4 14.9 10.9 14 11.8 15.3 14.7 14.3 15.3 14.4 17zM801.7 1166.2l10.4-6.2 10.7-5 10.6-3.7 10.6-2.5 10.7-1.4 11.4-0.1 11.4 1.1 10.9 2.2-14.8 2.3-14.2 3-15.6 4.3-14.5 4.9-14.7 5.8-14.8 6.7-14.9 7.6-15 8.6 7.7-7.9 7.8-7.3 8.1-6.5z" fill="#08f00c"/>
<path d="M1024.3 1261.4l16.9-17.1 17.8-17.1 16.5-14.5 17.5-14.3 16.1-12 17-11.6 16.8-10.1 16.5-8.8 16.2-7.4 15.9-6.1 15.6-4.8 15.3-3.5 15-2.2 15.7-1.1 15.2 0.3 14.9 1.7-10.4-8.7-10.4-7.8-10.4-6.9-10.4-6.1-10.3-5.2-10.3-4.4-9.2-3.1-14.2-4.1-16.9-4.1-17-3.4-17-2.7-17.1-2-17.1-1.3-17.9-0.6-18.1 0.1-17.2 0.8-15.4 1.4-15.4 1.8-15.5 2.4-17.1 3.4-15.4 3.5-17 4.5-15.4 4.7-17 5.8-16.6 6.3-15.5 6.4-15.7 7-16.3 8-15.3 7.9-16.4 9.2-16.6 9.8-16.5 10.5 12.6-7.3 13.4-5.7 12.9-3.6 13.2-1.8 13.5-0.1 13.7 1.7 14.1 3.5 13.2 4.9 14.5 7.2 13.7 8.4 14.9 10.9 14 11.8 15.3 14.7 14.3 15.3 14.4 17zM801.7 1166.2l10.4-6.2 10.7-5 10.6-3.7 10.6-2.5 10.7-1.4 11.4-0.1 11.4 1.1 10.9 2.2-14.8 2.3-14.2 3-15.6 4.3-14.5 4.9-14.7 5.8-14.8 6.7-14.9 7.6-15 8.6 7.7-7.9 7.8-7.3 8.1-6.5z" fill="#18f107"/>
<path d="M1024.3 1261.4l16.9-17.1 17.8-17.1 16.5-14.5 17.5-14.3 16.1-12 17-11.6 16.8-10.1 16.5-8.8 16.2-7.4 15.9-6.1 15.6-4.8 15.3-3.5 15-2.2 15.7-1.1 15.2 0.3 14.9 1.7-10.4-8.7-10.4-7.8-10.4-6.9-10.4-6.1-10.3-5.2-10.3-4.4-9.2-3.1-14.2-4.1-16.9-4.1-17-3.4-17-2.7-17.1-2-17.1-1.3-17.9-0.6-18.1 0.1-17.2 0.8-15.4 1.4-15.4 1.8-15.5 2.4-17.1 3.4-15.4 3.5-17 4.5-15.4 4.7-17 5.8-16.6 6.3-15.5 6.4-15.7 7-16.3 8-15.3 7.9-16.4 9.2-16.6 9.8-16.5 10.5 12.6-7.3 13.4-5.7 12.9-3.6 13.2-1.8 13.5-0.1 13.7 1.7 14.1 3.5 13.2 4.9 14.5 7.2 13.7 8.4 14.9 10.9 14 11.8 15.3 14.7 14.3 15.3 14.4 17zM801.7 1166.2l10.4-6.2 10.7-5 10.6-3.7 10.6-2.5 10.7-1.4 11.4-0.1 11.4 1.1 10.9 2.2-14.8 2.3-14.2 3-15.6 4.3-14.5 4.9-14.7 5.8-14.8 6.7-14.9 7.6-15 8.6 7.7-7.9 7.8-7.3 8.1-6.5z" fill="#2cf107"/>
<path d="M1029.1 1253.6l2.9-0.1 17.5-17.4 17.8-16.3 17.6-14.9 17.3-13.5 14.9-10.6 15.7-10.2 15.6-9 15.3-7.8 15.1-6.6 15.9-5.9 15.5-4.5 15.3-3.2 14.9-2 14.6-0.8 14.3 0.4 13.9 1.6-10.4-8.7-10.4-7.8-10.4-6.9-10.4-6.1-10.3-5.2-10.3-4.4-9.2-3.1-14.2-4.1-16.9-4.1-17-3.4-17-2.7-17.1-2-17.1-1.3-17.9-0.6-18.1 0.1-17.2 0.8-15.4 1.4-15.4 1.8-15.5 2.4-17.1 3.4-15.4 3.5-17 4.5-15.4 4.7-17 5.8-16.6 6.3-15.5 6.4-15.7 7-16.3 8-15.3 7.9-16.4 9.2-16.6 9.8-16.5 10.5 11.6-6.8 12.5-5.5 12.8-3.8 12.1-2.1 13.4-0.5 12.7 1.1 12.9 2.7 13.1 4.3 12.2 5.3 11.2 6 12.6 8 11.5 8.5 17.5 14.8 16.5 16.2 16.7 18.6 17.2 21.3zM801.7 1166.2l10.4-6.2 10.7-5 10.6-3.7 10.6-2.5 10.7-1.4 11.4-0.1 11.4 1.1 10.9 2.2-13.7 2.1-13.1 2.7-13.3 3.5-13.4 4.2-12.4 4.6-12.5 5.2-13.6 6.4-14.3 7.5-8.9 3.5 14-13.2 7.2-5.7z" fill="#41f206"/>
<path d="M1037.7 1244.9l2.9-0.1 17.2-16.5 17.7-15.6 16.3-13.4 17.3-12.9 14.8-10.1 14.5-9 14.4-8 15.2-7.5 15-6.3 14.8-5.2 14.5-4 15.2-3.1 13.9-1.7 14.6-0.7 13.3 0.4 13.9 1.6-10.4-8.7-10.4-7.8-10.4-6.9-10.4-6.1-10.3-5.2-10.3-4.4-9.2-3.1-14.2-4.1-16.9-4.1-17-3.4-17-2.7-17.1-2-17.1-1.3-17.9-0.6-18.1 0.1-17.2 0.8-15.4 1.4-15.4 1.8-15.5 2.4-17.1 3.4-15.4 3.5-17 4.5-15.4 4.7-17 5.8-16.6 6.3-15.5 6.4-15.7 7-16.3 8-15.3 7.9-16.4 9.2-16.6 9.8-16.5 10.5 11.6-6.8 11.5-5.1 11.8-3.7 12.1-2.3 12.3-0.8 11.5 0.6 12.8 2.2 12 3.3 14.3 5.7 13.5 7 14.8 9.4 13.8 10.4 15.2 13.2 14.2 13.9 14.3 15.6 14.5 17.4zM801.7 1166.2l10.4-6.2 10.7-5 10.6-3.7 10.6-2.5 10.7-1.4 11.4-0.1 11.4 1.1 10.9 2.2-11.5 1.7-12 2.4-12.2 3-11.1 3.2-18 6.4-22.9 9.9-12.3 4.2-10.7 4.3 12.2-10.8z" fill="#55f305"/>
<path d="M1046.7 1236.2l3-0.2 16.4-15.2 16.4-14 16.3-12.8 17.1-12.4 13.6-8.9 14.5-8.6 14.3-7.6 14.1-6.6 13.8-5.6 14.7-4.9 14.4-3.8 14.2-2.7 13.8-1.6 13.6-0.5 13.3 0.5 13 1.5-10.4-8.7-10.4-7.8-10.4-6.9-10.4-6.1-10.3-5.2-10.3-4.4-9.2-3.1-14.2-4.1-16.9-4.1-17-3.4-17-2.7-17.1-2-17.1-1.3-17.9-0.6-18.1 0.1-17.2 0.8-15.4 1.4-15.4 1.8-15.5 2.4-17.1 3.4-15.4 3.5-17 4.5-15.4 4.7-17 5.8-16.6 6.3-15.5 6.4-15.7 7-16.3 8-15.3 7.9-16.4 9.2-16.6 9.8-16.5 10.5 10.7-6.3 10.5-4.8 11.7-4 11-2.4 11.3-1.1 11.4 0.1 11.7 1.5 11.8 2.7 14.3 5 13.4 6.3 14.7 8.7 13.8 9.7 13.9 11.4 14.1 13 14.2 14.8 15 17.2zM801.7 1166.2l10.4-6.2 10.7-5 10.6-3.7 10.6-2.5 10.7-1.4 11.4-0.1 11.4 1.1 10.9 2.2-20.2 3.4-19.9 4.9-22.3 7.4-23.6 7.1-10.3 3.7-9.6 4.1 9.2-7.7z" fill="#6af405"/>
<path d="M1056.1 1227.3l3-0.1 16.4-14.5 15.2-12.5 16.1-12.2 15.9-11 13.5-8.4 13.3-7.6 13.1-6.7 14.1-6.3 13.7-5.2 13.6-4.3 13.4-3.4 14.1-2.5 12.8-1.4 13.6-0.4 12.3 0.5 13 1.5-10.4-8.7-10.4-7.8-10.4-6.9-10.4-6.1-10.3-5.2-10.3-4.4-9.2-3.1-14.2-4.1-16.9-4.1-17-3.4-17-2.7-17.1-2-17.1-1.3-17.9-0.6-18.1 0.1-17.2 0.8-15.4 1.4-15.4 1.8-15.5 2.4-17.1 3.4-15.4 3.5-17 4.5-15.4 4.7-17 5.8-16.6 6.3-15.5 6.4-15.7 7-16.3 8-15.3 7.9-16.4 9.2-16.6 9.8-16.5 10.5 9.7-5.8 10.5-5 10.7-3.8 11-2.5 11.2-1.4 10.4-0.1 11.6 1 10.7 2.2 14.2 4.4 13.3 5.7 13.5 7.4 13.7 9 13.9 10.7 14 12.4 14.2 14 13.9 15.4zM801.7 1166.2l9.6-5.7 9.8-4.8 9.9-3.7 10.6-2.8 9.9-1.5 10.6-0.5 10.5 0.6 8.1 1.1 0.5 0.5 2.1 0-1.9 0.9-35.3 7.4-21.8 5.6-20.8 6.7-15.8 6.7 6.7-5.3z" fill="#7ef504"/>
<path d="M1065.9 1218.4l3.2-0.2 15.8-13.3 15-11.8 14.9-10.7 14.7-9.7 12.3-7.4 13.2-7.2 13-6.3 12.9-5.5 12.7-4.6 13.5-4.1 13.3-3.1 13.1-2.2 12.8-1.2 12.5-0.3 12.4 0.5 12 1.5-10.4-8.7-10.4-7.8-10.4-6.9-10.4-6.1-10.3-5.2-10.3-4.4-9.2-3.1-14.2-4.1-16.9-4.1-17-3.4-17-2.7-17.1-2-17.1-1.3-17.9-0.6-18.1 0.1-17.2 0.8-15.4 1.4-15.4 1.8-15.5 2.4-17.1 3.4-15.4 3.5-17 4.5-15.4 4.7-17 5.8-16.6 6.3-15.5 6.4-15.7 7-16.3 8-15.3 7.9-16.4 9.2-16.6 9.8-16.5 10.5 9.7-5.8 9.6-4.6 9.7-3.6 9.9-2.6 10.1-1.6 10.3-0.5 10.5 0.5 10.6 1.6 13 3.3 13.2 4.9 13.4 6.6 13.6 8.2 13.8 9.9 14 11.5 14.1 13.2 13.6 14.2 36.1-0.9zM801.7 1166.2l8.3-5 8.8-4.5 8.9-3.6 9-2.7 9-1.9 9-1.1 9.8-0.2 6.2 0.4-0.3 0.7 2.3-0.4-27.5 6.3-20.6 5.7-17.9 6.1-13.4 6.2z" fill="#93f604"/>
<path d="M1076.4 1209.4l3.2-0.2 14.6-11.7 14.9-11.1 13.6-9.4 14.6-9.1 12.2-6.9 12-6.2 11.9-5.4 12.8-5.1 12.6-4.3 12.4-3.4 12.2-2.7 12.1-1.8 11.8-1.1 12.5-0.2 11.4 0.5 12 1.5-10.4-8.7-10.4-7.8-10.4-6.9-10.4-6.1-10.3-5.2-10.3-4.4-9.2-3.1-14.2-4.1-16.9-4.1-17-3.4-17-2.7-17.1-2-17.1-1.3-17.9-0.6-18.1 0.1-17.2 0.8-15.4 1.4-15.4 1.8-15.5 2.4-17.1 3.4-15.4 3.5-17 4.5-15.4 4.7-17 5.8-16.6 6.3-15.5 6.4-15.7 7-16.3 8-15.3 7.9-16.4 9.2-16.6 9.8-16.5 10.5 8.8-5.3 9.5-4.6 9.7-3.7 8.9-2.5 10.1-1.8 9.2-0.8 10.4 0.2 9.5 1.1 12.9 2.8 13.2 4.4 13.3 6 12.4 7 13.7 9.2 12.8 9.8 12.8 11.3 14 13.7 45-0.9zM801.7 1166.2l13.7-7.9 13.1-5.5 6.6-2 7.4-1.7 13.4-1.7-1.2 0.9-18.5 4.9-16 5.2-12 4.8-8.9 4.6z" fill="#a7f603"/>
<path d="M1087.6 1200.3l3.3-0.3 13.6-10.3 13.7-9.7 13.5-8.7 13.4-7.9 11-5.8 11.9-5.8 11.9-5.1 11.6-4.3 11.5-3.6 12.3-3.2 11.2-2.2 11.9-1.6 10.8-0.9 11.5-0.1 11.4 0.6 11.1 1.4-10.4-8.7-10.4-7.8-10.4-6.9-10.4-6.1-10.3-5.2-10.3-4.4-9.2-3.1-12.5-3.6-16.9-4.2-17-3.5-17-2.8-17.9-2.1-18-1.4-17.1-0.6-17.2 0.1-17.1 0.7-15.5 1.3-16.7 2-15.9 2.4-15.4 3-16 3.6-16.5 4.4-15.3 4.6-16.8 5.6-15.5 5.8-16.9 6.9-15.2 6.7-16.8 8.1-15 7.8-16.7 9.2-16.6 9.8-14.3 9.1 7.8-4.4 8.6-4 8.8-3.2 8.9-2.3 9.1-1.6 8.2-0.7 9.3 0 8.4 0.8 12.9 2.4 12 3.6 12.1 4.9 12.4 6.3 12.5 7.8 12.6 9.1 12.8 10.5 12.5 11.5 28.1-0.3 26.8-0.6 29.1-1.3z" fill="#bcf702"/>
<path d="M1099.7 1190.9l3.5-0.2 12.7-9.1 12.5-8.2 12.3-7.4 13.2-7.3 21.7-10.2 10.6-4.2 10.5-3.6 10.4-3.1 11.3-2.7 11.1-2 10.9-1.3 10.7-0.7 10.6-0.1 10.4 0.6 11.1 1.4-9.2-7.8-10.4-7.9-10.4-7-10.4-6.1-10.4-5.3-10.3-4.5-9.1-3.3-12-3.5-16.9-4.2-17-3.6-17-2.8-16.9-2.1-17.3-1.5-17.1-0.8-17.2 0-17.1 0.6-15.4 1.2-15.5 1.6-16.4 2.4-16.2 3-15.4 3.4-16 4-16.4 4.8-15.3 5-15.3 5.5-16.9 6.8-16.1 6.9-15.9 7.5-16.8 8.5-18 9.9-20.4 12.1-5.1 3.7 9-4.2 8.8-3.2 8.9-2.3 9.1-1.6 9.2-0.8 9.4 0.2 9.5 0.9 9.6 1.9 9.8 2.8 9.9 3.6 10 4.6 9 4.8 10.2 6.3 9.2 6.4 10.4 8.1 10.1 8.6 31.7 0.1 34.3-0.8 35.3-1.6z" fill="#d0f802"/>
<path d="M1113 1181.4l3.7-0.3 11.7-7.7 12.3-7.4 11-6.2 12-6 19.3-8.3 20-6.7 10.3-2.7 10.1-2.2 10.1-1.6 10.8-1.1 9.7-0.4 9.6 0.1 9.4 0.6 10.2 1.3-9.2-7.8-10.4-7.9-10.4-7-10.4-6.1-9.2-4.8-10.3-4.6-9.2-3.3-11.4-3.4-16.9-4.3-17-3.6-16.7-2.9-16.1-2.1-16.7-1.6-17.1-0.9-17.1-0.2-17.2 0.5-15.4 1-15.5 1.6-16.8 2.4-15.7 2.7-15.4 3.3-16.5 4-16 4.6-15.3 4.9-17 6-16.9 6.7-16.9 7.2-16.6 7.8-20.3 10.4-21.7 12.1-6.2 4.1-3.7 3.7 8.2-3 7.9-2.3 8-1.6 8.2-0.9 8.2-0.3 8.4 0.4 8.5 1.1 7.5 1.5 8.7 2.4 8.8 3.1 8.8 3.8 7.9 4 9 5.2 8 5.1 17 12.7 39.4 0.4 39.1-0.8 41.5-2z" fill="#e5f901"/>
<path d="M1128 1171.5l4-0.4 21.9-12.4 21.7-10.2 17-6.5 17.6-5.2 18.3-3.7 18.8-2.1 18.2 0 17.7 1.8-9.2-7.8-10.4-7.9-9.3-6.2-10.4-6.3-9.2-4.8-10.3-4.7-9.1-3.4-10.7-3.3-15.5-4-16.9-3.8-17-3-16.5-2.3-16.4-1.6-16.7-1-17.1-0.4-17.1 0.4-15.5 0.9-15.4 1.4-15.5 2-16.6 2.8-15.9 3.2-15.4 3.7-16.6 4.5-15.8 4.9-17.8 6.2-18.6 7.3-17.8 7.6-18.5 8.8-17.1 8.7-15.3 8.5-5.3 4.3-1.5 2.2-0.6 1.9 12.9-3 13.3-1.4 13.6 0.5 13.8 2.3 14.2 4.1 14.4 6 14.6 7.9 14 9.2 44.7 1 45.8-0.7 47.8-2.3z" fill="#f9fa00"/>
<path d="M1145.7 1161.1l4.6-0.5 17.7-8.8 18.2-7.5 13.7-4.6 13.4-3.6 16.2-3.2 15.8-1.7 15.4-0.4 15.8 1.1 3-2.3-10.2-8.2-9.2-6.7-9.2-6-9.3-5.4-9.2-4.6-10.3-4.5-9.1-3.3-11-3.2-15.5-4-16-3.4-15.7-2.8-16.7-2.3-15.8-1.5-16.7-1-16.6-0.4-15.9 0.3-15.5 0.8-15.4 1.4-15.4 2-15.5 2.4-15.4 3.1-15.4 3.5-15.4 4.1-15.3 4.6-17 5.7-18.7 7-18.6 7.8-18.5 8.5-16.7 8.4-9.7 5.3-4.5 3.9-1.3 2.2-0.4 1.9 0.2 1.6 0.8 1.7 9.9-1.1 10.4-0.1 10.5 0.9 10.7 2 10.9 3.1 9.9 3.8 10 4.6 10.1 5.6 12.8 0.8 23.9 0.9 24.2 0.4 50.7-0.8 26.3-1.1 28.8-1.8 26.1-2.1z" fill="#ffe900"/>
<path d="M1169.1 1149.5l6.1-0.9 20.5-7.6 10.4-3.1 10.2-2.5 19.2-3.3 9.8-0.9 9.5-0.4 9.6-4.6 3.2-2.2 2.3-2.2-9.8-7.1-9.2-6-9.3-5.4-9.2-4.6-9.1-4.1-9.2-3.3-23.2-6.5-14.9-3.4-14-2.7-15.3-2.4-15.4-1.8-14.5-1.2-14.6-0.8-15.4-0.2-15.4 0.4-29.2 2.1-29.2 4.1-29.1 6.1-29.5 8-18.2 6-17 6.2-17.1 7-18.3 8.1-16.3 7.9-4.7 2.7-4 3.7-1 1.8-0.4 1.8 0.6 2.4 1.8 2.2 3.4 2.4 4.5 2.2 8.5 0.8 9.6 1.8 8.7 2.3 9.1 3.1 25.7 2.7 31.2 1.8 25.4 0.6 25.8 0 26-0.5 28.8-1.2 26-1.6 26.3-2.1 24.7-2.4z" fill="#ffd200"/>
<path d="M1195.2 1136.4l25.4-5.3 19.5-5.7 7.4-2.9 5.5-2.9 3.9-2.9 2-2.8-17.3-10.6-9.2-4.6-9.1-4.1-8-2.9-9.2-2.8-27.1-6.9-27.2-5-27.3-3.2-27.4-1.4-27.5 0.3-27.4 2.1-27.4 3.8-27.4 5.6-27.4 7.2-17 5.3-17 6-16.9 6.6-16.9 7.2-11.4 5.2-4.7 2.8-3.7 3.4-0.8 1.4-0.4 1.7 0.5 2 1.7 2.2 2.3 1.7 3.6 1.9 9.9 3.3 13 2.9 17.2 2.5 18.8 1.8 23.4 1.4 24.5 0.8 25.2 0.1 28.2-0.5 25.8-1 29.2-1.7 26.1-2.2 27-2.8 24.5-3.2z" fill="#ffba00"/>
<path d="M1184.9 1129l26.3-5.5 10.7-2.8 9.1-3.1 6.8-3 5-3.2 2.5-3 0.4-1.4-0.1-1.4-15.4-8-16.1-6.3-23.2-6.5-25.5-5.5-24-3.7-25.5-2.4-24.1-0.9-25.4 0.6-24.2 1.9-25.7 3.6-25.7 5-25.7 6.5-15.3 4.6-16.8 5.6-15.5 5.8-16.8 6.8-6.6 3-4.4 2.8-2.7 2.6-0.9 2.6 0.5 1.9 1.4 1.8 5.2 3.3 8.8 3 12.9 2.8 14.4 2.1 18.6 1.9 21.4 1.3 22.3 0.6 25.1 0.2 25.5-0.5 25.9-1 25.7-1.5 26.1-2.2 23.6-2.5 21.9-2.8z" fill="#ffa300"/>
<path d="M1183.4 1119.7l22.2-5 8.2-2.5 7-2.6 5-2.5 3.3-2.4 1.8-2.6-0.2-2.6-1.1-1.6-1.7-1.3-9.2-3.7-9.2-3.1-25.6-6.7-27-5.3-22.2-3-23.4-1.9-22.3-0.6-22.6 0.6-22.9 1.8-23.6 3.1-23.4 4.3-23.9 5.7-29.6 8.9-29.4 10.7-4.8 2.3-3.5 2.2-2.3 2.4-0.7 2.1 0.4 1.8 1.3 1.6 2.3 1.7 3.1 1.5 8.3 2.7 12 2.5 14.7 2 17.4 1.5 20 1.1 22.8 0.6 23.4-0.1 23.7-0.5 23.7-1.1 24.1-1.6 23.6-2 21.6-2.4 20.8-2.9z" fill="#ff8b00"/>
<path d="M1161.9 1113.7l23.5-4.5 9.8-2.6 7.6-2.5 6.1-2.7 3.6-2.3 1.8-2.3 0.3-1.3-0.2-1.2-1.6-1.9-2.4-1.6-4.1-1.7-5-1.6-25.7-6.2-25.5-4.5-20.5-2.5-20.5-1.5-20.6-0.5-20.6 0.5-21.6 1.6-21.3 2.6-20.5 3.5-22.3 4.9-25.6 7-24.9 8.2-4.8 2.1-3.7 2.1-2.1 2-0.9 2.1 0.3 1.6 1.1 1.4 4.1 2.6 7.1 2.4 9.4 2.1 11.4 1.7 15 1.5 17.4 1.1 17.8 0.6 39.7-0.1 42.1-1.9 41-3.4z" fill="#ff7400"/>
<path d="M1155.5 1104.7l18.4-3.8 12.7-3.9 4.4-2 2.9-1.9 1.6-2 0-2.1-1.1-1.5-2.5-1.6-8.4-2.8-20.7-4.2-21.2-3.3-17.1-1.8-18.9-1.1-18.8-0.4-18.9 0.5-18.8 1.4-20.2 2.3-19.3 3.1-19 3.8-20.3 5.1-19 5.6-4.8 2-3.3 1.9-2 1.7-0.7 2 0.3 1.3 1 1.1 4.1 2.4 6.6 2.1 8.6 1.7 11.9 1.6 12.4 1.1 32.2 1.3 36.1-0.3 36.9-1.8 34.9-3.2z" fill="#ff5c00"/>
<path d="M1131 1098l17.9-3.1 14.1-3.6 4.8-1.8 3.2-1.8 2-2.1 0.1-1.6-1.2-1.4-2-1.3-7.1-2.3-12.4-2.2-17.2-2.1-16.4-1.4-16.3-0.8-17.1-0.1-15.5 0.4-17.1 1.2-17.2 1.8-17.1 2.6-17.2 3.1-17.7 4-8.4 2.5-6.3 2.9-1.8 1.7-0.6 1.5 0.9 1.8 3 1.8 4.7 1.6 7.3 1.6 17.8 2.1 23.4 1.1 27.1 0.1 28.3-1.1 29.8-2.2z" fill="#ff4500"/>
<path d="M1118.5 1088.1l10.9-2 8.3-2.4 4.5-2.2 1.1-1.2 0.1-1.1-0.7-0.9-1.4-0.9-4.6-1.6-6.3-1.2-9.2-1-26.6-1.2-26.7 0.4-27.3 2.2-24.9 3.6-8.8 1.9-6.3 1.9-3.9 2.1-1 1.7 0.9 1.4 2.1 1.2 4.2 1.3 5.4 1 14.3 1.5 16.8 0.6 21.1-0.1 21.1-1 19.8-1.7z" fill="#ff2d00"/>
<path d="M1024.3 1261.4c-41.1-55.3-81.3-90.2-118.8-105.2c-37.2-15-71.7-10.7-102.7 9.3M801.7 1166.2c-11.1 7.3-21.7 16.6-31.8 27.6M1024.3 1261.4c96.9-102.1 185.7-140.4 258.9-128.6M1031.6 1253.9c-40.1-53.4-79.4-87.5-116.2-102.6c-36.9-15.2-71.3-11.6-102.2 7.6M806.5 1163.3c-10.3 7.1-20.2 16-29.7 26.4M1017.1 1251.9c96.9-100.9 185.8-137.9 259.2-125M1038.8 1246.6c-39.6-52.3-78.4-85.6-114.9-100.5c-36.5-14.9-70.6-11.5-101.4 7.1M811.3 1160.6c-9.5 7-18.7 15.5-27.6 25.3M1009.9 1242.8c96.9-99.6 185.9-135.3 259.4-121.4M1045.9 1239.6c-39-51.2-77.4-83.8-113.5-98.5c-35.7-14.5-69.1-11.6-99.5 5.9M816.1 1158.2c-8.8 6.8-17.3 14.9-25.5 24M1002.7 1234.1c96.9-98.3 186-132.8 259.7-117.8M1053.1 1232.8c-76.8-100-150.2-125.7-210.9-91.1M820.9 1156.2c-8.1 6.5-15.9 14.1-23.4 22.5M995.5 1225.8c97-97.1 186.2-130.2 260-114.2M1060.2 1226.2c-75.3-97.1-147.4-122.8-207.6-90.3M826.7 1153.6c-7.7 6.4-15.1 13.7-22.4 21.9M988.3 1217.9c97.1-95.7 186.3-127.7 260.3-110.6M1067.3 1219.8c-73.8-94.2-144.7-119.9-204.2-89.4M831.4 1152.1c-6.9 6-13.7 12.8-20.2 20.3M981.2 1210.5c97.1-94.5 186.4-125.2 260.4-107.2M1074.4 1213.7c-72.8-92-142.9-117.4-202-87.9M836.1 1150.9c-6.2 5.7-12.2 11.9-18.1 18.6M974.1 1203.4c97.1-93.2 186.4-122.6 260.6-103.6M1081.4 1207.8c-71.3-89.2-140-114.6-198.5-87.1M840.7 1150.1c-5.4 5.1-10.7 10.7-15.9 16.7M967.1 1196.8c97-91.9 186.4-120.2 260.8-100.2M1088.4 1202.1c-69.8-86.4-137.2-111.8-195.1-86.1M846.5 1148.5c-5.1 4.9-10.1 10.2-15 15.8M960.1 1190.7c97-90.7 186.5-117.8 260.9-97M1095.3 1196.6c-68.7-84.3-135.3-109.3-192.7-84.7M851.1 1148.1c-4.4 4.4-8.7 9-12.9 13.9M953.1 1184.9c97-89.4 186.5-115.4 261-93.6M1102.2 1191.4c-67.2-81.6-132.5-106.5-189.1-83.8M855.6 1148.1c-3.6 3.7-7.1 7.7-10.7 11.8M946.1 1179.5c95.6-86.8 183.9-112.2 257.8-91.3M1109.1 1186.4c-65.7-79-129.6-103.8-185.5-82.8M861.2 1147.2c-3.2 3.4-6.4 7-9.6 10.8M939.3 1174.6c91.6-82 176.6-107.8 248.7-90.5M1115.9 1181.6c-64.6-76.9-127.7-101.4-183-81.4M865.7 1147.7c-2.5 2.7-5 5.6-7.4 8.5M932.4 1170.1c88.2-77.8 170.4-103.8 240.7-89.3M1122.7 1177c-63.1-74.3-124.8-98.7-179.3-80.4M870.2 1148.5c-1.8 2-3.6 4.1-5.3 6.2M925.6 1166c84.2-73.3 163.1-99.4 231.3-88.1M1129.5 1172.7c-61.7-71.8-122-96.1-175.7-79.5M875.7 1148.3c-1.4 1.6-2.8 3.3-4.3 5M918.8 1162.3c80.3-68.9 155.8-95 221.9-86.8M1136.2 1168.6c-60.2-69.3-119.2-93.4-171.9-78.5M880.1 1149.5c-.7 .9-1.4 1.7-2.1 2.6M912.1 1159c76.4-64.5 148.5-90.6 212.2-85.2M1142.9 1164.7c-58.7-66.9-116.3-90.8-168.1-77.4M905.5 1156.2c72.4-60.4 141-86.2 202.3-83.4M1149.5 1161c-57.7-65-114.3-88.5-165.5-76M898.9 1153.7c68.5-56.3 133.6-81.7 192.4-81.4M1156.1 1157.6c-56.2-62.7-111.5-86-161.7-75M892.3 1151.6c64.6-52.2 126.2-77.2 182.3-79M1162.6 1154.3c-54.6-60.3-108.6-83.4-157.8-73.8M885.8 1150c60.2-48 117.9-72.5 170.9-76.5M1169.1 1151.3c-53.2-58-105.7-80.9-153.9-72.7M879.4 1148.7c56.3-44.2 110.3-67.9 160.5-73.6M1175.6 1148.5c-51.7-55.8-102.8-78.4-150-71.6M873 1147.8c52.4-40.5 102.9-63.4 150-70.5M1182 1145.9c-50.2-53.6-99.9-75.9-146-70.4M866.7 1147.3c48-36.6 94.4-58.4 138.1-66.8M1188.3 1143.5c-48.7-51.4-97-73.4-142-69.1M860.5 1147.2c43.5-32.8 85.9-53.4 126.1-62.9M1194.7 1141.3c-47.3-49.2-94.2-70.9-138-67.8M854.3 1147.5c39.2-29.1 77.4-48.3 113.9-58.5M1200.9 1139.4c-45.8-47.2-91.2-68.6-133.9-66.5M848.2 1148.1c35.3-25.8 69.8-43.6 103-54.1M1207.1 1137.6c-44.3-45.1-88.3-66.1-129.9-65.1M842.1 1149.1c31-22.3 61.4-38.5 90.8-48.9M1213.3 1136.1c-42.8-43.2-85.5-63.8-125.8-63.8M836.1 1150.5c26.7-18.9 52.9-33.3 78.4-43.4M1219.4 1134.7c-41.4-41.2-82.6-61.4-121.7-62.3M830.2 1152.3c21.8-15.3 43.4-27.6 64.5-36.9M1225.5 1133.6c-39.9-39.3-79.7-59.1-117.7-60.8M824.3 1154.4c17.6-12.1 34.9-22.3 52-30.6M1231.5 1132.6c-38.5-37.4-76.8-56.7-113.5-59.3M818.6 1156.8c13.2-9 26.4-16.9 39.4-23.7M1237.4 1131.9c-36.9-35.6-73.8-54.4-109.3-57.7M812.9 1159.6c8.5-5.7 16.9-10.9 25.3-15.7M1243.3 1131.3c-35-33.3-70-51.6-103.8-55.9M807.2 1162.8c3.8-2.5 7.6-4.9 11.3-7.2M1249.2 1130.9c-33.6-31.5-67.2-49.3-99.7-54.2M1255 1130.8c-32.2-29.8-64.3-47.1-95.5-52.5M796.2 1170c6.5-4.2 13.1-8.1 19.6-11.8M1260.7 1130.8c-30.7-28.1-61.4-44.8-91.3-50.7M790.8 1174.2c13.1-8.3 26.1-15.6 38.9-21.7M1266.4 1131c-29.2-26.5-58.5-42.6-87.1-48.9M785.4 1178.6c19.6-12.2 39-22.1 58.1-29.6M1272.1 1131.4c-27.4-24.5-54.8-39.9-81.6-46.7M780.2 1183.4c26.5-16.4 52.6-28.3 78.1-36.1M1277.7 1132c-26-22.9-51.9-37.7-77.4-44.8M775 1188.4c33.4-20.3 66.2-33.6 97.9-40.5M1283.2 1132.8c-24.5-21.4-49-35.6-73.2-42.8M769.9 1193.8c40.3-24.1 79.6-38.2 117.2-43.1" fill="none" stroke="#000" stroke-width="0.92" stroke-opacity="0.82"/>
<path d="M1024.3 1261.4l16.9-17.1 17.8-17.1 16.5-14.5 17.5-14.3 16.1-12 8-5.6 9-6 7.9-4.9 8.9-5.2 7.7-4.3 8.8-4.5 7.6-3.6 8.6-3.8 7.4-3 8.5-3.1 7.3-2.4 8.3-2.4 7.2-1.8 8.1-1.7 7.1-1.2 7.9-1 7.9-0.7 7.8-0.4 7.6 0 7.6 0.3 7.5 0.7 7.4 1-10.4-8.7-10.4-7.8-10.4-6.9-10.4-6.1-10.3-5.2-10.3-4.4-9.2-3.1-14.2-4.1-16.9-4.1-17-3.4-17-2.7-17.1-2-17.1-1.3-17.9-0.6-18.1 0.1-17.2 0.8-15.4 1.4-15.4 1.8-15.5 2.4-17.1 3.4-15.4 3.5-17 4.5-15.4 4.7-17 5.8-16.6 6.3-15.5 6.4-15.7 7-16.3 8-15.3 7.9-16.4 9.2-16.6 9.8-16.5 10.5 6-3.7 6.6-3.6 6.7-3.1 6.7-2.6 6.9-2.1 6-1.5 7.1-1.2 6.1-0.6 7.2-0.3 6.3 0.2 7.3 0.7 6.4 1 7.6 1.6 6.5 1.9 6.6 2.3 6.6 2.6 7.8 3.7 6.7 3.5 6.8 4 6.9 4.4 8 5.6 6.9 5.3 7 5.7 7 6.1 8.2 7.6 7.1 7.1 7.1 7.4 7.2 7.9 7.2 8.3 7.2 8.7zM801.7 1166.2l5.4-3.4 5-2.8 5.7-2.8 5-2.2 5-1.9 5.6-1.8 5-1.3 5.6-1.2 5-0.8 5.7-0.6 5.7-0.2 5.7 0.1 5.7 0.4 5.7 0.7 5.6 1 5.3 1.2-14.8 2.3-14.2 3-15.6 4.3-14.5 4.9-14.7 5.8-14.8 6.7-14.9 7.6-15 8.6 7.7-7.9 7.8-7.3 8.1-6.5z" fill="none" stroke="#000" stroke-width="1.0" stroke-opacity="0.88"/>
<g fill="#000"><circle cx="760.6" cy="1067.0" r="1.9"/><circle cx="763.7" cy="1109.4" r="1.9"/><circle cx="766.8" cy="1151.8" r="1.9"/><circle cx="769.9" cy="1194.1" r="1.9"/><circle cx="773.0" cy="1236.5" r="1.9"/><circle cx="776.8" cy="1289.5" r="1.9"/><circle cx="838.7" cy="1308.9" r="1.9"/><circle cx="900.6" cy="1328.3" r="1.9"/><circle cx="962.4" cy="1347.7" r="1.9"/><circle cx="1024.3" cy="1367.1" r="1.9"/><circle cx="1086.2" cy="1347.7" r="1.9"/><circle cx="1148.1" cy="1328.3" r="1.9"/><circle cx="1209.9" cy="1308.9" r="1.9"/><circle cx="1271.8" cy="1289.5" r="1.9"/></g>
<g font-family="'Liberation Sans',Arial,sans-serif" font-size="10.77" fill="#1a1a22"><text transform="translate(753.8 1077.7) scale(1.056 1)" text-anchor="end">78</text><text transform="translate(756.9 1120.1) scale(1.056 1)" text-anchor="end">72.25</text><text transform="translate(760.0 1162.5) scale(1.056 1)" text-anchor="end">66.5</text><text transform="translate(763.1 1204.8) scale(1.056 1)" text-anchor="end">60.75</text><text transform="translate(766.2 1247.2) scale(1.056 1)" text-anchor="end">55</text><text transform="translate(769.9 1300.0) scale(1.056 1)" text-anchor="end">1.00</text><text transform="translate(831.8 1319.4) scale(1.056 1)" text-anchor="end">0.50</text><text transform="translate(893.7 1338.8) scale(1.056 1)" text-anchor="end">0.00</text><text transform="translate(955.5 1358.2) scale(1.056 1)" text-anchor="end">-0.50</text><text transform="translate(1017.4 1377.6) scale(1.056 1)" text-anchor="end">-1.00</text><text transform="translate(1031.6 1377.6) scale(1.056 1)">-1.00</text><text transform="translate(1093.5 1358.2) scale(1.056 1)">-0.50</text><text transform="translate(1155.4 1338.8) scale(1.056 1)">0.00</text><text transform="translate(1217.2 1319.4) scale(1.056 1)">0.50</text><text transform="translate(1279.1 1300.0) scale(1.056 1)">1.00</text></g>
<g font-family="'Liberation Sans',Arial,sans-serif" font-size="16.56" fill="#111"><text transform="translate(789.3 1365.1) scale(1.056 1)">C: C</text><text transform="translate(1225.1 1365.1) scale(1.056 1)">A: A</text></g>
<text transform="translate(696.7 1193.6) scale(0.991 1)" font-family="'Liberation Serif','Times New Roman',serif" font-weight="bold" font-size="18.57" fill="#000">Y2</text>
<ellipse cx="768.2" cy="1171.4" rx="4.9" ry="3.1" fill="#f80d0d" stroke="#8c1010" stroke-width="0.9"/>
<ellipse cx="1280.9" cy="1163.9" rx="5.1" ry="2.9" fill="#ffc6c8" stroke="#a04848" stroke-width="0.9"/><path d="M1280.9 1162.5v2.9" stroke="#b05050" stroke-width="0.9"/>
<path d="M1024.3 1290.0L1024.3 1261.4" stroke="#222" stroke-width="0.9"/>
<ellipse cx="1024.3" cy="1290.0" rx="5.1" ry="2.9" fill="#ffc6c8" stroke="#a04848" stroke-width="0.9"/><path d="M1024.3 1288.6v2.9" stroke="#b05050" stroke-width="0.9"/>
<path d="M1024.3 1068.2L1024.3 1078.4" stroke="#222" stroke-width="0.9"/>
<ellipse cx="1024.3" cy="1068.2" rx="4.9" ry="3.1" fill="#f80d0d" stroke="#8c1010" stroke-width="0.9"/>
</g>
<g>
<path d="M1468.2 1293.2l250 80.9 250-80.9-250-63.7z" fill="#ffff1c" stroke="#111" stroke-width="1"/>
<path d="M1786 1246.8l-14.3-2.4-16.2-1.8-16-1-18.4-0.4-18.5 0.4-16.4 0.9-16.8 1.6-18.5 2.6M1596.8 1260.5l-5.8 2.3-6.5 3.1-5.4 2.9-4 2.5-4.2 3.2-3 2.7-2.6 3-2 3-1.3 3.4-0.4 2.7 0.2 3.1 0.9 3 1.8 3 2.3 2.8 3 2.6 3.5 2.5 4.1 2.4 4.6 2.2 5.2 2.2 5.8 1.9 13.2 3.6 15.6 3 15.7 2.1 18.2 1.4 21 0.6 19.3-0.3 19.1-1.2 19.5-2 19.4-3 17.2-3.5 15.2-4 14.8-4.9 6.5-2.6 6-2.7 5.3-2.9 4-2.4 3.9-2.8 3.4-2.9 2.5-2.6 2.5-3.5 1.4-3.1 0.7-3 0-3-0.8-3-1.5-3-2.2-2.8-2.7-2.7-3.3-2.4-3.7-2.3-5.2-2.7-4.7-2-6.4-2.3" fill="none" stroke="#ffe620" stroke-width="1.35"/>
<path d="M1625 1344l22.9 1.2 22.8 0.4 25.2-0.7 25.3-1.6 25.2-2.6 22.6-3.4 22.4-4.2 20-4.9 17.8-5.2 8.8-3.1 8.2-3.2 7.5-3.3 7-3.4 6.3-3.5 5.6-3.7 5-3.7 3.6-3.3 3.6-3.8 2.6-3.7 1.8-3.5 1.3-4.1 0.3-3.8-0.4-3.5M1509.9 1282.6l-2.1 3.4-1.3 3-0.9 3.2-0.3 2.7 0.1 3.2 0.6 2.4 1.1 3 1.5 2.8" fill="none" stroke="#d2ff30" stroke-width="1.35"/>
<path d="M1901.3 1314.9l5.8-3.6 5.4-3.8 4.8-3.8 4.1-3.9 3.6-4 2.9-4.1 2.2-4.2 1.2-3.7M1679.3 1361.5l29.9-1.3 28-2.3 27.8-3.4 27.6-4.4" fill="none" stroke="#8cff20" stroke-width="1.35"/>
<path d="M1717.2 1373.8l2.7-0.2M1962.1 1295.2l1.7-3.1" fill="none" stroke="#50f028" stroke-width="1.35"/>
<path d="M1468.2 1293.2l-16.4-232.1 266.4-41.2 266.4 41.2-16.4 232.1M1718.2 1019.9l0 209.6" fill="none" stroke="#2a2a2a" stroke-width="1.1"/>

<path d="M1718.2 1294.1l16.9-16 16.7-14.5 16.5-12.9 17.4-12.1 16-9.7 16.9-8.6 16.7-6.9 16.3-5.2 16-3.5 15.6-1.9 15.3-0.3 16 1.4 14.5 2.8 15.1 4.7 14.7 6.2 14.2 7.8-13.1-19.2-13.2-18-13.2-16.6-13.2-15.3-13.2-13.9-13.2-12.5-13.1-11.2-14.2-10.6-14.1-9-17.1-9.2-17.2-8.1-16.8-6.6-16.6-5.6-18.4-4.8-17.1-3.3-17.7-2.2-16.9-1-17.7 0.1-17.7 1.3-17.8 2.6-17.6 3.7-17.5 4.8-17.4 6-17.2 7-18.3 8.8-17 9.3-17.2 10.5-17.9 12.2-15.8 12.2-14.7 12.5-15.9 14.9-14.8 15.1 7-5 7.3-4.4 7.3-4 7.5-3.3 7.6-2.9 7.7-2.2 7.8-1.7 6.9-0.9 8.1-0.6 8.1 0 8.3 0.7 7.3 1.1 8.4 1.8 7.5 2.2 8.7 3 7.6 3.2 16.6 8.5 16.9 10.9 17.2 13.3 16.3 14.5 17.6 17.9 16.6 18.8 16.8 20.9z" fill="#37f206"/>
<path d="M1717.5 1291.9l3.1-0.2 16.9-15.8 16.6-14.3 16.5-12.6 17.4-11.9 14.9-8.8 15.7-8 14.5-6.1 15.2-5.1 14-3.5 14.7-2.3 14.4-0.9 14.1 0.5 15.8 2.1 15.3 3.9 14.9 5.4 15.1 7.4 1.9-3-13-18.7-13.2-17.5-13.2-16.2-13.2-14.8-13.2-13.4-13.1-12.1-13.2-10.7-13.1-9.4-13.4-8.3-18.7-9.8-16.7-7.5-17.7-6.8-17.5-5.4-16.6-4.1-16.5-3-18.2-2-16.3-0.8-18 0.4-17.3 1.5-16.6 2.5-17.7 3.8-17.5 4.9-17.3 6.1-17.2 7.2-17 8.2-18.5 10.2-16.6 10.3-17.7 12.2-15.8 12.2-14.8 12.6-14.7 13.9-14.8 15.1 7-5 7.3-4.4 7.3-4 7.5-3.3 7.6-2.9 7.7-2.2 7.8-1.7 6.9-0.9 8.1-0.6 7.1 0 8.2 0.6 7.3 1 8.5 1.8 7.5 2 8.6 3 7.6 3.1 16.6 8.4 15.8 9.9 17.1 13 16.2 14.2 16.5 16.3 15.4 17 17.9 21.9 19 25.5z" fill="#46f306"/>
<path d="M1726.7 1283l3.3-0.3 15.8-14.1 15.4-12.6 15.2-11.2 15.1-9.8 13.6-7.9 13.5-6.8 13.4-5.7 14.2-4.9 12.9-3.4 12.7-2.3 12.5-1.3 12.2-0.3 16 1.2 16.5 3.1 15.1 4.7 15.5 6.7 4.3-6.2-12.8-17.9-13.2-17-12.1-14.5-13.2-14.5-13.2-13.1-13.1-11.7-13.2-10.4-13-9-15.8-9.3-16.8-8.4-16.7-7.4-16.7-6.1-18.4-5.5-16.7-3.9-17-2.8-17.3-1.7-17.5-0.5-17.1 0.6-16.3 1.6-17.6 2.8-16.7 3.9-16.6 4.8-17.3 6.2-17.2 7.2-17 8.3-16.8 9.4-16.6 10.3-17.7 12.2-15.8 12.2-14.8 12.6-14.7 13.9-14.8 15.1 13.4-8.9 13.8-7 7.6-3 6.7-2.1 7.7-1.9 6.9-1.2 8-0.8 7.1-0.2 14.5 1.1 14.7 2.9 15.1 4.9 16.4 7.5 16.8 9.8 17.1 12.1 16.1 13.5 17.5 16.7 16.6 17.8 17.9 21.4 16.9 22.1z" fill="#55f306"/>
<path d="M1736.6 1273.9l3.5-0.3 14-12 14.2-10.9 13.9-9.8 13.8-8.7 12.5-6.9 12.4-6 12.2-5.1 12-4.1 14-3.8 13.7-2.5 13.5-1.2 13.2-0.1 13 1.1 13.6 2.4 13.3 3.8 12.6 4.7 4.1-4.7 3-4.8-12.4-16.8-13.2-16.6-12.1-14.1-13.2-14-12.1-11.6-13.1-11.4-13.1-10.1-13.1-8.7-16.3-9.2-16.7-8.2-16.8-7-17.2-6.1-17.9-5.1-16.5-3.6-16.5-2.5-18.2-1.5-16.3-0.3-16.1 0.7-17.1 1.8-16.8 2.9-17.5 4.2-16.3 4.9-16.8 6.1-17.1 7.3-17 8.4-16.8 9.5-16.6 10.4-17.1 11.9-14.7 11.4-14.8 12.6-14.7 13.9-14.8 15.1 13.4-8.9 12.9-6.6 13.2-5 13.7-3.1 14-1.4 14.3 0.5 14.7 2.4 13.9 3.9 16.3 6.7 16.7 9 16.9 11.4 16.1 12.7 17.5 16 16.5 17 17.8 20.6 16.9 21.5z" fill="#65f405"/>
<path d="M1747.3 1264.6l3.7-0.4 12.6-10 12.8-9.4 11.6-7.7 12.6-7.5 10.2-5.5 11.2-5.3 10-4.2 10.9-3.9 13-3.6 12.7-2.6 12.6-1.6 13.3-0.5 12 0.5 12.8 1.7 12.6 2.9 11.6 3.7 6.5-6.5 4.2-6.5-13-17.1-12.1-14.8-12.1-13.6-13.2-13.6-12.1-11.2-13.1-10.9-12-8.9-13-8.4-16.8-9.1-16.7-7.9-16.8-6.8-16.6-5.7-18.1-4.9-16.8-3.4-17.1-2.3-17.4-1.2-16.5-0.1-16.6 0.9-17.3 2.2-16 2.9-16.8 4.2-16.3 5.1-16.4 6.1-16.7 7.3-16.7 8.4-16.8 9.5-16.6 10.6-16.6 11.6-14.7 11.5-14.7 12.7-14.8 14-13.6 14 12.5-8.4 11.9-6.3 13.2-5.2 12.6-3.2 13.9-1.8 13.3 0 13.5 1.7 13.8 3.3 8.6 2.9 7.6 3 16.6 8.3 16.9 10.5 15.9 12 17.4 15.2 16.5 16.3 16.6 18.4 17.8 21.9 24.6-1.4z" fill="#74f405"/>
<path d="M1759.1 1255l4-0.4 21.4-15.2 10.4-6.5 11.4-6.4 16.8-8.2 17.6-6.8 12-3.6 11.7-2.7 11.6-1.8 12.4-0.9 11.1 0 12 1 11.7 1.9 10.7 2.6 5.2-4 4.4-4.3 3.4-4.3 2.2-4.1-12.3-15.7-12.1-14.3-12.1-13.3-13.2-13.1-12-10.8-12.1-9.7-12-8.5-13-8-17.2-9.1-16.8-7.7-16.7-6.6-16.6-5.4-16.8-4.3-16.9-3.3-17.1-2.2-17.5-1-15.7 0-17.4 1.2-16.5 2.1-15.9 3.1-15.8 4-17.5 5.5-15.5 5.9-17.1 7.6-17 8.6-15.5 8.9-16.2 10.3-16.6 11.6-14.7 11.5-14.7 12.7-14.8 14-13.6 14 11.5-7.8 12-6.5 12.2-4.9 12.6-3.5 12.8-1.9 12.2-0.4 13.4 1.1 12.6 2.5 8.6 2.5 7.6 2.7 16.4 7.5 16.8 9.8 15.9 11.2 17.3 14.4 16.4 15.5 16.5 17.7 17.4 20.6 34-1.9z" fill="#83f504"/>
<path d="M1772.4 1245.1l4.4-0.5 11.2-7.5 10.3-6.2 10.2-5.6 10.1-5 16.7-6.9 17.4-5.5 18-3.8 8.4-1 9.3-0.6 8.1-0.1 9 0.5 9 1 8.1 1.4 7.5-4.9 6.2-5.3 4.7-5.4 2.8-5.3-12.5-15.5-12.1-13.8-12.1-12.7-13.2-12.5-12-10.3-13.1-10-12-7.9-12.5-7.2-16.8-8.4-16.7-7.4-16.7-6.1-16.7-5.1-16.5-3.9-16.5-2.8-17.2-1.9-17.3-0.7-16.2 0.4-16.2 1.3-16 2.4-15.9 3.2-15.7 4.2-15.7 5.2-15.6 6-17 7.6-16.6 8.6-15.4 8.9-16.6 10.6-16.1 11.4-14.7 11.5-13.6 11.8-14.8 14-13.6 14 11.5-7.8 11-6 11.3-4.8 11.5-3.4 11.8-2.2 12.1-0.9 12.3 0.6 12.6 1.9 8.4 2.1 7.6 2.3 16.3 6.7 16.7 9 15.8 10.6 17.2 13.5 16.3 14.8 16.5 16.9 16.6 19 44.1-2.3z" fill="#93f604"/>
<path d="M1788.1 1234.6l5.1-0.7 17.6-9.8 16.8-7.7 12.1-4.6 13-3.9 13.8-3.1 14.7-1.9 14.3-0.5 13.2 0.7 11.2-6.2 9-6.5 6.1-6.5 2-3.2 1.3-3.2-10.3-12.4-9.9-11.2-9.9-10.4-11-10.6-9.8-8.8-9.9-8-9.8-7.2-10.9-7.2-12.5-7.2-13.1-6.7-13-6-13-5.2-13-4.6-14.1-4.3-13.5-3.3-12.9-2.5-18.2-2.5-18.8-1.1-19.3 0.2-17.9 1.4-19.4 3-18.6 4.2-18.9 5.6-18.5 6.7-20.2 9-18.9 9.8-18.4 10.8-19.8 13.2-16.9 12.7-15.9 13.4-15.9 14.8-15.9 16.2 10.6-7.3 11-6.1 11.3-4.8 10.5-3.4 11.8-2.3 11-1.1 12.2 0.2 11.4 1.4 8.5 1.8 7.5 2 15.1 5.6 16.6 8.3 15.7 9.8 16 11.8 16.2 13.9 16.4 16 16.7 18.2 27.7-1 28.5-1.8 26.1-2.5z" fill="#a2f603"/>
<path d="M1808.5 1223l7.1-1.3 18.6-7.9 17.4-5.6 9.6-2.3 9.5-1.8 9.4-1.1 8.7-0.5 6.9-2.8 14.6-7 6.3-3.9 4.9-3.5 4.2-3.8 3.3-3.7 2.2-3.7 1.4-3.6-10.1-11.7-9.9-10.8-9.9-9.9-11-10.2-9.8-8.3-9.8-7.6-9.9-6.8-10.8-6.7-13.8-7.5-13.4-6.5-13.6-5.8-13.8-5.2-14-4.4-14.2-3.8-14.4-3-13.5-2-18.2-1.7-17.9-0.4-17.8 0.8-18.2 2.1-17.7 3.2-17.5 4.4-18.3 5.8-18.1 7.1-18.8 8.6-18.6 9.9-18.3 11-17.6 11.9-15.8 11.9-15.9 13.4-15.9 14.8-15.9 16.2 10.6-7.3 10.1-5.6 10.3-4.6 10.5-3.5 10.7-2.5 10.9-1.3 11.2-0.2 10.3 0.8 8.4 1.4 7.4 1.7 15.1 4.9 15.3 6.9 15.6 8.9 15.9 11 16.1 13 16.3 15.1 16.3 17 36.3-1.2 35.6-2.5 33.2-3.5z" fill="#b1f703"/>
<path d="M1834.9 1209.3l19.3-4.7 17.8-5.2 14.7-5.3 13.3-5.9 10.9-6.1 8-6.2 3-3.1 2.4-3.3 1.5-3.1 0.9-2.9-10.8-12-9.9-10.2-9.9-9.4-10.9-9.6-9.9-7.9-10.9-7.8-10.8-6.9-11.2-6.2-13.7-6.9-13.5-6-13.8-5.4-13.9-4.7-14.1-4-14.4-3.3-12.8-2.2-14.6-1.7-16.9-1-17.5 0.1-16.1 1.1-17.8 2.4-17.7 3.6-17.5 4.8-17.4 5.8-17.2 6.9-17.2 8.1-18.4 9.9-18.3 11.2-18.2 12.4-16.9 13.1-17 14.7-20.5 19.7-1.1 3.1 11.3-6.9 11.1-5.3 12.4-4.4 11.7-2.8 11.9-1.4 12.2 0 12.5 1.3 11.6 2.5 12.9 4.1 12 5 13.3 6.9 12.4 7.6 13.6 9.8 12.7 10.3 12.8 11.6 13.1 13.1 22.5-0.4 22.8-0.9 22.2-1.4 21.7-1.9 21.1-2.4 20.9-2.9 20.6-3.4z" fill="#c1f702"/>
<path d="M1840 1199.4l17.2-4.5 16-5 13.8-5.3 11.1-5.2 9.1-5.5 7.2-6.1 4.3-5.8 1.1-2.7 0.6-2.9-10-10.6-11-10.9-9.8-8.9-11-9-9.8-7.4-9.8-6.5-9.1-5.5-13.1-7-13-6.3-13.2-5.6-13.8-5.2-14-4.4-14.2-3.8-13.2-2.8-13.4-2.1-14-1.4-16.3-0.8-17.2 0.3-17 1.4-16.8 2.5-16.8 3.6-17.5 4.8-16.8 5.7-16.5 6.7-18.3 8.7-18.3 10-18.5 11.4-17.7 12.2-20.4 15.9-20.4 18.4-5.1 4.9-1.4 3.2-0.7 3.2 10.4-5.6 10.4-4.4 10.5-3.4 10.8-2.2 11-1.1 11.1 0 11.4 1.2 11.6 2.3 11.8 3.6 12 4.8 12.2 6 11.1 6.6 12.5 8.5 11.4 8.7 12.8 10.9 11.6 11 24.6-0.1 24.8-0.9 24.4-1.4 24.5-2.1 23.9-2.8 21.8-3.2 21.1-3.7z" fill="#d0f802"/>
<path d="M1826.5 1193.8l19.2-4.6 17.7-5.1 15.3-5.4 12.1-5.5 9.8-5.8 7.4-6 2.5-3 1.8-3.1 1.1-2.9 0.4-3.1-10-10.2-9.9-9.2-9.8-8.5-9.9-7.8-8.7-6.2-9.8-6.4-11.4-6.5-11.2-5.8-13-6-13.1-5.4-12.9-4.7-13-4-12.9-3.4-12.8-2.7-12.8-2-12.8-1.4-16.3-0.9-16.5 0.2-17.7 1.3-16 2.2-15.9 3.2-17.5 4.6-15.7 5.2-17.2 6.7-17.9 8.1-17.8 9.4-18.4 11-18.1 12.1-20.3 15.5-20.4 17.8-2 1.8-1.1 1.9-1 2.6-0.6 2.5 0.1 2.8 10.7-4.9 10.5-3.6 11.7-2.8 10.9-1.3 10.2-0.2 9.2 0.6 9.4 1.4 9.6 2.2 10.7 3.4 9.8 3.9 11 5.3 10.1 5.7 11.3 7.3 10.2 7.5 10.4 8.3 10.6 9.4 22.8 0.2 23.5-0.5 24.1-1.1 23.7-1.7 23.4-2.3 22.8-3 20.7-3.3z" fill="#dff901"/>
<path d="M1818.1 1186.8l20-4.5 18-5 15.5-5.3 13-5.7 10.3-6 3.8-2.9 3.3-3.2 2.3-3 1.6-3 0.9-3 0-3.1-9.6-9.2-9.8-8.8-8.8-7.1-9.8-7.4-17.4-11.1-11.6-6.4-12.3-6-12.3-5.5-11.9-4.7-11.1-3.9-12.9-3.9-12.9-3.3-12.2-2.5-12.2-1.9-12.2-1.3-16.3-0.9-16.3 0.2-15.6 1.1-15.6 2-15.9 3-16.7 4.2-15.7 4.9-16.3 6.1-18.1 8-17 8.6-18.4 10.7-17.3 11.2-20.5 15-19.8 16.6-2.5 4.3-1 4 0.1 2.6 0.7 2.6 9.3-3.6 8.6-2.4 9.9-1.9 8.9-1 10.2-0.1 9.3 0.7 9.4 1.5 9.5 2.3 9.7 3.1 8.7 3.4 8.8 4.1 8.9 4.8 9 5.4 9 6.1 9.2 6.8 9.7 7.9 23 0.5 24.6-0.2 23.6-0.9 24-1.4 22.8-2.1 21.9-2.5 22.7-3.4z" fill="#eff901"/>
<path d="M1812.2 1179.2l20.1-4.4 18.1-4.9 15.5-5.3 13.5-5.9 10-6 6.3-5.7 2.1-2.9 1.4-3.1 0.5-3.2-0.3-2.9-17.5-15.3-8.8-6.8-9.8-6.9-8.7-5.5-10.3-5.9-22.4-11-22.8-9.2-11.6-3.8-11.8-3.4-22.2-4.9-11.5-1.8-12.2-1.3-15.1-0.8-15.7 0-16.1 1.1-16 2-14.2 2.6-15.9 3.8-15.7 4.7-15.5 5.6-17.2 7.2-17.7 8.7-17.1 9.5-17.3 10.9-19.4 13.6-17.9 14.2-3.3 4.8-1.3 4.5 0.5 4.2 2.1 4 8.5-2.4 7.9-1.6 8.9-1.1 8.1-0.4 9.2 0.4 8.3 1 9.5 1.8 8.6 2.3 14 5.2 14.3 6.8 14.6 8.7 15.4 10.8 23.3 0.9 23.5 0.1 25.5-0.5 24-1.2 24.7-1.9 22.4-2.4 23.2-3.2z" fill="#fefa00"/>
<path d="M1808.6 1171.1l21-4.6 17.7-4.9 15-5.2 12.3-5.6 9-5.7 3.2-2.8 2.7-3.1 1.7-2.8 0.9-3.1 0-2.9-0.8-2.9-17.1-13.9-17.4-11.9-20-11.1-20.5-9.5-21.8-8.4-21.1-6.2-21.7-4.6-21.9-2.8-15.1-0.8-15.7 0-14.8 0.9-15.6 1.9-15.8 2.8-14.2 3.4-15.3 4.5-14.3 5-17.2 7-17 8.1-16.9 9.1-15.7 9.6-18.5 12.4-15.3 11.5-2.5 2.7-1.8 2.5-1.2 2.4-0.5 2.7 0.1 2.9 1.2 3.2 1.9 2.8 2.9 2.9 12.8-1.9 12.2-0.4 12.4 1 12.6 2.4 12.8 3.8 13.1 5.3 13.3 6.8 13 7.9 23.1 1.4 25.4 0.7 26.8-0.2 25.4-1 26.6-1.8 24.6-2.5 23.3-3.1z" fill="#ffea00"/>
<path d="M1808 1162.3l18.5-4.1 16.5-4.6 14.6-5.2 11.3-5.3 8.2-5.4 2.9-2.7 2.3-2.9 1.4-2.7 0.6-3-0.2-2.8-1-2.6-0.6-0.9-1.7-1.4-10.9-8.3-17.4-11.3-21.3-11.3-20.6-9.1-20.2-7.3-20.3-5.7-20.8-4.2-21.3-2.5-14.5-0.8-14.5 0.1-14.3 0.9-14.3 1.6-14.2 2.4-14.1 3.2-14 3.9-15.7 5.2-16.5 6.5-16.8 7.7-16.1 8.5-16.8 9.8-15.6 10.2-13.3 9.6-2.8 2.6-2 2.7-1.3 2.7-0.6 2.6 0.7 4.1 2.6 4.2 4.4 4 6.2 3.7 8-0.1 7.1 0.3 14.7 2.1 9.5 2.4 9.7 3.2 9.8 4 9.4 4.6 18.4 1.8 23.8 1.5 25.1 0.6 26.2-0.1 25.9-1 26.9-1.8 24.3-2.5 24.2-3.4z" fill="#ffd800"/>
<path d="M1796.8 1155.5l19-3.9 17.1-4.4 14.5-4.8 11.8-5.1 9-5.5 3.1-2.6 2.3-2.6 1.6-2.6 0.8-2.9-0.1-2.8-0.9-2.5-2.1-3.2-1.9-1.4-9.8-6.7-10.9-6.6-21.6-11.3-21.7-9.3-19.5-6.8-18.9-5.2-19.3-3.8-19.5-2.4-14.5-0.8-13.2-0.1-13.8 0.7-14.5 1.5-14 2.2-14.2 2.9-14 3.7-13.9 4.4-16.3 6.1-16.4 7.2-15.3 7.6-16.1 9-15.6 9.8-11.9 8.1-2.9 2.7-2 2.5-1.2 2.4-0.6 2.6 0.2 2.8 1 2.8 2 2.6 2.6 2.5 3.4 2.4 4.8 2.6 10.4 4.2 14.1 4.1 16 3.3 18.9 2.9 20.2 2.1 21.5 1.4 23 0.7 23.6 0.1 24.9-0.8 23.9-1.4 23.1-2.1 22.2-2.8z" fill="#ffc600"/>
<path d="M1789.7 1147.8l19.3-3.8 16.2-4.1 13.8-4.4 11.4-4.7 8.8-5.1 3.3-2.7 2.4-2.5 1.6-2.7 0.8-2.5-0.1-2.7-0.8-2.5-2.6-3.4-3.7-2.9-12.1-7.2-14.9-7.8-11.2-5.3-13-5.5-12.1-4.5-11.6-3.8-22.5-5.7-22-3.7-21.8-1.9-11.7-0.2-11.8 0.3-11.2 0.7-12 1.4-23 4.1-22.8 6.1-22.6 8-13.7 5.8-13.8 6.5-14.1 7.5-14.3 8.4-10.3 6.5-4.3 3.4-3.5 4.2-1.2 3.9 0.1 2.5 1 2.5 1.6 2.4 2.7 2.5 6.8 4.3 10.2 4.2 13 3.7 14.5 3.1 17.1 2.7 19.8 2.1 21.1 1.5 22.2 0.7 23.3 0 21.4-0.5 21.9-1.3 23.2-2 20.8-2.4z" fill="#ffb500"/>
<path d="M1785.9 1139.4l17-3.4 15.2-3.7 13.8-4.3 10.5-4.4 7.8-4.5 3.3-2.5 2.2-2.3 1.4-2.3 0.8-2.3 0.1-2.3-0.7-2.5-2.5-3.5-4.2-3.3-21.2-11.2-12-5.4-11.4-4.6-11.5-4.2-11.7-3.6-21.4-5.4-21.8-3.6-20.7-1.7-21.9 0-21.2 1.7-23 3.8-21.4 5.4-22.4 7.5-13.8 5.5-13.6 6.2-13.6 6.9-13.4 7.6-7.9 4.8-4.2 3.3-3 3.6-1.2 3.7 0.2 2.4 0.9 2.3 1.6 2.2 2.2 2.1 6.8 4.2 9.5 3.8 11.9 3.5 14.6 3 17.1 2.6 18.5 1.9 19.4 1.3 20.2 0.6 21.1 0.1 22.7-0.7 22-1.2 21.2-1.9 20.4-2.5z" fill="#ffa300"/>
<path d="M1788.4 1129.7l14.3-3.1 13.3-3.5 11.2-3.9 8.6-3.8 6.6-4.1 4-4.1 1.2-2.1 0.5-1.9-0.1-2.2-0.7-2-2.6-3.3-4-3-18.8-9.2-22.3-9-22.2-7-20.2-4.6-20.1-3.1-20-1.5-20.1 0.1-20.6 1.7-21 3.3-20.3 4.8-20.9 6.7-13.8 5.2-12.9 5.6-12.7 6.2-13.5 7.2-5.3 3.1-3.9 3.3-2.4 3.1-1 3.1 0.1 2.3 1 2.3 1.7 2.1 2.3 2.1 6.6 3.8 9.7 3.7 12.5 3.3 13.8 2.7 16.3 2.2 17.3 1.6 19.6 1.1 19.1 0.5 21.5-0.1 20.1-0.7 19.5-1.3 20.7-2 19.5-2.5z" fill="#ff9200"/>
<path d="M1783.7 1121.1l12.9-2.8 12.1-3.3 10.3-3.5 7.7-3.5 5.5-3.5 3.8-3.8 1-2 0.4-1.8-0.1-1.7-0.8-1.9-2.3-2.9-3.7-2.7-15.3-7.1-21.1-8-22.2-6.5-18.4-3.9-18.8-2.6-19.4-1.3-18.3 0.1-19.5 1.5-19.5 3-19.4 4.4-20.8 6.3-12.2 4.5-12.1 4.9-23.6 11.5-4.2 2.6-3.3 2.9-1.9 2.6-0.7 2.5 0.2 2.1 0.9 2.1 1.5 1.8 2.3 2 6.7 3.7 9.2 3.4 11.7 2.9 12.8 2.4 15 2 17.5 1.5 18.3 1 19 0.3 19.7-0.2 18.3-0.7 18.9-1.3 18.5-1.9 17.8-2.4z" fill="#ff8000"/>
<path d="M1770.4 1113.9l13.3-2.6 11.8-2.8 10.1-3.2 8.3-3.3 6.3-3.6 3.7-3.4 1.1-1.7 0.6-1.8 0-1.9-0.5-1.6-2-2.5-2.9-2.3-3.8-2.1-5.8-2.4-20.8-7.5-21.6-6-18.3-3.6-17.7-2.3-17.5-1-17.7 0.1-18 1.4-19.2 2.8-17.7 3.8-18.8 5.4-21.2 7.6-20.3 9.1-4.1 2.4-3.1 2.6-1.9 2.5-0.7 2.4 0.1 1.7 0.7 1.7 3.3 3.4 5.3 3.2 8 3 10.2 2.8 11.2 2.1 13.2 1.9 15.3 1.5 15.8 0.9 16.1 0.4 34.9-0.5 33-2.4 15.8-1.8z" fill="#ff6e00"/>
<path d="M1756.9 1106.3l13.8-2.4 11.4-2.5 9.7-2.7 8.2-3 6.4-3.2 4.1-3.2 2-3.1 0.2-1.6-0.4-1.6-1.4-2.2-2.3-2-7.5-3.7-18.3-6-20.1-5.1-16.5-3-16.4-1.9-16.3-0.9-16.3 0.2-16.1 1.1-17.8 2.4-15.9 3.2-17.5 4.6-17.5 5.8-17 6.8-4 2.2-3.1 2.3-1.9 2.3-0.9 2.4 0.7 3 2.4 2.7 4.5 2.8 6.2 2.5 7.8 2.3 9.5 2 11.2 1.8 13 1.4 28.4 1.5 30.6-0.2 29.9-1.8z" fill="#ff5d00"/>
<path d="M1756.2 1096.3l19.5-4.3 7.4-2.3 5.9-2.4 4.4-2.4 3-2.6 1.3-2.4-0.3-2.7-1.4-1.9-2.1-1.7-7-3.2-15-4.3-15.3-3.3-14.6-2.4-14.8-1.5-15-0.7-15 0.2-15.6 1.1-15.6 2-15.1 2.8-15.8 3.9-15.6 4.8-10.5 4-3.3 1.9-2.6 2-1.7 2.1-0.6 2 0.8 2.6 2.7 2.6 4.4 2.4 6 2.1 7.4 2 8.9 1.6 22.5 2.5 24.1 1.1 27-0.4 26.6-1.9z" fill="#ff4b00"/>
<path d="M1739.1 1088.2l18.2-3.3 7.2-1.9 6.1-2 4.7-2.3 3-2.2 1.5-2.1 0-2.4-0.9-1.4-1.9-1.6-6-2.7-8.3-2.3-12.8-2.4-12.8-1.8-12.7-1.1-12.7-0.5-14.5 0.2-13 0.8-13.8 1.6-14.2 2.4-14.1 3.2-9.7 2.7-6.9 2.7-4.8 3.2-1.2 1.5-0.5 1.5 0.5 1.9 1.8 2 3 1.8 4.9 1.8 12.6 3 15.9 2 18.9 1 22.3 0 20.9-1.1z" fill="#ff3a00"/>
<path d="M1725.6 1078.4l14.1-2.4 9.9-2.8 3.3-1.5 2.4-1.5 1.4-1.9-0.1-1.5-1.8-2-3.4-1.7-5.6-1.6-7.1-1.3-19.1-1.8-20.6-0.1-21.1 1.6-18.2 2.9-7 1.8-5.5 2.1-3.2 2.1-1.2 2.1 0.3 1.4 1.3 1.3 5.3 2.5 8.5 2 11.7 1.5 13.6 0.8 14 0 14.2-0.7z" fill="#ff2800"/>
<path d="M1718.2 1294.1c-48.4-68.7-95.7-111.7-139.3-129.7c-43.6-18.1-83.6-11.3-118.7 14.9M1718.2 1294.1c97.1-97 185-111.9 254.8-68.7M1725.5 1287c-48.4-68.7-95.7-111.7-139.4-129.7c-43.7-18.1-83.8-11.4-119.1 14.9M1711 1284c97.1-97 185.3-111.9 255.5-68.4M1732.7 1280.3c-48.4-68.8-95.6-111.8-139.4-129.8c-43.8-18.1-84-11.4-119.5 14.8M1703.7 1274.3c97.3-97.1 185.7-111.8 256.2-68.1M1739.9 1273.8c-48.3-68.8-95.6-111.8-139.4-129.8c-43.9-18.2-84.2-11.5-119.8 14.7M1696.5 1264.9c97.3-97 186-111.7 256.8-67.9M1747 1267.6c-48.2-68.8-95.5-111.8-139.4-129.9c-43.9-18.2-84.4-11.5-120.1 14.7M1689.3 1256c97.3-97.1 186.2-111.8 257.4-67.8M1754.1 1261.6c-48.1-68.7-95.4-111.7-139.3-129.8c-44-18.2-84.6-11.7-120.5 14.5M1682.2 1247.4c97.3-97.1 186.4-111.7 257.9-67.7M1761.2 1256c-48.1-68.7-95.3-111.8-139.3-129.9c-44-18.3-84.7-11.7-120.8 14.4M1675 1239.2c97.4-97.1 186.7-111.7 258.5-67.6M1768.3 1250.7c-48.1-68.7-95.3-111.8-139.3-130c-44.1-18.3-84.9-11.8-121.1 14.2M1667.9 1231.4c97.4-97.1 186.9-111.8 259-67.6M1775.3 1245.6c-48-68.6-95.2-111.8-139.3-130c-44.1-18.3-85-11.9-121.4 14.1M1660.8 1223.9c97.4-97 187.1-111.8 259.5-67.6M1782.2 1240.9c-47.9-68.6-95.1-111.8-139.2-130.1c-44.1-18.4-85.1-12.1-121.6 13.8M1653.8 1216.9c97.3-97.1 187.2-111.9 259.9-67.7M1789.2 1236.4c-47.4-67.9-94.1-110.9-137.8-129.5c-43.8-18.8-84.6-13.3-121 11.5M1646.8 1210.2c97.3-97.1 187.3-112 260.3-67.8M1796 1232.2c-46.7-67.2-93-110-136.3-129c-43-18.9-83.2-14.6-119.3 8.5M1639.8 1203.9c97.3-97.1 187.5-112.1 260.7-67.9M1802.9 1228.3c-45.7-65.8-91-108.3-133.6-127.9c-42.7-19.7-82.7-16.6-118.8 5M1632.9 1198c97.2-97.1 187.5-112.2 261-68.1M1809.7 1224.7c-45.2-65.1-89.9-107.4-132.2-127.3c-41.8-19.8-81.2-17.8-116.8 2.1M1626 1192.5c97.1-97.1 187.6-112.3 261.4-68.4M1816.4 1221.3c-44.1-63.6-87.9-105.6-129.3-126c-41.5-20.6-80.7-19.8-116.3-1.3M1619.1 1187.4c97.1-97.2 187.7-112.5 261.7-68.7M1823.1 1218.3c-43.5-62.9-86.8-104.7-127.9-125.5c-40.6-20.6-79.1-20.8-114.2-4M1612.3 1182.6c97-97.2 187.7-112.7 261.9-69M1829.8 1215.5c-42.5-61.5-84.8-102.9-125.1-124.1c-40.3-21.4-78.5-22.7-113.6-7.3M1605.5 1178.2c96.9-97.2 187.7-112.9 262.2-69.3M1836.4 1213c-42-60.8-83.7-102-123.6-123.5c-39.4-21.3-76.9-23.6-111.5-9.7M1598.8 1174.2c96.8-97.2 187.6-113.1 262.4-69.7M1842.9 1210.7c-40.9-59.3-81.6-100-120.7-122c-39-22-76.3-25.4-110.7-12.9M1592.1 1170.6c96.7-97.3 187.6-113.3 262.5-70.2M1849.4 1208.8c-40.3-58.7-80.5-99.1-119.1-121.3c-38.2-22-74.7-26.3-108.6-15.2M1585.5 1167.3c95.5-96.3 185.7-113.2 260.4-71.9M1855.9 1207.1c-78.7-115.2-156.7-158-224-138M1578.9 1164.4c92.5-93.3 180.2-112.4 253.6-75.9M1862.3 1205.6c-77-112.9-153.7-156.5-220.2-139.2M1572.4 1161.9c89.4-90.4 174.6-111.5 246.7-79.7M1868.6 1204.5c-74.9-110.1-149.6-154.5-215.1-140.7M1566 1159.7c86.3-87.4 168.9-110.3 239.6-83M1874.9 1203.6c-73.3-107.9-146.6-153-211.2-141.7M1559.5 1157.9c83.4-84.5 163.3-109 232.5-86M1881.2 1202.9c-71.3-105-142.7-150.7-206.1-142.7M1553.2 1156.5c79.8-81.1 156.7-107.3 223.9-89M1887.3 1202.5c-69.6-102.8-139.5-149-202-143.4M1546.9 1155.4c76.8-78.1 151-105.6 216.5-91.3M1893.5 1202.4c-68.1-100.7-136.5-147.2-198-143.9M1540.7 1154.7c73.2-74.8 144.3-103.4 207.7-93.3M1899.5 1202.5c-66-97.8-132.4-144.7-192.7-144.3M1534.5 1154.3c70.2-71.8 138.6-101.3 200.1-94.7M1905.5 1202.9c-63.9-95-128.4-142.2-187.3-144.5M1528.4 1154.3c66.7-68.4 131.9-98.7 191.1-95.9M1911.5 1203.5c-62.4-92.9-125.4-140.2-183.2-144.5M1522.3 1154.6c63.3-65 125.2-95.8 182-96.4M1917.4 1204.3c-60.4-90-121.4-137.3-177.8-144.2M1516.3 1155.2c59.9-61.6 118.5-92.6 172.8-96.4M1923.2 1205.4c-58.3-87.2-117.4-134.5-172.3-143.6M1510.4 1156.2c55.9-57.7 110.9-88.7 162.2-95.7M1929 1206.7c-56.8-85-114.3-132.2-168.1-143.1M1504.6 1157.5c52.4-54.3 104.1-85.1 152.8-94.5M1934.7 1208.3c-54.8-82.2-110.3-129.2-162.6-142.1M1498.8 1159.1c49-50.9 97.4-81.3 143.3-92.7M1940.4 1210.1c-52.8-79.4-106.4-126.1-157.1-140.9M1493.1 1161.1c45.1-47 89.8-76.7 132.5-90.1M1946 1212.1c-50.8-76.6-102.5-122.9-151.5-139.4M1487.4 1163.4c41.3-43.2 82.2-71.8 121.6-86.6M1951.5 1214.3c-48.8-73.7-98.5-119.5-145.9-137.6M1481.8 1165.9c37.5-39.2 74.7-66.5 110.7-82.4M1957 1216.8c-46.9-71-94.6-116.1-140.4-135.6M1476.3 1168.8c33.6-35.3 67.1-61.1 99.7-77.5M1962.4 1219.5c-45-68.2-90.7-112.7-134.8-133.4M1470.8 1172c29.4-31 58.7-54.6 87.4-71.1M1967.7 1222.3c-42.5-64.7-85.8-108.1-127.8-130.1M1465.5 1175.5c25.6-27.1 51.1-48.6 76.3-64.7M1973 1225.4c-40.6-61.9-82-104.4-122.3-127.3M1460.2 1179.3c21.4-22.8 42.8-41.6 63.9-56.6" fill="none" stroke="#000" stroke-width="0.92" stroke-opacity="0.82"/>
<path d="M1718.2 1294.1l8.5-8.2 8.4-7.8 8.3-7.5 8.4-7 8.2-6.7 8.3-6.2 8.1-5.9 9.3-6.2 8-5 8-4.7 8-4.2 8.9-4.4 7.8-3.4 8.9-3.5 7.6-2.7 8.7-2.5 7.5-1.9 8.5-1.6 7.3-1.1 8.3-0.8 7.2-0.4 8.1 0.1 8 0.4 8 1 6.8 1.1 7.7 1.7 7.6 2.2 7.5 2.5 7.4 2.9 7.3 3.3 7.2 3.8 7 4-13.1-19.2-13.2-18-13.2-16.6-13.2-15.3-13.2-13.9-6.6-6.4-6.6-6.1-6.5-5.8-6.6-5.4-6.6-5.1-7.6-5.5-6.5-4.3-7.6-4.7-8.3-4.6-8.8-4.6-9-4.3-8.2-3.8-7.6-3.1-9.2-3.5-9.2-3.2-7.4-2.4-9.2-2.5-9.2-2.3-9.2-1.9-7.9-1.4-8.6-1.2-9.1-1-9.1-0.7-7.8-0.3-8.4-0.1-9.3 0.2-8.7 0.5-9 0.8-8.9 1.1-8.9 1.5-8.8 1.7-8.8 2-8.8 2.2-8.7 2.6-8.7 2.8-8.7 3.2-8.6 3.3-8.6 3.7-8.5 3.9-9.8 4.9-8.5 4.5-8.5 4.8-8.6 5.1-8.6 5.4-8.7 5.8-9.2 6.4-7.9 5.9-7.9 6.3-14.7 12.5-8 7.3-7.9 7.6-14.8 15.1 7-5 7.3-4.4 7.3-4 7.5-3.3 7.6-2.9 7.7-2.2 7.8-1.7 6.9-0.9 8.1-0.6 8.1 0 8.3 0.7 7.3 1.1 8.4 1.8 7.5 2.2 8.7 3 7.6 3.2 8.8 4.3 7.8 4.2 9 5.6 7.9 5.3 9.2 6.8 8 6.5 8.1 7 8.2 7.5 9.3 9.2 8.3 8.7 8.3 9.1 8.3 9.7 8.4 10.2 8.4 10.7 8.5 11.3z" fill="none" stroke="#000" stroke-width="1.0" stroke-opacity="0.88"/>
<g fill="#000"><circle cx="1451.8" cy="1061.1" r="1.9"/><circle cx="1454.9" cy="1105.3" r="1.9"/><circle cx="1458.0" cy="1149.5" r="1.9"/><circle cx="1461.2" cy="1193.7" r="1.9"/><circle cx="1464.3" cy="1237.9" r="1.9"/><circle cx="1468.2" cy="1293.2" r="1.9"/><circle cx="1530.7" cy="1313.4" r="1.9"/><circle cx="1593.2" cy="1333.7" r="1.9"/><circle cx="1655.7" cy="1353.9" r="1.9"/><circle cx="1718.2" cy="1374.1" r="1.9"/><circle cx="1780.7" cy="1353.9" r="1.9"/><circle cx="1843.2" cy="1333.7" r="1.9"/><circle cx="1905.7" cy="1313.4" r="1.9"/><circle cx="1968.2" cy="1293.2" r="1.9"/></g>
<g font-family="'Liberation Sans',Arial,sans-serif" font-size="11.24" fill="#1a1a22"><text transform="translate(1445.0 1072.3) scale(1.022 1)" text-anchor="end">78</text><text transform="translate(1448.1 1116.5) scale(1.022 1)" text-anchor="end">73.5</text><text transform="translate(1451.2 1160.7) scale(1.022 1)" text-anchor="end">69</text><text transform="translate(1454.4 1204.9) scale(1.022 1)" text-anchor="end">64.5</text><text transform="translate(1457.5 1249.1) scale(1.022 1)" text-anchor="end">60</text><text transform="translate(1461.3 1304.1) scale(1.022 1)" text-anchor="end">1.00</text><text transform="translate(1523.8 1324.4) scale(1.022 1)" text-anchor="end">0.50</text><text transform="translate(1586.3 1344.6) scale(1.022 1)" text-anchor="end">0.00</text><text transform="translate(1648.8 1364.8) scale(1.022 1)" text-anchor="end">-0.50</text><text transform="translate(1711.3 1385.1) scale(1.022 1)" text-anchor="end">-1.00</text><text transform="translate(1725.5 1385.1) scale(1.022 1)">-1.00</text><text transform="translate(1788.0 1364.8) scale(1.022 1)">-0.50</text><text transform="translate(1850.5 1344.6) scale(1.022 1)">0.00</text><text transform="translate(1913.0 1324.4) scale(1.022 1)">0.50</text><text transform="translate(1975.5 1304.1) scale(1.022 1)">1.00</text></g>
<g font-family="'Liberation Sans',Arial,sans-serif" font-size="17.27" fill="#111"><text transform="translate(1480.4 1372.6) scale(1.022 1)">D: D</text><text transform="translate(1922.0 1372.6) scale(1.022 1)">A: A</text></g>
<text transform="translate(1391.5 1190.2) scale(0.959 1)" font-family="'Liberation Serif','Times New Roman',serif" font-weight="bold" font-size="19.37" fill="#000">Y2</text>
<ellipse cx="1459.4" cy="1168.0" rx="4.9" ry="3.2" fill="#f80d0d" stroke="#8c1010" stroke-width="0.9"/>
<ellipse cx="1972.7" cy="1229.5" rx="5.1" ry="3.0" fill="#ffc6c8" stroke="#a04848" stroke-width="0.9"/><path d="M1972.7 1228.0v3.0" stroke="#b05050" stroke-width="0.9"/>
<path d="M1718.2 1305.4L1718.2 1294.1" stroke="#222" stroke-width="0.9"/>
<ellipse cx="1718.2" cy="1305.4" rx="5.1" ry="3.0" fill="#ffc6c8" stroke="#a04848" stroke-width="0.9"/><path d="M1718.2 1303.9v3.0" stroke="#b05050" stroke-width="0.9"/>
<path d="M1718.2 1063.0L1718.2 1076.3" stroke="#222" stroke-width="0.9"/>
<ellipse cx="1718.2" cy="1063.0" rx="4.9" ry="3.2" fill="#f80d0d" stroke="#8c1010" stroke-width="0.9"/>
</g>
<g>
<path d="M88.8 1750.4l250.6 86.4 250.5-86.4-250.5-68z" fill="#ffff1c" stroke="#111" stroke-width="1"/>
<path d="M436.7 1783.9l10.1-2.9 8.7-3.3 7.5-3.6 6.1-3.9 4.9-4.3 1.9-2.2 1.5-2.4 1.1-2.4 0.8-2.5 0.2-2.7-0.1-2-0.6-2.6-0.8-2.1-1.4-2.5-1.7-2.4-4.5-4.5-2.8-2.2-3.8-2.5-7.6-4-7.9-3.4-10.1-3.3-11.2-3-12.6-2.4-12.2-1.7-11.3-1-13.7-0.6-11.8 0-13 0.6-12.8 1.3-11.6 1.8-10.2 2.2-10.7 3-8 3-8.1 3.8-6.8 4.4-4.5 4.1-2 2.4-1.3 2.2-1 2.1-0.8 2.4-0.3 2.8 0.3 3.1 0.8 2.7 1.2 2.5 2.1 3 2.1 2.4 2.3 2.2 3.6 2.8 7.6 4.6 9.2 4.2 10.9 3.8 12.5 3.3 12.3 2.4 14 1.9 15.9 1.2 14.2 0.3 15.1-0.5 13-1.2 13.5-1.9 11.8-2.5" fill="none" stroke="#ff9a08" stroke-width="1.35"/>
<path d="M505.5 1779.5l3.9-3.2 3.6-3.7 2.6-3.3 2.1-3.7 1.5-4 0.6-3.4-0.1-3.8-0.6-3.4-1.4-3.7-1.9-3.5-2.4-3.3-3.5-3.8-4.1-3.6-4.6-3.3-5.1-3.2-6.3-3.4M416.8 1703.4l-18.1-1.8-17.1-0.9-16.8-0.1-16.6 0.6-15.9 1.3-15.9 2.1-14.2 2.6-14.3 3.5-12.7 4-11.2 4.7-5.5 2.8-4.2 2.4-3.8 2.5-4.3 3.3-3.1 2.8-2.6 3-2.3 3.1-1.7 3.3-1.3 3.5-0.5 2.8-0.1 3 0.3 3.2 0.9 3.3 1.2 2.7 1.9 3.2 2.3 3.2 2.8 3 3.7 3.3 4.1 3.1 4.1 2.8 9.5 5.2 11 4.8 12.6 4.4 14.4 4 16.3 3.4 16.1 2.5 15.8 1.8 16.9 1 18 0.3 16.2-0.4 17.4-1.3 15.9-2" fill="none" stroke="#ffe42c" stroke-width="1.35"/>
<path d="M550.9 1763.8l0.4-3.2 0-3.5-0.5-3-1-3.6-1.3-3.1-1.9-3.5-2.4-3.3-2.9-3.4M370.7 1690.9l-16.2 0.2-16.8 0.9-17.2 1.5-15.6 2.1-15.9 2.8-14.4 3.3-13.2 3.8-12 4.2-10.9 4.7-9.6 5.1-8.5 5.7-6.3 5.6-2.7 2.9-2.4 3.2-2 3.1-1.3 2.7-1.1 3.3-0.7 2.8-0.3 3.3 0.1 3.1 0.6 3.3 0.7 2.7 1.4 3.3 1.8 3.2 2.2 3.2 2.5 3.1 6.2 5.9 7.6 5.7 10.1 6 10.4 5.1 11.9 4.7 13.2 4.5 14.8 4 14.3 3.2 15.7 2.8 16.7 2.2 16.7 1.6 17.9 1 16.4 0.4" fill="none" stroke="#dcff2c" stroke-width="1.35"/>
<path d="M577.3 1754.7l-1.6-4.8-2-3.9M314.8 1828.3l18 2.2 19.8 1.7M343.6 1683.6l-10.8 0.6M200 1720.2l-5.1 3.8-4.5 4.1-3.8 4-3.4 4.4-2.4 4.1-1.9 4.4-1.1 4.1-0.5 4.6 0.2 4.4 1 4.5 1.8 4.8 2.1 4.1 3.1 4.3 3.6 4.3 4.1 4 4.6 3.9" fill="none" stroke="#9cff20" stroke-width="1.35"/>
<path d="M165.8 1729.5l-4.3 5.3-3.4 5.5-2.3 5.4-1.4 5.6-0.4 3.1 0 3.2 0.8 5.6 1.7 5.5 2.9 6" fill="none" stroke="#54f02a" stroke-width="1.35"/>
<path d="M88.8 1750.4l-16.4-247.8 267-43.9 266.9 43.9-16.4 247.8M339.4 1458.7l0 223.7" fill="none" stroke="#2a2a2a" stroke-width="1.1"/>

<path d="M339.4 1662.2l17.2-16.9 17.2-15.2 16.9-13.5 17.8-12.5 16.5-9.9 17.3-8.9 17-6.9 16.7-5.1 16.3-3.3 16.1-1.6 15.6 0.2 16.3 2 14.9 3.6 15.4 5.6 15 7.2 14.6 8.9-14-12.5-15.1-12.3-15-11.1-15-9.9-16.8-9.9-16.5-8.5-17.7-8.1-17.1-6.6-17-5.6-17.2-4.5-17-3.4-16-2.2-16.7-1.3-16-0.3-17.5 0.7-16.4 1.7-17.2 2.8-17.2 4-16.9 4.9-16.7 5.9-16.8 7-17.5 8.4-16 8.8-17.3 10.5-15.8 10.6-16.6 12.3-15.4 12.4-14.4 12.7-14.5 14-14.6 15.3-14.5 16.5-14.6 17.8 14.1-12 14.5-10.6 15-9 15.5-7.6 15.8-5.9 15.3-4.1 15.7-2.5 16.1-1 16.4 0.6 15.6 2.1 17.1 3.8 16.2 5.2 17.7 7.2 16.8 8.4 17.1 10z" fill="#009df6"/>
<path d="M339.4 1662.2l17.2-16.9 17.2-15.2 16.9-13.5 17.8-12.5 16.5-9.9 17.3-8.9 17-6.9 16.7-5.1 16.3-3.3 16.1-1.6 15.6 0.2 16.3 2 14.9 3.6 15.4 5.6 15 7.2 14.6 8.9-14-12.5-15.1-12.3-15-11.1-15-9.9-16.8-9.9-16.3-8.4-16.4-7.6-16.7-6.6-17-5.6-17-4.6-16.7-3.5-16.5-2.4-16.3-1.4-17.5-0.4-16.2 0.6-16.4 1.5-16.6 2.6-16.8 3.7-16.9 4.7-17.1 5.9-17.1 6.9-16.1 7.6-17 9.1-16.5 9.8-17.1 11.4-15.9 11.5-17.3 13.7-14.4 12.7-16.7 16.1-15.7 16.6-21 24.5-1.1 3.1 13.8-11.1 14.6-10.2 15.2-8.6 14.6-6.6 15-5.3 15.4-3.7 15.7-2.3 15-0.6 16.5 0.8 15.7 2.3 16 3.7 16.2 5.3 16.5 6.8 16.8 8.4 17.1 10z" fill="#00b8f4"/>
<path d="M339.4 1662.2l17.2-16.9 17.2-15.2 16.9-13.5 17.8-12.5 16.5-9.9 17.3-8.9 17-6.9 16.7-5.1 16.3-3.3 16.1-1.6 15.6 0.2 16.3 2 14.9 3.6 15.4 5.6 15 7.2 14.6 8.9-14-12.5-15.1-12.3-15-11.1-15-9.9-16.8-9.9-16.3-8.4-16.4-7.6-16.4-6.5-15.4-5.1-17.1-4.8-16.1-3.4-16.9-2.7-17.8-1.6-16-0.5-16.4 0.5-16.2 1.5-16.5 2.5-16.8 3.5-16.9 4.6-17.1 5.7-17.1 6.9-16.2 7.4-16.8 8.9-16.7 9.8-17.3 11.3-17 12.3-16.9 13.3-15.5 13.6-19 18.4-17.9 19.3-10.5 12.2-2 6.1 14.1-10.8 13.9-9 14.3-7.7 14.7-6.3 15.1-4.8 14.5-3.2 15.8-1.9 15.1-0.4 15.4 1 15.7 2.5 16.1 4 16.3 5.5 16.5 7 15.6 8 17.1 10.1z" fill="#00d3f2"/>
<path d="M339.4 1662.2l17.2-16.9 17.2-15.2 16.9-13.5 17.8-12.5 16.5-9.9 17.3-8.9 17-6.9 16.7-5.1 16.3-3.3 16.1-1.6 15.6 0.2 16.3 2 14.9 3.6 15.4 5.6 15 7.2 14.6 8.9-14-12.5-15.1-12.3-13.9-10.3-14.9-10-16.2-9.6-16.2-8.5-16.5-7.7-16.7-6.7-16.3-5.6-15.8-4.4-15.6-3.5-17.3-2.8-17.8-1.8-16-0.5-16.2 0.3-16.3 1.3-16.5 2.4-16.8 3.4-16.8 4.4-17.1 5.6-17.3 6.8-16.2 7.4-16.6 8.5-17 9.9-18.8 12.2-17.4 12.6-16.9 13.3-15.5 13.6-20.1 19.6-21 22.9-1.8 4.5-1.2 4.7 13.4-9.7 14.1-8.5 14.4-7.2 13.8-5.5 14.2-4.2 14.5-2.9 14.8-1.6 15.2-0.1 15.4 1.2 15.8 2.7 16.1 4.2 15.1 5.2 16.6 7.2 15.7 8 15.8 9.5z" fill="#00eef0"/>
<path d="M339.4 1662.2l17.2-16.9 17.2-15.2 16.9-13.5 17.8-12.5 16.5-9.9 17.3-8.9 17-6.9 16.7-5.1 16.3-3.3 16.1-1.6 15.6 0.2 16.3 2 14.9 3.6 15.4 5.6 15 7.2 14.6 8.9-14-12.5-15.1-12.3-13.9-10.3-14.9-10-16.2-9.6-16.2-8.5-16.5-7.7-16.7-6.7-16.3-5.6-15.8-4.4-15.6-3.5-17.3-2.8-17.8-1.8-16-0.5-16.1 0.3-15.7 1.3-17.2 2.4-15.5 3.1-17.1 4.4-16.8 5.5-16.5 6.3-17.3 7.8-17 8.7-16.2 9.3-18.7 12.1-18.9 13.6-18 14.2-15.5 13.7-16.8 16.3-16.6 17.8-2.6 5.9-1.3 6.5 13.3-9 13.2-7.6 13.6-6.3 13.9-5.1 14.3-3.9 14.6-2.5 14.9-1.2 14.2 0.2 15.5 1.5 14.7 2.8 14.9 4 15.2 5.4 15.4 6.7 15.7 8 15.8 9.5z" fill="#01f0d6"/>
<path d="M339.4 1662.2l17.2-16.9 17.2-15.2 16.9-13.5 17.8-12.5 16.5-9.9 17.3-8.9 17-6.9 16.7-5.1 16.3-3.3 16.1-1.6 15.6 0.2 16.3 2 14.9 3.6 15.4 5.6 15 7.2 14.6 8.9-14-12.5-13.9-11.4-13.9-10.4-15-10.1-15.5-9.3-16.2-8.6-16.5-7.8-16.6-6.8-15.8-5.5-16.3-4.7-17.3-3.9-15.6-2.6-15.7-1.8-16-0.8-16.1 0.1-16.3 1.1-16.6 2.1-16.6 3.1-16.8 4.2-17 5.3-15.4 5.7-17 7.4-17.4 8.6-15.7 8.9-17.9 11.1-18.6 13-18.6 14.3-16.1 13.7-15.6 14.7-15.4 16-3.2 6.4-1.5 6.8-0.1 2.5 14-8.8 14.4-7.3 14.7-6.1 14.2-4.3 13.4-2.8 13.7-1.7 14-0.4 13.2 0.6 14.5 1.9 14.8 3.1 15 4.4 14 5.3 15.5 7 14.5 7.7 14.6 8.8z" fill="#02f0ba"/>
<path d="M339.4 1662.2l17.2-16.9 17.2-15.2 16.9-13.5 17.8-12.5 16.5-9.9 17.3-8.9 17-6.9 16.7-5.1 16.3-3.3 16.1-1.6 15.6 0.2 16.3 2 14.9 3.6 15.4 5.6 15 7.2 14.6 8.9-14-12.5-13.9-11.4-13.9-10.4-15-10.1-15.5-9.3-16.2-8.6-16.5-7.8-14.7-6.1-15.2-5.4-16.9-5-15.3-3.7-16-2.8-15.3-1.9-15.9-1.1-16.1-0.1-16.2 0.9-16.5 1.8-16.6 2.8-16.8 4-15.8 4.6-16.7 5.9-16.4 6.8-16.1 7.7-15.9 8.6-17.5 10.5-19.1 12.9-18.7 14-16.1 13.2-14.5 13.2-15 14.9-3.8 6.8-1.7 6.7 0 5.5 15.2-8.7 14.6-6.6 16-5.6 15.4-3.6 12.6-1.9 11.7-0.8 13.1 0.1 12.1 1.1 13.5 2.1 13.7 3.2 13.9 4.3 14.1 5.5 14.3 6.6 14.5 7.8 14.7 8.9z" fill="#03f09e"/>
<path d="M339.4 1662.2l17.2-16.9 17.2-15.2 16.9-13.5 17.8-12.5 16.5-9.9 17.3-8.9 17-6.9 16.7-5.1 16.3-3.3 16.1-1.6 15.6 0.2 16.3 2 14.9 3.6 15.4 5.6 15 7.2 14.6 8.9-14-12.5-13.9-11.4-13.9-10.4-13.8-9.3-14.9-9.1-16.2-8.7-15.8-7.6-15.1-6.3-15.2-5.6-16.8-5.1-15.6-3.9-15.5-2.9-15.7-2-14.7-1.1-16-0.3-15.4 0.6-16.4 1.5-16.6 2.6-15.6 3.4-16 4.4-15.7 5.2-16.5 6.5-16.2 7.4-16 8.2-18.4 10.7-18 11.7-18.1 13.1-17.3 13.7-13.3 11.6-14.3 13.7-4.3 6.9-1.4 3.6-0.7 3.4-0.3 4.1 0.5 4.4 13.3-6.9 13.7-5.9 14.1-4.5 13.4-3.1 13.6-2 14-0.7 14.2 0.4 14.4 1.7 13.6 2.7 12.7 3.4 12.8 4.3 13 5.4 13.1 6.2 13.3 7.3 13.5 8.2z" fill="#04f082"/>
<path d="M339.4 1662.2l17.2-16.9 17.2-15.2 16.9-13.5 17.8-12.5 16.5-9.9 17.3-8.9 17-6.9 16.7-5.1 16.3-3.3 16.1-1.6 15.6 0.2 16.3 2 14.9 3.6 15.4 5.6 15 7.2 14.6 8.9-12.9-11.5-13.9-11.5-13.9-10.5-13.8-9.4-14.7-9-15.5-8.5-15.3-7.4-15.1-6.5-15.9-6-15.1-4.7-15.3-4-15.4-3.1-15.7-2.3-15.8-1.4-14.3-0.4-15.9 0.3-15.6 1.3-15.4 2.1-15.2 2.9-16 4-15.8 4.9-16.3 6-15.2 6.5-15.5 7.6-17.8 9.7-17.5 10.9-18.1 12.4-18.3 13.8-13.6 11.3-14.2 12.9-5 7-1.6 3.7-1 3.5-0.4 5.9 1.3 6 12.7-6 13.9-5.2 13.3-3.7 13.5-2.6 13.7-1.4 14.1-0.2 14.3 1 14.6 2.3 12.6 2.9 11.5 3.5 12.9 4.7 11.8 5.1 13.2 6.5 12.1 6.8 12.3 7.6z" fill="#05f066"/>
<path d="M339.4 1662.2l17.2-16.9 17.2-15.2 16.9-13.5 17.8-12.5 16.5-9.9 17.3-8.9 17-6.9 16.7-5.1 16.3-3.3 16.1-1.6 15.6 0.2 16.3 2 14.9 3.6 15.4 5.6 15 7.2 14.6 8.9-12.9-11.5-13.9-11.5-12.7-9.6-13.8-9.6-13.7-8.4-15.1-8.4-15.4-7.7-15.1-6.6-14.9-5.8-14.8-4.8-15.2-4.2-16.1-3.4-14.9-2.4-15.7-1.6-16.1-0.7-14.1 0.1-15.2 1-15.5 1.9-15.3 2.7-16.1 3.8-14.8 4.3-15.6 5.4-14.5 5.9-16.1 7.4-16.8 8.9-17.8 10.5-18 11.9-17.1 12.4-15 11.9-12.8 11.1-3.1 3.6-2.6 3.7-1.7 3.5-1.2 3.6-0.6 3.9 0.1 3.5 0.8 3.8 1.5 4 13.7-5.6 13.1-4.1 13.4-3 13.7-1.9 14-0.6 14.2 0.5 14.5 1.8 13.6 2.7 11.5 3.2 10.4 3.5 11.8 4.6 10.7 4.9 12 6.1 11 6.2 12.2 7.7z" fill="#06f04a"/>
<path d="M339.4 1662.2l17.2-16.9 17.2-15.2 16.9-13.5 17.8-12.5 16.5-9.9 17.3-8.9 17-6.9 16.7-5.1 16.3-3.3 16.1-1.6 15.6 0.2 16.3 2 14.9 3.6 15.4 5.6 15 7.2 14.6 8.9-12.9-11.5-12.7-10.6-12.8-9.7-13.8-9.6-13-8.1-16.1-9.1-14.5-7.3-14.7-6.5-14.8-5.9-15.1-5-15.2-4.3-15.4-3.4-14.5-2.5-14.9-1.7-15.3-0.9-14.7-0.1-14.8 0.7-15.5 1.7-15.3 2.4-15.1 3.3-16 4.4-14.9 4.9-15.1 5.9-14.4 6.3-16.2 8.2-17.7 10-17.2 10.8-16.6 11.6-16 12.2-12.4 10.4-3.1 3.3-2.6 3.7-1.9 3.3-1.2 3.4-0.8 4.5 0.3 4.7 1.3 4.5 2.6 4.9 13-4.6 13.2-3.4 13.6-2.3 13.9-1.1 14.1 0 13.2 1.2 14.7 2.5 13.7 3.4 10.4 3.2 10.6 4 20.2 9.1 20.6 11.5z" fill="#07f02e"/>
<path d="M339.4 1662.2l17.2-16.9 17.2-15.2 16.9-13.5 17.8-12.5 16.5-9.9 17.3-8.9 17-6.9 16.7-5.1 16.3-3.3 16.1-1.6 15.6 0.2 16.3 2 14.9 3.6 15.4 5.6 15 7.2 14.6 8.9-12.9-11.5-12.7-10.6-12.8-9.7-13.8-9.6-13-8.1-14.4-8.2-14.4-7.3-14.6-6.7-14-5.5-14.8-5.2-14.6-4.3-15.1-3.6-15.6-2.8-13.7-1.7-14.7-1.1-15.2-0.3-14.4 0.4-15.6 1.4-15 2.2-14.7 2.9-14.7 3.7-14.9 4.6-15 5.5-14.8 6.1-16.1 7.7-15.9 8.6-17 10.2-15.8 10.5-15.8 11.5-13.7 10.9-5.8 6.4-2 3.3-1.4 3.3-1 5.4 0.6 5.9 2.2 5.5 4 5.5 10.2-3 11.3-2.4 10.5-1.5 10.7-0.9 11.9-0.1 11 0.7 11.1 1.4 11.4 2.1 11.4 3 11.6 3.6 11.7 4.5 11.9 5.3 12 6.1 12.2 6.8 12.2 7.7z" fill="#08f012"/>
<path d="M339.4 1662.2l17.2-16.9 17.2-15.2 16.9-13.5 17.8-12.5 16.5-9.9 17.3-8.9 15.9-6.5 16.7-5.2 16.4-3.5 16-1.6 15.7 0.1 15.3 1.7 14.9 3.4 15.5 5.3 15.1 7 14.8 8.9-0.6-0.9-7.2-6.5-15.1-12.7-12.7-9.9-13.8-9.6-13-8.3-15.5-8.7-14.5-7.4-13.6-6.2-14-5.7-15-5.2-15.2-4.5-13.4-3.3-15.5-2.9-13.7-1.8-13.9-1.2-14-0.4-14.1 0.2-15.4 1.1-13.3 1.7-15.3 2.7-15 3.5-14.8 4.3-14.7 5-14.4 5.7-16.2 7.4-16 8.2-15.7 9-15.4 9.8-15.2 10.6-13.9 10.6-5.8 6-2.1 3.1-1.5 3.2-1 3.2-0.3 3.4 0.2 3.2 0.9 3.4 1.5 3.3 2.2 3.4 5.8 6.3 10.2-2.2 10.5-1.5 10.7-0.9 9.7-0.1 11 0.5 10 1.1 11.2 1.9 10.3 2.4 11.5 3.4 10.6 3.7 10.6 4.3 10.7 5 10.8 5.7 11 6.3 11 6.9z" fill="#1cf107"/>
<path d="M347.8 1653.7l16.2-15.1 15.8-13.5 15.7-12 16.6-11.3 15.2-8.9 16.1-8.1 15.9-6.4 15.6-4.8 15.3-3.3 15-1.7 14.7-0.2 15.4 1.4 14 2.8 14.6 4.5 14.3 6.1 13.7 7.4-2.7-4.6-8.8-7.5-15.1-11.8-16.1-11.4-13-8.3-15.5-8.7-14.5-7.4-13.6-6.2-14-5.7-15-5.2-13.3-4-14.2-3.5-14.3-2.8-14.1-2-13.8-1.3-14-0.5-14.1 0.1-14.3 0.9-14.4 1.7-14.5 2.4-13.5 3-13.8 3.7-13.7 4.4-14.5 5.4-16.3 7.1-16.1 7.9-15.5 8.5-15.6 9.6-15.5 10.5-12.1 8.9-5.7 5.9-2.1 3-1.4 3-1 3.9-0.2 3.7 0.7 3.6 1.5 3.7 2.3 3.7 3.1 3.7 4 3.6 4.8 3.6 15.6-1.7 16.3-0.1 16.6 1.5 15.8 2.9 10.3 2.7 9.3 2.8 18.8 7.3 19.1 9.4 20.6 12z" fill="#3bf206"/>
<path d="M357.6 1644.4l14.9-13.3 15.8-12.6 14.3-10.4 15.3-9.9 14-7.8 14.9-7.1 14.7-5.7 14.5-4.3 14.2-3 13.9-1.6 13.7-0.4 14.4 1.1 13.1 2.3 13.8 3.7 12.5 4.8 13 6.3-2-4.5-2.9-4-15.5-12.2-15-10.5-13-8.3-15.6-8.8-15.3-7.8-15.2-6.8-13.4-5.3-13.9-4.8-14.4-4.2-13.4-3.3-13.6-2.6-13.7-1.9-13.8-1.3-14-0.5-13.6 0.1-13.5 0.8-13.6 1.5-14.5 2.3-13.5 2.9-13.8 3.6-13.7 4.3-14.1 5.2-15.2 6.3-15.7 7.5-15.9 8.6-15.6 9.3-14.9 9.8-8.8 6.5-5.4 5.6-1.9 2.8-1.4 3.1-1 4.5 0.3 4.2 1.4 4.3 2.6 4.3 3.7 4.1 5.1 4.3 5.6 3.8 7.2 4 13.1 0 12.1 0.8 13.4 2 12.6 2.7 13.8 4.1 12.9 4.7 13 5.6 13.3 6.7 26 2.7z" fill="#5af305"/>
<path d="M365.9 1634.9l2.2 0 14.1-11.7 14.4-11 14.3-9.6 14.1-8.4 12.7-6.7 12.6-5.6 12.4-4.7 12.2-3.6 12-2.7 13-1.9 11.6-0.7 12.5 0.3 13.3 1.5 13 2.8 13.6 4.2 12.6 5.3-0.4-2.1-2.4-5.3-4.2-5.1-11.1-8.3-11.5-7.9-13.7-8.4-15.1-8.4-15.4-7.7-15.1-6.6-12.7-5-14.5-4.9-13.9-3.9-12.8-3-12.3-2.4-13.7-1.9-13.8-1.3-14-0.5-13.6 0.1-13.5 0.8-13.3 1.5-13.1 2-13 2.7-13.9 3.5-12.8 3.9-13.4 4.7-14.5 5.9-16.1 7.4-15.9 8.4-15.7 9.1-14.8 9.5-5.2 3.9-5 5.3-1.8 2.8-1.2 2.9-0.7 2.9-0.1 2.7 1.2 5.3 3.1 5.1 4.9 5.1 6.7 5 9 5.1 10 4.5 12.5 4.6 21.2 4.5 18.3 5.6 22.7 3.9 17.3 2.3 19 1.9 19 1.4z" fill="#79f504"/>
<path d="M377.3 1625.2l2.3 0.1 12.3-9.6 13.1-9.2 11.8-7.6 12.8-7.3 10.4-5.2 11.4-5 10.1-3.8 11.2-3.4 9.9-2.5 10.8-1.9 9.7-1 10.5-0.5 13.5 0.6 14.2 1.9 12.9 3.1 13.4 4.6-0.5-4.8-2.5-5.4-4.8-5.5-6-4.4-11.5-7.6-14.4-8.6-15-8-15.2-7.3-15.1-6.3-12.4-4.6-12.3-4-13.3-3.7-13.3-3-11.8-2.2-13.7-1.8-12.1-1.1-13.8-0.5-13.6 0.1-12.7 0.8-12.3 1.2-12.8 1.9-13 2.6-12.8 3.2-12.7 3.7-12.6 4.2-14.4 5.6-16.3 7.3-14.2 7.2-15.6 8.7-12.5 7.7-5.2 4-4.8 5.2-2.6 5.1-0.5 5.2 1.4 5.2 3.2 4.9 5.3 5.1 7.1 4.9 8.7 4.6 11.3 4.7 12.1 4.1 13.9 3.9 14.3 3.3 15.9 3 17.7 2.7 17.9 2.1 18.3 1.6 19.3 1.1z" fill="#98f603"/>
<path d="M389.9 1615.3l2.5 0 20.8-14.2 10.6-6.3 10.4-5.6 18.3-8.3 18-6.1 11-2.8 10.8-2 10.8-1.2 11.6-0.5 10.3 0.4 11.3 1.3 11 2.1 10 2.8 0.8-4-0.6-4.2-2.2-4.7-4-4.6-5.4-4.3-8.2-5.1-14.5-8.4-15.2-7.8-14.6-6.8-14.8-6-13.1-4.6-11.4-3.5-13.2-3.5-11.7-2.5-12.1-2.1-11.8-1.6-13.4-1.1-12-0.4-12.1 0.1-12.8 0.6-11.7 1.2-12.6 1.8-12.3 2.3-12.6 2.9-12.7 3.6-12.8 4.2-15 5.7-15.2 6.6-15.4 7.6-15.5 8.5-7.2 4.5-5 4-3.8 4.5-2.1 4.5-0.3 5 1.6 4.9 3.4 4.8 5.7 5 7.4 4.7 9.2 4.5 10.9 4.2 12.7 4 14.4 3.7 15 3.1 16.6 2.8 17 2.2 18.8 1.9 18.9 1.3 18.9 0.7z" fill="#b7f702"/>
<path d="M404.4 1605.1l2.8-0.1 18.9-11.5 19.6-9.7 15.8-6.2 16.7-4.9 17.4-3.2 17-1.2 16.5 0.7 16 2.6 1.7-2.9 1-2.9 0.2-3-0.6-3-1.9-3.8-3.4-4.1-4.7-3.9-6.4-4-13.9-7.6-14.5-7.2-15-6.6-14.9-5.8-12.3-4.1-12-3.4-23.1-5.2-11.7-1.8-11.8-1.4-11.9-0.9-12-0.3-12.1 0.1-12.2 0.8-22.9 2.8-12.3 2.3-11.5 2.6-23.2 6.9-14.6 5.3-14.7 6.2-13.7 6.5-15.1 8-5.3 3.4-4.4 3.7-3.2 4-1.6 3.8-0.4 2.3 0.2 2.6 0.7 2.5 1.2 2.5 4.1 5 5.9 4.6 8 4.5 9.8 4.4 10.7 3.7 13.3 3.8 15.2 3.5 15.9 2.8 16.2 2.4 18 1.9 18.1 1.4 18.2 0.9 18.3 0.4z" fill="#d6f801"/>
<path d="M422.2 1594.1l3.3-0.2 15.6-8 14.8-6.3 11.2-3.8 12.2-3.3 12-2.4 12.8-1.4 12.7-0.4 12.6 0.8 4.3-4 2.6-4.1 0.9-4-0.7-4.4-2-3.5-2.9-3.4-4.5-3.5-5.4-3.4-13.7-7-12.8-6-14.7-6.1-13.1-4.7-21.6-6.4-22.4-4.8-22.7-3-22.8-1.1-22.3 0.7-22.7 2.6-22.9 4.6-22.1 6.2-14 4.9-13 5.2-13 5.8-12.5 6.3-5.4 3.4-3.9 3.3-2.8 3.6-1.7 3.9-0.2 2.4 0.4 2.6 0.9 2.5 1.5 2.4 4.4 4.6 6.8 4.6 8.8 4.4 10.6 4.2 12.6 3.8 13.4 3.2 15.1 3 17.1 2.5 17.5 2 17.8 1.5 20 0.9 18.2 0.3 18.2-0.2z" fill="#f5fa00"/>
<path d="M448.2 1581.3l5.2-0.7 12.6-4.5 12.2-3.4 13.1-2.6 12.6-1.4 5.3-2.3 8.7-5.1 3-2.5 2.4-2.6 1.5-2.8 0.7-2.9 0-2.5-0.9-2.8-2.3-3.5-3.2-3.1-4-2.9-5.4-3.1-12-5.7-12.6-5.3-12.4-4.8-12.3-4.1-19.6-5.3-21.3-4.3-21.2-2.5-20.7-0.9-22 0.7-20.5 2.3-21.7 4.1-21.3 5.7-23 8-12.5 5.3-10.2 4.7-5.2 3.2-4.1 3.4-2.7 3.6-1.3 3.5-0.1 2.5 0.5 2.4 1.2 2.5 1.7 2.4 5.5 4.8 7.7 4.4 9.8 4.2 11.7 3.9 13.8 3.5 16 3.2 16.9 2.5 17.5 2 19.2 1.4 19.2 0.7 18.7 0.2 19-0.6 18.5-1.1z" fill="#ffe100"/>
<path d="M461.6 1568.2l13-2.7 11.7-3.3 9.7-3.6 7.6-3.9 5.5-4.2 3-4.2 0.7-2.2 0.1-2.3-0.5-2.2-1-2.1-1.9-2.4-2.5-2.3-6.9-4.6-10.4-4.7-14.8-5.9-15.1-5-15.2-4.3-15.4-3.4-15.6-2.6-11.8-1.4-11.9-0.9-12-0.3-12.1 0.1-12.2 0.8-11.9 1.2-12.8 1.9-11.2 2.1-14 3.4-14.8 4.3-13.6 4.7-13.8 5.5-6.4 3.3-4.9 3.6-3.2 3.7-1.4 3.7 0 2.2 0.6 2.4 1.3 2.4 1.8 2.2 6 4.7 8.3 4.3 11.4 4.3 12.9 3.6 15.1 3.3 16.2 2.6 16.9 1.9 17.6 1.4 20 0.9 18.7 0.1 18-0.6 18.1-1.2 17.2-1.8z" fill="#ffbe00"/>
<path d="M455.1 1557.8l11.3-2.5 9.5-2.7 7.9-2.9 7-3.5 4.9-3.9 2.6-3.7 0.6-3.7-1.5-3.8-2.3-2.8-3.1-2.6-4.1-2.5-5.1-2.5-17.5-6.4-19.5-5.7-18.5-4.1-17.3-2.7-18.1-1.7-16.6-0.4-19.7 0.7-18.3 2-18.9 3.3-17.9 4.3-20.5 6.5-9.8 4.2-4.4 2.6-3.3 2.8-2 2.7-1 3 0.1 2.3 0.7 2 2.9 3.9 5.6 4.1 7.8 3.9 9.9 3.6 12 3.3 12.8 2.6 14.8 2.3 16.1 1.8 16.9 1.3 17.9 0.6 16.6 0 16.2-0.6 15.8-1.1 15.2-1.7z" fill="#ff9a00"/>
<path d="M440.1 1548.4l11.2-2.2 9-2.3 8.3-2.8 6-2.8 4.5-3 2.8-3.3 1-3.1-0.2-1.9-0.7-1.7-1.8-2.4-2.6-2.2-3.6-2.4-4.5-2.2-10.1-3.7-16.7-4.6-16.1-3.4-16.9-2.7-17.8-1.6-16-0.5-18.2 0.7-16.4 1.5-17.1 2.7-17.3 3.8-13.1 3.8-9.6 4-3.6 2.2-2.5 2.1-1.8 2.3-0.9 2.5 0 1.8 0.6 1.9 2.4 3.2 4.3 3.3 6.2 3.2 7.9 3 9.6 2.7 11.1 2.5 12.9 2.1 13.4 1.6 13.5 1.1 14.3 0.7 15 0.1 27.6-1 12.8-1.2z" fill="#ff7600"/>
<path d="M426 1537.9l17.1-3.4 7.1-2.1 5.7-2.4 4.3-2.6 2.5-2.4 1.1-2.7-0.4-3-1.4-2-1.8-1.7-5.7-3.4-8.2-3.1-10.9-3-14-2.7-15.6-2.1-14.4-1.2-15.5-0.5-14.2 0.4-14.3 1.1-14.5 1.9-14.6 2.8-9.5 2.6-7.5 3.2-4.7 3.3-1.6 2-0.6 1.8 0.3 2.7 1.8 2.8 3.6 2.7 4.9 2.6 6.2 2.3 7.5 2.2 18.6 3.6 21.3 2.3 23.7 0.8 22.4-0.6z" fill="#ff5300"/>
<path d="M410.2 1526.1l12.9-2.3 9.8-3.2 3.4-1.9 1.8-1.8 0.9-1.8-0.2-2.1-2.2-2.6-4.4-2.6-6-2.2-7.4-1.9-8.9-1.6-10.4-1.3-22.1-1.1-21.7 0.8-9.6 1.1-8.9 1.6-7.2 1.9-5.6 2.2-3.8 2.6-1.5 2.6 0.2 1.8 1.3 2 2.6 1.9 3.8 1.9 9.4 3 12.6 2.4 14.9 1.6 16.2 0.7 16.2-0.4z" fill="#ff2f00"/>
<path d="M339.4 1662.2c-99.6-71.4-187.2-59.8-256.2 3.8M339.4 1662.2c99.5-102.2 189.4-115.4 260.8-66.3M346.8 1654.7c-99.7-71.7-187.5-60.5-256.9 2.9M331.9 1657c99.5-102.5 189.6-116.2 261.3-67.4M354.2 1647.6c-99.7-72.1-187.8-61.2-257.5 1.9M324.5 1652.1c99.5-102.9 189.7-117 261.7-68.7M361.6 1640.8c-99.8-72.5-188.1-62-258.2 .9M317.2 1647.6c99.3-103.3 189.7-117.9 262-70M368.9 1634.3c-99.7-72.8-188.3-62.8-258.8-.2M309.9 1643.3c99.2-103.6 189.8-118.8 262.4-71.3M376.2 1628.1c-99.7-73.2-188.5-63.6-259.4-1.3M302.6 1639.3c99.2-103.9 189.9-119.7 262.7-72.6M383.4 1622.2c-99.7-73.5-188.7-64.4-259.9-2.4M295.4 1635.6c99-104.2 189.8-120.5 263-74M390.7 1616.6c-99.7-73.9-189-65.2-260.5-3.6M288.2 1632.2c98.9-104.6 189.9-121.4 263.3-75.4M397.8 1611.4c-99.6-74.3-189.1-66.1-260.9-4.8M281.1 1629.1c98.8-104.9 189.8-122.4 263.5-76.8M405 1606.5c-99.7-74.7-189.3-67.1-261.4-6.2M274.1 1626.3c98.6-105.3 189.7-123.3 263.6-78.3M412.1 1601.8c-99.6-75.1-189.4-67.9-261.8-7.4M267 1623.7c97-104 187-123.7 260.5-81.7M419.1 1597.5c-99.5-75.5-189.5-68.9-262.2-8.8M260.1 1621.5c94.8-102.2 183.2-123.8 256-85.6M426.1 1593.5c-98.4-75.1-187.7-70-260.3-12M253.2 1619.5c93.1-100.9 180.3-124.1 252.7-88.8M433.1 1589.8c-96.4-74-184.3-71.1-256.3-16.8M246.3 1617.8c91-99 176.5-124 248.1-92.3M440 1586.4c-93.8-72.4-179.8-72.2-250.9-22.3M239.5 1616.4c89.4-97.7 173.6-124.1 244.6-95.2M446.8 1583.3c-91.6-71.3-176.1-73.1-246.5-26.7M232.7 1615.2c87.3-95.8 169.8-123.7 240-98.4M453.7 1580.5c-89.6-70.1-172.5-74-242.2-31.1M226 1614.3c85.1-93.9 165.9-123.3 235.2-101.3M460.4 1578c-87-68.5-167.8-74.7-236.4-35.9M219.4 1613.7c82.9-92.1 162-122.8 230.2-104.1M467.1 1575.8c-84.9-67.3-164.1-75.3-231.8-39.8M212.8 1613.4c80.8-90.2 158.1-122.2 225.3-106.7M473.8 1573.9c-82.3-65.7-159.4-75.7-226-44.1M206.3 1613.3c78.6-88.3 154.1-121.4 220.3-108.9M480.4 1572.2c-80.2-64.4-155.6-76-221.2-47.6M199.8 1613.4c76.5-86.3 150.2-120.4 215.2-110.9M486.9 1570.9c-77.6-62.8-150.8-76.1-215-51.4M193.4 1613.8c74.4-84.3 146.2-119.4 210-112.8M493.4 1569.8c-75-61-146.1-76-208.9-54.9M187 1614.5c72.3-82.4 142.3-118.3 204.9-114.4M499.9 1569c-72.4-59.3-141.3-75.8-202.7-58M180.7 1615.4c69.7-79.8 137.4-116.5 198.4-115.7M506.2 1568.5c-69.8-57.6-136.4-75.4-196.2-60.9M174.5 1616.6c67.6-77.9 133.3-115.1 193-116.8M512.6 1568.3c-67.3-55.9-131.7-74.8-189.9-63.5M168.3 1618c65-75.3 128.4-113.1 186.4-117.5M518.8 1568.4c-64.6-54.2-126.8-74.2-183.3-65.8M162.2 1619.6c62.9-73.2 124.4-111.4 181-118M525 1568.7c-61.5-52-120.9-73-175.4-67.8M156.1 1621.5c60.4-70.6 119.5-109 174.3-118.1M531.2 1569.3c-59-50.2-116.1-71.9-168.8-69.3M150.1 1623.6c57.8-68 114.6-106.5 167.5-117.8M537.3 1570.1c-56-47.9-110.3-70.3-160.8-70.4M144.2 1626c55.3-65.5 109.7-103.8 160.7-117.1M543.3 1571.2c-53.4-46-105.4-68.9-154-71.2M138.4 1628.6c52.7-62.9 104.7-101 153.8-116.1M549.3 1572.6c-50.4-43.8-99.6-66.9-145.9-71.6M132.5 1631.3c50.3-60.1 99.9-97.9 147-114.6M555.2 1574.2c-47.4-41.5-93.7-64.7-137.6-71.4M126.8 1634.4c47.7-57.5 95-94.8 140-112.9M561 1576.1c-44.4-39.2-87.9-62.3-129.3-70.8M121.1 1637.6c45.3-54.8 90.1-91.5 133.1-110.8M566.8 1578.2c-40.9-36.4-81.1-59.1-119.7-69.3M115.5 1641c42.3-51.5 84.3-87.2 124.8-107.6M572.5 1580.6c-37.9-34-75.3-56.3-111.3-67.6M110 1644.7c39.8-48.9 79.5-83.6 117.8-104.7M578.2 1583.2c-35-31.6-69.5-53.2-103-65.4M104.5 1648.5c36.9-45.5 73.7-79 109.5-100.6M583.8 1586c-31.6-28.7-62.8-49.3-93.2-62.2M99.1 1652.6c34.1-42.3 68-74.2 101.2-96M589.3 1589.1c-28.2-25.8-56.1-45.2-83.4-58.4M93.7 1656.9c31.2-39 62.4-69.3 92.9-91M594.8 1592.4c-24.9-22.9-49.5-40.8-73.7-53.9M88.4 1661.3c28.4-35.6 56.8-64.1 84.7-85.4M600.2 1595.9c-21.5-19.9-42.8-36.2-63.9-48.8M83.2 1666c25.6-32.3 51.1-58.8 76.4-79.5" fill="none" stroke="#000" stroke-width="0.92" stroke-opacity="0.82"/>
<path d="M339.4 1662.2l8.6-8.7 8.6-8.2 8.6-7.8 8.6-7.4 8.4-6.9 8.5-6.6 8.3-6 9.5-6.5 8.3-5.2 8.2-4.7 8.1-4.4 9.2-4.5 8-3.4 9-3.5 7.8-2.6 8.9-2.5 7.7-1.8 8.6-1.5 7.6-1 8.5-0.6 7.3-0.1 8.3 0.3 8.2 0.8 8.1 1.2 7 1.5 7.9 2.1 7.7 2.6 7.7 3 7.6 3.4 7.4 3.8 7.3 4.3 7.3 4.6-14-12.5-15.1-12.3-15-11.1-6.9-4.7-8.1-5.2-7.9-4.8-8.9-5.1-16.5-8.5-8.9-4.2-8.8-3.9-7.8-3.2-9.3-3.4-7.7-2.7-9.3-2.9-7.8-2.2-9.4-2.3-7.7-1.7-9.3-1.7-16-2.2-7.9-0.8-8.8-0.5-16-0.3-9.1 0.2-8.4 0.5-8.2 0.7-8.2 1-8.5 1.3-8.7 1.5-8.6 1.9-8.6 2.1-8.5 2.3-8.4 2.6-8.4 2.9-8.3 3-8.2 3.3-8.6 3.7-8.7 4.1-8.8 4.3-16 8.8-8.4 4.9-8.9 5.6-15.8 10.6-16.6 12.3-15.4 12.4-14.4 12.7-14.5 14-14.6 15.3-14.5 16.5-14.6 17.8 7-6.2 7.1-5.8 7.2-5.5 7.3-5.1 7.5-4.7 7.5-4.3 7.7-4 7.8-3.6 7.8-3.2 8-2.7 8.2-2.4 7.1-1.7 8.4-1.6 7.3-0.9 8.5-0.8 7.6-0.2 8.7 0.1 7.7 0.5 7.8 0.8 7.8 1.3 9.1 1.8 8 2 8.1 2.4 8.1 2.8 9.4 3.6 8.3 3.6 8.4 4 8.4 4.4 8.5 4.8 8.6 5.2 8.6 5.6z" fill="none" stroke="#000" stroke-width="1.0" stroke-opacity="0.88"/>
<g fill="#000"><circle cx="72.4" cy="1502.6" r="1.9"/><circle cx="75.5" cy="1549.8" r="1.9"/><circle cx="78.6" cy="1597.0" r="1.9"/><circle cx="81.7" cy="1644.2" r="1.9"/><circle cx="84.9" cy="1691.3" r="1.9"/><circle cx="88.8" cy="1750.4" r="1.9"/><circle cx="151.4" cy="1772.0" r="1.9"/><circle cx="214.1" cy="1793.6" r="1.9"/><circle cx="276.7" cy="1815.2" r="1.9"/><circle cx="339.4" cy="1836.8" r="1.9"/><circle cx="402.0" cy="1815.2" r="1.9"/><circle cx="464.6" cy="1793.6" r="1.9"/><circle cx="527.3" cy="1772.0" r="1.9"/><circle cx="589.9" cy="1750.4" r="1.9"/></g>
<g font-family="'Liberation Sans',Arial,sans-serif" font-size="12.0" fill="#1a1a22"><text transform="translate(65.6 1514.6) scale(0.960 1)" text-anchor="end">78</text><text transform="translate(68.7 1561.7) scale(0.960 1)" text-anchor="end">68.5</text><text transform="translate(71.8 1608.9) scale(0.960 1)" text-anchor="end">59</text><text transform="translate(74.9 1656.1) scale(0.960 1)" text-anchor="end">49.5</text><text transform="translate(78.1 1703.3) scale(0.960 1)" text-anchor="end">40</text><text transform="translate(81.9 1762.0) scale(0.960 1)" text-anchor="end">1.00</text><text transform="translate(144.5 1783.6) scale(0.960 1)" text-anchor="end">0.50</text><text transform="translate(207.2 1805.2) scale(0.960 1)" text-anchor="end">0.00</text><text transform="translate(269.8 1826.8) scale(0.960 1)" text-anchor="end">-0.50</text><text transform="translate(332.5 1848.4) scale(0.960 1)" text-anchor="end">-1.00</text><text transform="translate(346.7 1848.4) scale(0.960 1)">-1.00</text><text transform="translate(409.3 1826.8) scale(0.960 1)">-0.50</text><text transform="translate(471.9 1805.2) scale(0.960 1)">0.00</text><text transform="translate(534.6 1783.6) scale(0.960 1)">0.50</text><text transform="translate(597.2 1762.0) scale(0.960 1)">1.00</text></g>
<g font-family="'Liberation Sans',Arial,sans-serif" font-size="18.43" fill="#111"><text transform="translate(101.5 1834.2) scale(0.960 1)">C: C</text><text transform="translate(543.2 1834.2) scale(0.960 1)">B: B</text></g>
<text transform="translate(12.0 1636.1) scale(0.901 1)" font-family="'Liberation Serif','Times New Roman',serif" font-weight="bold" font-size="20.67" fill="#000">Y2</text>
<ellipse cx="84.6" cy="1686.7" rx="5.1" ry="3.2" fill="#ffc6c8" stroke="#a04848" stroke-width="0.9"/><path d="M84.6 1685.1v3.2" stroke="#b05050" stroke-width="0.9"/>
<ellipse cx="601.8" cy="1570.4" rx="4.9" ry="3.4" fill="#f80d0d" stroke="#8c1010" stroke-width="0.9"/>
<path d="M339.4 1650.8L339.4 1662.2" stroke="#222" stroke-width="0.9"/>
<ellipse cx="339.4" cy="1650.8" rx="4.9" ry="3.4" fill="#f80d0d" stroke="#8c1010" stroke-width="0.9"/>
<path d="M339.4 1503.1L339.4 1510.3" stroke="#222" stroke-width="0.9"/>
<ellipse cx="339.4" cy="1503.1" rx="4.9" ry="3.4" fill="#f80d0d" stroke="#8c1010" stroke-width="0.9"/>
</g>
<g>
<path d="M792.1 1721l245.5 79.1 245.6-79.1-245.6-62.2z" fill="#ffff1c" stroke="#111" stroke-width="1"/>
<path d="M1058.2 1664.1l-13.4-2.2-13.4-1.5M921 1688.4l-0.5 2.7-0.1 2.6 0.4 2.9 0.9 2.8 1.3 2.8 2 3 2.3 2.9 2.5 2.5 3.6 3 3.2 2.4 8.3 5.2 9.8 4.9 11.5 4.6 13.2 4.2 13.3 3.3 13.2 2.6 14.9 2.2 14.6 1.3 13.9 0.6 14.5-0.1 13-0.9 13.3-1.7 11.2-2.2 11-3.1 9-3.7 7.2-4 3-2.2 2.5-2.3 2.3-2.7 1.5-2.1 1.4-2.9 0.7-2.6 0.3-2.8-0.2-2.5-0.8-3.3-1.1-2.7-1.6-2.7-2.1-2.9-2.8-3-2.9-2.6-7.1-5.3-9.3-5.4-10.7-4.8-11.3-4.2" fill="none" stroke="#ff9a08" stroke-width="1.35"/>
<path d="M884.6 1697.6l0.9 3 1.5 3.2 1.9 3.3 2.3 3.2 2.9 3.3 3.1 3 6.8 5.7 8.9 5.9 10.5 5.7 11.9 5.4 12.2 4.6 13.5 4.3 15.1 4 14.9 3.3 16.5 2.8 16.1 2 16.2 1.4 16.4 0.7 15.5 0 16.6-0.8 14.3-1.4 13.6-2.1 13.1-2.8 11.3-3.2 11-4.2 8-4 3.9-2.5 3.5-2.5 3.1-2.6 2.7-2.7 2.2-2.8 1.8-2.9 1.3-2.9 0.9-3.1 0.5-2.9 0-2.8-0.4-3.1-0.9-3.4-1.4-3.5-1.5-2.7-2.2-3.2-2.8-3.4-6.3-6" fill="none" stroke="#ffe42c" stroke-width="1.35"/>
<path d="M1195.4 1749.3l6.1-5.3 2.5-2.8 2.1-2.8 1.8-3 1.4-2.9 1.1-3.1 0.6-3.1 0.3-3.2-0.2-3.2-0.5-3.4-0.9-3-1.3-3.3-1.6-3.2-1.9-3-2.5-3.4M857.9 1704.4l2.1 4 2.8 4.3 3 3.7 4.2 4.3 4.5 4 5.2 4.1 6.1 4.2 5.8 3.5 6.2 3.5 7.8 4 15.1 6.5 17.1 6.2 17.8 5.3 19.9 4.8 20.2 3.9 20.4 3 20.2 2 19.9 1.1 20.9 0.3 20.9-0.8 19-1.7" fill="none" stroke="#dcff2c" stroke-width="1.35"/>
<path d="M1237.7 1735.7l0.7-3.3 0.4-3.7 0-3.2-0.5-3.4-0.7-3.3-1.2-3.5-1.6-3.4-1.9-3.6M972.8 1779.3l24.2 4.4 23.8 3.2 24 2.1 24.1 1.1M835.5 1710l3.5 5.6 4.6 5.6 5.1 5.1 6.5 5.7 7.6 5.5 7.5 4.8 8.3 4.7 9.9 5.1" fill="none" stroke="#9cff20" stroke-width="1.35"/>
<path d="M1263.3 1727.4l-1.5-6.3-2.5-6.1M815.6 1715.1l3.3 4.7 4.2 5.1 4.3 4.5 5.1 4.7" fill="none" stroke="#54f02a" stroke-width="1.35"/>
<path d="M792.1 1721l-16.1-226.8 261.6-40.2 261.7 40.2-16.1 226.8M1037.6 1454l0 204.8" fill="none" stroke="#2a2a2a" stroke-width="1.1"/>

<path d="M1037.6 1690.6l16.7-18.7 16.6-16.5 16.4-14.5 17.3-13.1 16-10.1 16.8-8.6 7.7-3.2 8.8-3 7.6-2.1 8.5-1.9 7.5-1 8.3-0.7 7.3 0 8.2 0.5 7 0.9 8 1.7 7.9 2.2 7.7 2.8 14.2 6.7 7.4 4.4 7.2 4.9 14.2 11.3 13.6 13.3-16.4-20.4-16.3-19.1-16.3-17.6-17.4-17.2-16.2-14.6-17.6-14.5-18.3-13.5-17.2-11.3-16.8-9.7-17.3-8.7-17-7.2-17.9-6.2-17.2-4.6-17.6-3.2-18.4-2-17-0.4-17.1 1-15.7 2-16.3 3.4-13.1 3.9-13.6 5.6-13.7 7-13.8 8.7-12.7 9.4-13.9 11.7-14 13.3-13.9 15-14 16.5-14 18.1-13.9 19.7-13.9 21.2-12.8 21 14-8.2 14.4-6.9 14.8-5.5 14.2-3.8 15.6-2.7 15-1.2 15.3 0.2 15.7 1.7 16 3 16.3 4.6 16.7 6.1 15.8 7 17.1 9.1 16.3 9.9 16.5 11.3z" fill="#03f094"/>
<path d="M1037.6 1690.6l16.7-18.7 16.6-16.5 16.4-14.5 17.3-13.1 16-10.1 16.8-8.6 7.7-3.2 8.8-3 7.6-2.1 8.5-1.9 7.5-1 8.3-0.7 7.3 0 8.2 0.5 7 0.9 8 1.7 7.9 2.2 7.7 2.8 14.2 6.7 7.4 4.4 7.2 4.9 14.2 11.3 13.6 13.3-16.4-20.4-16.3-19.1-16.3-17.6-17.4-17.2-16.2-14.6-17.6-14.5-16.9-12.5-17.1-11.4-17.4-10.1-17.5-8.8-17.5-7.5-16.6-5.8-16.5-4.6-17.6-3.4-17.5-2.1-17-0.6-17.1 0.7-15.7 1.8-16.8 3.3-13.6 3.8-13.6 5.3-12.6 6.3-13.8 8.3-12.7 9-13.9 11.4-14 12.9-13.9 14.6-12.9 14.8-14 17.6-13.9 19.2-13.9 20.8-13 20.9 2.3 2.9 14.7-7.9 15.5-6.5 16-5 15.5-3.1 13.9-1.6 14.1-0.3 14.5 0.8 13.7 1.9 15 3.3 15.3 4.6 15.6 5.9 15.8 7.3 16.1 8.6 16.3 10 16.5 11.4z" fill="#04f07e"/>
<path d="M1037.6 1690.6l16.7-18.7 16.6-16.5 16.4-14.5 16.2-12.3 16-10.3 16.8-8.7 15.4-6 7.6-2.3 8.6-2 7.5-1.2 8.4-0.8 7.2-0.2 8.2 0.4 7.1 0.8 8 1.5 6.9 1.8 7.8 2.6 14.3 6.3 7.4 4.2 7.3 4.7 13.4 10.2 13.9 13-1-2-8.9-11.1-19.6-23.1-16.3-17.6-17.4-17.2-16.2-14.6-17.6-14.5-16.9-12.5-17.1-11.4-17.4-10.1-17.5-8.8-17.5-7.5-16.4-5.7-16.7-4.7-16.7-3.3-16.9-2-16.9-0.8-15.6 0.5-15.7 1.6-15.7 2.8-15.8 4-13.5 5.1-12.6 6-12.7 7.4-12.7 8.7-13.9 11-13.9 12.6-14 14.2-12.9 14.5-14 17.2-12.8 17.4-14 20.2-13.1 20.7 4.9 5.9 16.2-7.7 15.7-5.7 17.2-4.3 16.8-2.4 13.1-0.6 12.3 0.4 13.6 1.4 12.7 2.3 15.2 3.8 14.3 4.7 14.5 5.9 14.8 7.1 14.9 8.2 15.2 9.5 15.3 10.6z" fill="#05f068"/>
<path d="M1037.6 1690.6l15.6-17.4 16.5-16.7 16.4-14.6 16.2-12.5 16-10.4 15.8-8.4 15.4-6.3 7.6-2.4 8.7-2.1 14.8-2.3 7.3-0.3 8.3 0.1 14.1 1.7 7 1.5 7.8 2.3 14.4 5.8 14 7.8 13.5 9.6 13.8 12.1-2.1-4.6-21.8-25.8-17.4-18.9-18.5-18.2-16.1-14.6-17.2-14-16.3-12-17.5-11.6-17-9.9-16-8.2-17.7-7.6-16.4-5.8-17.1-4.8-17.6-3.6-16.9-2-16.3-0.8-16.2 0.5-15.7 1.6-15.7 2.8-14.7 3.7-12.5 4.5-12.6 5.8-12.7 7.2-12.7 8.5-13.9 10.7-12.8 11.4-14 13.8-12.9 14.1-13.9 16.9-12.9 17-12.9 18.3-13.2 20.3 3.5 4.3 4.5 4.6 13.5-5.8 14-4.7 14.3-3.4 14.8-2.2 15.1-0.8 14.3 0.5 14.7 1.8 15 3 14.1 3.9 14.4 5.1 14.6 6.3 13.7 6.8 15 8.5 14 8.9 14.2 10z" fill="#05f053"/>
<path d="M1037.6 1690.6l15.6-17.4 16.5-16.7 15.3-13.6 16.2-12.7 14.9-9.8 15.7-8.7 15.5-6.6 15.2-4.6 15-2.6 14.6-0.8 14.2 1.2 7 1.3 7.9 2 13.6 4.9 14.1 7.1 13.6 9 13.5 11-3.2-7.3-12.7-14.9-19.5-21.4-19.6-19.4-16.1-14.6-17.2-14-17.7-13-17.2-11.3-16.8-9.7-16.6-8.3-16.2-7-16.4-5.8-16.5-4.7-16.7-3.4-16.8-2.2-17-0.9-15.5 0.4-15.7 1.5-15.7 2.6-14.3 3.5-12.4 4.3-12.6 5.6-12.7 6.9-11.6 7.5-13.9 10.4-12.8 11-12.9 12.3-12.9 13.8-13.9 16.4-12.9 16.5-12.9 17.9-13.2 19.7 5.2 6.1 6.5 6 13.8-5.2 13.3-3.7 14.6-2.7 13.9-1.4 14.2-0.2 14.5 1 14.8 2.3 15.1 3.6 13.2 4.1 13.3 5 13.5 6.1 13.7 7 13.9 8.1 12.9 8.3 14.2 10.1z" fill="#06f03d"/>
<path d="M1037.6 1690.6l15.6-17.4 15.4-15.6 15.2-13.7 15.1-12 14.9-10.1 15.8-9 14.4-6.5 15.3-5 13.9-2.9 14.7-1.2 13.4 0.5 14 2.3 12.7 3.8 13.4 5.7 7.5 4.1 7.3 4.6 7.2 5.1 7.5 5.9-0.4-1.6-1.4-4.1-2.3-4.3-6.7-7.8-20.6-22.6-20.6-20.2-16.2-14.4-17.2-13.9-17-12.3-17.1-11.1-15.9-9.2-16.1-8-16.2-7-16.4-5.8-16.5-4.7-16-3.3-16-2.2-16.9-1-15.6 0.3-15.6 1.4-15.3 2.4-15.2 3.6-12.5 4.2-11.5 4.9-12.6 6.8-11.7 7.3-12.8 9.3-12.8 10.6-12.9 12-12.8 13.4-12.9 14.7-12.9 16.1-12.9 17.5-13 19 7 7.9 9.1 7.5 13.4-4.2 13.5-3 13.8-1.9 14.1-0.7 14.3 0.5 13.7 1.6 14.9 2.9 14.2 3.9 12.1 4.2 12.3 4.9 12.4 5.9 12.6 6.6 12.8 7.5 12.9 8.4 13 9.3z" fill="#07f028"/>
<path d="M1043.3 1684l14.6-15.8 14.2-13.9 14-12.4 15.1-11.7 13.7-9.1 14.7-8.3 13.3-6 14.2-4.9 12.9-3 13.8-1.6 12.4 0 13.1 1.5 13.9 3.4 14.4 5.5 14 7.5 13.9 9.6-0.9-4.3-1.5-4.1-2.4-4.4-6-6.8-19.6-20.8-20.5-19.8-16.5-14.3-16.8-13.2-16.4-11.6-16.4-10.4-16-9-16-7.8-16.3-6.8-14.9-5.1-15.6-4.3-16.1-3.3-16.8-2.2-15.4-0.9-15.6 0.3-14.8 1.3-15 2.3-15.3 3.5-12.4 4.1-11.6 4.8-11.5 6-11.7 7.2-12.7 9-12.9 10.5-12.8 11.7-11.8 12-12.9 14.4-11.8 14.4-12.9 17-12.7 18.1 4 4.9 4.9 4.7 5.7 4.8 6.8 4.7 12.1-3 12.7-2.2 13-1.2 12.2-0.1 13.4 0.8 12.7 1.7 12.8 2.7 13.1 3.6 11 3.7 11.1 4.5 11.3 5.1 11.4 5.8 11.6 6.5 11.6 7.2 11.8 8 11.5 8.4z" fill="#08f012"/>
<path d="M1049.1 1675.3l2 0.1 16.3-16.7 15.2-13.8 11.7-9.5 11.5-8.4 12.5-8 12.4-6.7 12.2-5.5 13.2-4.6 11.8-2.9 11.7-1.7 11.4-0.5 11.3 0.7 7 1 8 1.7 6.9 2 7.7 2.8 14.2 6.7 13.5 8.5-0.2-3.3-0.8-3.7-1.5-3.9-2.4-4.2-5.4-6.2-19.6-20.3-20.5-19.1-15.3-12.9-16.8-12.9-15.9-10.9-17-10.5-15.2-8.3-15.5-7.3-14.9-6.1-16.3-5.4-15-4-15.2-3-15.3-1.9-15.4-0.9-15.6 0.3-14 1.2-14.2 2.1-14.8 3.3-11.4 3.4-11.5 4.6-11.6 5.7-11.6 6.8-12.7 8.7-11.8 9.2-12.8 11.4-11.8 11.5-12.9 14-11.8 14-12.9 16.5-12.3 17 5 5.9 6.3 5.8 7.7 5.7 9.2 5.7 9.4-1.7 8.9-1.2 10-0.7 9.1 0 9.3 0.4 9.4 0.9 19.1 3.4 12 3.1 11 3.6 11.1 4.2 11.2 4.9 11.4 5.6 11.5 6.3 11.6 7 12.5 8.2z" fill="#15f108"/>
<path d="M1057.4 1666.5l2.1 0.1 12.6-12.3 12.9-11.4 11.6-9.3 12.6-8.9 11.4-7 11.2-6 11.1-4.9 11-3.9 12.9-3.4 12.8-1.9 12.5-0.5 13.2 1.1 12 2.3 12.7 4 11.4 5 11.8 6.7 0.2-4.5-1-5.1-2.8-6.2-3.6-4.7-19.5-19.9-20.6-18.8-16.2-13.4-15.5-11.6-16.6-11.3-16.3-9.8-15.8-8.3-14.9-6.9-14.8-5.8-15-4.9-15.1-3.8-14.5-2.8-14.9-1.9-14.9-0.8-15.6 0.3-14 1.2-14.2 2.1-14.2 3.1-11 3.3-11.5 4.4-11.5 5.6-10.6 6.1-12.7 8.5-11.7 9-11.8 10.1-11.8 11.3-12.9 13.6-11.8 13.6-11.8 14.8-11.7 15.8 5.9 6.9 8.4 7.1 10.6 7 12.4 6.6 14.3-1.2 14.3 0.1 14.6 1.3 13.8 2.3 19.5 5.1 19.9 7.2 20.4 9.5 19.9 11.2 31.3 3.2z" fill="#2df107"/>
<path d="M1068.5 1657.7l10.6-9.8 10.5-8.9 10.4-7.9 10.4-7.2 10.2-6.2 10.1-5.4 10-4.6 11-4.1 11.9-3.4 12.8-2.2 11.5-0.8 12.4 0.4 11 1.6 11.9 3 11.6 4.3 11.4 5.6 0.9-6-1-6.4-2.1-4.6-3.2-4.9-19.8-19.6-19.4-17.3-16.1-13-15.5-11.3-15.7-10.4-15.9-9.3-14.6-7.6-14.7-6.6-14.8-5.7-15-4.8-15.1-3.8-13.7-2.5-14.2-1.8-14.9-0.8-14 0.2-14.1 1.1-14.1 2-14.7 3.1-11 3.2-10.5 4-11.5 5.3-10.6 5.9-11.6 7.5-11.7 8.7-11.8 9.8-11.8 11-11.8 12.1-11.8 13.2-11.8 14.4-11 14.4 3.4 4.3 4.3 4.3 5.4 4.5 6.1 4.2 14.2 8.1 17.7 7.8 11.8 0.3 11.5 1.1 12.7 2 11.8 2.7 12 3.5 12.2 4.3 12.3 5.1 12.1 5.8 23 3.2 23.3 2.4 22.2 1.6z" fill="#45f206"/>
<path d="M1076 1648.6l2.3 0 10.2-8.6 9.2-7.2 9.2-6.6 10.3-6.5 16.9-9.1 7.7-3.4 8.8-3.3 10.9-3.1 11.7-2.4 10.6-1.1 11.3-0.1 11.2 1.1 11 2.2 10.7 3.3 10.4 4.3 1.5-3.9 0.6-3.7-0.1-3.7-0.9-4-2.4-5.1-3.4-4.8-18.1-17.3-18.9-16.4-15.4-12.1-15.6-11-15.4-9.9-14.8-8.5-14.6-7.4-14.8-6.4-14.1-5.3-14.2-4.4-14.3-3.5-14.5-2.6-13.8-1.6-13.8-0.8-13.8 0.2-13.9 1-13.5 1.9-13.7 2.8-11 3-10.4 3.8-11.5 5.2-10.5 5.7-11.7 7.3-10.6 7.6-11.8 9.5-10.7 9.7-11.8 11.6-10.7 11.7-11.9 13.8-11.1 14.1 5.1 6.1 7.4 6.5 8.6 5.9 10.8 5.9 12.6 5.8 13.6 5.3 14.4 4.7 16 4.6 17.8 4.3 18.4 3.8 18.9 3.2 19.2 2.7 20 2.2 20.8 1.6 19.8 1z" fill="#5df305"/>
<path d="M1086.8 1639.4l2.5-0.1 9.6-7.4 10.3-7.2 9.1-5.7 10.2-5.6 16.6-7.5 7.7-2.7 8.7-2.4 8.5-1.9 8.5-1.2 8.4-0.5 9.3 0.1 8.1 0.7 9 1.6 7.9 2 8.2 2.7 2.8-4.7 1.4-4.6 0.1-4.7-1.1-4.8-2.5-4.9-3.9-5.1-17-15.7-18.1-15.1-14.9-11.3-15-10.3-14.5-9.1-15.6-8.6-14.6-7.1-13.3-5.6-13.4-4.9-13.8-4.1-13.3-3.2-13.7-2.4-13.8-1.6-13.8-0.8-13.8 0.2-12.7 0.9-14.1 1.9-12.7 2.6-10.5 2.7-10.4 3.6-10.5 4.4-10.5 5.5-11.6 7-10.6 7.3-10.7 8.3-10.7 9.3-11.8 11.3-10.7 11.2-10.8 12.2-11.1 13.5 4.9 6.1 7 6.2 9 6 10.8 5.8 12.6 5.7 13.7 5.2 15.5 4.9 17.4 4.8 18.3 4.1 19 3.6 19.5 3.1 20 2.4 20.3 1.9 20.7 1.3 19.5 0.6z" fill="#75f404"/>
<path d="M1099.2 1629.7l2.9-0.1 16.2-10.6 16.9-8.9 13.2-5.4 14.1-4.2 13.9-2.5 14.6-0.9 14.3 1.1 13.3 2.6 4.1-4.4 2.8-4.8 1.3-4.9-0.3-5.2-2-5.4-3.5-5-2.6-3-10.3-9.3-12.6-10.6-12.8-10-14-10.1-13-8.6-21.7-12.6-22.1-10.6-11.7-4.8-10.4-3.7-10.6-3.2-11.9-3.1-15.2-3-15.8-2-16.5-0.8-15 0.3-16.2 1.6-15.7 2.6-14.3 3.5-13.5 4.7-12.6 5.7-12.6 7-12.8 8.4-12.7 9.8-12.9 11.1-12.9 12.4-12.8 13.9-11.9 13.9 4.7 6 6.9 6.1 9.5 6.3 10.9 5.7 12.8 5.6 14.8 5.4 15.9 4.8 17.9 4.5 18.8 4 19.6 3.4 20.3 2.9 20.9 2.2 21.4 1.6 21.2 0.9 19.7 0.2z" fill="#8cf504"/>
<path d="M1114.6 1619.4l3.4-0.2 12.7-6.9 13.3-6 8.8-3.1 9.7-2.7 10.7-2.1 10.6-1.1 10.3-0.1 10.6 0.9 4.5-3.1 3.4-2.9 2.8-3 2.1-3.2 1.4-3.4 0.7-3.4-0.2-3.4-0.9-3.4-2.5-4.9-3.9-4.8-16.8-14.5-11.5-9-12.4-9.1-12.8-8.6-11.9-7.4-21.2-11.4-20.8-9.3-20.9-7.4-21.1-5.4-15.2-2.7-15.3-1.6-15.5-0.5-14 0.5-15.7 1.6-14.7 2.5-13.7 3.4-12.4 4.3-12.6 5.6-11.6 6.3-12.7 8.1-11.7 8.7-11.8 9.8-11.8 11-11.8 12.1-12.4 14 4.8 6.2 7.4 6.4 9.6 6.2 11.8 5.9 14.1 5.7 15.4 5.2 16.5 4.7 18.7 4.3 19.7 3.8 20.6 3.2 21.5 2.5 21 1.7 21 1.1 22.8 0.4 19.6-0.3z" fill="#a4f603"/>
<path d="M1137.5 1607.4l6.1-0.9 10.3-3.6 9.7-2.7 8.6-1.6 8.9-1.1 10.3-4.2 7.9-4.3 4.3-3.2 3.2-2.9 2.6-3.4 1.8-3.5 0.8-3.4-0.1-3.6-0.9-3.5-1.9-3.9-3-4-4.2-4.1-12.2-9.9-11.2-8.5-21.4-14.7-21.1-12.4-19.5-9.7-20.7-8.4-19.5-6.1-19.7-4.5-13.7-2.1-13.8-1.2-13.9-0.3-14.1 0.6-14.1 1.5-14.7 2.5-13.7 3.4-11.4 3.9-11.5 4.9-11.6 6.1-11.6 7.3-10.7 7.5-11.7 9.4-10.7 9.6-11.8 11.5-11.7 12.6 2.3 3.4 3 3.4 7.5 6.3 10.4 6.4 12.9 6.1 15.5 5.9 17.1 5.2 18.6 4.7 19.9 4.1 21.2 3.4 22.4 2.8 21.8 1.9 23.5 1.2 22.5 0.3 23.1-0.6 21.4-1.4z" fill="#bcf702"/>
<path d="M1146.6 1596.1l16.8-3.8 13.5-4.2 11.3-5 8.2-5.5 3.1-2.9 2.3-2.9 1.5-3.1 0.8-3.2 0-3-0.7-3.2-1.5-3.4-2.3-3.2-4-4.3-5.9-4.8-22.6-16.6-20-12.7-18.9-10.4-19.1-8.8-19.3-7.3-19.5-5.6-18.2-3.7-12.8-1.7-13.3-0.9-14-0.2-12.8 0.7-13.6 1.6-13.3 2.3-12.6 3.1-11.4 3.8-11.6 4.8-10.5 5.5-10.6 6.3-10.6 7.3-10.6 8.2-10.7 9.1-10.8 10.1-10.5 10.8 2 3.3 2.8 3.4 7.6 6.4 10.3 6.2 13.7 6.4 15.7 5.7 17.5 5.1 20.1 4.7 20.7 3.9 22.1 3.2 21.9 2.3 23.3 1.6 24.2 0.7 22.3-0.2 20.7-1 20.8-2.1z" fill="#d4f801"/>
<path d="M1145.9 1586.1l14.8-3.6 11.9-4 9.9-4.7 7.2-5.1 2.7-2.9 1.8-2.6 1.2-2.9 0.5-2.9-0.2-2.8-0.8-3-1.6-3-2.4-3.1-3.9-3.9-5.7-4.5-21.3-14.8-18.7-11.4-19-9.9-17.6-7.7-17.9-6.4-18-5.1-17.6-3.4-12.9-1.7-12.3-0.8-12.4-0.2-12.5 0.6-12.8 1.3-13.4 2.2-13.2 3-10.3 3.2-10.5 4.1-10.5 5.1-10.5 5.9-9.6 6.2-10.6 7.7-9.6 7.8-10.7 9.6-10.1 9.7 1.9 3.4 2.4 3.1 3.2 3.1 4.1 3.2 9.9 6.1 12.9 5.9 15.5 5.6 17.5 5 19.1 4.4 20.6 3.8 20.8 2.9 22 2.3 23.2 1.4 23.1 0.6 21.5-0.4 21.7-1.3 19.8-2.1z" fill="#ecf901"/>
<path d="M1135.8 1577.8l14.1-3 12.5-3.8 9.9-4.2 7.4-4.6 2.7-2.4 2.3-2.7 1.6-2.8 0.8-2.7 0.1-2.7-0.5-2.9-1.3-2.9-1.8-2.7-3-3.3-4-3.4-19-13-18.1-10.8-18.6-9.6-17.7-7.6-16.4-5.8-16.5-4.7-16.7-3.4-12.2-1.7-12.3-1.1-12.4-0.3-12.4 0.4-12.5 1.1-12.6 1.8-12.7 2.6-11 3-10.4 3.8-9.4 4.1-9.5 5-9.5 5.6-10.6 7.2-9.6 7.3-9.6 8-10.2 9.3 1.2 2.7 2.1 3 3.1 3.3 3.4 2.9 9.2 5.8 11.8 5.6 14.3 5.3 16 4.7 18.6 4.4 18.9 3.5 20.2 3 21.4 2.2 23 1.5 20.4 0.6 20.6-0.2 20.3-1.1 18.7-1.8z" fill="#fff400"/>
<path d="M1132.2 1568.2l12.2-2.7 11.3-3.6 8.9-3.8 7.1-4.6 2.6-2.4 1.9-2.5 1.3-2.5 0.5-2.3 0-2.8-0.6-2.4-1.2-2.5-1.9-2.6-3.1-3.2-3.8-3.1-17.1-11-17.7-10-17.3-8.4-15.1-6.3-16.4-5.6-16.5-4.4-15.2-3-12.3-1.6-10.7-0.9-12.4-0.3-11.9 0.3-11.5 1-12.5 1.7-11.1 2.2-11.1 2.8-9.3 3.1-9.4 3.8-9.5 4.6-8.4 4.7-9.5 6-9.6 6.7-9.6 7.5-8.6 7.4 0.9 2.8 1.8 2.9 5.5 5.5 8.7 5.9 10.8 5.2 13.2 5 15.7 4.6 17.3 4.1 18.6 3.5 20 2.9 19.8 2 20.9 1.4 20.5 0.6 19.7-0.2 20.1-1.1 18.2-1.9z" fill="#ffd900"/>
<path d="M1121.4 1559.7l13.1-2.6 10.8-3.1 8.7-3.4 7.1-4.1 4.4-4.1 1.5-2.1 1-2.5 0.3-2.3-0.2-2.4-0.9-2.4-1.4-2.4-2.4-2.8-3.5-3.1-10-6.4-17.4-9.9-17.5-8.5-14.8-6.1-14.9-5.1-15-4.2-15.2-3.2-12.2-1.8-10.7-1-12.4-0.5-10.9 0.1-10.9 0.7-12.4 1.5-11.2 1.9-11 2.5-8.9 2.6-8.3 3-9.5 4-8.4 4.3-9.5 5.5-8.5 5.5-16.9 12.8 0.5 2.6 1.4 2.8 4.5 5.1 6.8 4.9 9.8 5.2 12 4.8 13.3 4.1 15.4 3.9 17.7 3.5 17.8 2.7 20.3 2.3 20.2 1.5 19.2 0.7 18.2 0 18.8-0.8 17.4-1.6z" fill="#ffbd00"/>
<path d="M1108.5 1551.3l13.1-2.3 10.8-2.6 9.5-3.2 7.2-3.6 5.1-3.9 2.9-4.1 0.7-2.2 0-2-0.5-2.3-1-2.1-3.9-4.7-6.5-4.7-16.2-8.9-16.2-7.7-13.3-5.5-14.7-5-13.7-3.9-13.6-3-10.7-1.8-10.7-1.2-10.8-0.7-10.8-0.2-10.9 0.4-10.6 0.8-10.8 1.5-10.6 1.9-9.5 2.3-8.3 2.4-8.3 3-8.4 3.6-8.4 4.1-8.5 4.8-8.4 5.4-9.4 6.6 0 2.4 0.6 2.2 1.2 2.3 2 2.5 5.4 4.6 8.1 4.6 10.2 4.5 12.3 4.1 13.6 3.7 15.7 3.4 16.8 2.8 17.8 2.2 17.3 1.5 18.1 1 17.2 0.2 18.2-0.4 15.3-1z" fill="#ffa200"/>
<path d="M1102.1 1541.6l11-1.9 9.8-2.3 8.7-2.9 6.7-3.2 4.7-3.4 2.7-3.8 0.6-1.8 0.1-2.1-1.3-3.9-3.6-4.1-6-4.4-11.7-6.1-13.2-6-13.4-5.3-13.4-4.5-13.5-3.7-12.1-2.6-19.9-2.9-20-1-20.3 0.8-20.4 2.8-19 4.4-8.3 2.7-8.3 3.3-10.5 4.9-9.5 5.3-7.8 4.8-0.5 1.7-0.1 2.2 0.5 2 2.7 4.4 5.3 4.4 7.5 4.3 9.6 4.1 10.8 3.5 12.6 3.4 14.6 3 15.6 2.6 15 1.8 17.1 1.5 16.2 0.8 16.8 0.2 15.9-0.4 14.9-1z" fill="#ff8600"/>
<path d="M1095.7 1531.6l9.9-1.7 8.4-2.1 6.9-2.3 6-2.9 4-3 2.3-3.1 0.6-3.3-1.1-3.5-3.3-3.8-5.3-3.7-6.4-3.4-13-5.5-11.9-4.5-12-3.8-12-3.2-12.2-2.5-18.3-2.6-18.5-1-18.7 0.6-18.8 2.2-20.6 4.3-15.5 5.2-9.5 4-8.8 4.5-1.6 2.2-0.9 2.3 0 1.7 0.5 2.1 2.5 3.8 4.8 3.8 6.5 3.7 8.3 3.5 10.8 3.5 11.8 3 12.6 2.5 14.4 2.3 13.7 1.6 14.1 1.1 16.1 0.8 15.2 0.1 13.5-0.4 12.9-0.9z" fill="#ff6b00"/>
<path d="M1084.3 1521.9l9-1.4 7.7-1.8 6.4-2 5.5-2.4 3.8-2.6 2.2-2.8 0.6-2.8-0.8-2.8-1.4-2-2.4-2.3-7.1-4.3-10.6-4.3-14.9-4.9-13.5-3.7-14.5-2.9-14.5-2-13.8-1-14-0.2-14 0.8-14.1 1.7-14.2 2.7-12.1 3.1-10.2 3.5-3.5 1.9-2.6 2-1.6 2-0.8 2.1 0.3 3.1 2.1 3.1 3.9 3.3 5.6 3.2 7.3 3 8.3 2.7 9.7 2.5 11.1 2.3 24.9 3.5 24.5 1.7 24.4 0 11.7-0.7z" fill="#ff4f00"/>
<path d="M1074.4 1511.3l13-2.5 5.4-1.7 4.3-1.8 3.1-2.1 1.8-2.1 0.6-2.2-0.6-2.4-2.8-3.2-5.6-3.4-7.7-3.3-9.6-2.8-12.8-3.1-12.3-2.3-12.9-1.7-12.3-0.8-12.8-0.2-13.6 0.7-12.6 1.4-12.2 2-8.1 2.1-6.1 2.5-4 2.9-1.2 1.6-0.4 1.3 0.3 2.7 1.9 2.5 3.2 2.6 4.7 2.5 6.4 2.6 6.9 2.1 17.2 3.8 19.9 2.7 20.8 1.3 21-0.2z" fill="#ff3400"/>
<path d="M1058.5 1500.1l10.5-1.8 7.2-2.5 2.4-1.4 1.4-1.5 0.6-1.7-0.3-1.5-2.1-2.4-3.6-2.3-5.4-2.2-6.7-2-7.9-1.8-9.3-1.5-19.6-1.6-19.3 0.1-8.1 0.7-7.5 1.1-5.9 1.4-4.4 1.7-3 1.9-1.4 2.3 0.2 1.8 1.2 1.7 2.4 1.9 2.9 1.6 8.8 3.2 12 2.7 14.4 2 14 0.9 13.6 0.1z" fill="#ff1800"/>
<path d="M1037.6 1690.6c-96.2-77.3-181.9-81.9-250.4-37.4M1037.6 1690.6c48-56.4 94.3-86.5 136.7-92.3c42.4-6 80.8 11.9 114.2 47.6M1044.8 1682.3c-96.3-78.2-182.3-83.6-251.2-39.8M1030.4 1684.9c48-56.8 94.4-87.4 136.8-93.7c42.5-6.5 81.1 11 114.8 46.4M1052 1674.5c-96.3-79.2-182.7-85.6-252-42.3M1023.3 1679.6c47.9-57.4 94.3-88.4 136.9-95.3c42.6-6.9 81.4 10.2 115.2 45.2M1059.1 1667c-96.3-80.2-183-87.4-252.7-44.8M1016.2 1674.5c47.9-57.8 94.3-89.4 137-96.7c42.7-7.5 81.6 9.2 115.7 43.8M1066.2 1659.9c-96.4-81.1-183.3-89.4-253.4-47.4M1009.1 1669.6c47.8-58.2 94.3-90.4 137-98.2c42.9-7.9 81.9 8.3 116.2 42.5M1073.3 1653.2c-96.4-82.1-183.6-91.3-254.1-50M1002.1 1665c47.7-58.7 94.2-91.3 137.1-99.6c42.9-8.5 82.1 7.2 116.6 41M1080.3 1646.9c-96.3-83.1-183.8-93.3-254.6-52.7M995.1 1660.7c47.7-59.2 94.2-92.4 137.1-101.2c43-8.9 82.4 6.3 117.1 39.7M1087.3 1640.9c-96.3-84-183.9-95.2-255.2-55.4M988.1 1656.6c47.6-59.6 94.1-93.3 137.2-102.6c43-9.5 82.6 5.2 117.4 38.2M1094.3 1635.4c-96.3-85-184.2-97.3-255.7-58.2M981.2 1652.8c47.6-60.1 94-94.3 137.1-104.1c43.2-10 82.9 4.2 117.9 36.8M1101.2 1630.2c-96.2-86-184.3-99.3-256.2-61M974.4 1649.2c47.4-60.5 93.9-95.3 137-105.6c43.2-10.5 83.1 3.2 118.3 35.3M1108.1 1625.5c-96.1-87-184.4-101.4-256.6-63.9M967.6 1645.9c47.3-61 93.8-96.3 137-107.1c43.2-11 83.2 2.2 118.6 33.8M1114.9 1621.1c-96-88-184.4-103.5-257-66.8M960.8 1642.8c47.2-61.4 93.7-97.2 136.9-108.6c43.3-11.5 83.4 1.1 119 32.4M1121.7 1617c-95.9-88.9-184.5-105.5-257.3-69.7M954.1 1640c47.1-61.9 93.5-98.2 136.8-110.1c43.4-12.1 83.6 .1 119.3 30.8M1128.5 1613.4c-95.8-90-184.5-107.7-257.7-72.7M947.4 1637.4c47-62.3 93.4-99.1 136.8-111.6c43.3-12.6 83.7-1 119.6 29.3M1135.2 1610.1c-95.7-90.9-184.5-109.7-258-75.7M940.7 1635.1c47-62.7 93.3-100.1 136.7-113.1c43-13 83-2.3 118.8 26.8M1141.8 1607.2c-95.4-91.9-184.4-111.9-258.1-78.8M934.2 1633c46.3-62.5 92.1-100.3 135.2-114.2c42.6-13.8 82.5-4.5 118.2 23.2M1148.4 1604.7c-95.3-92.9-184.3-114-258.3-81.9M927.6 1631.2c45.8-62.4 91.1-100.5 133.8-115.2c42.3-14.8 81.9-6.7 117.6 19.4M1155 1602.6c-95.1-93.9-184.3-116.2-258.5-85M921.1 1629.6c45.2-62.1 90-100.7 132.3-116.2c41.9-15.6 81.3-8.8 116.9 15.9M1161.5 1600.8c-94.9-94.9-184.1-118.3-258.6-88.2M914.7 1628.2c44.6-61.9 88.9-100.7 130.8-117.1c42-16.5 81.5-10.7 117.3 13M1167.9 1599.3c-94.7-95.7-183.9-120.4-258.6-91.3M908.3 1627.1c44-61.6 87.8-100.8 129.3-118c41.6-17.4 80.9-12.8 116.6 9.5M1174.3 1598.3c-94.5-96.8-183.7-122.6-258.7-94.5M902 1626.2c43.4-61.4 86.6-100.9 127.8-118.9c41.1-18.1 80.1-14.7 115.7 6.1M1180.6 1597.5c-94.2-97.6-183.5-124.7-258.6-97.6M895.7 1625.5c42.8-61.1 85.5-100.9 126.2-119.6c40.8-18.9 79.5-16.8 115 2.6M1186.9 1597.2c-94-98.6-183.3-126.9-258.6-100.9M889.5 1625.1c42.2-60.8 84.3-100.9 124.7-120.4c39.9-19.3 77.9-18.7 112.9-1.3M1193.1 1597.2c-93.7-99.6-183-129.1-258.5-104.1M883.3 1624.9c41.6-60.5 83.2-100.8 123.1-121c39.5-20.1 77.2-20.6 112-4.7M1199.2 1597.5c-93.4-100.4-182.6-131.2-258.3-107.4M877.2 1624.9c41-60.2 82.1-100.7 121.5-121.6c39.1-20.8 76.5-22.4 111.1-7.9M1205.3 1598.2c-93.1-101.4-182.3-133.3-258.1-110.6M871.2 1625.1c40.3-59.8 80.9-100.6 119.9-122.2c38.6-21.4 75.7-24.1 110.1-11M1211.3 1599.2c-92.8-102.3-181.9-135.5-257.8-113.9M865.2 1625.5c39.7-59.4 79.7-100.4 118.3-122.6c38.1-22.1 74.9-25.9 109.1-14.1M1217.3 1600.5c-92.5-103.1-181.6-137.5-257.6-117.1M859.2 1626.2c38.7-58.4 77.7-99.3 115.4-122.3c37.7-23.1 74.2-28.4 108.2-18.3M1223.2 1602.2c-90.3-101.9-177.6-138.3-252.7-121.5M853.3 1627.1c76.3-116.8 153.5-162.1 220.9-143.9M1229 1604.2c-86.3-98.5-170.1-137.2-243.1-126.3M847.5 1628.2c75.1-116 151.2-162.6 218.1-147.1M1234.8 1606.5c-81.9-94.5-161.7-135.3-232.2-130.3M841.7 1629.4c73.5-114.4 148.1-162.4 214.2-150.2M1240.5 1609.1c-77.4-90.4-153.2-132.8-221-133.4M836 1630.9c72.2-113.6 145.8-162.8 211.3-153.1M1246.1 1612c-73-86.2-144.7-129.8-209.7-135.4M830.4 1632.6c70.5-112 142.6-162.4 207.2-155.9M1251.6 1615.2c-68.1-81.4-135.3-125.7-197-136.2M824.8 1634.5c68.9-110.4 139.5-162 203.1-158.5M1257.1 1618.8c-63.3-76.6-126-121.2-184.2-135.9M819.2 1636.6c67.8-109.4 137.3-162 200.3-160.9M1262.5 1622.6c-58.1-71.1-115.8-115.2-169.9-133.8M813.7 1638.9c66.2-107.8 134.1-161.3 196.1-163.1M1267.9 1626.7c-53-65.5-105.7-108.7-155.7-130.3M808.3 1641.4c64.5-106.1 130.9-160.5 191.9-165.1M1273.1 1631.1c-47.4-59.3-94.6-100.7-139.9-124.6M803 1644.1c62.9-104.4 127.7-159.6 187.7-166.8M1278.3 1635.8c-41.9-53-83.7-92-124.1-117.2M797.7 1646.9c61.3-102.6 124.6-158.4 183.4-168.2M1283.5 1640.7c-36-46-72-81.7-107.1-107.1M792.4 1650c60.2-101.6 122.4-158.1 180.5-169.8M1288.5 1645.9c-29.7-38.3-59.4-69.7-88.6-94.1M787.2 1653.2c58.2-99.1 118.4-155.9 175-170.5" fill="none" stroke="#000" stroke-width="0.92" stroke-opacity="0.82"/>
<path d="M1037.6 1690.6l8.4-9.6 8.3-9.1 8.4-8.5 8.2-8 8.2-7.5 8.2-7 8.1-6.4 9.2-6.7 8-5.3 8-4.8 7.9-4.3 8.9-4.3 7.7-3.2 8.8-3 7.6-2.1 8.5-1.9 7.5-1 8.3-0.7 7.3 0 8.2 0.5 7 0.9 8 1.7 7.9 2.2 7.7 2.8 6.7 2.9 7.5 3.8 7.4 4.4 7.2 4.9 7.2 5.4 7 5.9 6.9 6.5 6.7 6.8-16.4-20.4-16.3-19.1-16.3-17.6-8.7-8.8-8.7-8.4-7.5-7-8.7-7.6-9.2-7.8-8.4-6.7-9.8-7.4-8.5-6.1-8.6-5.8-8.6-5.5-8.6-5.1-8.2-4.6-9.3-4.8-8-3.9-8.1-3.6-8.9-3.6-8.9-3.3-9-2.9-9-2.5-8.2-2.1-8.4-1.7-9.2-1.5-9.2-1.2-9.2-0.8-8.9-0.4-8.1 0-8.8 0.3-8.3 0.7-7.9 0.9-7.8 1.1-7.9 1.5-8.4 1.9-6.9 1.9-6.2 2-7.3 2.8-6.3 2.8-7.4 3.6-6.3 3.4-7.4 4.5-6.4 4.2-6.3 4.5-6.4 4.9-7.5 6.1-6.4 5.6-7.5 7-6.5 6.3-7.5 7.9-6.4 7.1-7.6 8.7-6.4 7.8-7.5 9.5-6.5 8.6-13.9 19.7-13.9 21.2-12.8 21 7-4.3 7-3.9 7.1-3.6 7.3-3.3 7.3-2.9 7.5-2.6 7.5-2.2 6.7-1.6 7.8-1.6 7.8-1.1 8-0.8 7-0.4 8.1 0 7.2 0.2 8.4 0.7 7.3 1 8.5 1.4 7.5 1.6 8.7 2.3 7.6 2.3 8.9 3 7.8 3.1 7.8 3.3 8 3.7 9.1 4.7 8 4.4 8.2 4.8 8.1 5.1 8.2 5.5 8.3 5.8 8.3 6.2z" fill="none" stroke="#000" stroke-width="1.0" stroke-opacity="0.88"/>
<g fill="#000"><circle cx="776.0" cy="1494.2" r="1.9"/><circle cx="779.0" cy="1537.4" r="1.9"/><circle cx="782.1" cy="1580.6" r="1.9"/><circle cx="785.2" cy="1623.8" r="1.9"/><circle cx="788.2" cy="1667.0" r="1.9"/><circle cx="792.1" cy="1721.0" r="1.9"/><circle cx="853.4" cy="1740.8" r="1.9"/><circle cx="914.8" cy="1760.6" r="1.9"/><circle cx="976.2" cy="1780.4" r="1.9"/><circle cx="1037.6" cy="1800.1" r="1.9"/><circle cx="1099.0" cy="1780.4" r="1.9"/><circle cx="1160.4" cy="1760.6" r="1.9"/><circle cx="1221.8" cy="1740.8" r="1.9"/><circle cx="1283.2" cy="1721.0" r="1.9"/></g>
<g font-family="'Liberation Sans',Arial,sans-serif" font-size="10.98" fill="#1a1a22"><text transform="translate(769.2 1505.1) scale(1.028 1)" text-anchor="end">78</text><text transform="translate(772.2 1548.3) scale(1.028 1)" text-anchor="end">71.25</text><text transform="translate(775.3 1591.5) scale(1.028 1)" text-anchor="end">64.5</text><text transform="translate(778.4 1634.7) scale(1.028 1)" text-anchor="end">57.75</text><text transform="translate(781.4 1677.9) scale(1.028 1)" text-anchor="end">51</text><text transform="translate(785.2 1731.7) scale(1.028 1)" text-anchor="end">1.00</text><text transform="translate(846.5 1751.5) scale(1.028 1)" text-anchor="end">0.50</text><text transform="translate(907.9 1771.3) scale(1.028 1)" text-anchor="end">0.00</text><text transform="translate(969.3 1791.0) scale(1.028 1)" text-anchor="end">-0.50</text><text transform="translate(1030.7 1810.8) scale(1.028 1)" text-anchor="end">-1.00</text><text transform="translate(1044.9 1810.8) scale(1.028 1)">-1.00</text><text transform="translate(1106.3 1791.0) scale(1.028 1)">-0.50</text><text transform="translate(1167.7 1771.3) scale(1.028 1)">0.00</text><text transform="translate(1229.1 1751.5) scale(1.028 1)">0.50</text><text transform="translate(1290.5 1731.7) scale(1.028 1)">1.00</text></g>
<g font-family="'Liberation Sans',Arial,sans-serif" font-size="16.88" fill="#111"><text transform="translate(804.0 1798.3) scale(1.028 1)">D: D</text><text transform="translate(1237.1 1798.3) scale(1.028 1)">B: B</text></g>
<text transform="translate(705.9 1621.0) scale(0.964 1)" font-family="'Liberation Serif','Times New Roman',serif" font-weight="bold" font-size="18.93" fill="#000">Y2</text>
<ellipse cx="787.7" cy="1660.3" rx="5.0" ry="3.0" fill="#ffc6c8" stroke="#a04848" stroke-width="0.9"/><path d="M787.7 1658.8v3.0" stroke="#b05050" stroke-width="0.9"/>
<ellipse cx="1288.2" cy="1650.0" rx="5.0" ry="3.0" fill="#ffc6c8" stroke="#a04848" stroke-width="0.9"/><path d="M1288.2 1648.5v3.0" stroke="#b05050" stroke-width="0.9"/>
<path d="M1037.6 1670.6L1037.6 1690.6" stroke="#222" stroke-width="0.9"/>
<ellipse cx="1037.6" cy="1670.6" rx="4.8" ry="3.1" fill="#f80d0d" stroke="#8c1010" stroke-width="0.9"/>
<path d="M1037.6 1495.2L1037.6 1504.1" stroke="#222" stroke-width="0.9"/>
<ellipse cx="1037.6" cy="1495.2" rx="4.8" ry="3.1" fill="#f80d0d" stroke="#8c1010" stroke-width="0.9"/>
</g>
<g>
<path d="M1471.1 1732.1l246.3 82.7 246.3-82.7-246.3-65.1z" fill="#ffff1c" stroke="#111" stroke-width="1"/>
<path d="M1595.4 1699.3l-7.7 3.1-7.3 4-5.2 3.9-4 4.2-1.5 2.3-1.2 2.5-0.8 2.6-0.3 2.4 0.1 2.5 0.4 2.4 0.9 2.6 1.1 2.4 1.6 2.5 2.1 2.6 4.6 4.6 6.7 4.9 7.4 4.3 8.5 4 9.6 3.8 10.9 3.4 12.3 3.2 11.7 2.4 13 2 12.1 1.3 13.6 0.9 12.3 0.3 14.4-0.4 10.7-0.9 11.7-1.4 10.3-1.9 10.8-2.7 7.7-2.6 8-3.5 6.5-3.8 5.2-4.2 2-2.2 1.8-2.3 1.3-2.4 0.9-2.5 0.6-2.9 0-2.9-0.6-3.2-1.1-2.9-1.7-3.2-2.3-3-2.7-2.9-3.1-2.7-3.3-2.6-4.7-3-9.4-5.1-10.8-4.6-13.5-4.5-13.7-3.5-15.4-2.9-15.5-2.1-15.5-1.2-15.7-0.4-14.2 0.3-15 1.3-13.5 2.1" fill="none" stroke="#ff9a08" stroke-width="1.35"/>
<path d="M1637.8 1788.1l16.8 2.5 15.3 1.6 16.8 1.1 15.8 0.4 15.5-0.3 17.1-1 15.2-1.7 13.4-2.1 13.9-3 12.1-3.5 10.5-3.9 9-4.3 7.6-4.7 3.6-2.8 2.6-2.3 2.7-2.8 2.4-3.1 1.6-2.6 1.4-3 0.8-2.9 0.6-3.1 0-3.1-0.4-3.3-0.7-2.9-1.2-2.9-1.7-3.3-2.2-3.2-2.4-3-2.7-2.9-3.1-2.9-4-3.2-9-6.1-9.4-5.2-11.4-5.2-12.4-4.8-13.5-4.3-14.7-3.9-16-3.4-15.7-2.6-16.6-2.1-15.6-1.3M1526.9 1717.4l-0.8 2.6-0.5 2.5-0.1 2.5 0.1 2.8 1.2 5.1 2.4 5.2 3.6 5.3 5 5.3 6.4 5.4 7.4 5.1" fill="none" stroke="#ffe42c" stroke-width="1.35"/>
<path d="M1861.9 1766.3l2-3.3 1.6-3.3 1.1-3.6 0.7-4.1 0.1-3.6-0.4-3.6-0.9-3.8-1.4-3.8-2.2-4.1-2.2-3.4-3-3.8-3.3-3.6-3.7-3.4-4.3-3.6-5.2-3.9-4.7-3.1-5.9-3.5-6.2-3.4-13.4-6.3-14.5-5.7-15.8-5.3-17-4.7-16.9-3.8-18.1-3.4-19.9-2.8M1701 1809.4l17.5 0 16.7-0.6M1493 1726.3l0.3 4 0.8 3.3 1.2 3.6 1.8 3.7" fill="none" stroke="#dcff2c" stroke-width="1.35"/>
<path d="M1897.4 1754.4l-0.2-3.2-0.5-3.4-1.8-6.2-3.2-6.4-4.3-6.3-5.9-6.5-7.3-6.6-7.8-5.8-9.5-6.1" fill="none" stroke="#9cff20" stroke-width="1.35"/>
<path d="M1921.9 1746.1l-1.6-4-2-3.9-2.6-4.1-3.1-4.1-3.5-4.1-3.6-3.8-4.7-4.2-4.2-3.5" fill="none" stroke="#54f02a" stroke-width="1.35"/>
<path d="M1471.1 1732.1l-16.2-237.3 262.5-42 262.4 42-16.1 237.3M1717.4 1452.8l0 214.2" fill="none" stroke="#2a2a2a" stroke-width="1.1"/>

<path d="M1717.4 1648.4l15.7-12.4 16.8-11.3 16.6-9.4 16.3-7.4 16-5.5 15.8-3.6 15.4-1.8 15.1 0.1 14.8 1.8 15.5 3.8 14 5.2 14.7 7.4 14.3 9.2 13.8 10.8 14.2 13.4 13.4 14.5-15.8-17.9-16-17.2-16.2-16.3-16.5-15.5-16.4-14.3-15.5-12.6-17.1-12.7-15.7-10.7-15.8-9.8-16.8-9.3-17-8.3-16.1-6.8-15.1-5.5-16.7-5.1-16.7-3.9-16.6-2.9-17.5-1.8-17-0.6-15.9 0.4-17.2 1.7-16.2 2.6-16 3.6-16.1 4.8-17.3 6.3-13.2 6-13.3 7.3-13.3 8.6-12.3 9-13.5 11-13.5 12.3-13.5 13.7-12.4 13.6 14.3-7.2 14.8-5.9 15.2-4.4 14.6-2.9 16-1.5 15.3-0.1 15.7 1.3 16 2.8 16.3 4.2 16.7 5.8 16.9 7.3 16.1 8.2 17.5 10.3 16.6 11.1 16.8 12.5zM1959.8 1663.2l7.9 9.7-22.7-25.7z" fill="#00f0ea"/>
<path d="M1717.4 1648.4l15.7-12.4 16.8-11.3 16.6-9.4 16.3-7.4 16-5.5 15.8-3.6 15.4-1.8 15.1 0.1 14.8 1.8 15.5 3.8 14 5.2 14.7 7.4 14.3 9.2 13.8 10.8 14.2 13.4 13.4 14.5-15.8-17.9-16-17.2-16.2-16.3-16.5-15.5-16.4-14.3-15.5-12.6-17.1-12.7-15.7-10.7-15.8-9.8-16.8-9.3-17-8.3-16.1-6.8-15.1-5.5-16.7-5.1-16.7-3.9-16.6-2.9-17.5-1.8-17-0.6-15.9 0.4-17.2 1.7-16.2 2.6-16 3.6-16.1 4.8-17.3 6.3-13.2 6-13.3 7.3-13.3 8.6-12.3 9-13.5 11-13.5 12.3-13.5 13.7-12.4 13.6 14.3-7.2 14.8-5.9 15.2-4.4 14.6-2.9 16-1.5 15.3-0.1 15.7 1.3 16 2.8 16.3 4.2 16.7 5.8 16.9 7.3 16.1 8.2 17.5 10.3 16.6 11.1 16.8 12.5zM1959.8 1663.2l3.9 4.7-18.7-20.7z" fill="#01f0d1"/>
<path d="M1717.4 1648.4l15.7-12.4 16.8-11.3 16.6-9.4 16.3-7.4 16-5.5 15.8-3.6 15.4-1.8 15.1 0.1 14.8 1.8 15.5 3.8 14 5.2 14.7 7.4 14.3 9.2 13.8 10.8 13.4 12.5 13.9 15.1-15.5-17.6-16-17.2-16.2-16.3-16.5-15.5-16.4-14.3-15.5-12.6-17.1-12.7-15.7-10.7-15.8-9.8-16.8-9.3-17-8.3-16.1-6.8-15.1-5.5-16.7-5.1-16.7-3.9-16.6-2.9-17.5-1.8-17-0.6-15.9 0.4-17.2 1.7-16.2 2.6-16 3.6-16.1 4.8-17.3 6.3-13.2 6-13.3 7.3-13.3 8.6-12.3 9-13.5 11-13.5 12.3-13.5 13.7-12.4 13.6 14.3-7.2 14.8-5.9 15.2-4.4 14.6-2.9 16-1.5 15.3-0.1 15.7 1.3 16 2.8 16.3 4.2 16.7 5.8 16.9 7.3 16.1 8.2 17.5 10.3 16.6 11.1 16.8 12.5zM1957.2 1660.3l0.8 0.9-13-14z" fill="#02f0b9"/>
<path d="M1717.4 1648.4l15.7-12.4 15.6-10.6 15.4-8.9 16.4-7.6 14.9-5.5 15.8-4 15.5-2.1 15.2-0.4 14.9 1.4 14.5 3.2 14.2 4.8 14.7 6.9 14.4 8.7 13.9 10.4 13.5 12 13.1 13.6-14-15.8-16.6-17.6-15.7-15.6-16.5-15.3-16.7-14.4-15.3-12.2-17.1-12.5-15.7-10.5-15.9-9.6-16-8.7-16.2-7.8-16.4-6.8-16.5-5.9-16.3-4.7-16.7-3.8-15.8-2.5-16.7-1.7-15.9-0.5-17.4 0.5-15.8 1.6-16.9 2.8-16.7 3.9-16.5 5-16.3 6.1-13.2 6.1-13.3 7.4-13.4 8.7-12.3 9-13.4 11.2-12.4 11.3-13.5 13.7-12.4 13.6 14.3-7.2 14.8-5.9 15.2-4.4 14.6-2.9 16-1.5 15.3-0.1 15.7 1.3 16 2.8 16.3 4.2 16.7 5.8 16.9 7.3 16.1 8.2 17.5 10.3 16.6 11.1 16.8 12.5zM1945.6 1647.8l0.7 0.9-1.1-1.3z" fill="#03f0a0"/>
<path d="M1717.4 1648.4l15.7-12.4 15.6-10.6 15.4-8.9 15.2-7.2 15-5.5 15.8-4.2 14.4-2.1 15.3-0.6 14.9 1.1 14.5 2.9 14.3 4.6 13.8 6.2 13.5 7.7 14.1 9.9 12.7 10.8 13 12.8-12.4-14-17.6-18.3-16.3-16-16.5-15-15.7-13.2-16.5-12.9-15.5-11.2-15.8-10.3-15.9-9.4-16.5-8.8-15.8-7.4-16.4-6.6-15.2-5.2-16.4-4.6-16.8-3.7-15.3-2.4-17.1-1.5-16.2-0.4-16.8 0.7-16.1 1.7-17.2 3-16.1 3.9-16.2 5-15.9 6-13.2 6.3-12.2 6.8-13.4 8.7-12.3 9-13.4 11.2-12.4 11.3-13.5 13.7-12.4 13.6 14.3-7.2 14.8-5.9 15.2-4.4 14.6-2.9 16-1.5 15.3-0.1 15.7 1.3 16 2.8 16.3 4.2 16.7 5.8 16.9 7.3 16.1 8.2 17.5 10.3 16.6 11.1 16.8 12.5z" fill="#04f088"/>
<path d="M1717.4 1648.4l14.5-11.5 15.6-10.7 15.5-9 15.2-7.4 14.9-5.6 14.8-4.1 14.4-2.4 14.2-0.9 13.9 0.7 14.7 2.4 13.3 3.8 14 5.6 13.6 7.2 13.3 8.7 13.8 10.9 12.7 11.9-6.7-8.1-19.9-20.8-16.4-15.9-17-15.4-16.3-13.5-15.4-12-17.2-12.1-15.7-10.1-16-9.3-16.3-8.5-16.1-7.3-16.4-6.4-16.6-5.4-15.2-4.1-16.6-3.4-15.4-2.2-16.9-1.3-15.8-0.2-15.7 0.8-16.9 1.9-16.6 3.1-16 4-16.2 5.1-15.2 5.9-13.2 6.3-12.2 7-13.4 8.7-12.3 9.2-13.5 11.3-12.3 11.4-12.4 12.6-12.4 13.6 14.3-7.2 14.8-5.9 15.2-4.4 14.6-2.9 16-1.5 15.3-0.1 15.7 1.3 16 2.8 16.3 4.2 16.7 5.8 16.9 7.3 16.1 8.2 17.5 10.3 16.6 11.1 16.8 12.5z" fill="#04f070"/>
<path d="M1717.4 1648.4l14.5-11.5 15.6-10.7 14.3-8.4 15.2-7.5 13.8-5.4 14.8-4.3 14.5-2.6 14.3-1.1 13.9 0.4 13.7 2 13.4 3.4 14 5.2 12.8 6.3 13.3 8.3 13 9.8 12.2 10.7-6-7.9-17.4-17.8-17.5-16.9-17.5-15.5-15.9-13.1-15.4-11.7-17.2-12-15.8-10-16-9-16.1-8.2-15.1-6.7-16-6.2-16-5.2-15.7-4-16.9-3.4-15.3-2-17.2-1.3-15.6 0-15.7 0.8-15.8 1.9-15.9 3-16 4-16.2 5.1-15.2 5.9-13.2 6.3-12.2 7-13.4 8.7-12.3 9.2-13.5 11.3-12.3 11.4-12.4 12.6-12.4 13.6 14.3-7.2 14.8-5.9 15.2-4.4 14.6-2.9 16-1.5 15.3-0.1 15.7 1.3 16 2.8 16.3 4.2 16.7 5.8 16.9 7.3 16.1 8.2 17.5 10.3 16.6 11.1 16.8 12.5z" fill="#05f057"/>
<path d="M1717.4 1648.4l14.5-11.5 14.5-9.9 14.2-8.6 14.1-7 13.8-5.7 14.8-4.5 13.5-2.8 14.3-1.4 13 0 13.7 1.5 13.5 3 13.2 4.4 12.8 5.8 12.6 7.1 13.1 9.1 12.3 10.2-2.7-4.3-3.1-4-11.8-12.2-19.4-18.5-18.1-16-16.8-13.7-15.5-11.6-17.3-11.8-15.8-9.8-16-8.9-16-7.9-15-6.4-16.3-6.1-15.6-4.9-16.2-4-15.2-2.9-15.5-1.9-15.9-1.1-16.7 0-15.7 1-15.8 2-16 3.1-16 4.1-16.2 5.3-14.5 5.7-13.2 6.4-12.2 7.1-12.3 8-12.3 9.2-13.5 11.3-12.3 11.4-12.4 12.6-12.4 13.6 14.3-7.2 14.8-5.9 15.2-4.4 14.6-2.9 16-1.5 15.3-0.1 15.7 1.3 16 2.8 16.3 4.2 16.7 5.8 16.9 7.3 16.1 8.2 17.5 10.3 16.6 11.1 16.8 12.5z" fill="#06f03f"/>
<path d="M1717.4 1648.4l13.3-10.6 14.5-10.1 14.2-8.6 14.1-7.2 13.9-5.8 13.7-4.3 13.5-3 13.2-1.6 13-0.3 13.9 1.1 12.5 2.4 13.2 4 12 4.9 12.7 6.6 12.3 7.9 12.2 9.4-3.9-6.6-5.6-6.6-20.5-19.7-20.9-18.5-16.6-13.4-16.5-12.2-16.5-11.2-17.5-10.6-16-8.7-15.8-7.6-15.1-6.4-16.6-6-16.6-4.9-15.1-3.5-15.3-2.7-14.8-1.7-15.8-0.9-15.9 0.2-15.7 1.1-15.8 2.1-16 3.2-15.9 4.2-16.3 5.4-13.8 5.6-13.2 6.5-12.2 7.1-12.3 8.2-12.3 9.3-12.4 10.4-12.3 11.4-12.4 12.6-12.4 13.6 14.3-7.2 14.8-5.9 15.2-4.4 14.6-2.9 16-1.5 15.3-0.1 15.7 1.3 16 2.8 16.3 4.2 16.7 5.8 16.9 7.3 16.1 8.2 17.5 10.3 16.6 11.1 16.8 12.5z" fill="#07f026"/>
<path d="M1717.4 1648.4l13.3-10.6 13.3-9.3 13.1-8.1 14.1-7.4 12.7-5.5 13.8-4.8 13.5-3.3 13.3-1.9 13.1-0.7 12.8 0.7 12.6 2 12.4 3.2 12.1 4.4 12.7 6.1 11.6 6.8 11.7 8.3-3.8-7.3-6-7.3-18.4-17.4-18.1-15.8-16.9-13.5-17.1-12.5-17.3-11.5-17.5-10.4-16.1-8.6-14.6-6.8-15.8-6.6-15.4-5.4-16.3-4.7-15.5-3.6-15.3-2.5-15.8-1.7-15.7-0.7-15.5 0.3-15.2 1.2-15.9 2.2-15.9 3.3-14.3 3.8-16.2 5.4-13.8 5.6-13.2 6.5-12.2 7.1-12.3 8.2-12.3 9.3-12.4 10.4-12.3 11.4-12.4 12.6-12.4 13.6 14.3-7.2 14.8-5.9 15.2-4.4 14.6-2.9 16-1.5 15.3-0.1 15.7 1.3 16 2.8 16.3 4.2 16.7 5.8 16.9 7.3 16.1 8.2 17.5 10.3 16.6 11.1 16.8 12.5z" fill="#08f00e"/>
<path d="M1717.4 1648.4l13.3-10.6 13.3-9.3 13.1-8.1 12.9-6.8 12.8-5.7 12.6-4.5 12.5-3.3 13.3-2.3 12.1-0.9 12.9 0.2 11.6 1.4 12.5 2.7 12.2 3.9 11.9 5.1 11.6 6.3 10.9 7-1.3-4-1.9-3.7-2.6-3.8-3.2-3.8-14.1-13.2-16.6-14.5-16.9-13.5-18-13.1-18-11.9-17.5-10.3-14.9-7.9-15.8-7.4-16.4-6.6-15.2-5.2-16.4-4.6-15.1-3.4-15.9-2.5-16.1-1.6-15.7-0.5-15.5 0.4-15.1 1.3-14.8 2.3-14.5 3-16.1 4.4-16.2 5.5-13.1 5.4-12.1 6-12.2 7.1-12.3 8.2-12.3 9.3-12.4 10.4-12.3 11.4-12.4 12.6-12.4 13.6 14.3-7.2 14.8-5.9 15.2-4.4 14.6-2.9 16-1.5 15.3-0.1 15.7 1.3 16 2.8 16.3 4.2 16.7 5.8 16.9 7.3 16.1 8.2 17.5 10.3 16.6 11.1 16.8 12.5z" fill="#1cf107"/>
<path d="M1717.4 1648.4l12.1-9.7 13.3-9.4 11.9-7.5 13-7.1 11.6-5.4 12.7-4.8 12.5-3.6 12.3-2.5 11-1.2 12-0.3 11.7 0.7 11.5 1.9 10.3 2.5 11.2 3.9 12.8 5.8 12.5 7-0.2-1-1-3.9-1.7-3.8-2.3-3.8-3.1-3.9-9.2-8.7-16.7-14.4-18.4-14.5-17.1-12.4-18.9-12.2-17.6-10.2-14.7-7.6-16.1-7.3-16.4-6.4-14.9-4.9-16.7-4.6-15.2-3.1-15.3-2.3-16-1.3-15.6-0.4-15 0.5-15.5 1.6-14.4 2.2-14.8 3.3-15.5 4.3-16.2 5.7-12.4 5.2-12.1 6.1-12.2 7.2-12.3 8.3-12.3 9.4-12.4 10.5-12.4 11.5-12.3 12.7-11.3 12.4 14.3-7.2 14.8-5.9 15.2-4.4 14.6-2.9 16-1.5 15.3-0.1 15.7 1.3 16 2.8 16.3 4.2 16.7 5.8 16.9 7.3 16.1 8.2 17.5 10.3 16.6 11.1 16.8 12.5z" fill="#37f206"/>
<path d="M1717.4 1648.4l10.9-8.7 12.1-8.8 11.9-7.7 11.8-6.7 10.6-5.1 11.5-4.8 11.5-3.9 11.3-2.8 10-1.8 9.9-1 9.8-0.3 10.7 0.6 13.6 2.1 13.4 3.5 13 4.9 12.5 6.2-0.4-5-1.1-3.5-1.7-3.7-2.5-3.7-3-3.5-11.5-10.3-16.3-13.4-17.5-13.2-17.3-11.8-17.4-10.7-17.6-9.6-15.8-7.6-14.9-6.3-15.1-5.5-15-4.6-15.1-3.7-15.2-2.9-15.3-1.9-15.5-1.1-15.6 0-13.9 0.7-14.4 1.6-14.8 2.5-14.4 3.3-14.9 4.3-15.3 5.4-12.6 5.4-12.1 6.2-12.3 7.4-12.2 8.3-11.2 8.6-12.4 10.5-12.4 11.5-12.3 12.7-11.3 12.4 14.3-7.2 14.8-5.9 15.2-4.4 14.6-2.9 16-1.5 15.3-0.1 15.7 1.3 16 2.8 16.3 4.2 16.7 5.8 16.9 7.3 16.1 8.2 17.5 10.3 16.6 11.1 16.8 12.5z" fill="#52f306"/>
<path d="M1717.4 1648.4l9.7-7.8 10.9-8 10.7-7.2 10.7-6.3 10.6-5.5 10.5-4.7 10.3-4 10.3-3.1 11.2-2.6 12.2-1.7 12-0.7 11.8 0.5 11.6 1.6 11.4 2.6 11.2 3.6 10.7 4.5 0.5-4.7-0.7-4.5-1.2-3.3-1.8-3.4-2.6-3.6-3.2-3.4-12.1-10.3-16.5-12.9-16.5-11.9-16.4-10.6-17.5-10.2-16.1-8.4-14.6-6.7-14.8-5.9-14.9-5.1-14.6-4.2-14-3.2-15.1-2.7-14.8-1.7-14.3-0.8-13.9 0-13.9 0.7-14.4 1.6-14.8 2.5-14.4 3.3-14.1 4.1-15.2 5.3-12.4 5.2-12.1 6.1-11.1 6.5-12.3 8.2-11.2 8.4-12.3 10.3-11.3 10.3-11.2 11.1-11.4 12.3 0.5 2.2 14.9-6.9 15.9-5.6 15.4-3.8 15.7-2.3 15.2-0.8 14.4 0.5 14.8 1.7 15 3 16.4 4.6 15.6 5.7 15.9 7.1 16.1 8.4 16.4 9.8 16.6 11.2 16.8 12.6z" fill="#6ef405"/>
<path d="M1716.2 1647.3l2.5 0 10.8-8.6 9.7-6.9 9.5-6.4 10.7-6.3 16.4-8.2 17.3-6.7 11.4-3.3 11.2-2.3 11-1.3 12-0.5 10.7 0.6 11.6 1.7 11.3 2.7 10.9 3.6 1.2-3.3 0.6-3.4-0.1-3.6-0.8-3.3-3.1-6.2-5.7-6.5-11.9-9.7-15.5-11.6-15.7-10.7-15.8-9.9-16-9-16.1-8.1-14.7-6.4-13.5-5.2-14.5-4.8-13.5-3.7-14.6-3.3-13.7-2.3-14.1-1.5-13.7-0.8-13.9 0-13.9 0.7-14.1 1.5-14.1 2.4-14.2 3.2-13 3.6-13.9 4.7-12.7 5.1-11 5.3-11.1 6.1-11.1 7.1-11.2 7.9-11.2 8.9-11.2 9.7-11.3 10.6-10.6 10.9 0.7 3.1 1.1 3.1 16.3-6.5 17.2-4.8 16.6-2.8 17.2-1.1 13.4 0.3 12.5 1.3 13.9 2.4 13 3.2 15.5 4.9 14.6 5.8 14.8 6.9 15 8.2 15.3 9.3 14.2 9.7 15.6 11.6z" fill="#89f504"/>
<path d="M1730.1 1636.4l2.7-0.1 10-7 9.5-6.1 9.5-5.4 9.4-4.8 16.2-6.9 17.1-5.2 7.8-1.7 8.9-1.4 8.8-0.8 8.7-0.2 7.5 0.3 8.5 0.9 8.3 1.5 8.4 2 2.8-4.2 1.6-4.4 0.2-4.7-0.9-4.3-3.3-6-5.4-5.9-10.8-8.5-14-10.1-15.7-10.4-15.5-9.3-15.4-8.3-15.2-7.3-13.5-5.8-13.2-4.9-13.3-4.2-13.3-3.7-13.5-2.9-13.6-2.2-13.7-1.5-13.7-0.8-13.9 0-13.3 0.6-12.9 1.4-14.1 2.2-14.2 3.1-12.4 3.4-12.7 4.1-13 5-11 5-9.9 5.3-11.2 6.7-10 6.7-11.2 8.4-10.1 8.3-10.1 9.1-10.5 10.1 1.1 5.2 2.6 5.1 13-4.4 12.5-3.1 13.7-2.3 13.1-1.1 13.3 0 13.5 1 13.8 2 14.1 3.2 14.3 4.3 13.3 4.9 13.6 6 13.8 6.9 14 8 14.1 9 14.3 10 13.5 10.4z" fill="#a4f603"/>
<path d="M1746.9 1624.8l3.3-0.3 15.1-8.6 15.2-7 11.5-4.4 12.5-3.6 13.4-2.6 13.2-1.3 13 0 12.3 1.3 5.7-5.3 2.1-3 1.4-2.9 0.9-2.9 0.2-3-0.4-2.8-0.9-2.8-3.3-5.6-5.3-5.5-8.9-6.7-14.1-9.7-14.2-9-14.4-8.3-14.5-7.6-14.6-6.8-13.1-5.3-12.7-4.6-12.1-3.8-13.6-3.6-13.3-2.8-11.9-1.9-13.1-1.5-13.2-0.8-13-0.1-12.8 0.6-12.6 1.1-13.4 2-12.4 2.5-13 3.3-13.8 4.2-12.6 4.6-9.5 4-9.9 4.8-10 5.6-10 6.3-10 7.1-10.1 7.7-10.1 8.5-9.8 8.8 0.2 3.7 1.1 3.6 2 3.8 3 3.8 12.4-3.3 12.7-2.3 12.9-1.3 13.3-0.3 13.5 0.7 13.7 1.8 14 3 13.1 3.6 11.1 3.8 10.1 4 11.4 5.1 10.3 5.2 22.1 12.8 21.7 14.8 30 0.2z" fill="#bff702"/>
<path d="M1770.7 1611.6l5-0.7 14-5.6 13.6-4.1 14.6-2.9 15.3-1.4 5.9-2.8 5-2.9 4.2-3 3.7-3.5 2.5-3.2 1.6-3.4 0.6-3.5-0.2-3.7-1.1-3.3-2.1-3.5-2.5-3.1-3.5-3.3-4.3-3.4-23.4-15.2-12.3-7.1-12.3-6.6-18.9-9-19.7-7.8-19.9-6.4-18.5-4.6-15.2-2.7-15.3-1.9-14.4-0.9-15 0-15.7 0.8-14 1.7-14.2 2.4-14.2 3.3-14.3 4.2-14.4 5.1-11.3 4.7-12.1 6-12.2 7.1-12.3 8.2-12.3 9.3-11.7 9.8-0.1 4.9 1.7 5 3.4 4.9 5.3 5 9.8-1.8 9.9-1.2 10.1-0.7 9.2 0 10.4 0.5 9.4 1.1 10.7 1.7 9.7 2.2 10.9 2.9 10 3.3 20.2 8.2 20.7 10.4 21.4 13 25.3 0.9 26-0.1 24-1.2z" fill="#daf801"/>
<path d="M1784 1598.2l16.7-3.5 14.2-4 11.6-4.5 9.5-5.3 3.8-3 2.7-2.7 2-2.8 1.2-3 0.6-3-0.3-3.2-1-2.9-1.8-3.3-3-3.6-4.2-3.6-13-8.6-19.4-11.3-21-10.5-17.9-7.7-18.2-6.5-18.4-5.2-17.4-3.8-14.7-2.3-13.7-1.3-13.8-0.6-13.6 0.2-14.2 0.9-13.4 1.6-13.1 2.3-13.6 3.2-14.1 4.1-13.4 4.6-12 4.9-11 5.3-14.4 8.3-13.4 9-12.7 9.7-0.7 2.5-0.1 2.8 0.4 2.8 1.3 3 1.9 3 5.8 5.8 8.4 5.8 14.9-1 15.5 0.4 15.8 1.8 15 3 16.4 4.6 15.6 5.7 15.9 7.1 16.4 8.5 34.6 2 34.7 0.1 17.4-0.8 16.1-1.2 15.9-1.8z" fill="#f5fa00"/>
<path d="M1776 1587.8l16.1-3.2 13.3-3.7 10.7-4.1 9-4.8 3.4-2.5 2.8-2.7 2-2.7 1.2-2.6 0.6-2.8-0.2-2.8-0.8-2.8-1.5-2.9-2.4-3-2.8-2.6-7.9-5.6-20.7-11.7-21.1-10.1-18-7.4-16.5-5.6-16.7-4.7-16.9-3.5-12.5-1.9-13.5-1.4-13.1-0.7-13 0.1-12.7 0.6-12.9 1.4-14.1 2.2-12.4 2.7-14.2 3.8-14 4.6-12.8 4.9-11 5.1-15.5 8.7-15.6 10.3-1.7 1.7-1.4 3.9-0.1 3.4 0.9 3.2 1.9 3.4 3.1 3.5 3.6 3.1 4.9 3.4 12.4 6.4 6.2 2.5 18.6 1.8 19.3 3.8 16.5 4.9 16.8 6.4 19.4 2.3 19 1.6 21.2 1.1 20.5 0.4 19.9-0.4 19-1 16.7-1.6z" fill="#ffe700"/>
<path d="M1774.6 1576l13.6-3 11.3-3.5 9.1-3.8 7-4.1 4.7-4.5 1.6-2.4 0.9-2.5 0.3-2.5-0.3-2.4-1-2.6-1.5-2.4-5.1-5.1-7.4-5-18.9-9.9-19.3-8.6-16.4-6.3-15-4.7-16.4-4.2-15.6-3.1-11.9-1.7-13.3-1.2-12.5-0.5-12.1 0.1-12.2 0.7-12.3 1.3-12 1.9-12.1 2.4-13.1 3.4-12.9 4-14.1 5.2-11 4.8-11 5.7-11.3 6.7-2.7 3.6-1.4 3.8-0.1 2.7 0.7 2.7 1.5 2.9 2.3 2.9 3.4 3.1 3.7 2.6 9.9 5.5 12.6 5 14.2 4.5 16.7 4.1 19.4 3.7 19.6 2.8 20.8 2.1 21.9 1.4 21.8 0.5 19.9-0.3 20.7-1.2 19.1-2z" fill="#ffc800"/>
<path d="M1760 1566.3l12.6-2.4 11.3-2.9 9.9-3.6 7.1-3.6 5.6-4.3 2.9-4.3 0.6-2.4 0-2.2-0.6-2.2-1.1-2.2-4.5-5-6.8-4.7-14.2-7.1-15-6.4-14.7-5.6-14.9-4.7-15.1-3.9-15.1-3.1-12-1.8-12-1.2-22.4-0.7-11.8 0.4-10.9 0.9-11.6 1.4-12.3 2.2-13.2 3-13 3.6-13.9 4.7-12.7 5.1-11.1 5.3-2.8 2-4 4.1-1.1 2-0.7 2.2-0.1 2.3 0.5 2.3 1.2 2.6 1.9 2.4 6 5.1 8.4 4.7 10.7 4.5 12.8 4.1 15.2 3.9 16.4 3.2 17.4 2.6 18.3 2 19.3 1.4 19.4 0.7 18.6 0 17.8-0.8 17-1.4z" fill="#ffa900"/>
<path d="M1757.9 1554l9.7-2.1 9.2-2.8 7.4-3.1 5.6-3.3 3.8-3.6 1.8-3.6-0.1-3.8-1.8-3.6-4.5-4.5-6.3-4-9.9-4.6-13.8-5.5-14.2-4.8-13.3-3.9-13.5-3.2-13.5-2.5-20.9-2.4-22-0.7-21.9 1.2-21.9 3.1-12.4 2.7-11.9 3.1-11.7 3.7-11.6 4.2-5.9 3-4.3 3.1-2.8 3.3-1.2 3.3 0 2.3 0.7 2.3 1.5 2.3 2 2.2 5.6 4.3 8.3 4.3 10.4 4 12.5 3.7 13.7 3.1 15.7 2.9 16.7 2.2 17.6 1.6 17.9 1 17.7 0.3 17-0.4 16.2-1 15.3-1.6z" fill="#ff8a00"/>
<path d="M1737.4 1544.4l10.6-1.8 9.4-2.2 7.8-2.6 6-2.7 4.5-3.1 2.7-3.3 0.8-3.2-1-3.5-1.7-2.3-2.8-2.6-3.6-2.4-4.6-2.4-12.3-4.9-16.7-5.2-16.8-4.2-15.2-2.9-15.5-1.9-17-1.1-17.1 0.1-16 1.1-16.5 2.2-17 3.5-15.7 4.3-8.7 3.4-3.8 2.1-2.8 2.3-1.9 2.3-1 2.4 0.3 3.5 2.5 3.8 4.3 3.6 6.7 3.7 7.7 3.2 10 3.1 10.8 2.7 12.5 2.5 14.2 2.1 13.3 1.5 15.1 1.1 14.2 0.6 14.2 0 14.1-0.4 13.7-1z" fill="#ff6a00"/>
<path d="M1730.6 1531.6l8.2-1.6 6.6-1.8 5.3-2 4.2-2.2 2.9-2.4 1.7-2.6 0.2-2.5-1-2.6-4-3.8-6.5-3.7-9.2-3.4-11.6-3.2-13.9-3.1-14.1-2.3-13.7-1.5-15.2-0.9-14.1 0.1-14.2 0.9-14.9 1.7-14.1 2.6-9.6 2.5-7.1 3-4.6 3.4-1.3 1.7-0.6 1.8 0.5 3.1 2.1 2.8 3.7 2.9 5.7 3 7.2 2.8 8.6 2.5 10.2 2.4 10.6 1.8 23.3 2.7 25.7 1 23.5-0.8z" fill="#ff4b00"/>
<path d="M1708.4 1519.6l11.7-2.1 8.9-2.9 2.8-1.6 2.1-2.1 0.6-1.9-0.4-1.9-2.3-2.6-4.2-2.6-6-2.4-8.3-2.4-8.8-1.8-10.4-1.6-10.8-1-11.8-0.6-11.6-0.1-10.2 0.5-9.7 0.9-7.9 1.2-7.4 1.9-5.5 2.1-3.3 2.3-1.5 2.6 0.2 2.1 1.5 2 2.4 1.9 3.5 1.9 10.4 3.6 13.3 2.9 14.5 1.9 16.9 1.1 17-0.1z" fill="#ff2c00"/>
<path d="M1717.4 1648.4c-97.9-84.2-185.3-95.2-255.8-55.5M1717.4 1648.4c46.8-39.1 91.5-55 132.2-51c40.8 4 77.7 27.7 110.1 65.7M1960.7 1664.3c2.4 2.8 4.7 5.7 7 8.6M1724.7 1642.5c-97.9-84.8-185.5-96.4-256.4-57.2M1710.1 1642.2c46.4-38.9 90.6-55.2 131.1-51.9c40.5 3.3 77.3 25.9 109.8 62.8M1956.1 1659c1.7 2 3.3 4.1 5 6.2M1731.9 1636.9c-97.8-85.3-185.6-97.5-256.8-58.8M1702.8 1636.3c92-78.1 174.7-64.8 239.5 7.1M1951.5 1654c1 1.2 2 2.4 3 3.7M1739.2 1631.8c-97.8-86-185.9-98.8-257.3-60.6M1695.6 1630.7c91-77.8 173.2-66.3 237.9 3.2M1746.4 1627c-97.7-86.5-186-100.1-257.8-62.4M1688.4 1625.4c90-77.5 171.6-67.8 236.4-.7M1753.5 1622.5c-97.6-87-186.1-101.3-258.1-64.2M1681.2 1620.3c89-77.2 170-69.2 234.8-4.4M1760.6 1618.4c-97.5-87.6-186.1-102.6-258.5-66.1M1674.1 1615.4c87.9-76.8 168.4-70.4 233-8.1M1767.7 1614.7c-97.5-88.2-186.2-103.9-258.8-68M1667 1610.8c86.9-76.4 166.7-71.7 231.3-11.8M1774.7 1611.4c-97.4-88.8-186.2-105.3-259.1-70M1660 1606.5c85.3-75.6 164.1-73.1 228.4-16.4M1781.6 1608.4c-97.2-89.4-186.1-106.6-259.3-72M1653 1602.4c84.3-75.2 162.4-74.3 226.5-19.9M1788.5 1605.7c-97-89.9-186.1-107.9-259.5-73.9M1646.1 1598.6c83.2-74.8 160.6-75.5 224.5-23.5M1795.4 1603.4c-96.9-90.5-186.1-109.3-259.7-76M1639.2 1595.1c82.1-74.5 158.8-76.7 222.5-27M1802.2 1601.5c-96.8-91.1-186-110.7-259.9-78.1M1632.3 1591.8c80.6-73.6 156.1-77.7 219.4-31.2M1809 1599.9c-96.6-91.7-185.9-112.1-260-80.2M1625.5 1588.7c79.5-73.2 154.3-78.7 217.2-34.5M1815.7 1598.6c-96.5-92.3-185.8-113.4-260.1-82.3M1618.7 1585.9c78-72.3 151.6-79.6 214-38.5M1822.3 1597.7c-96.2-92.8-185.6-114.8-260.1-84.4M1612 1583.3c76.9-71.8 149.7-80.5 211.7-41.7M1828.9 1597.1c-96-93.4-185.4-116.2-260.1-86.6M1605.3 1581c75.3-70.9 146.9-81.3 208.3-45.4M1835.4 1596.8c-92.9-91.1-179.8-116.2-253.2-91.1M1598.7 1578.9c74.2-70.4 144.9-82.1 206-48.4M1841.9 1596.9c-89.3-88.3-173.4-115.6-245.1-95.7M1592.2 1577.1c72.5-69.5 142-82.7 202.4-51.9M1848.3 1597.3c-86.2-85.9-167.7-115.1-238-99.4M1585.7 1575.5c71.4-69 140-83.4 200-54.7M1854.7 1598c-82.7-83-161.2-114-229.7-102.9M1579.2 1574.1c69.9-67.9 137.2-83.8 196.3-57.9M1861 1599.1c-79.2-80.2-154.6-112.7-221.1-105.9M1572.8 1573c68.3-67 134.3-84.1 192.6-61M1867.2 1600.4c-75.1-76.7-147.1-110.5-211.2-108.3M1566.4 1572.1c66.7-65.9 131.4-84.4 188.9-63.9M1873.3 1602c-71.5-73.7-140.4-108.5-202.4-109.9M1560.1 1571.4c65.6-65.3 129.3-84.7 186.3-66.2M1879.4 1604c-67.6-70.2-132.8-105.7-192.2-111M1553.9 1571c64-64.3 126.3-84.8 182.4-68.9M1885.5 1606.3c-63.7-66.7-125.3-102.6-182-111.3M1547.7 1570.8c62.4-63.2 123.4-84.8 178.5-71.3M1891.4 1608.8c-59.6-63-117.7-99.1-171.5-110.8M1541.5 1570.8c60.9-62.1 120.4-84.7 174.6-73.6M1897.3 1611.7c-55.7-59.4-110.1-95.3-161-109.6M1535.5 1571c59.2-61 117.4-84.5 170.5-75.6M1903.2 1614.8c-51.4-55.2-101.7-90.4-149.2-107.1M1529.4 1571.5c57.7-59.9 114.5-84.2 166.6-77.6M1908.9 1618.2c-47-50.9-93.2-85.2-137.2-103.6M1523.5 1572.1c55.6-58.2 110.5-83.3 161.2-79.3M1914.6 1621.9c-42.7-46.7-84.8-79.6-125.1-99.3M1517.5 1573c54.2-57 107.5-82.8 157.2-80.8M1920.2 1625.8c-38-41.8-75.4-72.7-111.7-93.2M1511.7 1574.1c52.5-55.9 104.5-82.2 153-82.1M1925.8 1630.1c-33.7-37.5-67.1-66.4-99.6-86.9M1505.9 1575.4c50.5-54.2 100.6-81 147.6-83.2M1931.3 1634.6c-28.6-32.1-57-57.9-84.8-77.7M1500.1 1576.9c49-52.9 97.6-80.2 143.5-84.1M1936.7 1639.3c-24-27.1-47.8-49.8-71.2-68.2M1494.5 1578.6c46.9-51.2 93.6-78.8 137.9-84.6M1942 1644.3c-18.4-21-36.8-39.5-55-55.4M1488.8 1580.5c45.5-49.9 90.7-77.7 133.7-85M1947.3 1649.6c-13.4-15.5-26.8-29.6-40.2-42.3M1483.3 1582.6c43.4-48.1 86.7-76 128.2-85M1952.5 1655c-8-9.3-16-18.1-24-26.4M1477.8 1584.9c41.9-46.8 83.7-74.8 123.9-85M1957.6 1660.8c-2.2-2.6-4.4-5.2-6.6-7.7M1472.3 1587.4c40-45 79.9-72.9 118.4-84.4M1962.7 1666.7c-2.6-3.1-5.3-6.2-7.9-9.2M1466.9 1590c38-43.1 76-70.7 112.8-83.5M1967.7 1672.9c-7.5-8.9-14.9-17.3-22.4-25.4M1461.6 1592.9c36-41.3 72.1-68.6 107.2-82.4" fill="none" stroke="#000" stroke-width="0.92" stroke-opacity="0.82"/>
<path d="M1717.4 1648.4l7.3-5.9 8.4-6.5 8.5-5.9 8.3-5.4 8.3-4.9 8.3-4.5 8.2-3.9 8.1-3.5 8-3 8-2.5 7.9-2 7.9-1.6 7.7-1.1 7.7-0.7 7.6-0.2 7.5 0.3 7.5 0.6 7.3 1.2 7.3 1.5 8.2 2.3 7.1 2.4 6.9 2.8 6.9 3.3 7.8 4.1 6.7 4.1 7.6 5.1 6.5 4.8 7.3 6 7.2 6.5 7 6.9 7 7.3 6.4 7.2-15.8-17.9-16-17.2-16.2-16.3-16.5-15.5-16.4-14.3-15.5-12.6-17.1-12.7-15.7-10.7-15.8-9.8-16.8-9.3-8.9-4.5-8.1-3.8-16.1-6.8-15.1-5.5-8.3-2.6-8.4-2.5-8.3-2.1-8.4-1.8-8.4-1.6-8.2-1.3-8.9-1-8.6-0.8-8.6-0.5-8.4-0.1-7.8 0.1-8.1 0.3-8.7 0.7-8.5 1-7.4 1-8.8 1.6-8.2 1.7-7.8 1.9-8.8 2.5-7.3 2.3-9 3.1-8.3 3.2-6.6 2.9-6.6 3.1-6.6 3.5-6.7 3.8-6.7 4.2-6.6 4.4-12.3 9-6.8 5.3-6.7 5.7-13.5 12.3-13.5 13.7-12.4 13.6 7.1-3.8 7.2-3.4 7.4-3.1 7.4-2.8 7.5-2.4 7.7-2 7.7-1.7 6.9-1.2 7.9-0.9 8.1-0.6 8.1-0.2 7.2 0.1 8.3 0.5 7.4 0.8 8.5 1.3 7.5 1.5 8.7 2.1 7.6 2.1 8.9 2.9 7.8 2.9 9 3.7 7.9 3.6 8 3.9 8.1 4.3 9.3 5.3 8.2 5 8.3 5.4 8.3 5.7 8.4 6.1 8.4 6.4 8.4 6.8zM1959.8 1663.2l7.9 9.7-11-12.7-11.7-13 7.6 8z" fill="none" stroke="#000" stroke-width="1.0" stroke-opacity="0.88"/>
<g fill="#000"><circle cx="1454.9" cy="1494.8" r="1.9"/><circle cx="1458.0" cy="1540.0" r="1.9"/><circle cx="1461.1" cy="1585.2" r="1.9"/><circle cx="1464.1" cy="1630.4" r="1.9"/><circle cx="1467.2" cy="1675.6" r="1.9"/><circle cx="1471.1" cy="1732.1" r="1.9"/><circle cx="1532.6" cy="1752.8" r="1.9"/><circle cx="1594.2" cy="1773.5" r="1.9"/><circle cx="1655.8" cy="1794.2" r="1.9"/><circle cx="1717.4" cy="1814.8" r="1.9"/><circle cx="1778.9" cy="1794.2" r="1.9"/><circle cx="1840.5" cy="1773.5" r="1.9"/><circle cx="1902.1" cy="1752.8" r="1.9"/><circle cx="1963.7" cy="1732.1" r="1.9"/></g>
<g font-family="'Liberation Sans',Arial,sans-serif" font-size="11.49" fill="#1a1a22"><text transform="translate(1448.1 1506.3) scale(0.985 1)" text-anchor="end">78</text><text transform="translate(1451.2 1551.4) scale(0.985 1)" text-anchor="end">70.75</text><text transform="translate(1454.3 1596.6) scale(0.985 1)" text-anchor="end">63.5</text><text transform="translate(1457.3 1641.8) scale(0.985 1)" text-anchor="end">56.25</text><text transform="translate(1460.4 1687.0) scale(0.985 1)" text-anchor="end">49</text><text transform="translate(1464.2 1743.3) scale(0.985 1)" text-anchor="end">1.00</text><text transform="translate(1525.7 1764.0) scale(0.985 1)" text-anchor="end">0.50</text><text transform="translate(1587.3 1784.6) scale(0.985 1)" text-anchor="end">0.00</text><text transform="translate(1648.9 1805.3) scale(0.985 1)" text-anchor="end">-0.50</text><text transform="translate(1710.5 1826.0) scale(0.985 1)" text-anchor="end">-1.00</text><text transform="translate(1724.7 1826.0) scale(0.985 1)">-1.00</text><text transform="translate(1786.2 1805.3) scale(0.985 1)">-0.50</text><text transform="translate(1847.8 1784.6) scale(0.985 1)">0.00</text><text transform="translate(1909.4 1764.0) scale(0.985 1)">0.50</text><text transform="translate(1971.0 1743.3) scale(0.985 1)">1.00</text></g>
<g font-family="'Liberation Sans',Arial,sans-serif" font-size="17.66" fill="#111"><text transform="translate(1482.8 1812.7) scale(0.985 1)">D: D</text><text transform="translate(1917.6 1812.7) scale(0.985 1)">C: C</text></g>
<text transform="translate(1386.4 1623.4) scale(0.925 1)" font-family="'Liberation Serif','Times New Roman',serif" font-weight="bold" font-size="19.8" fill="#000">Y2</text>
<ellipse cx="1461.5" cy="1591.6" rx="4.8" ry="3.3" fill="#f80d0d" stroke="#8c1010" stroke-width="0.9"/>
<ellipse cx="1967.5" cy="1675.4" rx="5.0" ry="3.1" fill="#ffc6c8" stroke="#a04848" stroke-width="0.9"/><path d="M1967.5 1673.9v3.1" stroke="#b05050" stroke-width="0.9"/>
<path d="M1717.4 1653.5L1717.4 1648.4" stroke="#222" stroke-width="0.9"/>
<ellipse cx="1717.4" cy="1653.5" rx="5.0" ry="3.1" fill="#ffc6c8" stroke="#a04848" stroke-width="0.9"/><path d="M1717.4 1652.0v3.1" stroke="#b05050" stroke-width="0.9"/>
<path d="M1717.4 1495.9L1717.4 1504.5" stroke="#222" stroke-width="0.9"/>
<ellipse cx="1717.4" cy="1495.9" rx="4.8" ry="3.3" fill="#f80d0d" stroke="#8c1010" stroke-width="0.9"/>
</g>
<g font-family="'Liberation Serif','Times New Roman',serif" font-weight="bold" font-size="55.5" fill="#000"><text x="2.5" y="990.6">(a)</text><text x="3.2" y="1906.6" font-size="56.5">(b)</text></g>
<clipPath id="wm"><rect x="1130" y="452" width="160" height="18.6"/></clipPath><text x="1143.6" y="472.3" clip-path="url(#wm)" font-family="'Liberation Sans',Arial,sans-serif" font-size="16" fill="#c9c9c9">Activate Windows</text>
</svg>
</body></html>
